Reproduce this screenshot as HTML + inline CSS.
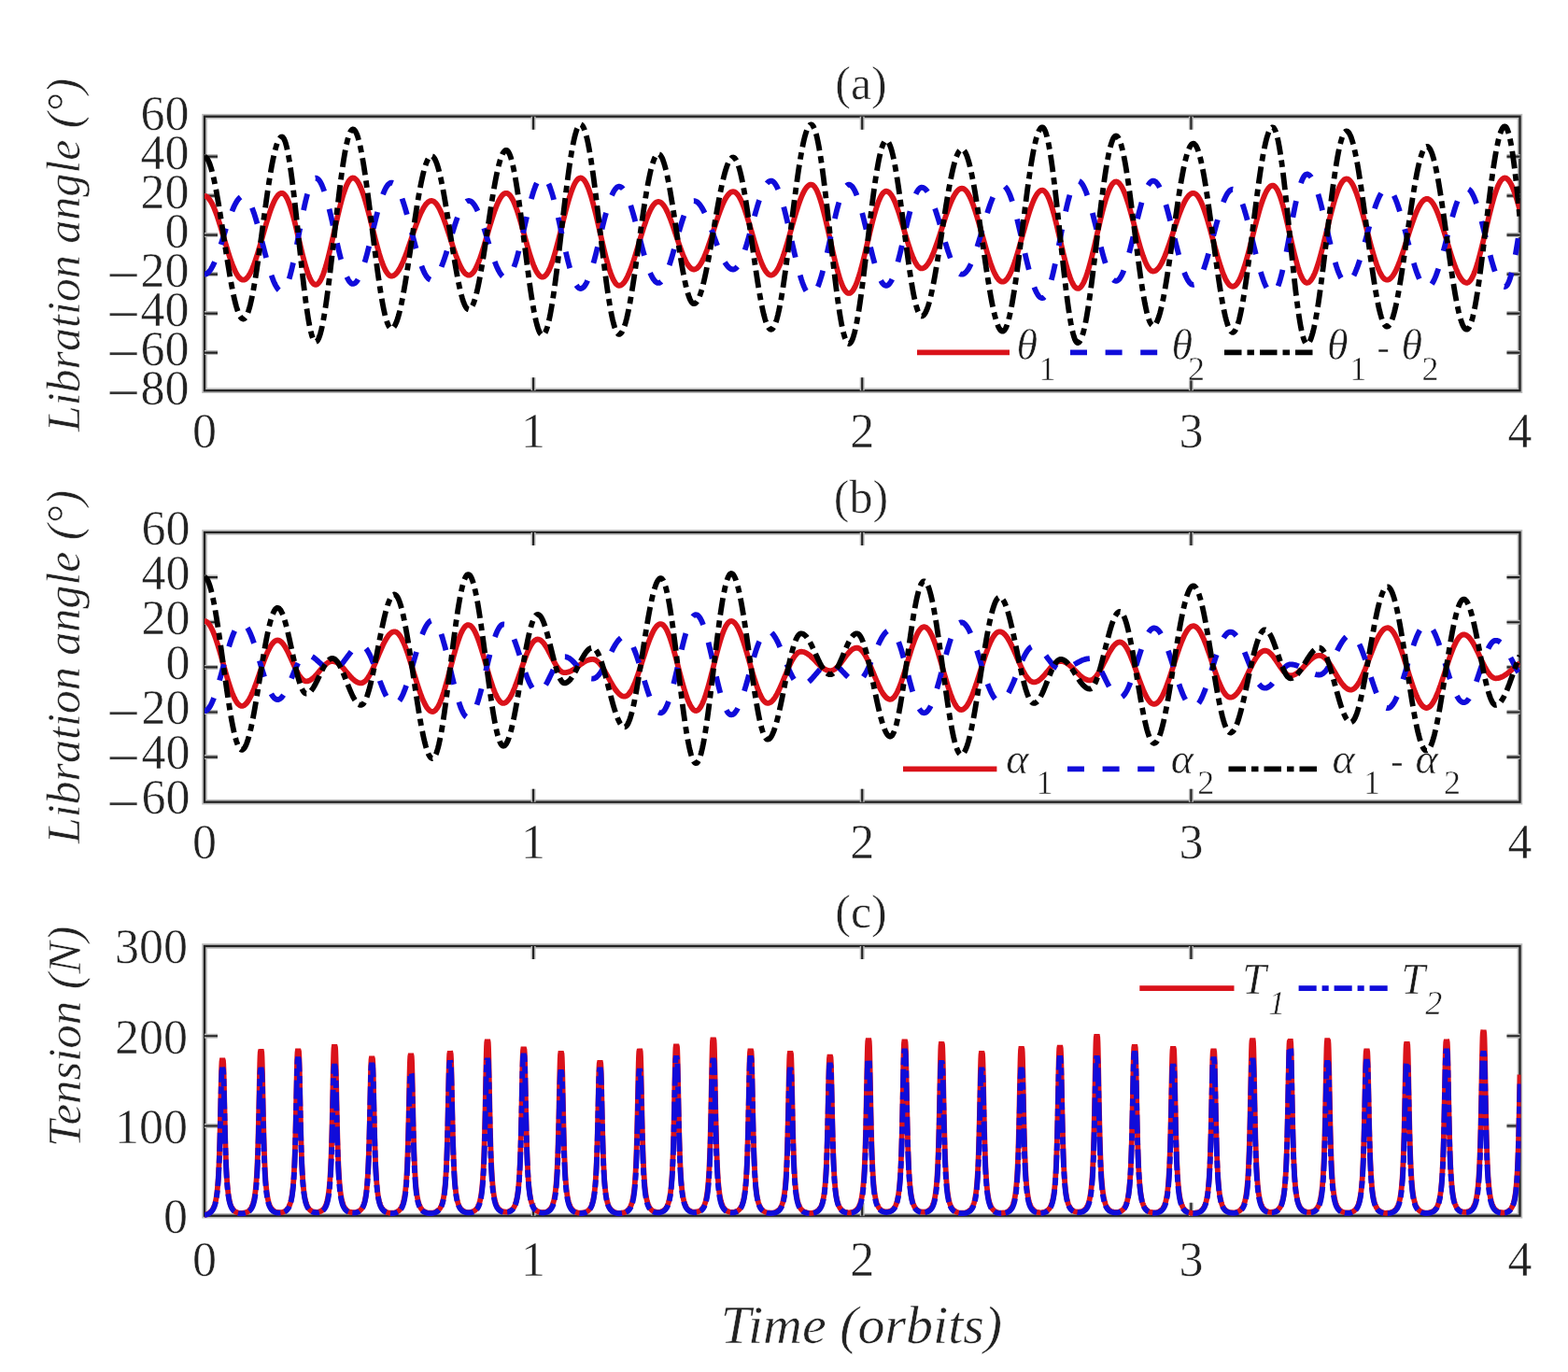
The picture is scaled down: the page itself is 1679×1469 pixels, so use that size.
<!DOCTYPE html>
<html><head><meta charset="utf-8"><title>Libration and tension</title>
<style>html,body{margin:0;padding:0;background:#fff;}svg{display:block;}</style>
</head><body>
<svg width="1679" height="1469" viewBox="0 0 1679 1469">
<rect width="1679" height="1469" fill="#fff"/>
<rect x="219.0" y="124.7" width="1408.5" height="293.5" fill="none" stroke="#bcbcbc" stroke-width="5.6"/>
<rect x="219.0" y="124.7" width="1408.5" height="293.5" fill="none" stroke="#222" stroke-width="2.3"/>
<path d="M571.1,124.7 v14.0 M571.1,418.2 v-14.0 M923.2,124.7 v14.0 M923.2,418.2 v-14.0 M1275.4,124.7 v14.0 M1275.4,418.2 v-14.0 M219.0,167.6 h14.0 M1627.5,167.6 h-14.0 M219.0,209.6 h14.0 M1627.5,209.6 h-14.0 M219.0,251.6 h14.0 M1627.5,251.6 h-14.0 M219.0,293.6 h14.0 M1627.5,293.6 h-14.0 M219.0,335.6 h14.0 M1627.5,335.6 h-14.0 M219.0,377.6 h14.0 M1627.5,377.6 h-14.0" stroke="#bcbcbc" stroke-width="5" fill="none"/>
<path d="M571.1,124.7 v14.0 M571.1,418.2 v-14.0 M923.2,124.7 v14.0 M923.2,418.2 v-14.0 M1275.4,124.7 v14.0 M1275.4,418.2 v-14.0 M219.0,167.6 h14.0 M1627.5,167.6 h-14.0 M219.0,209.6 h14.0 M1627.5,209.6 h-14.0 M219.0,251.6 h14.0 M1627.5,251.6 h-14.0 M219.0,293.6 h14.0 M1627.5,293.6 h-14.0 M219.0,335.6 h14.0 M1627.5,335.6 h-14.0 M219.0,377.6 h14.0 M1627.5,377.6 h-14.0" stroke="#222" stroke-width="2.1" fill="none"/>
<rect x="219.0" y="570.0" width="1408.5" height="288.7" fill="none" stroke="#bcbcbc" stroke-width="5.6"/>
<rect x="219.0" y="570.0" width="1408.5" height="288.7" fill="none" stroke="#222" stroke-width="2.3"/>
<path d="M571.1,570.0 v14.0 M571.1,858.7 v-14.0 M923.2,570.0 v14.0 M923.2,858.7 v-14.0 M1275.4,570.0 v14.0 M1275.4,858.7 v-14.0 M219.0,618.1 h14.0 M1627.5,618.1 h-14.0 M219.0,666.2 h14.0 M1627.5,666.2 h-14.0 M219.0,714.4 h14.0 M1627.5,714.4 h-14.0 M219.0,762.5 h14.0 M1627.5,762.5 h-14.0 M219.0,810.6 h14.0 M1627.5,810.6 h-14.0" stroke="#bcbcbc" stroke-width="5" fill="none"/>
<path d="M571.1,570.0 v14.0 M571.1,858.7 v-14.0 M923.2,570.0 v14.0 M923.2,858.7 v-14.0 M1275.4,570.0 v14.0 M1275.4,858.7 v-14.0 M219.0,618.1 h14.0 M1627.5,618.1 h-14.0 M219.0,666.2 h14.0 M1627.5,666.2 h-14.0 M219.0,714.4 h14.0 M1627.5,714.4 h-14.0 M219.0,762.5 h14.0 M1627.5,762.5 h-14.0 M219.0,810.6 h14.0 M1627.5,810.6 h-14.0" stroke="#222" stroke-width="2.1" fill="none"/>
<rect x="219.0" y="1013.0" width="1408.5" height="288.7" fill="none" stroke="#bcbcbc" stroke-width="5.6"/>
<rect x="219.0" y="1013.0" width="1408.5" height="288.7" fill="none" stroke="#222" stroke-width="2.3"/>
<path d="M571.1,1013.0 v14.0 M571.1,1301.7 v-14.0 M923.2,1013.0 v14.0 M923.2,1301.7 v-14.0 M1275.4,1013.0 v14.0 M1275.4,1301.7 v-14.0 M219.0,1109.2 h14.0 M1627.5,1109.2 h-14.0 M219.0,1205.5 h14.0 M1627.5,1205.5 h-14.0" stroke="#bcbcbc" stroke-width="5" fill="none"/>
<path d="M571.1,1013.0 v14.0 M571.1,1301.7 v-14.0 M923.2,1013.0 v14.0 M923.2,1301.7 v-14.0 M1275.4,1013.0 v14.0 M1275.4,1301.7 v-14.0 M219.0,1109.2 h14.0 M1627.5,1109.2 h-14.0 M219.0,1205.5 h14.0 M1627.5,1205.5 h-14.0" stroke="#222" stroke-width="2.1" fill="none"/>
<clipPath id="ca"><rect x="219.0" y="124.7" width="1408.5" height="293.5"/></clipPath>
<g clip-path="url(#ca)" fill="none" stroke-width="5.8" stroke-linejoin="round">
<path d="M219.0,209.9 L220.0,210.0 L221.0,210.4 L222.0,211.1 L223.0,211.9 L224.0,213.1 L225.0,214.5 L226.0,216.1 L227.0,217.9 L228.0,219.9 L229.0,222.2 L230.0,224.6 L231.0,227.2 L232.0,229.9 L233.0,232.8 L234.0,235.9 L235.0,239.0 L236.0,242.2 L237.0,245.5 L238.0,248.9 L239.0,252.3 L240.0,255.6 L241.0,259.0 L242.0,262.4 L243.0,265.7 L244.0,269.0 L245.0,272.2 L246.0,275.3 L247.0,278.2 L248.0,281.1 L249.0,283.7 L250.0,286.2 L251.0,288.6 L252.0,290.7 L253.0,292.7 L254.0,294.4 L255.0,295.9 L256.0,297.1 L257.0,298.1 L258.0,298.9 L259.0,299.4 L260.0,299.7 L261.0,299.7 L262.0,299.4 L263.0,298.9 L264.0,298.1 L265.0,297.0 L266.0,295.7 L267.0,294.1 L268.0,292.3 L269.0,290.3 L270.0,288.1 L271.0,285.7 L272.0,283.0 L273.0,280.2 L274.0,277.3 L275.0,274.2 L276.0,271.0 L277.0,267.7 L278.0,264.3 L279.0,260.8 L280.0,257.3 L281.0,253.8 L282.0,250.2 L283.0,246.7 L284.0,243.3 L285.0,239.8 L286.0,236.5 L287.0,233.3 L288.0,230.1 L289.0,227.1 L290.0,224.3 L291.0,221.6 L292.0,219.1 L293.0,216.8 L294.0,214.7 L295.0,212.9 L296.0,211.2 L297.0,209.9 L298.0,208.7 L299.0,207.8 L300.0,207.2 L301.0,206.9 L302.0,206.8 L303.0,207.1 L304.0,207.7 L305.0,208.7 L306.0,210.0 L307.0,211.7 L308.0,213.7 L309.0,216.1 L310.0,218.7 L311.0,221.6 L312.0,224.8 L313.0,228.2 L314.0,231.8 L315.0,235.6 L316.0,239.5 L317.0,243.6 L318.0,247.8 L319.0,252.0 L320.0,256.2 L321.0,260.5 L322.0,264.7 L323.0,268.8 L324.0,272.9 L325.0,276.8 L326.0,280.5 L327.0,284.1 L328.0,287.5 L329.0,290.6 L330.0,293.5 L331.0,296.0 L332.0,298.3 L333.0,300.3 L334.0,301.9 L335.0,303.1 L336.0,304.1 L337.0,304.6 L338.0,304.8 L339.0,304.6 L340.0,304.1 L341.0,303.2 L342.0,302.0 L343.0,300.4 L344.0,298.5 L345.0,296.3 L346.0,293.8 L347.0,291.0 L348.0,288.0 L349.0,284.7 L350.0,281.1 L351.0,277.4 L352.0,273.5 L353.0,269.4 L354.0,265.1 L355.0,260.8 L356.0,256.4 L357.0,251.9 L358.0,247.4 L359.0,242.9 L360.0,238.5 L361.0,234.1 L362.0,229.7 L363.0,225.5 L364.0,221.4 L365.0,217.5 L366.0,213.8 L367.0,210.3 L368.0,207.0 L369.0,204.0 L370.0,201.2 L371.0,198.7 L372.0,196.6 L373.0,194.7 L374.0,193.2 L375.0,192.0 L376.0,191.1 L377.0,190.6 L378.0,190.5 L379.0,190.7 L380.0,191.2 L381.0,192.0 L382.0,193.0 L383.0,194.4 L384.0,196.1 L385.0,198.0 L386.0,200.2 L387.0,202.6 L388.0,205.3 L389.0,208.1 L390.0,211.2 L391.0,214.5 L392.0,217.9 L393.0,221.5 L394.0,225.2 L395.0,229.0 L396.0,232.9 L397.0,236.9 L398.0,240.9 L399.0,244.8 L400.0,248.8 L401.0,252.8 L402.0,256.7 L403.0,260.5 L404.0,264.2 L405.0,267.8 L406.0,271.3 L407.0,274.5 L408.0,277.7 L409.0,280.6 L410.0,283.2 L411.0,285.7 L412.0,287.9 L413.0,289.9 L414.0,291.5 L415.0,292.9 L416.0,294.1 L417.0,294.9 L418.0,295.4 L419.0,295.6 L420.0,295.5 L421.0,295.2 L422.0,294.8 L423.0,294.0 L424.0,293.1 L425.0,292.0 L426.0,290.7 L427.0,289.2 L428.0,287.5 L429.0,285.6 L430.0,283.6 L431.0,281.4 L432.0,279.1 L433.0,276.6 L434.0,274.1 L435.0,271.4 L436.0,268.7 L437.0,265.8 L438.0,262.9 L439.0,260.0 L440.0,257.1 L441.0,254.1 L442.0,251.2 L443.0,248.2 L444.0,245.3 L445.0,242.5 L446.0,239.7 L447.0,237.1 L448.0,234.5 L449.0,232.0 L450.0,229.6 L451.0,227.4 L452.0,225.4 L453.0,223.5 L454.0,221.8 L455.0,220.2 L456.0,218.8 L457.0,217.7 L458.0,216.7 L459.0,216.0 L460.0,215.4 L461.0,215.1 L462.0,215.0 L463.0,215.1 L464.0,215.5 L465.0,216.1 L466.0,216.9 L467.0,218.0 L468.0,219.3 L469.0,220.9 L470.0,222.6 L471.0,224.5 L472.0,226.7 L473.0,229.0 L474.0,231.4 L475.0,234.0 L476.0,236.7 L477.0,239.6 L478.0,242.5 L479.0,245.5 L480.0,248.6 L481.0,251.7 L482.0,254.8 L483.0,257.9 L484.0,261.0 L485.0,264.1 L486.0,267.1 L487.0,270.0 L488.0,272.9 L489.0,275.6 L490.0,278.2 L491.0,280.6 L492.0,282.9 L493.0,285.1 L494.0,287.0 L495.0,288.7 L496.0,290.3 L497.0,291.6 L498.0,292.7 L499.0,293.5 L500.0,294.1 L501.0,294.5 L502.0,294.6 L503.0,294.5 L504.0,294.1 L505.0,293.4 L506.0,292.5 L507.0,291.3 L508.0,289.8 L509.0,288.1 L510.0,286.2 L511.0,284.1 L512.0,281.7 L513.0,279.2 L514.0,276.5 L515.0,273.6 L516.0,270.6 L517.0,267.5 L518.0,264.3 L519.0,260.9 L520.0,257.6 L521.0,254.1 L522.0,250.7 L523.0,247.3 L524.0,243.8 L525.0,240.5 L526.0,237.1 L527.0,233.9 L528.0,230.8 L529.0,227.8 L530.0,224.9 L531.0,222.2 L532.0,219.7 L533.0,217.3 L534.0,215.2 L535.0,213.3 L536.0,211.6 L537.0,210.1 L538.0,208.9 L539.0,208.0 L540.0,207.3 L541.0,206.9 L542.0,206.8 L543.0,206.9 L544.0,207.4 L545.0,208.1 L546.0,209.1 L547.0,210.4 L548.0,212.0 L549.0,213.8 L550.0,215.8 L551.0,218.1 L552.0,220.7 L553.0,223.4 L554.0,226.3 L555.0,229.4 L556.0,232.6 L557.0,235.9 L558.0,239.4 L559.0,242.9 L560.0,246.5 L561.0,250.1 L562.0,253.7 L563.0,257.3 L564.0,260.9 L565.0,264.4 L566.0,267.8 L567.0,271.2 L568.0,274.4 L569.0,277.4 L570.0,280.3 L571.0,283.0 L572.0,285.5 L573.0,287.8 L574.0,289.8 L575.0,291.6 L576.0,293.1 L577.0,294.4 L578.0,295.4 L579.0,296.1 L580.0,296.5 L581.0,296.6 L582.0,296.4 L583.0,295.9 L584.0,295.1 L585.0,294.0 L586.0,292.6 L587.0,290.9 L588.0,288.9 L589.0,286.6 L590.0,284.1 L591.0,281.3 L592.0,278.4 L593.0,275.2 L594.0,271.8 L595.0,268.3 L596.0,264.6 L597.0,260.8 L598.0,256.9 L599.0,252.9 L600.0,248.9 L601.0,244.8 L602.0,240.7 L603.0,236.6 L604.0,232.6 L605.0,228.6 L606.0,224.8 L607.0,221.0 L608.0,217.4 L609.0,213.9 L610.0,210.6 L611.0,207.5 L612.0,204.6 L613.0,202.0 L614.0,199.6 L615.0,197.4 L616.0,195.5 L617.0,193.9 L618.0,192.6 L619.0,191.6 L620.0,191.0 L621.0,190.6 L622.0,190.5 L623.0,190.8 L624.0,191.4 L625.0,192.3 L626.0,193.6 L627.0,195.1 L628.0,197.0 L629.0,199.2 L630.0,201.6 L631.0,204.3 L632.0,207.3 L633.0,210.5 L634.0,213.9 L635.0,217.6 L636.0,221.4 L637.0,225.3 L638.0,229.4 L639.0,233.6 L640.0,237.9 L641.0,242.2 L642.0,246.6 L643.0,251.0 L644.0,255.4 L645.0,259.7 L646.0,264.0 L647.0,268.1 L648.0,272.2 L649.0,276.1 L650.0,279.8 L651.0,283.4 L652.0,286.8 L653.0,289.9 L654.0,292.8 L655.0,295.5 L656.0,297.8 L657.0,299.9 L658.0,301.7 L659.0,303.2 L660.0,304.3 L661.0,305.1 L662.0,305.6 L663.0,305.8 L664.0,305.7 L665.0,305.3 L666.0,304.7 L667.0,303.8 L668.0,302.7 L669.0,301.4 L670.0,299.8 L671.0,298.0 L672.0,296.0 L673.0,293.8 L674.0,291.4 L675.0,288.9 L676.0,286.2 L677.0,283.4 L678.0,280.4 L679.0,277.3 L680.0,274.1 L681.0,270.9 L682.0,267.6 L683.0,264.3 L684.0,260.9 L685.0,257.5 L686.0,254.2 L687.0,250.9 L688.0,247.7 L689.0,244.5 L690.0,241.4 L691.0,238.5 L692.0,235.6 L693.0,232.9 L694.0,230.4 L695.0,228.0 L696.0,225.8 L697.0,223.8 L698.0,222.0 L699.0,220.4 L700.0,219.1 L701.0,218.0 L702.0,217.1 L703.0,216.5 L704.0,216.1 L705.0,216.0 L706.0,216.1 L707.0,216.5 L708.0,217.1 L709.0,218.0 L710.0,219.1 L711.0,220.4 L712.0,221.9 L713.0,223.6 L714.0,225.6 L715.0,227.7 L716.0,230.0 L717.0,232.4 L718.0,235.0 L719.0,237.7 L720.0,240.5 L721.0,243.4 L722.0,246.3 L723.0,249.3 L724.0,252.2 L725.0,255.2 L726.0,258.2 L727.0,261.1 L728.0,264.0 L729.0,266.8 L730.0,269.5 L731.0,272.1 L732.0,274.5 L733.0,276.8 L734.0,278.9 L735.0,280.9 L736.0,282.6 L737.0,284.1 L738.0,285.4 L739.0,286.5 L740.0,287.4 L741.0,288.0 L742.0,288.4 L743.0,288.5 L744.0,288.4 L745.0,288.0 L746.0,287.5 L747.0,286.6 L748.0,285.6 L749.0,284.4 L750.0,282.9 L751.0,281.3 L752.0,279.4 L753.0,277.4 L754.0,275.2 L755.0,272.8 L756.0,270.3 L757.0,267.7 L758.0,264.9 L759.0,262.1 L760.0,259.1 L761.0,256.1 L762.0,253.1 L763.0,250.0 L764.0,246.8 L765.0,243.7 L766.0,240.6 L767.0,237.6 L768.0,234.6 L769.0,231.6 L770.0,228.8 L771.0,226.0 L772.0,223.4 L773.0,220.9 L774.0,218.5 L775.0,216.3 L776.0,214.3 L777.0,212.4 L778.0,210.8 L779.0,209.3 L780.0,208.1 L781.0,207.1 L782.0,206.2 L783.0,205.7 L784.0,205.3 L785.0,205.2 L786.0,205.3 L787.0,205.7 L788.0,206.4 L789.0,207.3 L790.0,208.5 L791.0,209.9 L792.0,211.6 L793.0,213.5 L794.0,215.6 L795.0,217.9 L796.0,220.4 L797.0,223.1 L798.0,226.0 L799.0,229.0 L800.0,232.1 L801.0,235.3 L802.0,238.6 L803.0,242.0 L804.0,245.4 L805.0,248.9 L806.0,252.3 L807.0,255.8 L808.0,259.2 L809.0,262.5 L810.0,265.8 L811.0,269.0 L812.0,272.1 L813.0,275.0 L814.0,277.8 L815.0,280.4 L816.0,282.8 L817.0,285.1 L818.0,287.1 L819.0,288.9 L820.0,290.5 L821.0,291.8 L822.0,292.9 L823.0,293.7 L824.0,294.3 L825.0,294.6 L826.0,294.6 L827.0,294.3 L828.0,293.9 L829.0,293.1 L830.0,292.1 L831.0,290.9 L832.0,289.4 L833.0,287.7 L834.0,285.7 L835.0,283.6 L836.0,281.2 L837.0,278.7 L838.0,275.9 L839.0,273.1 L840.0,270.0 L841.0,266.9 L842.0,263.6 L843.0,260.3 L844.0,256.8 L845.0,253.4 L846.0,249.8 L847.0,246.3 L848.0,242.7 L849.0,239.2 L850.0,235.7 L851.0,232.3 L852.0,228.9 L853.0,225.6 L854.0,222.5 L855.0,219.4 L856.0,216.5 L857.0,213.8 L858.0,211.2 L859.0,208.9 L860.0,206.7 L861.0,204.7 L862.0,203.0 L863.0,201.5 L864.0,200.2 L865.0,199.2 L866.0,198.4 L867.0,197.9 L868.0,197.6 L869.0,197.6 L870.0,198.0 L871.0,198.7 L872.0,199.7 L873.0,201.1 L874.0,202.8 L875.0,204.8 L876.0,207.2 L877.0,209.8 L878.0,212.7 L879.0,215.9 L880.0,219.3 L881.0,222.9 L882.0,226.7 L883.0,230.7 L884.0,234.8 L885.0,239.1 L886.0,243.5 L887.0,247.9 L888.0,252.4 L889.0,256.9 L890.0,261.4 L891.0,265.9 L892.0,270.3 L893.0,274.6 L894.0,278.9 L895.0,282.9 L896.0,286.8 L897.0,290.6 L898.0,294.1 L899.0,297.4 L900.0,300.4 L901.0,303.1 L902.0,305.6 L903.0,307.8 L904.0,309.7 L905.0,311.2 L906.0,312.4 L907.0,313.3 L908.0,313.8 L909.0,314.0 L910.0,313.8 L911.0,313.3 L912.0,312.5 L913.0,311.3 L914.0,309.8 L915.0,308.0 L916.0,305.9 L917.0,303.6 L918.0,300.9 L919.0,298.0 L920.0,294.8 L921.0,291.5 L922.0,287.9 L923.0,284.2 L924.0,280.3 L925.0,276.2 L926.0,272.1 L927.0,267.9 L928.0,263.6 L929.0,259.4 L930.0,255.1 L931.0,250.8 L932.0,246.6 L933.0,242.5 L934.0,238.4 L935.0,234.5 L936.0,230.8 L937.0,227.2 L938.0,223.9 L939.0,220.7 L940.0,217.8 L941.0,215.1 L942.0,212.8 L943.0,210.7 L944.0,208.9 L945.0,207.4 L946.0,206.2 L947.0,205.4 L948.0,204.9 L949.0,204.7 L950.0,204.8 L951.0,205.3 L952.0,206.0 L953.0,206.9 L954.0,208.2 L955.0,209.7 L956.0,211.4 L957.0,213.4 L958.0,215.6 L959.0,218.0 L960.0,220.7 L961.0,223.4 L962.0,226.4 L963.0,229.4 L964.0,232.6 L965.0,235.9 L966.0,239.2 L967.0,242.6 L968.0,246.0 L969.0,249.5 L970.0,252.9 L971.0,256.2 L972.0,259.5 L973.0,262.7 L974.0,265.7 L975.0,268.7 L976.0,271.4 L977.0,274.1 L978.0,276.5 L979.0,278.7 L980.0,280.7 L981.0,282.4 L982.0,283.9 L983.0,285.2 L984.0,286.1 L985.0,286.8 L986.0,287.3 L987.0,287.4 L988.0,287.3 L989.0,286.9 L990.0,286.4 L991.0,285.6 L992.0,284.6 L993.0,283.3 L994.0,281.9 L995.0,280.3 L996.0,278.5 L997.0,276.5 L998.0,274.3 L999.0,272.0 L1000.0,269.5 L1001.0,266.9 L1002.0,264.1 L1003.0,261.3 L1004.0,258.4 L1005.0,255.4 L1006.0,252.3 L1007.0,249.2 L1008.0,246.1 L1009.0,243.0 L1010.0,239.9 L1011.0,236.8 L1012.0,233.7 L1013.0,230.7 L1014.0,227.8 L1015.0,225.0 L1016.0,222.2 L1017.0,219.6 L1018.0,217.1 L1019.0,214.8 L1020.0,212.6 L1021.0,210.6 L1022.0,208.8 L1023.0,207.2 L1024.0,205.8 L1025.0,204.5 L1026.0,203.5 L1027.0,202.7 L1028.0,202.2 L1029.0,201.8 L1030.0,201.7 L1031.0,201.8 L1032.0,202.2 L1033.0,202.9 L1034.0,203.8 L1035.0,204.9 L1036.0,206.3 L1037.0,208.0 L1038.0,209.8 L1039.0,211.9 L1040.0,214.2 L1041.0,216.7 L1042.0,219.3 L1043.0,222.2 L1044.0,225.2 L1045.0,228.3 L1046.0,231.5 L1047.0,234.9 L1048.0,238.3 L1049.0,241.8 L1050.0,245.4 L1051.0,249.0 L1052.0,252.6 L1053.0,256.2 L1054.0,259.8 L1055.0,263.3 L1056.0,266.8 L1057.0,270.2 L1058.0,273.5 L1059.0,276.7 L1060.0,279.8 L1061.0,282.7 L1062.0,285.4 L1063.0,288.0 L1064.0,290.4 L1065.0,292.6 L1066.0,294.5 L1067.0,296.3 L1068.0,297.8 L1069.0,299.1 L1070.0,300.1 L1071.0,300.9 L1072.0,301.4 L1073.0,301.7 L1074.0,301.7 L1075.0,301.4 L1076.0,300.9 L1077.0,300.1 L1078.0,299.0 L1079.0,297.7 L1080.0,296.2 L1081.0,294.4 L1082.0,292.3 L1083.0,290.1 L1084.0,287.7 L1085.0,285.0 L1086.0,282.2 L1087.0,279.3 L1088.0,276.1 L1089.0,272.9 L1090.0,269.6 L1091.0,266.1 L1092.0,262.6 L1093.0,259.0 L1094.0,255.4 L1095.0,251.8 L1096.0,248.2 L1097.0,244.6 L1098.0,241.0 L1099.0,237.6 L1100.0,234.2 L1101.0,230.9 L1102.0,227.7 L1103.0,224.6 L1104.0,221.7 L1105.0,219.0 L1106.0,216.5 L1107.0,214.1 L1108.0,212.0 L1109.0,210.1 L1110.0,208.4 L1111.0,207.0 L1112.0,205.8 L1113.0,204.9 L1114.0,204.2 L1115.0,203.8 L1116.0,203.7 L1117.0,203.9 L1118.0,204.4 L1119.0,205.3 L1120.0,206.5 L1121.0,208.1 L1122.0,210.0 L1123.0,212.2 L1124.0,214.7 L1125.0,217.5 L1126.0,220.6 L1127.0,223.9 L1128.0,227.4 L1129.0,231.1 L1130.0,235.0 L1131.0,239.1 L1132.0,243.2 L1133.0,247.5 L1134.0,251.8 L1135.0,256.1 L1136.0,260.4 L1137.0,264.7 L1138.0,269.0 L1139.0,273.1 L1140.0,277.2 L1141.0,281.1 L1142.0,284.8 L1143.0,288.4 L1144.0,291.7 L1145.0,294.8 L1146.0,297.6 L1147.0,300.1 L1148.0,302.4 L1149.0,304.3 L1150.0,305.9 L1151.0,307.2 L1152.0,308.1 L1153.0,308.7 L1154.0,308.9 L1155.0,308.8 L1156.0,308.3 L1157.0,307.5 L1158.0,306.4 L1159.0,304.9 L1160.0,303.1 L1161.0,301.1 L1162.0,298.7 L1163.0,296.0 L1164.0,293.1 L1165.0,290.0 L1166.0,286.6 L1167.0,283.0 L1168.0,279.3 L1169.0,275.4 L1170.0,271.3 L1171.0,267.1 L1172.0,262.8 L1173.0,258.5 L1174.0,254.1 L1175.0,249.7 L1176.0,245.3 L1177.0,241.0 L1178.0,236.7 L1179.0,232.5 L1180.0,228.4 L1181.0,224.5 L1182.0,220.7 L1183.0,217.1 L1184.0,213.7 L1185.0,210.6 L1186.0,207.6 L1187.0,205.0 L1188.0,202.6 L1189.0,200.5 L1190.0,198.7 L1191.0,197.2 L1192.0,196.0 L1193.0,195.2 L1194.0,194.7 L1195.0,194.5 L1196.0,194.6 L1197.0,195.1 L1198.0,195.8 L1199.0,196.9 L1200.0,198.2 L1201.0,199.8 L1202.0,201.6 L1203.0,203.8 L1204.0,206.1 L1205.0,208.7 L1206.0,211.5 L1207.0,214.5 L1208.0,217.6 L1209.0,220.9 L1210.0,224.4 L1211.0,228.0 L1212.0,231.6 L1213.0,235.3 L1214.0,239.1 L1215.0,242.9 L1216.0,246.7 L1217.0,250.4 L1218.0,254.1 L1219.0,257.8 L1220.0,261.3 L1221.0,264.7 L1222.0,268.0 L1223.0,271.1 L1224.0,274.1 L1225.0,276.8 L1226.0,279.4 L1227.0,281.7 L1228.0,283.7 L1229.0,285.6 L1230.0,287.1 L1231.0,288.4 L1232.0,289.3 L1233.0,290.0 L1234.0,290.4 L1235.0,290.5 L1236.0,290.3 L1237.0,290.0 L1238.0,289.4 L1239.0,288.5 L1240.0,287.5 L1241.0,286.3 L1242.0,284.8 L1243.0,283.2 L1244.0,281.4 L1245.0,279.4 L1246.0,277.2 L1247.0,274.9 L1248.0,272.4 L1249.0,269.8 L1250.0,267.1 L1251.0,264.3 L1252.0,261.5 L1253.0,258.5 L1254.0,255.5 L1255.0,252.5 L1256.0,249.4 L1257.0,246.4 L1258.0,243.3 L1259.0,240.3 L1260.0,237.3 L1261.0,234.4 L1262.0,231.5 L1263.0,228.8 L1264.0,226.2 L1265.0,223.6 L1266.0,221.2 L1267.0,219.0 L1268.0,216.9 L1269.0,215.0 L1270.0,213.3 L1271.0,211.7 L1272.0,210.4 L1273.0,209.3 L1274.0,208.3 L1275.0,207.6 L1276.0,207.1 L1277.0,206.9 L1278.0,206.8 L1279.0,207.0 L1280.0,207.5 L1281.0,208.3 L1282.0,209.3 L1283.0,210.6 L1284.0,212.2 L1285.0,214.0 L1286.0,216.0 L1287.0,218.3 L1288.0,220.7 L1289.0,223.4 L1290.0,226.3 L1291.0,229.3 L1292.0,232.4 L1293.0,235.8 L1294.0,239.2 L1295.0,242.7 L1296.0,246.3 L1297.0,250.0 L1298.0,253.6 L1299.0,257.4 L1300.0,261.1 L1301.0,264.8 L1302.0,268.4 L1303.0,272.0 L1304.0,275.5 L1305.0,278.9 L1306.0,282.1 L1307.0,285.3 L1308.0,288.2 L1309.0,291.0 L1310.0,293.6 L1311.0,296.0 L1312.0,298.2 L1313.0,300.2 L1314.0,301.9 L1315.0,303.4 L1316.0,304.6 L1317.0,305.6 L1318.0,306.2 L1319.0,306.7 L1320.0,306.8 L1321.0,306.7 L1322.0,306.2 L1323.0,305.5 L1324.0,304.5 L1325.0,303.2 L1326.0,301.6 L1327.0,299.8 L1328.0,297.7 L1329.0,295.4 L1330.0,292.8 L1331.0,290.0 L1332.0,287.0 L1333.0,283.9 L1334.0,280.6 L1335.0,277.1 L1336.0,273.4 L1337.0,269.7 L1338.0,265.9 L1339.0,262.0 L1340.0,258.1 L1341.0,254.1 L1342.0,250.1 L1343.0,246.1 L1344.0,242.2 L1345.0,238.3 L1346.0,234.6 L1347.0,230.9 L1348.0,227.3 L1349.0,223.8 L1350.0,220.5 L1351.0,217.4 L1352.0,214.5 L1353.0,211.8 L1354.0,209.3 L1355.0,207.1 L1356.0,205.0 L1357.0,203.3 L1358.0,201.8 L1359.0,200.6 L1360.0,199.7 L1361.0,199.0 L1362.0,198.7 L1363.0,198.6 L1364.0,198.9 L1365.0,199.6 L1366.0,200.7 L1367.0,202.1 L1368.0,203.8 L1369.0,206.0 L1370.0,208.4 L1371.0,211.1 L1372.0,214.2 L1373.0,217.5 L1374.0,221.0 L1375.0,224.8 L1376.0,228.7 L1377.0,232.8 L1378.0,237.1 L1379.0,241.4 L1380.0,245.8 L1381.0,250.3 L1382.0,254.7 L1383.0,259.1 L1384.0,263.5 L1385.0,267.7 L1386.0,271.9 L1387.0,275.8 L1388.0,279.6 L1389.0,283.2 L1390.0,286.6 L1391.0,289.7 L1392.0,292.5 L1393.0,295.0 L1394.0,297.2 L1395.0,299.0 L1396.0,300.5 L1397.0,301.6 L1398.0,302.4 L1399.0,302.8 L1400.0,302.8 L1401.0,302.5 L1402.0,301.8 L1403.0,300.9 L1404.0,299.7 L1405.0,298.2 L1406.0,296.4 L1407.0,294.4 L1408.0,292.1 L1409.0,289.5 L1410.0,286.7 L1411.0,283.7 L1412.0,280.5 L1413.0,277.1 L1414.0,273.5 L1415.0,269.8 L1416.0,266.0 L1417.0,262.1 L1418.0,258.0 L1419.0,254.0 L1420.0,249.8 L1421.0,245.7 L1422.0,241.6 L1423.0,237.5 L1424.0,233.4 L1425.0,229.5 L1426.0,225.6 L1427.0,221.9 L1428.0,218.3 L1429.0,214.8 L1430.0,211.5 L1431.0,208.5 L1432.0,205.6 L1433.0,203.0 L1434.0,200.6 L1435.0,198.4 L1436.0,196.6 L1437.0,195.0 L1438.0,193.7 L1439.0,192.7 L1440.0,192.0 L1441.0,191.6 L1442.0,191.5 L1443.0,191.7 L1444.0,192.2 L1445.0,192.9 L1446.0,194.0 L1447.0,195.3 L1448.0,196.9 L1449.0,198.7 L1450.0,200.8 L1451.0,203.1 L1452.0,205.6 L1453.0,208.3 L1454.0,211.3 L1455.0,214.4 L1456.0,217.7 L1457.0,221.1 L1458.0,224.6 L1459.0,228.3 L1460.0,232.0 L1461.0,235.9 L1462.0,239.7 L1463.0,243.6 L1464.0,247.6 L1465.0,251.5 L1466.0,255.3 L1467.0,259.2 L1468.0,262.9 L1469.0,266.6 L1470.0,270.1 L1471.0,273.5 L1472.0,276.8 L1473.0,279.9 L1474.0,282.9 L1475.0,285.6 L1476.0,288.1 L1477.0,290.4 L1478.0,292.5 L1479.0,294.3 L1480.0,295.9 L1481.0,297.2 L1482.0,298.3 L1483.0,299.0 L1484.0,299.5 L1485.0,299.7 L1486.0,299.6 L1487.0,299.3 L1488.0,298.8 L1489.0,298.0 L1490.0,297.0 L1491.0,295.8 L1492.0,294.4 L1493.0,292.8 L1494.0,291.0 L1495.0,288.9 L1496.0,286.8 L1497.0,284.4 L1498.0,281.9 L1499.0,279.3 L1500.0,276.5 L1501.0,273.6 L1502.0,270.7 L1503.0,267.6 L1504.0,264.5 L1505.0,261.4 L1506.0,258.2 L1507.0,255.0 L1508.0,251.8 L1509.0,248.7 L1510.0,245.6 L1511.0,242.5 L1512.0,239.5 L1513.0,236.7 L1514.0,233.9 L1515.0,231.2 L1516.0,228.7 L1517.0,226.3 L1518.0,224.1 L1519.0,222.0 L1520.0,220.2 L1521.0,218.5 L1522.0,217.0 L1523.0,215.8 L1524.0,214.8 L1525.0,213.9 L1526.0,213.4 L1527.0,213.0 L1528.0,212.9 L1529.0,213.0 L1530.0,213.4 L1531.0,214.0 L1532.0,214.9 L1533.0,215.9 L1534.0,217.2 L1535.0,218.8 L1536.0,220.5 L1537.0,222.5 L1538.0,224.6 L1539.0,227.0 L1540.0,229.5 L1541.0,232.1 L1542.0,234.9 L1543.0,237.8 L1544.0,240.8 L1545.0,244.0 L1546.0,247.2 L1547.0,250.4 L1548.0,253.7 L1549.0,257.0 L1550.0,260.3 L1551.0,263.6 L1552.0,266.9 L1553.0,270.2 L1554.0,273.3 L1555.0,276.4 L1556.0,279.4 L1557.0,282.2 L1558.0,284.9 L1559.0,287.5 L1560.0,289.9 L1561.0,292.2 L1562.0,294.2 L1563.0,296.1 L1564.0,297.7 L1565.0,299.1 L1566.0,300.3 L1567.0,301.3 L1568.0,302.0 L1569.0,302.5 L1570.0,302.8 L1571.0,302.8 L1572.0,302.4 L1573.0,301.8 L1574.0,300.8 L1575.0,299.5 L1576.0,297.8 L1577.0,295.9 L1578.0,293.7 L1579.0,291.2 L1580.0,288.4 L1581.0,285.4 L1582.0,282.2 L1583.0,278.7 L1584.0,275.1 L1585.0,271.3 L1586.0,267.3 L1587.0,263.3 L1588.0,259.1 L1589.0,254.8 L1590.0,250.5 L1591.0,246.2 L1592.0,241.9 L1593.0,237.6 L1594.0,233.4 L1595.0,229.2 L1596.0,225.2 L1597.0,221.2 L1598.0,217.5 L1599.0,213.9 L1600.0,210.4 L1601.0,207.3 L1602.0,204.3 L1603.0,201.6 L1604.0,199.1 L1605.0,197.0 L1606.0,195.1 L1607.0,193.5 L1608.0,192.3 L1609.0,191.4 L1610.0,190.8 L1611.0,190.5 L1612.0,190.6 L1613.0,190.9 L1614.0,191.6 L1615.0,192.6 L1616.0,193.8 L1617.0,195.3 L1618.0,197.1 L1619.0,199.2 L1620.0,201.5 L1621.0,204.1 L1622.0,206.8 L1623.0,209.8 L1624.0,213.0 L1625.0,216.3 L1626.0,219.8 L1627.0,223.4 L1627.5,225.3" stroke="rgb(218,18,26)"/>
<path d="M219.0,293.7 L220.0,293.6 L221.0,293.2 L222.0,292.6 L223.0,291.8 L224.0,290.7 L225.0,289.5 L226.0,288.0 L227.0,286.2 L228.0,284.3 L229.0,282.3 L230.0,280.0 L231.0,277.6 L232.0,275.0 L233.0,272.3 L234.0,269.5 L235.0,266.5 L236.0,263.5 L237.0,260.5 L238.0,257.3 L239.0,254.2 L240.0,251.0 L241.0,247.8 L242.0,244.7 L243.0,241.6 L244.0,238.6 L245.0,235.6 L246.0,232.7 L247.0,229.9 L248.0,227.3 L249.0,224.8 L250.0,222.5 L251.0,220.3 L252.0,218.3 L253.0,216.5 L254.0,214.9 L255.0,213.5 L256.0,212.3 L257.0,211.4 L258.0,210.6 L259.0,210.2 L260.0,209.9 L261.0,209.9 L262.0,210.2 L263.0,210.8 L264.0,211.7 L265.0,212.9 L266.0,214.3 L267.0,216.0 L268.0,218.0 L269.0,220.2 L270.0,222.7 L271.0,225.4 L272.0,228.2 L273.0,231.3 L274.0,234.6 L275.0,238.0 L276.0,241.5 L277.0,245.1 L278.0,248.9 L279.0,252.7 L280.0,256.5 L281.0,260.4 L282.0,264.3 L283.0,268.2 L284.0,272.0 L285.0,275.8 L286.0,279.4 L287.0,283.0 L288.0,286.4 L289.0,289.7 L290.0,292.9 L291.0,295.8 L292.0,298.5 L293.0,301.1 L294.0,303.4 L295.0,305.4 L296.0,307.2 L297.0,308.7 L298.0,310.0 L299.0,310.9 L300.0,311.6 L301.0,312.0 L302.0,312.1 L303.0,311.8 L304.0,311.0 L305.0,309.8 L306.0,308.1 L307.0,306.0 L308.0,303.5 L309.0,300.6 L310.0,297.4 L311.0,293.7 L312.0,289.8 L313.0,285.6 L314.0,281.1 L315.0,276.4 L316.0,271.5 L317.0,266.5 L318.0,261.3 L319.0,256.1 L320.0,250.8 L321.0,245.6 L322.0,240.3 L323.0,235.2 L324.0,230.2 L325.0,225.3 L326.0,220.7 L327.0,216.2 L328.0,212.1 L329.0,208.2 L330.0,204.7 L331.0,201.5 L332.0,198.7 L333.0,196.2 L334.0,194.2 L335.0,192.6 L336.0,191.5 L337.0,190.8 L338.0,190.6 L339.0,190.8 L340.0,191.3 L341.0,192.2 L342.0,193.4 L343.0,194.9 L344.0,196.8 L345.0,199.0 L346.0,201.5 L347.0,204.2 L348.0,207.3 L349.0,210.6 L350.0,214.1 L351.0,217.8 L352.0,221.7 L353.0,225.7 L354.0,229.9 L355.0,234.2 L356.0,238.6 L357.0,243.0 L358.0,247.5 L359.0,251.9 L360.0,256.4 L361.0,260.7 L362.0,265.0 L363.0,269.2 L364.0,273.2 L365.0,277.1 L366.0,280.8 L367.0,284.3 L368.0,287.5 L369.0,290.6 L370.0,293.3 L371.0,295.7 L372.0,297.9 L373.0,299.7 L374.0,301.3 L375.0,302.4 L376.0,303.3 L377.0,303.8 L378.0,303.9 L379.0,303.7 L380.0,303.2 L381.0,302.4 L382.0,301.3 L383.0,299.9 L384.0,298.2 L385.0,296.2 L386.0,293.9 L387.0,291.4 L388.0,288.7 L389.0,285.7 L390.0,282.5 L391.0,279.2 L392.0,275.6 L393.0,271.9 L394.0,268.1 L395.0,264.2 L396.0,260.2 L397.0,256.1 L398.0,252.0 L399.0,247.9 L400.0,243.8 L401.0,239.7 L402.0,235.7 L403.0,231.8 L404.0,227.9 L405.0,224.2 L406.0,220.7 L407.0,217.3 L408.0,214.1 L409.0,211.1 L410.0,208.3 L411.0,205.8 L412.0,203.5 L413.0,201.5 L414.0,199.8 L415.0,198.3 L416.0,197.2 L417.0,196.4 L418.0,195.8 L419.0,195.6 L420.0,195.7 L421.0,196.1 L422.0,196.7 L423.0,197.6 L424.0,198.8 L425.0,200.3 L426.0,202.0 L427.0,203.9 L428.0,206.1 L429.0,208.5 L430.0,211.1 L431.0,214.0 L432.0,217.0 L433.0,220.1 L434.0,223.4 L435.0,226.9 L436.0,230.4 L437.0,234.1 L438.0,237.8 L439.0,241.6 L440.0,245.4 L441.0,249.2 L442.0,253.0 L443.0,256.8 L444.0,260.6 L445.0,264.2 L446.0,267.8 L447.0,271.3 L448.0,274.6 L449.0,277.8 L450.0,280.9 L451.0,283.7 L452.0,286.4 L453.0,288.8 L454.0,291.1 L455.0,293.1 L456.0,294.8 L457.0,296.3 L458.0,297.6 L459.0,298.5 L460.0,299.2 L461.0,299.7 L462.0,299.8 L463.0,299.7 L464.0,299.3 L465.0,298.6 L466.0,297.7 L467.0,296.6 L468.0,295.2 L469.0,293.6 L470.0,291.7 L471.0,289.6 L472.0,287.4 L473.0,284.9 L474.0,282.3 L475.0,279.6 L476.0,276.6 L477.0,273.6 L478.0,270.5 L479.0,267.3 L480.0,264.0 L481.0,260.7 L482.0,257.4 L483.0,254.1 L484.0,250.8 L485.0,247.5 L486.0,244.3 L487.0,241.2 L488.0,238.2 L489.0,235.2 L490.0,232.5 L491.0,229.9 L492.0,227.4 L493.0,225.2 L494.0,223.1 L495.0,221.2 L496.0,219.6 L497.0,218.2 L498.0,217.1 L499.0,216.2 L500.0,215.5 L501.0,215.1 L502.0,215.0 L503.0,215.1 L504.0,215.5 L505.0,216.1 L506.0,217.0 L507.0,218.2 L508.0,219.5 L509.0,221.1 L510.0,222.9 L511.0,224.9 L512.0,227.1 L513.0,229.5 L514.0,232.1 L515.0,234.8 L516.0,237.6 L517.0,240.6 L518.0,243.6 L519.0,246.7 L520.0,249.9 L521.0,253.2 L522.0,256.4 L523.0,259.6 L524.0,262.9 L525.0,266.1 L526.0,269.2 L527.0,272.2 L528.0,275.2 L529.0,278.0 L530.0,280.7 L531.0,283.3 L532.0,285.7 L533.0,287.9 L534.0,289.9 L535.0,291.7 L536.0,293.3 L537.0,294.6 L538.0,295.8 L539.0,296.7 L540.0,297.3 L541.0,297.7 L542.0,297.8 L543.0,297.6 L544.0,297.1 L545.0,296.2 L546.0,295.0 L547.0,293.4 L548.0,291.6 L549.0,289.4 L550.0,286.9 L551.0,284.1 L552.0,281.1 L553.0,277.8 L554.0,274.3 L555.0,270.6 L556.0,266.7 L557.0,262.7 L558.0,258.5 L559.0,254.3 L560.0,250.0 L561.0,245.6 L562.0,241.2 L563.0,236.9 L564.0,232.6 L565.0,228.3 L566.0,224.2 L567.0,220.2 L568.0,216.3 L569.0,212.6 L570.0,209.2 L571.0,205.9 L572.0,202.9 L573.0,200.2 L574.0,197.7 L575.0,195.5 L576.0,193.7 L577.0,192.2 L578.0,191.0 L579.0,190.1 L580.0,189.6 L581.0,189.5 L582.0,189.7 L583.0,190.3 L584.0,191.2 L585.0,192.5 L586.0,194.0 L587.0,196.0 L588.0,198.2 L589.0,200.7 L590.0,203.6 L591.0,206.7 L592.0,210.0 L593.0,213.6 L594.0,217.4 L595.0,221.4 L596.0,225.5 L597.0,229.8 L598.0,234.2 L599.0,238.7 L600.0,243.3 L601.0,247.9 L602.0,252.5 L603.0,257.0 L604.0,261.6 L605.0,266.0 L606.0,270.4 L607.0,274.6 L608.0,278.7 L609.0,282.6 L610.0,286.3 L611.0,289.8 L612.0,293.1 L613.0,296.1 L614.0,298.8 L615.0,301.2 L616.0,303.3 L617.0,305.1 L618.0,306.6 L619.0,307.7 L620.0,308.5 L621.0,308.9 L622.0,309.0 L623.0,308.7 L624.0,308.2 L625.0,307.3 L626.0,306.1 L627.0,304.6 L628.0,302.8 L629.0,300.8 L630.0,298.5 L631.0,295.9 L632.0,293.1 L633.0,290.0 L634.0,286.8 L635.0,283.3 L636.0,279.7 L637.0,276.0 L638.0,272.1 L639.0,268.1 L640.0,264.1 L641.0,260.0 L642.0,255.8 L643.0,251.6 L644.0,247.5 L645.0,243.4 L646.0,239.4 L647.0,235.4 L648.0,231.6 L649.0,227.9 L650.0,224.3 L651.0,220.9 L652.0,217.7 L653.0,214.8 L654.0,212.0 L655.0,209.5 L656.0,207.3 L657.0,205.3 L658.0,203.6 L659.0,202.2 L660.0,201.1 L661.0,200.3 L662.0,199.9 L663.0,199.7 L664.0,199.8 L665.0,200.3 L666.0,201.0 L667.0,202.0 L668.0,203.3 L669.0,204.8 L670.0,206.6 L671.0,208.7 L672.0,211.0 L673.0,213.5 L674.0,216.2 L675.0,219.1 L676.0,222.2 L677.0,225.5 L678.0,228.9 L679.0,232.4 L680.0,236.1 L681.0,239.8 L682.0,243.6 L683.0,247.4 L684.0,251.3 L685.0,255.2 L686.0,259.0 L687.0,262.8 L688.0,266.5 L689.0,270.2 L690.0,273.7 L691.0,277.1 L692.0,280.4 L693.0,283.5 L694.0,286.4 L695.0,289.1 L696.0,291.6 L697.0,293.9 L698.0,296.0 L699.0,297.8 L700.0,299.3 L701.0,300.6 L702.0,301.6 L703.0,302.3 L704.0,302.8 L705.0,302.9 L706.0,302.8 L707.0,302.3 L708.0,301.6 L709.0,300.5 L710.0,299.2 L711.0,297.6 L712.0,295.8 L713.0,293.6 L714.0,291.3 L715.0,288.7 L716.0,286.0 L717.0,283.0 L718.0,279.9 L719.0,276.6 L720.0,273.3 L721.0,269.8 L722.0,266.2 L723.0,262.6 L724.0,259.0 L725.0,255.4 L726.0,251.8 L727.0,248.2 L728.0,244.7 L729.0,241.4 L730.0,238.1 L731.0,235.0 L732.0,232.0 L733.0,229.3 L734.0,226.7 L735.0,224.4 L736.0,222.2 L737.0,220.4 L738.0,218.8 L739.0,217.5 L740.0,216.4 L741.0,215.7 L742.0,215.2 L743.0,215.1 L744.0,215.2 L745.0,215.5 L746.0,216.0 L747.0,216.7 L748.0,217.6 L749.0,218.7 L750.0,220.0 L751.0,221.5 L752.0,223.1 L753.0,224.9 L754.0,226.8 L755.0,228.9 L756.0,231.1 L757.0,233.5 L758.0,235.9 L759.0,238.4 L760.0,241.0 L761.0,243.6 L762.0,246.3 L763.0,249.1 L764.0,251.8 L765.0,254.5 L766.0,257.3 L767.0,260.0 L768.0,262.6 L769.0,265.2 L770.0,267.7 L771.0,270.2 L772.0,272.5 L773.0,274.7 L774.0,276.8 L775.0,278.7 L776.0,280.5 L777.0,282.1 L778.0,283.6 L779.0,284.9 L780.0,286.0 L781.0,286.9 L782.0,287.6 L783.0,288.1 L784.0,288.4 L785.0,288.5 L786.0,288.4 L787.0,287.9 L788.0,287.2 L789.0,286.2 L790.0,285.0 L791.0,283.5 L792.0,281.7 L793.0,279.7 L794.0,277.5 L795.0,275.0 L796.0,272.3 L797.0,269.5 L798.0,266.5 L799.0,263.3 L800.0,260.0 L801.0,256.5 L802.0,253.0 L803.0,249.5 L804.0,245.8 L805.0,242.2 L806.0,238.5 L807.0,234.8 L808.0,231.2 L809.0,227.6 L810.0,224.2 L811.0,220.8 L812.0,217.5 L813.0,214.4 L814.0,211.5 L815.0,208.7 L816.0,206.1 L817.0,203.7 L818.0,201.6 L819.0,199.7 L820.0,198.0 L821.0,196.6 L822.0,195.4 L823.0,194.6 L824.0,194.0 L825.0,193.7 L826.0,193.6 L827.0,193.9 L828.0,194.5 L829.0,195.5 L830.0,196.8 L831.0,198.3 L832.0,200.2 L833.0,202.4 L834.0,204.8 L835.0,207.5 L836.0,210.5 L837.0,213.7 L838.0,217.2 L839.0,220.8 L840.0,224.6 L841.0,228.6 L842.0,232.7 L843.0,236.9 L844.0,241.3 L845.0,245.7 L846.0,250.1 L847.0,254.6 L848.0,259.1 L849.0,263.6 L850.0,268.0 L851.0,272.3 L852.0,276.6 L853.0,280.7 L854.0,284.7 L855.0,288.5 L856.0,292.2 L857.0,295.6 L858.0,298.9 L859.0,301.9 L860.0,304.6 L861.0,307.1 L862.0,309.3 L863.0,311.2 L864.0,312.8 L865.0,314.1 L866.0,315.1 L867.0,315.7 L868.0,316.1 L869.0,316.1 L870.0,315.7 L871.0,315.0 L872.0,313.9 L873.0,312.5 L874.0,310.8 L875.0,308.7 L876.0,306.4 L877.0,303.7 L878.0,300.7 L879.0,297.5 L880.0,294.1 L881.0,290.4 L882.0,286.5 L883.0,282.4 L884.0,278.2 L885.0,273.9 L886.0,269.4 L887.0,264.9 L888.0,260.3 L889.0,255.8 L890.0,251.2 L891.0,246.6 L892.0,242.1 L893.0,237.7 L894.0,233.5 L895.0,229.3 L896.0,225.3 L897.0,221.5 L898.0,218.0 L899.0,214.6 L900.0,211.6 L901.0,208.7 L902.0,206.2 L903.0,204.0 L904.0,202.1 L905.0,200.5 L906.0,199.3 L907.0,198.4 L908.0,197.9 L909.0,197.7 L910.0,197.9 L911.0,198.4 L912.0,199.2 L913.0,200.3 L914.0,201.8 L915.0,203.6 L916.0,205.7 L917.0,208.0 L918.0,210.7 L919.0,213.5 L920.0,216.7 L921.0,220.0 L922.0,223.5 L923.0,227.2 L924.0,231.1 L925.0,235.1 L926.0,239.2 L927.0,243.3 L928.0,247.6 L929.0,251.8 L930.0,256.0 L931.0,260.3 L932.0,264.4 L933.0,268.5 L934.0,272.5 L935.0,276.4 L936.0,280.1 L937.0,283.6 L938.0,286.9 L939.0,290.1 L940.0,292.9 L941.0,295.6 L942.0,297.9 L943.0,300.0 L944.0,301.8 L945.0,303.3 L946.0,304.4 L947.0,305.2 L948.0,305.7 L949.0,305.9 L950.0,305.7 L951.0,305.2 L952.0,304.3 L953.0,303.0 L954.0,301.5 L955.0,299.6 L956.0,297.3 L957.0,294.8 L958.0,292.0 L959.0,288.9 L960.0,285.6 L961.0,282.1 L962.0,278.3 L963.0,274.4 L964.0,270.4 L965.0,266.2 L966.0,262.0 L967.0,257.6 L968.0,253.3 L969.0,249.0 L970.0,244.6 L971.0,240.4 L972.0,236.2 L973.0,232.2 L974.0,228.3 L975.0,224.5 L976.0,221.0 L977.0,217.7 L978.0,214.6 L979.0,211.8 L980.0,209.3 L981.0,207.0 L982.0,205.1 L983.0,203.6 L984.0,202.3 L985.0,201.4 L986.0,200.9 L987.0,200.7 L988.0,200.8 L989.0,201.2 L990.0,201.8 L991.0,202.7 L992.0,203.8 L993.0,205.1 L994.0,206.6 L995.0,208.4 L996.0,210.4 L997.0,212.6 L998.0,214.9 L999.0,217.5 L1000.0,220.1 L1001.0,223.0 L1002.0,225.9 L1003.0,229.0 L1004.0,232.2 L1005.0,235.4 L1006.0,238.8 L1007.0,242.1 L1008.0,245.5 L1009.0,248.9 L1010.0,252.3 L1011.0,255.6 L1012.0,259.0 L1013.0,262.2 L1014.0,265.4 L1015.0,268.5 L1016.0,271.4 L1017.0,274.3 L1018.0,276.9 L1019.0,279.5 L1020.0,281.8 L1021.0,284.0 L1022.0,286.0 L1023.0,287.8 L1024.0,289.3 L1025.0,290.6 L1026.0,291.7 L1027.0,292.6 L1028.0,293.2 L1029.0,293.6 L1030.0,293.7 L1031.0,293.6 L1032.0,293.2 L1033.0,292.6 L1034.0,291.7 L1035.0,290.6 L1036.0,289.3 L1037.0,287.8 L1038.0,286.0 L1039.0,284.0 L1040.0,281.8 L1041.0,279.5 L1042.0,277.0 L1043.0,274.3 L1044.0,271.4 L1045.0,268.4 L1046.0,265.4 L1047.0,262.2 L1048.0,258.9 L1049.0,255.6 L1050.0,252.2 L1051.0,248.8 L1052.0,245.3 L1053.0,241.9 L1054.0,238.5 L1055.0,235.2 L1056.0,231.8 L1057.0,228.6 L1058.0,225.5 L1059.0,222.5 L1060.0,219.5 L1061.0,216.8 L1062.0,214.2 L1063.0,211.7 L1064.0,209.4 L1065.0,207.4 L1066.0,205.5 L1067.0,203.8 L1068.0,202.4 L1069.0,201.2 L1070.0,200.2 L1071.0,199.5 L1072.0,199.0 L1073.0,198.7 L1074.0,198.7 L1075.0,199.1 L1076.0,199.7 L1077.0,200.7 L1078.0,202.0 L1079.0,203.6 L1080.0,205.5 L1081.0,207.7 L1082.0,210.2 L1083.0,213.0 L1084.0,216.0 L1085.0,219.2 L1086.0,222.6 L1087.0,226.3 L1088.0,230.1 L1089.0,234.1 L1090.0,238.2 L1091.0,242.5 L1092.0,246.8 L1093.0,251.2 L1094.0,255.6 L1095.0,260.1 L1096.0,264.5 L1097.0,268.9 L1098.0,273.3 L1099.0,277.6 L1100.0,281.7 L1101.0,285.8 L1102.0,289.7 L1103.0,293.5 L1104.0,297.0 L1105.0,300.4 L1106.0,303.5 L1107.0,306.4 L1108.0,309.0 L1109.0,311.3 L1110.0,313.4 L1111.0,315.1 L1112.0,316.6 L1113.0,317.7 L1114.0,318.5 L1115.0,319.0 L1116.0,319.2 L1117.0,319.0 L1118.0,318.3 L1119.0,317.3 L1120.0,315.8 L1121.0,313.9 L1122.0,311.7 L1123.0,309.0 L1124.0,306.0 L1125.0,302.7 L1126.0,299.0 L1127.0,295.1 L1128.0,290.9 L1129.0,286.4 L1130.0,281.8 L1131.0,277.0 L1132.0,272.0 L1133.0,267.0 L1134.0,261.8 L1135.0,256.7 L1136.0,251.5 L1137.0,246.3 L1138.0,241.3 L1139.0,236.3 L1140.0,231.5 L1141.0,226.8 L1142.0,222.3 L1143.0,218.1 L1144.0,214.1 L1145.0,210.5 L1146.0,207.1 L1147.0,204.1 L1148.0,201.4 L1149.0,199.1 L1150.0,197.2 L1151.0,195.6 L1152.0,194.5 L1153.0,193.9 L1154.0,193.6 L1155.0,193.7 L1156.0,194.2 L1157.0,194.9 L1158.0,196.0 L1159.0,197.4 L1160.0,199.0 L1161.0,201.0 L1162.0,203.2 L1163.0,205.6 L1164.0,208.4 L1165.0,211.3 L1166.0,214.5 L1167.0,217.8 L1168.0,221.4 L1169.0,225.0 L1170.0,228.8 L1171.0,232.8 L1172.0,236.8 L1173.0,240.8 L1174.0,244.9 L1175.0,249.1 L1176.0,253.2 L1177.0,257.2 L1178.0,261.2 L1179.0,265.2 L1180.0,269.0 L1181.0,272.7 L1182.0,276.2 L1183.0,279.6 L1184.0,282.8 L1185.0,285.8 L1186.0,288.5 L1187.0,291.0 L1188.0,293.2 L1189.0,295.2 L1190.0,296.9 L1191.0,298.3 L1192.0,299.4 L1193.0,300.2 L1194.0,300.6 L1195.0,300.8 L1196.0,300.6 L1197.0,300.1 L1198.0,299.3 L1199.0,298.2 L1200.0,296.7 L1201.0,294.9 L1202.0,292.8 L1203.0,290.5 L1204.0,287.8 L1205.0,285.0 L1206.0,281.8 L1207.0,278.5 L1208.0,275.0 L1209.0,271.3 L1210.0,267.4 L1211.0,263.4 L1212.0,259.4 L1213.0,255.2 L1214.0,251.0 L1215.0,246.8 L1216.0,242.6 L1217.0,238.4 L1218.0,234.2 L1219.0,230.2 L1220.0,226.2 L1221.0,222.4 L1222.0,218.7 L1223.0,215.2 L1224.0,211.9 L1225.0,208.9 L1226.0,206.0 L1227.0,203.4 L1228.0,201.1 L1229.0,199.1 L1230.0,197.4 L1231.0,196.0 L1232.0,194.9 L1233.0,194.1 L1234.0,193.7 L1235.0,193.6 L1236.0,193.8 L1237.0,194.3 L1238.0,195.1 L1239.0,196.2 L1240.0,197.6 L1241.0,199.2 L1242.0,201.2 L1243.0,203.3 L1244.0,205.8 L1245.0,208.4 L1246.0,211.3 L1247.0,214.4 L1248.0,217.6 L1249.0,221.1 L1250.0,224.7 L1251.0,228.4 L1252.0,232.2 L1253.0,236.1 L1254.0,240.1 L1255.0,244.2 L1256.0,248.2 L1257.0,252.3 L1258.0,256.4 L1259.0,260.4 L1260.0,264.3 L1261.0,268.2 L1262.0,272.0 L1263.0,275.7 L1264.0,279.2 L1265.0,282.5 L1266.0,285.7 L1267.0,288.7 L1268.0,291.4 L1269.0,294.0 L1270.0,296.3 L1271.0,298.3 L1272.0,300.1 L1273.0,301.6 L1274.0,302.9 L1275.0,303.8 L1276.0,304.5 L1277.0,304.8 L1278.0,304.9 L1279.0,304.7 L1280.0,304.2 L1281.0,303.4 L1282.0,302.3 L1283.0,301.0 L1284.0,299.4 L1285.0,297.6 L1286.0,295.5 L1287.0,293.2 L1288.0,290.7 L1289.0,287.9 L1290.0,285.0 L1291.0,281.9 L1292.0,278.7 L1293.0,275.3 L1294.0,271.8 L1295.0,268.2 L1296.0,264.5 L1297.0,260.8 L1298.0,257.0 L1299.0,253.2 L1300.0,249.4 L1301.0,245.7 L1302.0,242.0 L1303.0,238.3 L1304.0,234.7 L1305.0,231.3 L1306.0,227.9 L1307.0,224.7 L1308.0,221.7 L1309.0,218.8 L1310.0,216.2 L1311.0,213.7 L1312.0,211.5 L1313.0,209.5 L1314.0,207.7 L1315.0,206.2 L1316.0,204.9 L1317.0,204.0 L1318.0,203.3 L1319.0,202.8 L1320.0,202.7 L1321.0,202.9 L1322.0,203.3 L1323.0,204.1 L1324.0,205.1 L1325.0,206.4 L1326.0,208.0 L1327.0,209.9 L1328.0,212.1 L1329.0,214.5 L1330.0,217.1 L1331.0,220.0 L1332.0,223.0 L1333.0,226.3 L1334.0,229.7 L1335.0,233.3 L1336.0,237.0 L1337.0,240.9 L1338.0,244.8 L1339.0,248.8 L1340.0,252.9 L1341.0,257.0 L1342.0,261.1 L1343.0,265.1 L1344.0,269.2 L1345.0,273.2 L1346.0,277.1 L1347.0,280.9 L1348.0,284.6 L1349.0,288.1 L1350.0,291.5 L1351.0,294.7 L1352.0,297.7 L1353.0,300.5 L1354.0,303.1 L1355.0,305.4 L1356.0,307.5 L1357.0,309.3 L1358.0,310.8 L1359.0,312.0 L1360.0,313.0 L1361.0,313.7 L1362.0,314.0 L1363.0,314.1 L1364.0,313.7 L1365.0,312.9 L1366.0,311.6 L1367.0,309.8 L1368.0,307.7 L1369.0,305.1 L1370.0,302.1 L1371.0,298.7 L1372.0,295.0 L1373.0,291.0 L1374.0,286.6 L1375.0,282.0 L1376.0,277.2 L1377.0,272.2 L1378.0,267.0 L1379.0,261.7 L1380.0,256.3 L1381.0,250.8 L1382.0,245.4 L1383.0,240.0 L1384.0,234.7 L1385.0,229.4 L1386.0,224.4 L1387.0,219.5 L1388.0,214.9 L1389.0,210.5 L1390.0,206.4 L1391.0,202.6 L1392.0,199.1 L1393.0,196.1 L1394.0,193.4 L1395.0,191.2 L1396.0,189.3 L1397.0,187.9 L1398.0,187.0 L1399.0,186.6 L1400.0,186.5 L1401.0,186.9 L1402.0,187.5 L1403.0,188.5 L1404.0,189.7 L1405.0,191.3 L1406.0,193.2 L1407.0,195.3 L1408.0,197.7 L1409.0,200.4 L1410.0,203.3 L1411.0,206.5 L1412.0,209.8 L1413.0,213.4 L1414.0,217.1 L1415.0,221.0 L1416.0,225.0 L1417.0,229.1 L1418.0,233.3 L1419.0,237.6 L1420.0,241.9 L1421.0,246.2 L1422.0,250.5 L1423.0,254.8 L1424.0,259.0 L1425.0,263.2 L1426.0,267.2 L1427.0,271.1 L1428.0,274.9 L1429.0,278.5 L1430.0,281.9 L1431.0,285.2 L1432.0,288.2 L1433.0,290.9 L1434.0,293.4 L1435.0,295.6 L1436.0,297.6 L1437.0,299.2 L1438.0,300.6 L1439.0,301.6 L1440.0,302.4 L1441.0,302.8 L1442.0,302.9 L1443.0,302.7 L1444.0,302.3 L1445.0,301.5 L1446.0,300.6 L1447.0,299.4 L1448.0,297.9 L1449.0,296.2 L1450.0,294.3 L1451.0,292.1 L1452.0,289.7 L1453.0,287.2 L1454.0,284.4 L1455.0,281.5 L1456.0,278.5 L1457.0,275.3 L1458.0,271.9 L1459.0,268.5 L1460.0,265.0 L1461.0,261.4 L1462.0,257.8 L1463.0,254.2 L1464.0,250.5 L1465.0,246.9 L1466.0,243.3 L1467.0,239.7 L1468.0,236.2 L1469.0,232.8 L1470.0,229.4 L1471.0,226.2 L1472.0,223.2 L1473.0,220.3 L1474.0,217.5 L1475.0,215.0 L1476.0,212.6 L1477.0,210.4 L1478.0,208.5 L1479.0,206.8 L1480.0,205.3 L1481.0,204.1 L1482.0,203.2 L1483.0,202.4 L1484.0,202.0 L1485.0,201.8 L1486.0,201.9 L1487.0,202.3 L1488.0,202.9 L1489.0,203.9 L1490.0,205.1 L1491.0,206.5 L1492.0,208.3 L1493.0,210.3 L1494.0,212.5 L1495.0,214.9 L1496.0,217.6 L1497.0,220.5 L1498.0,223.5 L1499.0,226.8 L1500.0,230.1 L1501.0,233.7 L1502.0,237.3 L1503.0,241.0 L1504.0,244.8 L1505.0,248.6 L1506.0,252.5 L1507.0,256.4 L1508.0,260.3 L1509.0,264.1 L1510.0,268.0 L1511.0,271.7 L1512.0,275.3 L1513.0,278.9 L1514.0,282.3 L1515.0,285.5 L1516.0,288.6 L1517.0,291.5 L1518.0,294.2 L1519.0,296.7 L1520.0,299.0 L1521.0,301.1 L1522.0,302.8 L1523.0,304.4 L1524.0,305.6 L1525.0,306.6 L1526.0,307.3 L1527.0,307.8 L1528.0,307.9 L1529.0,307.8 L1530.0,307.3 L1531.0,306.6 L1532.0,305.6 L1533.0,304.3 L1534.0,302.8 L1535.0,301.0 L1536.0,298.9 L1537.0,296.6 L1538.0,294.1 L1539.0,291.3 L1540.0,288.4 L1541.0,285.2 L1542.0,281.9 L1543.0,278.5 L1544.0,274.9 L1545.0,271.2 L1546.0,267.5 L1547.0,263.6 L1548.0,259.7 L1549.0,255.8 L1550.0,251.9 L1551.0,248.0 L1552.0,244.1 L1553.0,240.3 L1554.0,236.6 L1555.0,233.0 L1556.0,229.5 L1557.0,226.1 L1558.0,222.9 L1559.0,219.8 L1560.0,217.0 L1561.0,214.4 L1562.0,211.9 L1563.0,209.7 L1564.0,207.8 L1565.0,206.1 L1566.0,204.7 L1567.0,203.6 L1568.0,202.7 L1569.0,202.1 L1570.0,201.8 L1571.0,201.8 L1572.0,202.2 L1573.0,202.8 L1574.0,203.7 L1575.0,204.9 L1576.0,206.4 L1577.0,208.3 L1578.0,210.3 L1579.0,212.7 L1580.0,215.3 L1581.0,218.1 L1582.0,221.1 L1583.0,224.3 L1584.0,227.8 L1585.0,231.3 L1586.0,235.0 L1587.0,238.8 L1588.0,242.8 L1589.0,246.7 L1590.0,250.8 L1591.0,254.8 L1592.0,258.8 L1593.0,262.9 L1594.0,266.8 L1595.0,270.7 L1596.0,274.5 L1597.0,278.2 L1598.0,281.7 L1599.0,285.1 L1600.0,288.3 L1601.0,291.3 L1602.0,294.1 L1603.0,296.6 L1604.0,298.9 L1605.0,300.9 L1606.0,302.7 L1607.0,304.1 L1608.0,305.3 L1609.0,306.2 L1610.0,306.7 L1611.0,307.0 L1612.0,306.9 L1613.0,306.2 L1614.0,305.0 L1615.0,303.2 L1616.0,300.9 L1617.0,298.0 L1618.0,294.7 L1619.0,290.9 L1620.0,286.6 L1621.0,281.8 L1622.0,276.7 L1623.0,271.2 L1624.0,265.3 L1625.0,259.1 L1626.0,252.7 L1627.0,246.0 L1627.5,242.5" stroke="rgb(16,12,218)" stroke-dasharray="18 19.6"/>
<path d="M219.0,168.0 L220.0,168.2 L221.0,169.0 L222.0,170.2 L223.0,171.9 L224.0,174.1 L225.0,176.8 L226.0,179.9 L227.0,183.4 L228.0,187.4 L229.0,191.7 L230.0,196.4 L231.0,201.4 L232.0,206.7 L233.0,212.4 L234.0,218.2 L235.0,224.3 L236.0,230.5 L237.0,236.9 L238.0,243.3 L239.0,249.9 L240.0,256.4 L241.0,263.0 L242.0,269.5 L243.0,275.9 L244.0,282.2 L245.0,288.4 L246.0,294.4 L247.0,300.1 L248.0,305.6 L249.0,310.7 L250.0,315.6 L251.0,320.1 L252.0,324.2 L253.0,328.0 L254.0,331.3 L255.0,334.2 L256.0,336.6 L257.0,338.6 L258.0,340.1 L259.0,341.0 L260.0,341.5 L261.0,341.5 L262.0,341.0 L263.0,339.8 L264.0,338.2 L265.0,335.9 L266.0,333.2 L267.0,329.9 L268.0,326.2 L269.0,321.9 L270.0,317.2 L271.0,312.1 L272.0,306.6 L273.0,300.7 L274.0,294.5 L275.0,288.0 L276.0,281.3 L277.0,274.3 L278.0,267.2 L279.0,259.9 L280.0,252.6 L281.0,245.2 L282.0,237.7 L283.0,230.4 L284.0,223.1 L285.0,215.9 L286.0,208.9 L287.0,202.1 L288.0,195.5 L289.0,189.2 L290.0,183.2 L291.0,177.6 L292.0,172.4 L293.0,167.6 L294.0,163.2 L295.0,159.3 L296.0,155.8 L297.0,152.9 L298.0,150.5 L299.0,148.7 L300.0,147.4 L301.0,146.7 L302.0,146.5 L303.0,147.1 L304.0,148.5 L305.0,150.7 L306.0,153.7 L307.0,157.5 L308.0,162.0 L309.0,167.2 L310.0,173.1 L311.0,179.7 L312.0,186.8 L313.0,194.4 L314.0,202.5 L315.0,211.0 L316.0,219.8 L317.0,228.9 L318.0,238.2 L319.0,247.7 L320.0,257.2 L321.0,266.7 L322.0,276.1 L323.0,285.4 L324.0,294.5 L325.0,303.3 L326.0,311.7 L327.0,319.7 L328.0,327.2 L329.0,334.2 L330.0,340.6 L331.0,346.4 L332.0,351.5 L333.0,355.8 L334.0,359.5 L335.0,362.3 L336.0,364.4 L337.0,365.6 L338.0,366.0 L339.0,365.6 L340.0,364.6 L341.0,362.8 L342.0,360.4 L343.0,357.3 L344.0,353.5 L345.0,349.1 L346.0,344.2 L347.0,338.6 L348.0,332.5 L349.0,325.9 L350.0,318.9 L351.0,311.4 L352.0,303.6 L353.0,295.4 L354.0,287.0 L355.0,278.4 L356.0,269.6 L357.0,260.7 L358.0,251.8 L359.0,242.8 L360.0,233.9 L361.0,225.1 L362.0,216.5 L363.0,208.1 L364.0,200.0 L365.0,192.2 L366.0,184.8 L367.0,177.8 L368.0,171.3 L369.0,165.2 L370.0,159.7 L371.0,154.8 L372.0,150.5 L373.0,146.8 L374.0,143.7 L375.0,141.4 L376.0,139.7 L377.0,138.7 L378.0,138.4 L379.0,138.8 L380.0,139.8 L381.0,141.4 L382.0,143.5 L383.0,146.3 L384.0,149.7 L385.0,153.6 L386.0,158.0 L387.0,163.0 L388.0,168.4 L389.0,174.2 L390.0,180.5 L391.0,187.1 L392.0,194.1 L393.0,201.4 L394.0,208.9 L395.0,216.6 L396.0,224.5 L397.0,232.5 L398.0,240.6 L399.0,248.8 L400.0,256.8 L401.0,264.9 L402.0,272.8 L403.0,280.5 L404.0,288.1 L405.0,295.4 L406.0,302.4 L407.0,309.1 L408.0,315.4 L409.0,321.3 L410.0,326.7 L411.0,331.7 L412.0,336.2 L413.0,340.2 L414.0,343.6 L415.0,346.4 L416.0,348.7 L417.0,350.3 L418.0,351.4 L419.0,351.8 L420.0,351.6 L421.0,351.0 L422.0,349.9 L423.0,348.2 L424.0,346.1 L425.0,343.6 L426.0,340.5 L427.0,337.1 L428.0,333.2 L429.0,328.9 L430.0,324.3 L431.0,319.3 L432.0,313.9 L433.0,308.3 L434.0,302.4 L435.0,296.3 L436.0,290.0 L437.0,283.5 L438.0,276.9 L439.0,270.2 L440.0,263.5 L441.0,256.7 L442.0,249.9 L443.0,243.2 L444.0,236.6 L445.0,230.1 L446.0,223.7 L447.0,217.6 L448.0,211.6 L449.0,206.0 L450.0,200.6 L451.0,195.5 L452.0,190.8 L453.0,186.4 L454.0,182.5 L455.0,178.9 L456.0,175.8 L457.0,173.2 L458.0,171.0 L459.0,169.2 L460.0,168.0 L461.0,167.2 L462.0,167.0 L463.0,167.3 L464.0,168.0 L465.0,169.3 L466.0,171.0 L467.0,173.3 L468.0,176.0 L469.0,179.1 L470.0,182.7 L471.0,186.7 L472.0,191.1 L473.0,195.8 L474.0,200.9 L475.0,206.3 L476.0,211.9 L477.0,217.7 L478.0,223.8 L479.0,230.0 L480.0,236.3 L481.0,242.8 L482.0,249.2 L483.0,255.6 L484.0,262.1 L485.0,268.4 L486.0,274.6 L487.0,280.7 L488.0,286.5 L489.0,292.1 L490.0,297.5 L491.0,302.6 L492.0,307.3 L493.0,311.7 L494.0,315.7 L495.0,319.3 L496.0,322.4 L497.0,325.1 L498.0,327.4 L499.0,329.1 L500.0,330.4 L501.0,331.1 L502.0,331.4 L503.0,331.1 L504.0,330.3 L505.0,329.0 L506.0,327.2 L507.0,324.9 L508.0,322.1 L509.0,318.8 L510.0,315.1 L511.0,311.0 L512.0,306.4 L513.0,301.5 L514.0,296.2 L515.0,290.7 L516.0,284.8 L517.0,278.7 L518.0,272.5 L519.0,266.0 L520.0,259.4 L521.0,252.8 L522.0,246.1 L523.0,239.4 L524.0,232.8 L525.0,226.2 L526.0,219.7 L527.0,213.5 L528.0,207.4 L529.0,201.5 L530.0,196.0 L531.0,190.7 L532.0,185.8 L533.0,181.2 L534.0,177.1 L535.0,173.4 L536.0,170.1 L537.0,167.3 L538.0,165.0 L539.0,163.2 L540.0,161.9 L541.0,161.1 L542.0,160.8 L543.0,161.1 L544.0,162.1 L545.0,163.7 L546.0,165.9 L547.0,168.8 L548.0,172.2 L549.0,176.2 L550.0,180.8 L551.0,185.8 L552.0,191.4 L553.0,197.4 L554.0,203.8 L555.0,210.6 L556.0,217.6 L557.0,225.0 L558.0,232.6 L559.0,240.4 L560.0,248.3 L561.0,256.3 L562.0,264.2 L563.0,272.2 L564.0,280.1 L565.0,287.9 L566.0,295.4 L567.0,302.8 L568.0,309.8 L569.0,316.6 L570.0,322.9 L571.0,328.9 L572.0,334.4 L573.0,339.4 L574.0,343.9 L575.0,347.9 L576.0,351.2 L577.0,354.0 L578.0,356.2 L579.0,357.7 L580.0,358.6 L581.0,358.9 L582.0,358.5 L583.0,357.4 L584.0,355.7 L585.0,353.3 L586.0,350.3 L587.0,346.7 L588.0,342.5 L589.0,337.7 L590.0,332.3 L591.0,326.5 L592.0,320.1 L593.0,313.4 L594.0,306.2 L595.0,298.7 L596.0,290.9 L597.0,282.8 L598.0,274.5 L599.0,266.0 L600.0,257.4 L601.0,248.7 L602.0,240.0 L603.0,231.4 L604.0,222.8 L605.0,214.4 L606.0,206.2 L607.0,198.2 L608.0,190.5 L609.0,183.1 L610.0,176.1 L611.0,169.5 L612.0,163.3 L613.0,157.7 L614.0,152.6 L615.0,148.0 L616.0,144.0 L617.0,140.6 L618.0,137.8 L619.0,135.7 L620.0,134.3 L621.0,133.5 L622.0,133.3 L623.0,133.8 L624.0,135.0 L625.0,136.8 L626.0,139.3 L627.0,142.3 L628.0,146.0 L629.0,150.2 L630.0,154.9 L631.0,160.2 L632.0,166.0 L633.0,172.3 L634.0,179.0 L635.0,186.0 L636.0,193.4 L637.0,201.1 L638.0,209.1 L639.0,217.3 L640.0,225.6 L641.0,234.1 L642.0,242.6 L643.0,251.2 L644.0,259.7 L645.0,268.1 L646.0,276.4 L647.0,284.5 L648.0,292.4 L649.0,300.0 L650.0,307.3 L651.0,314.3 L652.0,320.8 L653.0,326.9 L654.0,332.6 L655.0,337.7 L656.0,342.4 L657.0,346.4 L658.0,349.9 L659.0,352.7 L660.0,355.0 L661.0,356.6 L662.0,357.6 L663.0,357.9 L664.0,357.6 L665.0,356.8 L666.0,355.5 L667.0,353.6 L668.0,351.2 L669.0,348.3 L670.0,345.0 L671.0,341.1 L672.0,336.8 L673.0,332.1 L674.0,327.0 L675.0,321.6 L676.0,315.8 L677.0,309.6 L678.0,303.3 L679.0,296.7 L680.0,289.8 L681.0,282.9 L682.0,275.8 L683.0,268.6 L684.0,261.4 L685.0,254.2 L686.0,247.0 L687.0,239.9 L688.0,233.0 L689.0,226.1 L690.0,219.5 L691.0,213.2 L692.0,207.0 L693.0,201.2 L694.0,195.8 L695.0,190.7 L696.0,186.0 L697.0,181.7 L698.0,177.8 L699.0,174.5 L700.0,171.6 L701.0,169.2 L702.0,167.3 L703.0,166.0 L704.0,165.2 L705.0,164.9 L706.0,165.2 L707.0,166.0 L708.0,167.4 L709.0,169.2 L710.0,171.7 L711.0,174.6 L712.0,178.0 L713.0,181.8 L714.0,186.1 L715.0,190.8 L716.0,195.8 L717.0,201.2 L718.0,206.9 L719.0,212.9 L720.0,219.0 L721.0,225.4 L722.0,231.9 L723.0,238.4 L724.0,245.0 L725.0,251.7 L726.0,258.2 L727.0,264.7 L728.0,271.1 L729.0,277.2 L730.0,283.2 L731.0,288.9 L732.0,294.3 L733.0,299.3 L734.0,304.0 L735.0,308.3 L736.0,312.1 L737.0,315.5 L738.0,318.4 L739.0,320.9 L740.0,322.7 L741.0,324.1 L742.0,324.9 L743.0,325.2 L744.0,325.0 L745.0,324.3 L746.0,323.2 L747.0,321.7 L748.0,319.8 L749.0,317.4 L750.0,314.7 L751.0,311.6 L752.0,308.1 L753.0,304.3 L754.0,300.1 L755.0,295.7 L756.0,291.0 L757.0,286.0 L758.0,280.8 L759.0,275.5 L760.0,269.9 L761.0,264.3 L762.0,258.5 L763.0,252.7 L764.0,246.9 L765.0,241.0 L766.0,235.2 L767.0,229.4 L768.0,223.8 L769.0,218.2 L770.0,212.9 L771.0,207.7 L772.0,202.7 L773.0,198.0 L774.0,193.6 L775.0,189.4 L776.0,185.6 L777.0,182.1 L778.0,179.0 L779.0,176.3 L780.0,173.9 L781.0,172.0 L782.0,170.5 L783.0,169.4 L784.0,168.7 L785.0,168.5 L786.0,168.8 L787.0,169.6 L788.0,171.0 L789.0,172.9 L790.0,175.3 L791.0,178.3 L792.0,181.7 L793.0,185.6 L794.0,190.0 L795.0,194.7 L796.0,199.9 L797.0,205.5 L798.0,211.3 L799.0,217.5 L800.0,223.9 L801.0,230.6 L802.0,237.4 L803.0,244.3 L804.0,251.4 L805.0,258.5 L806.0,265.6 L807.0,272.7 L808.0,279.8 L809.0,286.7 L810.0,293.4 L811.0,300.0 L812.0,306.3 L813.0,312.4 L814.0,318.1 L815.0,323.5 L816.0,328.5 L817.0,333.1 L818.0,337.3 L819.0,341.0 L820.0,344.3 L821.0,347.0 L822.0,349.2 L823.0,350.9 L824.0,352.1 L825.0,352.7 L826.0,352.8 L827.0,352.2 L828.0,351.1 L829.0,349.4 L830.0,347.2 L831.0,344.3 L832.0,341.0 L833.0,337.1 L834.0,332.7 L835.0,327.8 L836.0,322.5 L837.0,316.7 L838.0,310.6 L839.0,304.1 L840.0,297.2 L841.0,290.1 L842.0,282.7 L843.0,275.1 L844.0,267.4 L845.0,259.5 L846.0,251.5 L847.0,243.5 L848.0,235.4 L849.0,227.4 L850.0,219.5 L851.0,211.7 L852.0,204.1 L853.0,196.7 L854.0,189.6 L855.0,182.7 L856.0,176.2 L857.0,170.0 L858.0,164.2 L859.0,158.8 L860.0,153.9 L861.0,149.4 L862.0,145.5 L863.0,142.1 L864.0,139.2 L865.0,136.9 L866.0,135.1 L867.0,134.0 L868.0,133.4 L869.0,133.4 L870.0,134.1 L871.0,135.5 L872.0,137.6 L873.0,140.4 L874.0,143.8 L875.0,147.9 L876.0,152.6 L877.0,157.9 L878.0,163.8 L879.0,170.1 L880.0,177.0 L881.0,184.3 L882.0,192.0 L883.0,200.1 L884.0,208.4 L885.0,217.0 L886.0,225.8 L887.0,234.8 L888.0,243.9 L889.0,253.0 L890.0,262.1 L891.0,271.1 L892.0,280.0 L893.0,288.7 L894.0,297.2 L895.0,305.4 L896.0,313.3 L897.0,320.8 L898.0,327.9 L899.0,334.5 L900.0,340.6 L901.0,346.2 L902.0,351.2 L903.0,355.6 L904.0,359.4 L905.0,362.5 L906.0,364.9 L907.0,366.7 L908.0,367.7 L909.0,368.1 L910.0,367.8 L911.0,366.8 L912.0,365.1 L913.0,362.8 L914.0,359.8 L915.0,356.2 L916.0,352.1 L917.0,347.3 L918.0,342.0 L919.0,336.2 L920.0,330.0 L921.0,323.3 L922.0,316.2 L923.0,308.7 L924.0,301.0 L925.0,293.0 L926.0,284.7 L927.0,276.4 L928.0,267.9 L929.0,259.4 L930.0,250.8 L931.0,242.3 L932.0,234.0 L933.0,225.7 L934.0,217.7 L935.0,210.0 L936.0,202.5 L937.0,195.4 L938.0,188.7 L939.0,182.5 L940.0,176.7 L941.0,171.4 L942.0,166.6 L943.0,162.5 L944.0,158.9 L945.0,155.9 L946.0,153.6 L947.0,151.9 L948.0,150.9 L949.0,150.6 L950.0,150.9 L951.0,151.9 L952.0,153.5 L953.0,155.7 L954.0,158.5 L955.0,161.9 L956.0,165.9 L957.0,170.4 L958.0,175.4 L959.0,180.9 L960.0,186.8 L961.0,193.2 L962.0,199.8 L963.0,206.8 L964.0,214.0 L965.0,221.5 L966.0,229.1 L967.0,236.8 L968.0,244.5 L969.0,252.3 L970.0,260.0 L971.0,267.6 L972.0,275.1 L973.0,282.3 L974.0,289.3 L975.0,295.9 L976.0,302.3 L977.0,308.2 L978.0,313.7 L979.0,318.7 L980.0,323.2 L981.0,327.2 L982.0,330.6 L983.0,333.4 L984.0,335.6 L985.0,337.2 L986.0,338.2 L987.0,338.5 L988.0,338.3 L989.0,337.5 L990.0,336.4 L991.0,334.7 L992.0,332.6 L993.0,330.1 L994.0,327.1 L995.0,323.7 L996.0,319.9 L997.0,315.7 L998.0,311.2 L999.0,306.3 L1000.0,301.1 L1001.0,295.7 L1002.0,290.0 L1003.0,284.1 L1004.0,278.0 L1005.0,271.7 L1006.0,265.4 L1007.0,258.9 L1008.0,252.4 L1009.0,245.9 L1010.0,239.4 L1011.0,232.9 L1012.0,226.6 L1013.0,220.3 L1014.0,214.2 L1015.0,208.3 L1016.0,202.6 L1017.0,197.2 L1018.0,192.0 L1019.0,187.1 L1020.0,182.6 L1021.0,178.4 L1022.0,174.6 L1023.0,171.2 L1024.0,168.2 L1025.0,165.7 L1026.0,163.6 L1027.0,161.9 L1028.0,160.8 L1029.0,160.0 L1030.0,159.8 L1031.0,160.1 L1032.0,160.8 L1033.0,162.1 L1034.0,163.8 L1035.0,166.1 L1036.0,168.8 L1037.0,172.0 L1038.0,175.6 L1039.0,179.7 L1040.0,184.1 L1041.0,189.0 L1042.0,194.2 L1043.0,199.7 L1044.0,205.5 L1045.0,211.6 L1046.0,218.0 L1047.0,224.5 L1048.0,231.2 L1049.0,238.1 L1050.0,245.0 L1051.0,252.0 L1052.0,259.1 L1053.0,266.1 L1054.0,273.1 L1055.0,280.0 L1056.0,286.8 L1057.0,293.4 L1058.0,299.8 L1059.0,306.0 L1060.0,312.0 L1061.0,317.7 L1062.0,323.1 L1063.0,328.1 L1064.0,332.7 L1065.0,337.0 L1066.0,340.8 L1067.0,344.3 L1068.0,347.2 L1069.0,349.7 L1070.0,351.7 L1071.0,353.2 L1072.0,354.2 L1073.0,354.7 L1074.0,354.7 L1075.0,354.1 L1076.0,352.9 L1077.0,351.2 L1078.0,348.8 L1079.0,345.9 L1080.0,342.4 L1081.0,338.4 L1082.0,333.9 L1083.0,329.0 L1084.0,323.5 L1085.0,317.6 L1086.0,311.4 L1087.0,304.8 L1088.0,297.8 L1089.0,290.6 L1090.0,283.1 L1091.0,275.4 L1092.0,267.6 L1093.0,259.6 L1094.0,251.6 L1095.0,243.5 L1096.0,235.5 L1097.0,227.5 L1098.0,219.6 L1099.0,211.8 L1100.0,204.2 L1101.0,196.9 L1102.0,189.8 L1103.0,183.0 L1104.0,176.5 L1105.0,170.5 L1106.0,164.8 L1107.0,159.6 L1108.0,154.9 L1109.0,150.6 L1110.0,146.9 L1111.0,143.7 L1112.0,141.0 L1113.0,139.0 L1114.0,137.5 L1115.0,136.6 L1116.0,136.3 L1117.0,136.7 L1118.0,137.9 L1119.0,139.8 L1120.0,142.5 L1121.0,146.0 L1122.0,150.1 L1123.0,155.0 L1124.0,160.5 L1125.0,166.6 L1126.0,173.4 L1127.0,180.6 L1128.0,188.3 L1129.0,196.5 L1130.0,205.0 L1131.0,213.9 L1132.0,223.0 L1133.0,232.3 L1134.0,241.7 L1135.0,251.2 L1136.0,260.7 L1137.0,270.2 L1138.0,279.5 L1139.0,288.6 L1140.0,297.5 L1141.0,306.1 L1142.0,314.3 L1143.0,322.0 L1144.0,329.3 L1145.0,336.1 L1146.0,342.3 L1147.0,347.9 L1148.0,352.8 L1149.0,357.0 L1150.0,360.6 L1151.0,363.4 L1152.0,365.4 L1153.0,366.6 L1154.0,367.1 L1155.0,366.8 L1156.0,365.9 L1157.0,364.4 L1158.0,362.2 L1159.0,359.3 L1160.0,355.9 L1161.0,351.9 L1162.0,347.3 L1163.0,342.2 L1164.0,336.6 L1165.0,330.5 L1166.0,323.9 L1167.0,317.0 L1168.0,309.7 L1169.0,302.1 L1170.0,294.2 L1171.0,286.1 L1172.0,277.9 L1173.0,269.5 L1174.0,261.0 L1175.0,252.5 L1176.0,244.0 L1177.0,235.6 L1178.0,227.3 L1179.0,219.2 L1180.0,211.3 L1181.0,203.6 L1182.0,196.3 L1183.0,189.3 L1184.0,182.8 L1185.0,176.6 L1186.0,170.9 L1187.0,165.8 L1188.0,161.1 L1189.0,157.1 L1190.0,153.6 L1191.0,150.7 L1192.0,148.4 L1193.0,146.8 L1194.0,145.8 L1195.0,145.5 L1196.0,145.8 L1197.0,146.8 L1198.0,148.3 L1199.0,150.5 L1200.0,153.3 L1201.0,156.7 L1202.0,160.6 L1203.0,165.1 L1204.0,170.1 L1205.0,175.5 L1206.0,181.5 L1207.0,187.8 L1208.0,194.5 L1209.0,201.5 L1210.0,208.8 L1211.0,216.3 L1212.0,224.0 L1213.0,231.9 L1214.0,239.9 L1215.0,247.9 L1216.0,255.9 L1217.0,263.9 L1218.0,271.7 L1219.0,279.4 L1220.0,286.9 L1221.0,294.2 L1222.0,301.1 L1223.0,307.7 L1224.0,314.0 L1225.0,319.8 L1226.0,325.2 L1227.0,330.0 L1228.0,334.4 L1229.0,338.2 L1230.0,341.5 L1231.0,344.2 L1232.0,346.2 L1233.0,347.7 L1234.0,348.5 L1235.0,348.7 L1236.0,348.3 L1237.0,347.4 L1238.0,346.0 L1239.0,344.1 L1240.0,341.7 L1241.0,338.8 L1242.0,335.5 L1243.0,331.6 L1244.0,327.4 L1245.0,322.7 L1246.0,317.7 L1247.0,312.3 L1248.0,306.6 L1249.0,300.6 L1250.0,294.3 L1251.0,287.8 L1252.0,281.1 L1253.0,274.2 L1254.0,267.2 L1255.0,260.1 L1256.0,253.0 L1257.0,245.8 L1258.0,238.7 L1259.0,231.7 L1260.0,224.8 L1261.0,218.0 L1262.0,211.3 L1263.0,204.9 L1264.0,198.8 L1265.0,192.9 L1266.0,187.4 L1267.0,182.1 L1268.0,177.3 L1269.0,172.8 L1270.0,168.8 L1271.0,165.2 L1272.0,162.1 L1273.0,159.4 L1274.0,157.3 L1275.0,155.6 L1276.0,154.5 L1277.0,153.8 L1278.0,153.7 L1279.0,154.2 L1280.0,155.2 L1281.0,156.7 L1282.0,158.8 L1283.0,161.4 L1284.0,164.6 L1285.0,168.2 L1286.0,172.3 L1287.0,176.9 L1288.0,181.9 L1289.0,187.3 L1290.0,193.0 L1291.0,199.1 L1292.0,205.6 L1293.0,212.2 L1294.0,219.2 L1295.0,226.3 L1296.0,233.6 L1297.0,241.0 L1298.0,248.4 L1299.0,255.9 L1300.0,263.4 L1301.0,270.9 L1302.0,278.2 L1303.0,285.5 L1304.0,292.5 L1305.0,299.4 L1306.0,306.0 L1307.0,312.3 L1308.0,318.3 L1309.0,324.0 L1310.0,329.3 L1311.0,334.1 L1312.0,338.6 L1313.0,342.5 L1314.0,346.0 L1315.0,349.0 L1316.0,351.5 L1317.0,353.4 L1318.0,354.8 L1319.0,355.6 L1320.0,355.9 L1321.0,355.6 L1322.0,354.7 L1323.0,353.2 L1324.0,351.2 L1325.0,348.6 L1326.0,345.4 L1327.0,341.7 L1328.0,337.4 L1329.0,332.7 L1330.0,327.5 L1331.0,321.9 L1332.0,315.8 L1333.0,309.4 L1334.0,302.6 L1335.0,295.6 L1336.0,288.2 L1337.0,280.6 L1338.0,272.9 L1339.0,265.0 L1340.0,257.0 L1341.0,248.9 L1342.0,240.9 L1343.0,232.8 L1344.0,224.8 L1345.0,217.0 L1346.0,209.3 L1347.0,201.8 L1348.0,194.5 L1349.0,187.5 L1350.0,180.8 L1351.0,174.5 L1352.0,168.6 L1353.0,163.1 L1354.0,158.0 L1355.0,153.5 L1356.0,149.4 L1357.0,145.8 L1358.0,142.8 L1359.0,140.3 L1360.0,138.5 L1361.0,137.2 L1362.0,136.4 L1363.0,136.3 L1364.0,137.0 L1365.0,138.5 L1366.0,140.9 L1367.0,144.0 L1368.0,148.0 L1369.0,152.7 L1370.0,158.1 L1371.0,164.2 L1372.0,170.9 L1373.0,178.3 L1374.0,186.2 L1375.0,194.5 L1376.0,203.3 L1377.0,212.5 L1378.0,221.9 L1379.0,231.5 L1380.0,241.3 L1381.0,251.2 L1382.0,261.1 L1383.0,270.9 L1384.0,280.6 L1385.0,290.1 L1386.0,299.3 L1387.0,308.1 L1388.0,316.6 L1389.0,324.6 L1390.0,332.0 L1391.0,338.9 L1392.0,345.1 L1393.0,350.7 L1394.0,355.6 L1395.0,359.7 L1396.0,363.0 L1397.0,365.5 L1398.0,367.2 L1399.0,368.0 L1400.0,368.0 L1401.0,367.4 L1402.0,366.1 L1403.0,364.3 L1404.0,361.8 L1405.0,358.7 L1406.0,355.1 L1407.0,350.9 L1408.0,346.2 L1409.0,340.9 L1410.0,335.2 L1411.0,329.0 L1412.0,322.5 L1413.0,315.5 L1414.0,308.2 L1415.0,300.6 L1416.0,292.8 L1417.0,284.7 L1418.0,276.5 L1419.0,268.2 L1420.0,259.7 L1421.0,251.3 L1422.0,242.9 L1423.0,234.5 L1424.0,226.2 L1425.0,218.1 L1426.0,210.2 L1427.0,202.5 L1428.0,195.1 L1429.0,188.1 L1430.0,181.4 L1431.0,175.1 L1432.0,169.2 L1433.0,163.9 L1434.0,159.0 L1435.0,154.6 L1436.0,150.8 L1437.0,147.6 L1438.0,144.9 L1439.0,142.9 L1440.0,141.4 L1441.0,140.6 L1442.0,140.4 L1443.0,140.8 L1444.0,141.7 L1445.0,143.2 L1446.0,145.2 L1447.0,147.7 L1448.0,150.8 L1449.0,154.3 L1450.0,158.3 L1451.0,162.8 L1452.0,167.7 L1453.0,172.9 L1454.0,178.6 L1455.0,184.6 L1456.0,191.0 L1457.0,197.6 L1458.0,204.5 L1459.0,211.6 L1460.0,218.8 L1461.0,226.2 L1462.0,233.7 L1463.0,241.3 L1464.0,248.8 L1465.0,256.4 L1466.0,263.9 L1467.0,271.3 L1468.0,278.5 L1469.0,285.6 L1470.0,292.5 L1471.0,299.1 L1472.0,305.5 L1473.0,311.5 L1474.0,317.2 L1475.0,322.4 L1476.0,327.3 L1477.0,331.8 L1478.0,335.8 L1479.0,339.3 L1480.0,342.4 L1481.0,344.9 L1482.0,346.9 L1483.0,348.4 L1484.0,349.3 L1485.0,349.7 L1486.0,349.5 L1487.0,348.9 L1488.0,347.7 L1489.0,346.0 L1490.0,343.8 L1491.0,341.1 L1492.0,337.9 L1493.0,334.3 L1494.0,330.3 L1495.0,325.8 L1496.0,320.9 L1497.0,315.7 L1498.0,310.2 L1499.0,304.3 L1500.0,298.2 L1501.0,291.8 L1502.0,285.2 L1503.0,278.4 L1504.0,271.5 L1505.0,264.6 L1506.0,257.5 L1507.0,250.4 L1508.0,243.4 L1509.0,236.3 L1510.0,229.4 L1511.0,222.6 L1512.0,216.0 L1513.0,209.6 L1514.0,203.4 L1515.0,197.5 L1516.0,191.9 L1517.0,186.6 L1518.0,181.6 L1519.0,177.1 L1520.0,173.0 L1521.0,169.3 L1522.0,166.0 L1523.0,163.2 L1524.0,160.9 L1525.0,159.1 L1526.0,157.8 L1527.0,157.1 L1528.0,156.8 L1529.0,157.1 L1530.0,157.9 L1531.0,159.2 L1532.0,161.1 L1533.0,163.4 L1534.0,166.3 L1535.0,169.6 L1536.0,173.4 L1537.0,177.7 L1538.0,182.4 L1539.0,187.5 L1540.0,192.9 L1541.0,198.7 L1542.0,204.8 L1543.0,211.1 L1544.0,217.7 L1545.0,224.5 L1546.0,231.5 L1547.0,238.6 L1548.0,245.8 L1549.0,253.0 L1550.0,260.2 L1551.0,267.4 L1552.0,274.6 L1553.0,281.6 L1554.0,288.5 L1555.0,295.2 L1556.0,301.7 L1557.0,307.9 L1558.0,313.9 L1559.0,319.5 L1560.0,324.7 L1561.0,329.6 L1562.0,334.1 L1563.0,338.1 L1564.0,341.7 L1565.0,344.8 L1566.0,347.4 L1567.0,349.5 L1568.0,351.1 L1569.0,352.2 L1570.0,352.7 L1571.0,352.7 L1572.0,352.1 L1573.0,350.8 L1574.0,348.9 L1575.0,346.3 L1576.0,343.2 L1577.0,339.5 L1578.0,335.2 L1579.0,330.3 L1580.0,325.0 L1581.0,319.2 L1582.0,312.9 L1583.0,306.2 L1584.0,299.1 L1585.0,291.8 L1586.0,284.1 L1587.0,276.2 L1588.0,268.1 L1589.0,259.9 L1590.0,251.6 L1591.0,243.2 L1592.0,234.8 L1593.0,226.5 L1594.0,218.3 L1595.0,210.3 L1596.0,202.4 L1597.0,194.8 L1598.0,187.5 L1599.0,180.5 L1600.0,173.9 L1601.0,167.7 L1602.0,162.0 L1603.0,156.8 L1604.0,152.0 L1605.0,147.8 L1606.0,144.2 L1607.0,141.2 L1608.0,138.8 L1609.0,137.0 L1610.0,135.8 L1611.0,135.3 L1612.0,135.5 L1613.0,136.5 L1614.0,138.4 L1615.0,141.2 L1616.0,144.7 L1617.0,149.1 L1618.0,154.2 L1619.0,160.1 L1620.0,166.8 L1621.0,174.0 L1622.0,182.0 L1623.0,190.5 L1624.0,199.5 L1625.0,209.0 L1626.0,219.0 L1627.0,229.3 L1627.5,234.5" stroke="#000" stroke-dasharray="18.5 6 7.5 6"/>
</g>
<clipPath id="cb"><rect x="219.0" y="570.0" width="1408.5" height="288.7"/></clipPath>
<g clip-path="url(#cb)" fill="none" stroke-width="5.8" stroke-linejoin="round">
<path d="M219.0,665.0 L220.0,665.1 L221.0,665.6 L222.0,666.3 L223.0,667.2 L224.0,668.5 L225.0,670.0 L226.0,671.7 L227.0,673.7 L228.0,675.9 L229.0,678.4 L230.0,681.0 L231.0,683.8 L232.0,686.8 L233.0,689.9 L234.0,693.2 L235.0,696.5 L236.0,700.0 L237.0,703.5 L238.0,707.1 L239.0,710.6 L240.0,714.2 L241.0,717.8 L242.0,721.3 L243.0,724.7 L244.0,728.0 L245.0,731.3 L246.0,734.4 L247.0,737.4 L248.0,740.2 L249.0,742.8 L250.0,745.2 L251.0,747.4 L252.0,749.4 L253.0,751.1 L254.0,752.6 L255.0,753.8 L256.0,754.7 L257.0,755.4 L258.0,755.8 L259.0,755.9 L260.0,755.8 L261.0,755.4 L262.0,754.8 L263.0,753.9 L264.0,752.9 L265.0,751.6 L266.0,750.1 L267.0,748.4 L268.0,746.5 L269.0,744.5 L270.0,742.3 L271.0,739.9 L272.0,737.5 L273.0,734.9 L274.0,732.2 L275.0,729.4 L276.0,726.6 L277.0,723.7 L278.0,720.8 L279.0,718.0 L280.0,715.1 L281.0,712.3 L282.0,709.5 L283.0,706.8 L284.0,704.2 L285.0,701.7 L286.0,699.3 L287.0,697.1 L288.0,695.1 L289.0,693.2 L290.0,691.5 L291.0,690.0 L292.0,688.7 L293.0,687.6 L294.0,686.7 L295.0,686.1 L296.0,685.7 L297.0,685.5 L298.0,685.6 L299.0,685.9 L300.0,686.4 L301.0,687.1 L302.0,688.1 L303.0,689.2 L304.0,690.6 L305.0,692.1 L306.0,693.8 L307.0,695.6 L308.0,697.5 L309.0,699.6 L310.0,701.7 L311.0,703.9 L312.0,706.1 L313.0,708.3 L314.0,710.6 L315.0,712.8 L316.0,714.9 L317.0,717.0 L318.0,718.9 L319.0,720.8 L320.0,722.5 L321.0,724.0 L322.0,725.4 L323.0,726.6 L324.0,727.6 L325.0,728.4 L326.0,728.9 L327.0,729.3 L328.0,729.4 L329.0,729.3 L330.0,729.1 L331.0,728.8 L332.0,728.3 L333.0,727.7 L334.0,727.0 L335.0,726.2 L336.0,725.3 L337.0,724.4 L338.0,723.3 L339.0,722.2 L340.0,721.0 L341.0,719.8 L342.0,718.6 L343.0,717.4 L344.0,716.3 L345.0,715.1 L346.0,714.0 L347.0,712.9 L348.0,712.0 L349.0,711.1 L350.0,710.3 L351.0,709.6 L352.0,709.0 L353.0,708.6 L354.0,708.2 L355.0,708.1 L356.0,708.0 L357.0,708.1 L358.0,708.3 L359.0,708.6 L360.0,709.0 L361.0,709.6 L362.0,710.2 L363.0,711.0 L364.0,711.8 L365.0,712.7 L366.0,713.7 L367.0,714.8 L368.0,715.9 L369.0,717.1 L370.0,718.3 L371.0,719.5 L372.0,720.7 L373.0,721.8 L374.0,723.0 L375.0,724.1 L376.0,725.2 L377.0,726.3 L378.0,727.2 L379.0,728.1 L380.0,728.9 L381.0,729.6 L382.0,730.2 L383.0,730.7 L384.0,731.0 L385.0,731.3 L386.0,731.4 L387.0,731.4 L388.0,731.2 L389.0,730.7 L390.0,730.1 L391.0,729.3 L392.0,728.3 L393.0,727.0 L394.0,725.6 L395.0,724.1 L396.0,722.4 L397.0,720.5 L398.0,718.5 L399.0,716.4 L400.0,714.2 L401.0,711.9 L402.0,709.6 L403.0,707.2 L404.0,704.8 L405.0,702.4 L406.0,700.0 L407.0,697.6 L408.0,695.3 L409.0,693.0 L410.0,690.8 L411.0,688.8 L412.0,686.8 L413.0,685.0 L414.0,683.3 L415.0,681.8 L416.0,680.4 L417.0,679.2 L418.0,678.2 L419.0,677.4 L420.0,676.9 L421.0,676.5 L422.0,676.3 L423.0,676.4 L424.0,676.7 L425.0,677.2 L426.0,678.0 L427.0,679.1 L428.0,680.4 L429.0,681.9 L430.0,683.6 L431.0,685.6 L432.0,687.7 L433.0,690.0 L434.0,692.5 L435.0,695.2 L436.0,698.0 L437.0,700.9 L438.0,704.0 L439.0,707.1 L440.0,710.3 L441.0,713.6 L442.0,716.8 L443.0,720.1 L444.0,723.4 L445.0,726.7 L446.0,729.9 L447.0,733.1 L448.0,736.2 L449.0,739.1 L450.0,742.0 L451.0,744.7 L452.0,747.3 L453.0,749.7 L454.0,751.9 L455.0,753.9 L456.0,755.8 L457.0,757.4 L458.0,758.7 L459.0,759.9 L460.0,760.8 L461.0,761.4 L462.0,761.8 L463.0,762.0 L464.0,761.9 L465.0,761.4 L466.0,760.7 L467.0,759.6 L468.0,758.3 L469.0,756.7 L470.0,754.8 L471.0,752.6 L472.0,750.2 L473.0,747.5 L474.0,744.6 L475.0,741.6 L476.0,738.3 L477.0,734.9 L478.0,731.4 L479.0,727.8 L480.0,724.1 L481.0,720.3 L482.0,716.5 L483.0,712.7 L484.0,708.9 L485.0,705.2 L486.0,701.5 L487.0,697.9 L488.0,694.4 L489.0,691.1 L490.0,688.0 L491.0,685.0 L492.0,682.2 L493.0,679.7 L494.0,677.4 L495.0,675.4 L496.0,673.6 L497.0,672.1 L498.0,670.9 L499.0,670.0 L500.0,669.4 L501.0,669.1 L502.0,669.2 L503.0,669.5 L504.0,670.1 L505.0,671.0 L506.0,672.2 L507.0,673.6 L508.0,675.3 L509.0,677.3 L510.0,679.5 L511.0,681.9 L512.0,684.5 L513.0,687.3 L514.0,690.3 L515.0,693.4 L516.0,696.6 L517.0,699.9 L518.0,703.3 L519.0,706.8 L520.0,710.3 L521.0,713.8 L522.0,717.3 L523.0,720.7 L524.0,724.1 L525.0,727.4 L526.0,730.5 L527.0,733.5 L528.0,736.4 L529.0,739.1 L530.0,741.6 L531.0,743.9 L532.0,745.9 L533.0,747.7 L534.0,749.3 L535.0,750.6 L536.0,751.6 L537.0,752.3 L538.0,752.8 L539.0,752.9 L540.0,752.8 L541.0,752.4 L542.0,751.8 L543.0,750.9 L544.0,749.8 L545.0,748.5 L546.0,747.0 L547.0,745.2 L548.0,743.3 L549.0,741.2 L550.0,738.9 L551.0,736.5 L552.0,733.9 L553.0,731.2 L554.0,728.5 L555.0,725.7 L556.0,722.8 L557.0,719.9 L558.0,716.9 L559.0,714.0 L560.0,711.2 L561.0,708.4 L562.0,705.6 L563.0,703.0 L564.0,700.4 L565.0,698.0 L566.0,695.8 L567.0,693.7 L568.0,691.8 L569.0,690.1 L570.0,688.6 L571.0,687.3 L572.0,686.3 L573.0,685.5 L574.0,684.9 L575.0,684.6 L576.0,684.5 L577.0,684.7 L578.0,685.0 L579.0,685.6 L580.0,686.4 L581.0,687.3 L582.0,688.5 L583.0,689.8 L584.0,691.3 L585.0,692.9 L586.0,694.6 L587.0,696.4 L588.0,698.3 L589.0,700.2 L590.0,702.2 L591.0,704.1 L592.0,706.0 L593.0,707.9 L594.0,709.8 L595.0,711.5 L596.0,713.1 L597.0,714.6 L598.0,716.0 L599.0,717.2 L600.0,718.2 L601.0,719.0 L602.0,719.6 L603.0,720.0 L604.0,720.2 L605.0,720.2 L606.0,720.1 L607.0,719.9 L608.0,719.7 L609.0,719.4 L610.0,719.0 L611.0,718.6 L612.0,718.1 L613.0,717.5 L614.0,716.9 L615.0,716.3 L616.0,715.6 L617.0,714.9 L618.0,714.1 L619.0,713.4 L620.0,712.6 L621.0,711.9 L622.0,711.2 L623.0,710.5 L624.0,709.8 L625.0,709.1 L626.0,708.5 L627.0,708.0 L628.0,707.5 L629.0,707.0 L630.0,706.7 L631.0,706.4 L632.0,706.1 L633.0,706.0 L634.0,705.9 L635.0,705.9 L636.0,706.1 L637.0,706.4 L638.0,706.9 L639.0,707.6 L640.0,708.4 L641.0,709.3 L642.0,710.4 L643.0,711.7 L644.0,713.0 L645.0,714.5 L646.0,716.0 L647.0,717.6 L648.0,719.3 L649.0,721.1 L650.0,722.9 L651.0,724.7 L652.0,726.5 L653.0,728.4 L654.0,730.2 L655.0,731.9 L656.0,733.6 L657.0,735.3 L658.0,736.8 L659.0,738.3 L660.0,739.7 L661.0,740.9 L662.0,742.0 L663.0,743.0 L664.0,743.9 L665.0,744.6 L666.0,745.1 L667.0,745.5 L668.0,745.7 L669.0,745.7 L670.0,745.5 L671.0,745.0 L672.0,744.3 L673.0,743.4 L674.0,742.2 L675.0,740.8 L676.0,739.1 L677.0,737.3 L678.0,735.2 L679.0,733.0 L680.0,730.6 L681.0,728.0 L682.0,725.3 L683.0,722.5 L684.0,719.5 L685.0,716.5 L686.0,713.5 L687.0,710.4 L688.0,707.2 L689.0,704.1 L690.0,701.0 L691.0,697.9 L692.0,694.9 L693.0,691.9 L694.0,689.1 L695.0,686.3 L696.0,683.7 L697.0,681.3 L698.0,679.0 L699.0,676.9 L700.0,675.0 L701.0,673.4 L702.0,671.9 L703.0,670.6 L704.0,669.6 L705.0,668.9 L706.0,668.4 L707.0,668.1 L708.0,668.1 L709.0,668.5 L710.0,669.1 L711.0,670.1 L712.0,671.3 L713.0,672.9 L714.0,674.7 L715.0,676.9 L716.0,679.3 L717.0,681.9 L718.0,684.8 L719.0,687.8 L720.0,691.1 L721.0,694.5 L722.0,698.1 L723.0,701.8 L724.0,705.5 L725.0,709.3 L726.0,713.2 L727.0,717.1 L728.0,720.9 L729.0,724.7 L730.0,728.5 L731.0,732.1 L732.0,735.6 L733.0,739.0 L734.0,742.2 L735.0,745.2 L736.0,748.0 L737.0,750.6 L738.0,752.9 L739.0,754.9 L740.0,756.7 L741.0,758.2 L742.0,759.4 L743.0,760.2 L744.0,760.8 L745.0,761.0 L746.0,760.9 L747.0,760.5 L748.0,759.7 L749.0,758.6 L750.0,757.2 L751.0,755.5 L752.0,753.5 L753.0,751.3 L754.0,748.7 L755.0,745.9 L756.0,742.9 L757.0,739.7 L758.0,736.3 L759.0,732.7 L760.0,729.0 L761.0,725.2 L762.0,721.3 L763.0,717.4 L764.0,713.4 L765.0,709.4 L766.0,705.5 L767.0,701.5 L768.0,697.7 L769.0,694.0 L770.0,690.4 L771.0,687.0 L772.0,683.7 L773.0,680.6 L774.0,677.8 L775.0,675.2 L776.0,672.9 L777.0,670.8 L778.0,669.1 L779.0,667.6 L780.0,666.5 L781.0,665.7 L782.0,665.2 L783.0,665.0 L784.0,665.1 L785.0,665.6 L786.0,666.3 L787.0,667.3 L788.0,668.5 L789.0,670.0 L790.0,671.8 L791.0,673.8 L792.0,676.0 L793.0,678.4 L794.0,681.1 L795.0,683.9 L796.0,686.9 L797.0,690.0 L798.0,693.2 L799.0,696.6 L800.0,700.0 L801.0,703.5 L802.0,707.0 L803.0,710.5 L804.0,714.1 L805.0,717.5 L806.0,721.0 L807.0,724.3 L808.0,727.6 L809.0,730.7 L810.0,733.7 L811.0,736.5 L812.0,739.2 L813.0,741.7 L814.0,743.9 L815.0,745.9 L816.0,747.7 L817.0,749.3 L818.0,750.5 L819.0,751.5 L820.0,752.3 L821.0,752.7 L822.0,752.9 L823.0,752.8 L824.0,752.5 L825.0,752.0 L826.0,751.3 L827.0,750.4 L828.0,749.3 L829.0,748.0 L830.0,746.5 L831.0,744.9 L832.0,743.1 L833.0,741.1 L834.0,739.1 L835.0,736.9 L836.0,734.7 L837.0,732.4 L838.0,730.0 L839.0,727.6 L840.0,725.2 L841.0,722.8 L842.0,720.3 L843.0,718.0 L844.0,715.7 L845.0,713.4 L846.0,711.3 L847.0,709.3 L848.0,707.3 L849.0,705.6 L850.0,704.0 L851.0,702.5 L852.0,701.2 L853.0,700.1 L854.0,699.2 L855.0,698.5 L856.0,698.0 L857.0,697.8 L858.0,697.7 L859.0,697.8 L860.0,698.0 L861.0,698.2 L862.0,698.6 L863.0,699.1 L864.0,699.6 L865.0,700.3 L866.0,701.0 L867.0,701.8 L868.0,702.6 L869.0,703.6 L870.0,704.5 L871.0,705.5 L872.0,706.5 L873.0,707.5 L874.0,708.6 L875.0,709.6 L876.0,710.6 L877.0,711.6 L878.0,712.5 L879.0,713.4 L880.0,714.3 L881.0,715.1 L882.0,715.8 L883.0,716.4 L884.0,716.9 L885.0,717.4 L886.0,717.7 L887.0,718.0 L888.0,718.1 L889.0,718.2 L890.0,718.1 L891.0,717.9 L892.0,717.5 L893.0,717.0 L894.0,716.4 L895.0,715.6 L896.0,714.7 L897.0,713.7 L898.0,712.6 L899.0,711.5 L900.0,710.2 L901.0,708.9 L902.0,707.6 L903.0,706.2 L904.0,704.9 L905.0,703.5 L906.0,702.2 L907.0,701.0 L908.0,699.8 L909.0,698.6 L910.0,697.6 L911.0,696.6 L912.0,695.8 L913.0,695.1 L914.0,694.5 L915.0,694.1 L916.0,693.8 L917.0,693.6 L918.0,693.6 L919.0,693.8 L920.0,694.3 L921.0,694.9 L922.0,695.7 L923.0,696.8 L924.0,698.0 L925.0,699.4 L926.0,700.9 L927.0,702.6 L928.0,704.5 L929.0,706.5 L930.0,708.6 L931.0,710.8 L932.0,713.1 L933.0,715.4 L934.0,717.8 L935.0,720.2 L936.0,722.7 L937.0,725.1 L938.0,727.4 L939.0,729.8 L940.0,732.0 L941.0,734.2 L942.0,736.3 L943.0,738.3 L944.0,740.1 L945.0,741.8 L946.0,743.3 L947.0,744.7 L948.0,745.9 L949.0,746.9 L950.0,747.7 L951.0,748.2 L952.0,748.6 L953.0,748.8 L954.0,748.7 L955.0,748.4 L956.0,747.7 L957.0,746.8 L958.0,745.6 L959.0,744.1 L960.0,742.4 L961.0,740.5 L962.0,738.3 L963.0,735.8 L964.0,733.2 L965.0,730.5 L966.0,727.5 L967.0,724.5 L968.0,721.3 L969.0,718.0 L970.0,714.7 L971.0,711.3 L972.0,708.0 L973.0,704.6 L974.0,701.3 L975.0,698.1 L976.0,694.9 L977.0,691.9 L978.0,689.0 L979.0,686.2 L980.0,683.7 L981.0,681.3 L982.0,679.1 L983.0,677.2 L984.0,675.5 L985.0,674.1 L986.0,673.0 L987.0,672.1 L988.0,671.5 L989.0,671.2 L990.0,671.2 L991.0,671.5 L992.0,672.1 L993.0,672.9 L994.0,674.0 L995.0,675.3 L996.0,676.9 L997.0,678.8 L998.0,680.8 L999.0,683.1 L1000.0,685.6 L1001.0,688.3 L1002.0,691.1 L1003.0,694.1 L1004.0,697.2 L1005.0,700.5 L1006.0,703.8 L1007.0,707.2 L1008.0,710.7 L1009.0,714.2 L1010.0,717.7 L1011.0,721.2 L1012.0,724.6 L1013.0,728.0 L1014.0,731.4 L1015.0,734.6 L1016.0,737.7 L1017.0,740.7 L1018.0,743.5 L1019.0,746.1 L1020.0,748.6 L1021.0,750.8 L1022.0,752.8 L1023.0,754.6 L1024.0,756.2 L1025.0,757.5 L1026.0,758.5 L1027.0,759.3 L1028.0,759.8 L1029.0,760.0 L1030.0,759.9 L1031.0,759.6 L1032.0,759.1 L1033.0,758.3 L1034.0,757.3 L1035.0,756.1 L1036.0,754.6 L1037.0,753.0 L1038.0,751.1 L1039.0,749.0 L1040.0,746.8 L1041.0,744.4 L1042.0,741.8 L1043.0,739.1 L1044.0,736.2 L1045.0,733.3 L1046.0,730.3 L1047.0,727.2 L1048.0,724.0 L1049.0,720.9 L1050.0,717.7 L1051.0,714.5 L1052.0,711.3 L1053.0,708.2 L1054.0,705.1 L1055.0,702.1 L1056.0,699.2 L1057.0,696.4 L1058.0,693.7 L1059.0,691.2 L1060.0,688.8 L1061.0,686.6 L1062.0,684.6 L1063.0,682.8 L1064.0,681.2 L1065.0,679.8 L1066.0,678.6 L1067.0,677.7 L1068.0,677.0 L1069.0,676.5 L1070.0,676.3 L1071.0,676.3 L1072.0,676.6 L1073.0,677.0 L1074.0,677.6 L1075.0,678.4 L1076.0,679.4 L1077.0,680.5 L1078.0,681.9 L1079.0,683.3 L1080.0,685.0 L1081.0,686.7 L1082.0,688.6 L1083.0,690.6 L1084.0,692.7 L1085.0,694.9 L1086.0,697.1 L1087.0,699.4 L1088.0,701.7 L1089.0,704.0 L1090.0,706.4 L1091.0,708.7 L1092.0,710.9 L1093.0,713.1 L1094.0,715.2 L1095.0,717.3 L1096.0,719.2 L1097.0,721.0 L1098.0,722.7 L1099.0,724.3 L1100.0,725.7 L1101.0,726.9 L1102.0,727.9 L1103.0,728.8 L1104.0,729.5 L1105.0,730.0 L1106.0,730.3 L1107.0,730.4 L1108.0,730.3 L1109.0,730.1 L1110.0,729.8 L1111.0,729.4 L1112.0,728.8 L1113.0,728.1 L1114.0,727.3 L1115.0,726.4 L1116.0,725.4 L1117.0,724.4 L1118.0,723.3 L1119.0,722.1 L1120.0,720.9 L1121.0,719.7 L1122.0,718.5 L1123.0,717.3 L1124.0,716.1 L1125.0,714.9 L1126.0,713.8 L1127.0,712.8 L1128.0,711.8 L1129.0,710.9 L1130.0,710.2 L1131.0,709.5 L1132.0,708.9 L1133.0,708.5 L1134.0,708.2 L1135.0,708.0 L1136.0,708.0 L1137.0,708.1 L1138.0,708.2 L1139.0,708.5 L1140.0,708.9 L1141.0,709.4 L1142.0,709.9 L1143.0,710.6 L1144.0,711.3 L1145.0,712.1 L1146.0,712.9 L1147.0,713.8 L1148.0,714.8 L1149.0,715.8 L1150.0,716.8 L1151.0,717.8 L1152.0,718.8 L1153.0,719.8 L1154.0,720.8 L1155.0,721.8 L1156.0,722.8 L1157.0,723.7 L1158.0,724.5 L1159.0,725.3 L1160.0,726.0 L1161.0,726.6 L1162.0,727.1 L1163.0,727.6 L1164.0,727.9 L1165.0,728.2 L1166.0,728.3 L1167.0,728.4 L1168.0,728.3 L1169.0,728.0 L1170.0,727.5 L1171.0,726.9 L1172.0,726.0 L1173.0,725.0 L1174.0,723.8 L1175.0,722.4 L1176.0,721.0 L1177.0,719.4 L1178.0,717.7 L1179.0,715.8 L1180.0,714.0 L1181.0,712.0 L1182.0,710.0 L1183.0,708.1 L1184.0,706.1 L1185.0,704.1 L1186.0,702.1 L1187.0,700.2 L1188.0,698.4 L1189.0,696.7 L1190.0,695.1 L1191.0,693.6 L1192.0,692.2 L1193.0,691.0 L1194.0,690.0 L1195.0,689.1 L1196.0,688.4 L1197.0,687.9 L1198.0,687.6 L1199.0,687.5 L1200.0,687.6 L1201.0,687.9 L1202.0,688.5 L1203.0,689.3 L1204.0,690.4 L1205.0,691.6 L1206.0,693.1 L1207.0,694.8 L1208.0,696.7 L1209.0,698.7 L1210.0,700.9 L1211.0,703.3 L1212.0,705.8 L1213.0,708.4 L1214.0,711.0 L1215.0,713.8 L1216.0,716.6 L1217.0,719.4 L1218.0,722.3 L1219.0,725.1 L1220.0,727.9 L1221.0,730.6 L1222.0,733.3 L1223.0,735.9 L1224.0,738.4 L1225.0,740.7 L1226.0,742.9 L1227.0,744.9 L1228.0,746.8 L1229.0,748.4 L1230.0,749.9 L1231.0,751.1 L1232.0,752.2 L1233.0,753.0 L1234.0,753.5 L1235.0,753.8 L1236.0,753.9 L1237.0,753.7 L1238.0,753.3 L1239.0,752.7 L1240.0,751.8 L1241.0,750.8 L1242.0,749.5 L1243.0,747.9 L1244.0,746.2 L1245.0,744.3 L1246.0,742.2 L1247.0,740.0 L1248.0,737.6 L1249.0,735.0 L1250.0,732.3 L1251.0,729.5 L1252.0,726.6 L1253.0,723.7 L1254.0,720.6 L1255.0,717.5 L1256.0,714.4 L1257.0,711.3 L1258.0,708.1 L1259.0,705.0 L1260.0,702.0 L1261.0,698.9 L1262.0,696.0 L1263.0,693.1 L1264.0,690.4 L1265.0,687.8 L1266.0,685.3 L1267.0,683.0 L1268.0,680.8 L1269.0,678.8 L1270.0,677.0 L1271.0,675.4 L1272.0,674.0 L1273.0,672.8 L1274.0,671.8 L1275.0,671.1 L1276.0,670.5 L1277.0,670.3 L1278.0,670.2 L1279.0,670.4 L1280.0,670.8 L1281.0,671.5 L1282.0,672.4 L1283.0,673.5 L1284.0,674.8 L1285.0,676.4 L1286.0,678.1 L1287.0,680.1 L1288.0,682.2 L1289.0,684.4 L1290.0,686.9 L1291.0,689.4 L1292.0,692.1 L1293.0,694.9 L1294.0,697.7 L1295.0,700.7 L1296.0,703.6 L1297.0,706.6 L1298.0,709.7 L1299.0,712.7 L1300.0,715.7 L1301.0,718.6 L1302.0,721.5 L1303.0,724.3 L1304.0,727.0 L1305.0,729.5 L1306.0,732.0 L1307.0,734.3 L1308.0,736.4 L1309.0,738.4 L1310.0,740.2 L1311.0,741.8 L1312.0,743.2 L1313.0,744.3 L1314.0,745.2 L1315.0,746.0 L1316.0,746.4 L1317.0,746.7 L1318.0,746.7 L1319.0,746.5 L1320.0,746.1 L1321.0,745.6 L1322.0,744.9 L1323.0,744.0 L1324.0,743.0 L1325.0,741.8 L1326.0,740.5 L1327.0,739.0 L1328.0,737.4 L1329.0,735.7 L1330.0,733.9 L1331.0,732.0 L1332.0,730.0 L1333.0,728.0 L1334.0,725.9 L1335.0,723.8 L1336.0,721.7 L1337.0,719.6 L1338.0,717.5 L1339.0,715.4 L1340.0,713.4 L1341.0,711.4 L1342.0,709.5 L1343.0,707.7 L1344.0,706.0 L1345.0,704.4 L1346.0,702.9 L1347.0,701.6 L1348.0,700.4 L1349.0,699.4 L1350.0,698.5 L1351.0,697.8 L1352.0,697.3 L1353.0,696.9 L1354.0,696.7 L1355.0,696.7 L1356.0,696.9 L1357.0,697.2 L1358.0,697.7 L1359.0,698.4 L1360.0,699.2 L1361.0,700.2 L1362.0,701.3 L1363.0,702.5 L1364.0,703.8 L1365.0,705.2 L1366.0,706.6 L1367.0,708.1 L1368.0,709.6 L1369.0,711.1 L1370.0,712.6 L1371.0,714.1 L1372.0,715.5 L1373.0,716.9 L1374.0,718.1 L1375.0,719.3 L1376.0,720.3 L1377.0,721.2 L1378.0,721.9 L1379.0,722.5 L1380.0,723.0 L1381.0,723.2 L1382.0,723.3 L1383.0,723.2 L1384.0,723.1 L1385.0,722.8 L1386.0,722.4 L1387.0,721.9 L1388.0,721.3 L1389.0,720.7 L1390.0,719.9 L1391.0,719.1 L1392.0,718.1 L1393.0,717.2 L1394.0,716.2 L1395.0,715.1 L1396.0,714.0 L1397.0,712.9 L1398.0,711.8 L1399.0,710.7 L1400.0,709.7 L1401.0,708.6 L1402.0,707.6 L1403.0,706.7 L1404.0,705.8 L1405.0,705.0 L1406.0,704.2 L1407.0,703.6 L1408.0,703.0 L1409.0,702.6 L1410.0,702.2 L1411.0,702.0 L1412.0,701.8 L1413.0,701.8 L1414.0,701.9 L1415.0,702.2 L1416.0,702.7 L1417.0,703.3 L1418.0,704.0 L1419.0,704.9 L1420.0,705.9 L1421.0,707.0 L1422.0,708.3 L1423.0,709.7 L1424.0,711.1 L1425.0,712.6 L1426.0,714.2 L1427.0,715.9 L1428.0,717.6 L1429.0,719.3 L1430.0,721.0 L1431.0,722.7 L1432.0,724.4 L1433.0,726.0 L1434.0,727.6 L1435.0,729.2 L1436.0,730.6 L1437.0,732.0 L1438.0,733.2 L1439.0,734.4 L1440.0,735.4 L1441.0,736.3 L1442.0,737.1 L1443.0,737.7 L1444.0,738.1 L1445.0,738.4 L1446.0,738.6 L1447.0,738.6 L1448.0,738.3 L1449.0,737.9 L1450.0,737.2 L1451.0,736.4 L1452.0,735.3 L1453.0,734.1 L1454.0,732.7 L1455.0,731.1 L1456.0,729.3 L1457.0,727.4 L1458.0,725.3 L1459.0,723.1 L1460.0,720.8 L1461.0,718.4 L1462.0,716.0 L1463.0,713.4 L1464.0,710.8 L1465.0,708.2 L1466.0,705.5 L1467.0,702.9 L1468.0,700.2 L1469.0,697.6 L1470.0,695.1 L1471.0,692.6 L1472.0,690.2 L1473.0,687.9 L1474.0,685.7 L1475.0,683.6 L1476.0,681.7 L1477.0,679.9 L1478.0,678.3 L1479.0,676.8 L1480.0,675.6 L1481.0,674.5 L1482.0,673.6 L1483.0,673.0 L1484.0,672.5 L1485.0,672.3 L1486.0,672.2 L1487.0,672.4 L1488.0,672.8 L1489.0,673.5 L1490.0,674.4 L1491.0,675.6 L1492.0,676.9 L1493.0,678.5 L1494.0,680.3 L1495.0,682.3 L1496.0,684.4 L1497.0,686.8 L1498.0,689.3 L1499.0,691.9 L1500.0,694.7 L1501.0,697.6 L1502.0,700.6 L1503.0,703.6 L1504.0,706.8 L1505.0,710.0 L1506.0,713.2 L1507.0,716.4 L1508.0,719.6 L1509.0,722.8 L1510.0,725.9 L1511.0,729.0 L1512.0,732.0 L1513.0,734.9 L1514.0,737.7 L1515.0,740.4 L1516.0,742.9 L1517.0,745.3 L1518.0,747.5 L1519.0,749.5 L1520.0,751.4 L1521.0,753.0 L1522.0,754.4 L1523.0,755.6 L1524.0,756.5 L1525.0,757.2 L1526.0,757.7 L1527.0,758.0 L1528.0,758.0 L1529.0,757.7 L1530.0,757.2 L1531.0,756.5 L1532.0,755.6 L1533.0,754.4 L1534.0,753.0 L1535.0,751.3 L1536.0,749.5 L1537.0,747.5 L1538.0,745.3 L1539.0,743.0 L1540.0,740.5 L1541.0,737.8 L1542.0,735.1 L1543.0,732.2 L1544.0,729.2 L1545.0,726.2 L1546.0,723.2 L1547.0,720.1 L1548.0,717.0 L1549.0,713.9 L1550.0,710.9 L1551.0,707.9 L1552.0,704.9 L1553.0,702.1 L1554.0,699.3 L1555.0,696.7 L1556.0,694.2 L1557.0,691.9 L1558.0,689.7 L1559.0,687.7 L1560.0,685.9 L1561.0,684.3 L1562.0,682.9 L1563.0,681.7 L1564.0,680.8 L1565.0,680.1 L1566.0,679.6 L1567.0,679.4 L1568.0,679.4 L1569.0,679.7 L1570.0,680.1 L1571.0,680.7 L1572.0,681.5 L1573.0,682.4 L1574.0,683.6 L1575.0,684.9 L1576.0,686.3 L1577.0,687.9 L1578.0,689.7 L1579.0,691.5 L1580.0,693.4 L1581.0,695.4 L1582.0,697.5 L1583.0,699.6 L1584.0,701.8 L1585.0,703.9 L1586.0,706.1 L1587.0,708.2 L1588.0,710.3 L1589.0,712.3 L1590.0,714.2 L1591.0,716.0 L1592.0,717.8 L1593.0,719.4 L1594.0,720.8 L1595.0,722.1 L1596.0,723.3 L1597.0,724.2 L1598.0,725.0 L1599.0,725.6 L1600.0,726.0 L1601.0,726.3 L1602.0,726.3 L1603.0,726.2 L1604.0,726.1 L1605.0,725.9 L1606.0,725.6 L1607.0,725.2 L1608.0,724.8 L1609.0,724.3 L1610.0,723.8 L1611.0,723.2 L1612.0,722.5 L1613.0,721.8 L1614.0,721.1 L1615.0,720.3 L1616.0,719.5 L1617.0,718.7 L1618.0,717.8 L1619.0,716.9 L1620.0,716.1 L1621.0,715.2 L1622.0,714.4 L1623.0,713.5 L1624.0,712.7 L1625.0,711.9 L1626.0,711.1 L1627.0,710.4 L1627.5,710.1" stroke="rgb(218,18,26)"/>
<path d="M219.0,761.2 L220.0,761.1 L221.0,760.7 L222.0,759.9 L223.0,758.9 L224.0,757.7 L225.0,756.1 L226.0,754.3 L227.0,752.2 L228.0,749.9 L229.0,747.4 L230.0,744.7 L231.0,741.8 L232.0,738.7 L233.0,735.5 L234.0,732.1 L235.0,728.7 L236.0,725.1 L237.0,721.5 L238.0,717.8 L239.0,714.1 L240.0,710.4 L241.0,706.8 L242.0,703.1 L243.0,699.6 L244.0,696.1 L245.0,692.8 L246.0,689.6 L247.0,686.5 L248.0,683.6 L249.0,680.9 L250.0,678.4 L251.0,676.1 L252.0,674.1 L253.0,672.3 L254.0,670.8 L255.0,669.5 L256.0,668.6 L257.0,667.9 L258.0,667.5 L259.0,667.4 L260.0,667.5 L261.0,668.0 L262.0,668.7 L263.0,669.6 L264.0,670.9 L265.0,672.4 L266.0,674.1 L267.0,676.0 L268.0,678.2 L269.0,680.6 L270.0,683.1 L271.0,685.9 L272.0,688.7 L273.0,691.8 L274.0,694.9 L275.0,698.1 L276.0,701.4 L277.0,704.7 L278.0,708.0 L279.0,711.4 L280.0,714.7 L281.0,718.0 L282.0,721.2 L283.0,724.3 L284.0,727.4 L285.0,730.2 L286.0,733.0 L287.0,735.6 L288.0,738.0 L289.0,740.2 L290.0,742.1 L291.0,743.9 L292.0,745.4 L293.0,746.6 L294.0,747.7 L295.0,748.4 L296.0,748.9 L297.0,749.0 L298.0,749.0 L299.0,748.6 L300.0,748.1 L301.0,747.3 L302.0,746.2 L303.0,745.0 L304.0,743.5 L305.0,741.8 L306.0,740.0 L307.0,738.0 L308.0,735.9 L309.0,733.7 L310.0,731.3 L311.0,728.9 L312.0,726.5 L313.0,724.1 L314.0,721.6 L315.0,719.2 L316.0,716.9 L317.0,714.6 L318.0,712.5 L319.0,710.5 L320.0,708.6 L321.0,706.9 L322.0,705.4 L323.0,704.1 L324.0,703.0 L325.0,702.2 L326.0,701.5 L327.0,701.2 L328.0,701.0 L329.0,701.1 L330.0,701.3 L331.0,701.5 L332.0,701.9 L333.0,702.3 L334.0,702.9 L335.0,703.5 L336.0,704.2 L337.0,704.9 L338.0,705.7 L339.0,706.6 L340.0,707.5 L341.0,708.4 L342.0,709.3 L343.0,710.2 L344.0,711.1 L345.0,712.0 L346.0,712.9 L347.0,713.7 L348.0,714.4 L349.0,715.1 L350.0,715.7 L351.0,716.2 L352.0,716.7 L353.0,717.0 L354.0,717.3 L355.0,717.4 L356.0,717.4 L357.0,717.4 L358.0,717.1 L359.0,716.8 L360.0,716.3 L361.0,715.7 L362.0,714.9 L363.0,714.1 L364.0,713.1 L365.0,712.1 L366.0,710.9 L367.0,709.7 L368.0,708.4 L369.0,707.1 L370.0,705.8 L371.0,704.4 L372.0,703.1 L373.0,701.7 L374.0,700.4 L375.0,699.1 L376.0,697.9 L377.0,696.7 L378.0,695.6 L379.0,694.6 L380.0,693.7 L381.0,692.9 L382.0,692.2 L383.0,691.7 L384.0,691.3 L385.0,691.0 L386.0,690.9 L387.0,690.9 L388.0,691.1 L389.0,691.6 L390.0,692.3 L391.0,693.3 L392.0,694.5 L393.0,695.9 L394.0,697.5 L395.0,699.3 L396.0,701.2 L397.0,703.4 L398.0,705.6 L399.0,708.1 L400.0,710.6 L401.0,713.2 L402.0,715.9 L403.0,718.6 L404.0,721.4 L405.0,724.2 L406.0,726.9 L407.0,729.7 L408.0,732.3 L409.0,734.9 L410.0,737.4 L411.0,739.8 L412.0,742.1 L413.0,744.2 L414.0,746.1 L415.0,747.9 L416.0,749.4 L417.0,750.8 L418.0,751.9 L419.0,752.8 L420.0,753.5 L421.0,753.9 L422.0,754.1 L423.0,754.1 L424.0,753.8 L425.0,753.2 L426.0,752.3 L427.0,751.2 L428.0,749.9 L429.0,748.3 L430.0,746.5 L431.0,744.4 L432.0,742.2 L433.0,739.7 L434.0,737.1 L435.0,734.3 L436.0,731.4 L437.0,728.3 L438.0,725.1 L439.0,721.8 L440.0,718.5 L441.0,715.1 L442.0,711.6 L443.0,708.2 L444.0,704.7 L445.0,701.3 L446.0,697.9 L447.0,694.6 L448.0,691.4 L449.0,688.2 L450.0,685.2 L451.0,682.4 L452.0,679.7 L453.0,677.2 L454.0,674.8 L455.0,672.7 L456.0,670.8 L457.0,669.1 L458.0,667.7 L459.0,666.5 L460.0,665.5 L461.0,664.8 L462.0,664.4 L463.0,664.3 L464.0,664.4 L465.0,664.9 L466.0,665.7 L467.0,666.9 L468.0,668.4 L469.0,670.2 L470.0,672.4 L471.0,674.8 L472.0,677.5 L473.0,680.5 L474.0,683.7 L475.0,687.2 L476.0,690.8 L477.0,694.6 L478.0,698.6 L479.0,702.6 L480.0,706.8 L481.0,711.0 L482.0,715.3 L483.0,719.6 L484.0,723.8 L485.0,728.0 L486.0,732.1 L487.0,736.1 L488.0,740.0 L489.0,743.7 L490.0,747.3 L491.0,750.6 L492.0,753.7 L493.0,756.6 L494.0,759.1 L495.0,761.4 L496.0,763.4 L497.0,765.1 L498.0,766.4 L499.0,767.4 L500.0,768.1 L501.0,768.4 L502.0,768.4 L503.0,768.0 L504.0,767.3 L505.0,766.2 L506.0,764.8 L507.0,763.1 L508.0,761.0 L509.0,758.7 L510.0,756.1 L511.0,753.2 L512.0,750.1 L513.0,746.7 L514.0,743.2 L515.0,739.5 L516.0,735.6 L517.0,731.7 L518.0,727.6 L519.0,723.5 L520.0,719.3 L521.0,715.1 L522.0,711.0 L523.0,706.9 L524.0,702.8 L525.0,698.9 L526.0,695.2 L527.0,691.5 L528.0,688.1 L529.0,684.9 L530.0,681.9 L531.0,679.2 L532.0,676.8 L533.0,674.6 L534.0,672.8 L535.0,671.2 L536.0,670.0 L537.0,669.1 L538.0,668.6 L539.0,668.5 L540.0,668.6 L541.0,669.0 L542.0,669.6 L543.0,670.5 L544.0,671.7 L545.0,673.1 L546.0,674.7 L547.0,676.6 L548.0,678.6 L549.0,680.9 L550.0,683.3 L551.0,685.9 L552.0,688.6 L553.0,691.4 L554.0,694.3 L555.0,697.3 L556.0,700.4 L557.0,703.5 L558.0,706.6 L559.0,709.6 L560.0,712.7 L561.0,715.7 L562.0,718.6 L563.0,721.4 L564.0,724.1 L565.0,726.6 L566.0,729.0 L567.0,731.2 L568.0,733.2 L569.0,735.0 L570.0,736.6 L571.0,737.9 L572.0,739.1 L573.0,739.9 L574.0,740.5 L575.0,740.9 L576.0,740.9 L577.0,740.8 L578.0,740.4 L579.0,739.8 L580.0,739.0 L581.0,737.9 L582.0,736.7 L583.0,735.3 L584.0,733.8 L585.0,732.1 L586.0,730.3 L587.0,728.4 L588.0,726.4 L589.0,724.3 L590.0,722.3 L591.0,720.2 L592.0,718.1 L593.0,716.1 L594.0,714.2 L595.0,712.4 L596.0,710.6 L597.0,709.1 L598.0,707.6 L599.0,706.4 L600.0,705.3 L601.0,704.5 L602.0,703.8 L603.0,703.4 L604.0,703.2 L605.0,703.2 L606.0,703.3 L607.0,703.6 L608.0,704.0 L609.0,704.5 L610.0,705.1 L611.0,705.8 L612.0,706.7 L613.0,707.6 L614.0,708.6 L615.0,709.6 L616.0,710.8 L617.0,711.9 L618.0,713.1 L619.0,714.3 L620.0,715.6 L621.0,716.8 L622.0,718.0 L623.0,719.2 L624.0,720.3 L625.0,721.3 L626.0,722.3 L627.0,723.2 L628.0,724.0 L629.0,724.8 L630.0,725.4 L631.0,725.9 L632.0,726.3 L633.0,726.5 L634.0,726.6 L635.0,726.6 L636.0,726.4 L637.0,726.1 L638.0,725.5 L639.0,724.8 L640.0,723.8 L641.0,722.8 L642.0,721.5 L643.0,720.1 L644.0,718.6 L645.0,717.0 L646.0,715.2 L647.0,713.4 L648.0,711.5 L649.0,709.5 L650.0,707.4 L651.0,705.4 L652.0,703.3 L653.0,701.3 L654.0,699.2 L655.0,697.2 L656.0,695.3 L657.0,693.4 L658.0,691.7 L659.0,690.0 L660.0,688.5 L661.0,687.0 L662.0,685.8 L663.0,684.7 L664.0,683.7 L665.0,682.9 L666.0,682.3 L667.0,681.9 L668.0,681.7 L669.0,681.7 L670.0,681.9 L671.0,682.4 L672.0,683.1 L673.0,684.1 L674.0,685.4 L675.0,686.9 L676.0,688.6 L677.0,690.5 L678.0,692.7 L679.0,695.1 L680.0,697.6 L681.0,700.3 L682.0,703.1 L683.0,706.1 L684.0,709.2 L685.0,712.4 L686.0,715.6 L687.0,718.9 L688.0,722.2 L689.0,725.5 L690.0,728.8 L691.0,732.0 L692.0,735.2 L693.0,738.3 L694.0,741.3 L695.0,744.2 L696.0,746.9 L697.0,749.5 L698.0,751.8 L699.0,754.1 L700.0,756.0 L701.0,757.8 L702.0,759.4 L703.0,760.7 L704.0,761.7 L705.0,762.5 L706.0,763.0 L707.0,763.3 L708.0,763.3 L709.0,762.9 L710.0,762.2 L711.0,761.1 L712.0,759.7 L713.0,757.9 L714.0,755.8 L715.0,753.4 L716.0,750.7 L717.0,747.7 L718.0,744.5 L719.0,741.0 L720.0,737.3 L721.0,733.4 L722.0,729.4 L723.0,725.2 L724.0,721.0 L725.0,716.7 L726.0,712.3 L727.0,707.9 L728.0,703.5 L729.0,699.2 L730.0,695.0 L731.0,690.9 L732.0,686.9 L733.0,683.1 L734.0,679.4 L735.0,676.0 L736.0,672.9 L737.0,670.0 L738.0,667.3 L739.0,665.0 L740.0,663.0 L741.0,661.3 L742.0,660.0 L743.0,659.0 L744.0,658.4 L745.0,658.2 L746.0,658.3 L747.0,658.7 L748.0,659.6 L749.0,660.8 L750.0,662.4 L751.0,664.3 L752.0,666.5 L753.0,669.0 L754.0,671.9 L755.0,675.0 L756.0,678.3 L757.0,681.9 L758.0,685.7 L759.0,689.7 L760.0,693.8 L761.0,698.1 L762.0,702.4 L763.0,706.9 L764.0,711.3 L765.0,715.8 L766.0,720.2 L767.0,724.5 L768.0,728.8 L769.0,733.0 L770.0,737.0 L771.0,740.8 L772.0,744.5 L773.0,747.9 L774.0,751.0 L775.0,753.9 L776.0,756.5 L777.0,758.8 L778.0,760.8 L779.0,762.4 L780.0,763.7 L781.0,764.6 L782.0,765.2 L783.0,765.3 L784.0,765.2 L785.0,764.8 L786.0,764.1 L787.0,763.1 L788.0,761.8 L789.0,760.2 L790.0,758.4 L791.0,756.4 L792.0,754.1 L793.0,751.6 L794.0,748.9 L795.0,746.0 L796.0,743.0 L797.0,739.8 L798.0,736.5 L799.0,733.1 L800.0,729.6 L801.0,726.0 L802.0,722.4 L803.0,718.8 L804.0,715.2 L805.0,711.7 L806.0,708.2 L807.0,704.7 L808.0,701.4 L809.0,698.2 L810.0,695.1 L811.0,692.3 L812.0,689.5 L813.0,687.0 L814.0,684.7 L815.0,682.7 L816.0,680.8 L817.0,679.3 L818.0,678.0 L819.0,676.9 L820.0,676.2 L821.0,675.7 L822.0,675.6 L823.0,675.6 L824.0,676.0 L825.0,676.5 L826.0,677.2 L827.0,678.2 L828.0,679.4 L829.0,680.8 L830.0,682.3 L831.0,684.0 L832.0,685.9 L833.0,687.9 L834.0,690.1 L835.0,692.4 L836.0,694.7 L837.0,697.2 L838.0,699.7 L839.0,702.2 L840.0,704.8 L841.0,707.3 L842.0,709.9 L843.0,712.4 L844.0,714.8 L845.0,717.2 L846.0,719.4 L847.0,721.6 L848.0,723.6 L849.0,725.5 L850.0,727.2 L851.0,728.7 L852.0,730.0 L853.0,731.2 L854.0,732.1 L855.0,732.9 L856.0,733.4 L857.0,733.7 L858.0,733.7 L859.0,733.7 L860.0,733.5 L861.0,733.1 L862.0,732.7 L863.0,732.2 L864.0,731.5 L865.0,730.8 L866.0,730.0 L867.0,729.1 L868.0,728.1 L869.0,727.1 L870.0,726.0 L871.0,724.8 L872.0,723.7 L873.0,722.5 L874.0,721.3 L875.0,720.2 L876.0,719.0 L877.0,717.9 L878.0,716.8 L879.0,715.8 L880.0,714.8 L881.0,713.9 L882.0,713.1 L883.0,712.4 L884.0,711.8 L885.0,711.3 L886.0,710.9 L887.0,710.6 L888.0,710.4 L889.0,710.4 L890.0,710.4 L891.0,710.6 L892.0,710.9 L893.0,711.3 L894.0,711.8 L895.0,712.4 L896.0,713.1 L897.0,713.9 L898.0,714.7 L899.0,715.6 L900.0,716.6 L901.0,717.6 L902.0,718.7 L903.0,719.7 L904.0,720.8 L905.0,721.9 L906.0,722.9 L907.0,723.9 L908.0,724.8 L909.0,725.7 L910.0,726.5 L911.0,727.3 L912.0,727.9 L913.0,728.5 L914.0,728.9 L915.0,729.3 L916.0,729.5 L917.0,729.6 L918.0,729.6 L919.0,729.4 L920.0,729.0 L921.0,728.4 L922.0,727.5 L923.0,726.5 L924.0,725.3 L925.0,723.9 L926.0,722.3 L927.0,720.6 L928.0,718.8 L929.0,716.8 L930.0,714.7 L931.0,712.5 L932.0,710.2 L933.0,707.9 L934.0,705.5 L935.0,703.1 L936.0,700.7 L937.0,698.2 L938.0,695.9 L939.0,693.5 L940.0,691.3 L941.0,689.1 L942.0,687.0 L943.0,685.1 L944.0,683.2 L945.0,681.5 L946.0,680.0 L947.0,678.7 L948.0,677.5 L949.0,676.5 L950.0,675.7 L951.0,675.1 L952.0,674.7 L953.0,674.6 L954.0,674.6 L955.0,675.0 L956.0,675.8 L957.0,676.8 L958.0,678.2 L959.0,679.9 L960.0,681.8 L961.0,684.1 L962.0,686.6 L963.0,689.4 L964.0,692.4 L965.0,695.5 L966.0,698.9 L967.0,702.4 L968.0,706.0 L969.0,709.8 L970.0,713.6 L971.0,717.4 L972.0,721.3 L973.0,725.1 L974.0,728.9 L975.0,732.6 L976.0,736.2 L977.0,739.7 L978.0,743.0 L979.0,746.2 L980.0,749.1 L981.0,751.8 L982.0,754.3 L983.0,756.5 L984.0,758.4 L985.0,760.0 L986.0,761.3 L987.0,762.3 L988.0,763.0 L989.0,763.3 L990.0,763.3 L991.0,763.0 L992.0,762.4 L993.0,761.5 L994.0,760.3 L995.0,758.9 L996.0,757.1 L997.0,755.1 L998.0,752.8 L999.0,750.3 L1000.0,747.6 L1001.0,744.7 L1002.0,741.6 L1003.0,738.3 L1004.0,734.9 L1005.0,731.4 L1006.0,727.7 L1007.0,724.0 L1008.0,720.2 L1009.0,716.4 L1010.0,712.6 L1011.0,708.7 L1012.0,705.0 L1013.0,701.3 L1014.0,697.6 L1015.0,694.1 L1016.0,690.7 L1017.0,687.5 L1018.0,684.4 L1019.0,681.5 L1020.0,678.8 L1021.0,676.4 L1022.0,674.2 L1023.0,672.2 L1024.0,670.5 L1025.0,669.1 L1026.0,668.0 L1027.0,667.1 L1028.0,666.6 L1029.0,666.4 L1030.0,666.4 L1031.0,666.7 L1032.0,667.2 L1033.0,668.0 L1034.0,669.1 L1035.0,670.3 L1036.0,671.8 L1037.0,673.5 L1038.0,675.4 L1039.0,677.5 L1040.0,679.8 L1041.0,682.2 L1042.0,684.8 L1043.0,687.6 L1044.0,690.4 L1045.0,693.4 L1046.0,696.5 L1047.0,699.6 L1048.0,702.8 L1049.0,706.0 L1050.0,709.2 L1051.0,712.5 L1052.0,715.7 L1053.0,718.9 L1054.0,722.0 L1055.0,725.0 L1056.0,728.0 L1057.0,730.8 L1058.0,733.5 L1059.0,736.0 L1060.0,738.4 L1061.0,740.7 L1062.0,742.7 L1063.0,744.5 L1064.0,746.2 L1065.0,747.6 L1066.0,748.8 L1067.0,749.7 L1068.0,750.4 L1069.0,750.9 L1070.0,751.1 L1071.0,751.1 L1072.0,750.9 L1073.0,750.4 L1074.0,749.7 L1075.0,748.9 L1076.0,747.8 L1077.0,746.5 L1078.0,745.1 L1079.0,743.4 L1080.0,741.6 L1081.0,739.7 L1082.0,737.6 L1083.0,735.4 L1084.0,733.1 L1085.0,730.8 L1086.0,728.3 L1087.0,725.8 L1088.0,723.3 L1089.0,720.7 L1090.0,718.2 L1091.0,715.7 L1092.0,713.2 L1093.0,710.8 L1094.0,708.5 L1095.0,706.2 L1096.0,704.1 L1097.0,702.1 L1098.0,700.3 L1099.0,698.6 L1100.0,697.0 L1101.0,695.7 L1102.0,694.5 L1103.0,693.6 L1104.0,692.8 L1105.0,692.3 L1106.0,692.0 L1107.0,691.9 L1108.0,691.9 L1109.0,692.1 L1110.0,692.5 L1111.0,693.0 L1112.0,693.6 L1113.0,694.4 L1114.0,695.3 L1115.0,696.2 L1116.0,697.3 L1117.0,698.5 L1118.0,699.7 L1119.0,701.0 L1120.0,702.3 L1121.0,703.6 L1122.0,705.0 L1123.0,706.3 L1124.0,707.6 L1125.0,708.9 L1126.0,710.1 L1127.0,711.2 L1128.0,712.3 L1129.0,713.2 L1130.0,714.1 L1131.0,714.8 L1132.0,715.4 L1133.0,715.9 L1134.0,716.2 L1135.0,716.4 L1136.0,716.4 L1137.0,716.4 L1138.0,716.3 L1139.0,716.2 L1140.0,716.0 L1141.0,715.7 L1142.0,715.4 L1143.0,715.0 L1144.0,714.6 L1145.0,714.2 L1146.0,713.7 L1147.0,713.2 L1148.0,712.7 L1149.0,712.2 L1150.0,711.6 L1151.0,711.0 L1152.0,710.5 L1153.0,709.9 L1154.0,709.3 L1155.0,708.8 L1156.0,708.3 L1157.0,707.8 L1158.0,707.3 L1159.0,706.9 L1160.0,706.5 L1161.0,706.2 L1162.0,705.9 L1163.0,705.6 L1164.0,705.4 L1165.0,705.3 L1166.0,705.2 L1167.0,705.1 L1168.0,705.3 L1169.0,705.5 L1170.0,706.0 L1171.0,706.7 L1172.0,707.6 L1173.0,708.7 L1174.0,709.9 L1175.0,711.2 L1176.0,712.7 L1177.0,714.4 L1178.0,716.1 L1179.0,718.0 L1180.0,719.9 L1181.0,721.9 L1182.0,723.9 L1183.0,725.9 L1184.0,728.0 L1185.0,730.0 L1186.0,732.0 L1187.0,733.9 L1188.0,735.8 L1189.0,737.5 L1190.0,739.2 L1191.0,740.7 L1192.0,742.1 L1193.0,743.3 L1194.0,744.4 L1195.0,745.3 L1196.0,746.0 L1197.0,746.5 L1198.0,746.8 L1199.0,746.9 L1200.0,746.8 L1201.0,746.5 L1202.0,745.8 L1203.0,744.9 L1204.0,743.7 L1205.0,742.3 L1206.0,740.6 L1207.0,738.8 L1208.0,736.7 L1209.0,734.4 L1210.0,731.9 L1211.0,729.2 L1212.0,726.5 L1213.0,723.5 L1214.0,720.5 L1215.0,717.5 L1216.0,714.3 L1217.0,711.1 L1218.0,707.9 L1219.0,704.8 L1220.0,701.6 L1221.0,698.6 L1222.0,695.6 L1223.0,692.7 L1224.0,689.9 L1225.0,687.3 L1226.0,684.8 L1227.0,682.5 L1228.0,680.4 L1229.0,678.6 L1230.0,676.9 L1231.0,675.6 L1232.0,674.4 L1233.0,673.5 L1234.0,672.9 L1235.0,672.5 L1236.0,672.5 L1237.0,672.6 L1238.0,673.0 L1239.0,673.7 L1240.0,674.5 L1241.0,675.6 L1242.0,676.9 L1243.0,678.5 L1244.0,680.2 L1245.0,682.1 L1246.0,684.3 L1247.0,686.5 L1248.0,689.0 L1249.0,691.6 L1250.0,694.3 L1251.0,697.1 L1252.0,700.1 L1253.0,703.1 L1254.0,706.2 L1255.0,709.3 L1256.0,712.5 L1257.0,715.6 L1258.0,718.8 L1259.0,722.0 L1260.0,725.1 L1261.0,728.1 L1262.0,731.1 L1263.0,734.0 L1264.0,736.8 L1265.0,739.4 L1266.0,742.0 L1267.0,744.3 L1268.0,746.5 L1269.0,748.5 L1270.0,750.4 L1271.0,752.0 L1272.0,753.4 L1273.0,754.6 L1274.0,755.6 L1275.0,756.4 L1276.0,756.9 L1277.0,757.2 L1278.0,757.2 L1279.0,757.0 L1280.0,756.6 L1281.0,755.9 L1282.0,754.9 L1283.0,753.8 L1284.0,752.4 L1285.0,750.7 L1286.0,748.9 L1287.0,746.9 L1288.0,744.6 L1289.0,742.2 L1290.0,739.7 L1291.0,737.0 L1292.0,734.2 L1293.0,731.2 L1294.0,728.2 L1295.0,725.1 L1296.0,722.0 L1297.0,718.8 L1298.0,715.6 L1299.0,712.5 L1300.0,709.3 L1301.0,706.2 L1302.0,703.2 L1303.0,700.2 L1304.0,697.4 L1305.0,694.6 L1306.0,692.1 L1307.0,689.6 L1308.0,687.4 L1309.0,685.3 L1310.0,683.4 L1311.0,681.7 L1312.0,680.3 L1313.0,679.1 L1314.0,678.1 L1315.0,677.3 L1316.0,676.8 L1317.0,676.6 L1318.0,676.6 L1319.0,676.8 L1320.0,677.2 L1321.0,677.9 L1322.0,678.7 L1323.0,679.8 L1324.0,681.0 L1325.0,682.4 L1326.0,684.1 L1327.0,685.8 L1328.0,687.7 L1329.0,689.8 L1330.0,692.0 L1331.0,694.3 L1332.0,696.6 L1333.0,699.1 L1334.0,701.6 L1335.0,704.1 L1336.0,706.7 L1337.0,709.2 L1338.0,711.7 L1339.0,714.2 L1340.0,716.7 L1341.0,719.0 L1342.0,721.3 L1343.0,723.5 L1344.0,725.6 L1345.0,727.5 L1346.0,729.2 L1347.0,730.9 L1348.0,732.3 L1349.0,733.5 L1350.0,734.6 L1351.0,735.4 L1352.0,736.1 L1353.0,736.5 L1354.0,736.7 L1355.0,736.7 L1356.0,736.6 L1357.0,736.2 L1358.0,735.7 L1359.0,735.1 L1360.0,734.3 L1361.0,733.4 L1362.0,732.4 L1363.0,731.2 L1364.0,730.0 L1365.0,728.7 L1366.0,727.3 L1367.0,725.9 L1368.0,724.4 L1369.0,723.0 L1370.0,721.5 L1371.0,720.1 L1372.0,718.8 L1373.0,717.5 L1374.0,716.3 L1375.0,715.2 L1376.0,714.2 L1377.0,713.4 L1378.0,712.7 L1379.0,712.1 L1380.0,711.7 L1381.0,711.4 L1382.0,711.4 L1383.0,711.4 L1384.0,711.5 L1385.0,711.6 L1386.0,711.8 L1387.0,712.1 L1388.0,712.4 L1389.0,712.7 L1390.0,713.1 L1391.0,713.6 L1392.0,714.0 L1393.0,714.5 L1394.0,715.1 L1395.0,715.6 L1396.0,716.2 L1397.0,716.7 L1398.0,717.3 L1399.0,717.9 L1400.0,718.5 L1401.0,719.0 L1402.0,719.5 L1403.0,720.0 L1404.0,720.5 L1405.0,720.9 L1406.0,721.3 L1407.0,721.6 L1408.0,721.9 L1409.0,722.2 L1410.0,722.3 L1411.0,722.5 L1412.0,722.5 L1413.0,722.5 L1414.0,722.4 L1415.0,722.1 L1416.0,721.5 L1417.0,720.8 L1418.0,720.0 L1419.0,719.0 L1420.0,717.8 L1421.0,716.4 L1422.0,715.0 L1423.0,713.4 L1424.0,711.7 L1425.0,709.9 L1426.0,708.1 L1427.0,706.2 L1428.0,704.2 L1429.0,702.2 L1430.0,700.2 L1431.0,698.2 L1432.0,696.2 L1433.0,694.3 L1434.0,692.5 L1435.0,690.7 L1436.0,689.0 L1437.0,687.4 L1438.0,685.9 L1439.0,684.6 L1440.0,683.4 L1441.0,682.3 L1442.0,681.4 L1443.0,680.7 L1444.0,680.2 L1445.0,679.8 L1446.0,679.7 L1447.0,679.7 L1448.0,680.0 L1449.0,680.5 L1450.0,681.3 L1451.0,682.3 L1452.0,683.5 L1453.0,685.0 L1454.0,686.7 L1455.0,688.6 L1456.0,690.7 L1457.0,692.9 L1458.0,695.4 L1459.0,698.0 L1460.0,700.7 L1461.0,703.5 L1462.0,706.4 L1463.0,709.5 L1464.0,712.5 L1465.0,715.7 L1466.0,718.8 L1467.0,721.9 L1468.0,725.1 L1469.0,728.1 L1470.0,731.2 L1471.0,734.1 L1472.0,736.9 L1473.0,739.7 L1474.0,742.3 L1475.0,744.7 L1476.0,747.0 L1477.0,749.1 L1478.0,751.0 L1479.0,752.7 L1480.0,754.2 L1481.0,755.5 L1482.0,756.5 L1483.0,757.3 L1484.0,757.9 L1485.0,758.2 L1486.0,758.2 L1487.0,758.0 L1488.0,757.6 L1489.0,756.9 L1490.0,755.9 L1491.0,754.7 L1492.0,753.3 L1493.0,751.7 L1494.0,749.8 L1495.0,747.7 L1496.0,745.5 L1497.0,743.0 L1498.0,740.4 L1499.0,737.6 L1500.0,734.7 L1501.0,731.7 L1502.0,728.6 L1503.0,725.4 L1504.0,722.1 L1505.0,718.7 L1506.0,715.4 L1507.0,712.0 L1508.0,708.6 L1509.0,705.3 L1510.0,702.0 L1511.0,698.8 L1512.0,695.6 L1513.0,692.6 L1514.0,689.6 L1515.0,686.8 L1516.0,684.2 L1517.0,681.7 L1518.0,679.4 L1519.0,677.3 L1520.0,675.4 L1521.0,673.7 L1522.0,672.2 L1523.0,671.0 L1524.0,670.0 L1525.0,669.2 L1526.0,668.7 L1527.0,668.5 L1528.0,668.5 L1529.0,668.7 L1530.0,669.3 L1531.0,670.0 L1532.0,671.0 L1533.0,672.3 L1534.0,673.8 L1535.0,675.5 L1536.0,677.5 L1537.0,679.6 L1538.0,682.0 L1539.0,684.5 L1540.0,687.1 L1541.0,689.9 L1542.0,692.9 L1543.0,695.9 L1544.0,699.1 L1545.0,702.3 L1546.0,705.5 L1547.0,708.8 L1548.0,712.1 L1549.0,715.4 L1550.0,718.6 L1551.0,721.8 L1552.0,725.0 L1553.0,728.0 L1554.0,730.9 L1555.0,733.7 L1556.0,736.4 L1557.0,738.9 L1558.0,741.2 L1559.0,743.3 L1560.0,745.2 L1561.0,746.9 L1562.0,748.4 L1563.0,749.7 L1564.0,750.7 L1565.0,751.4 L1566.0,751.9 L1567.0,752.1 L1568.0,752.1 L1569.0,751.8 L1570.0,751.2 L1571.0,750.4 L1572.0,749.2 L1573.0,747.9 L1574.0,746.2 L1575.0,744.4 L1576.0,742.3 L1577.0,740.1 L1578.0,737.6 L1579.0,735.0 L1580.0,732.3 L1581.0,729.4 L1582.0,726.5 L1583.0,723.5 L1584.0,720.5 L1585.0,717.4 L1586.0,714.4 L1587.0,711.4 L1588.0,708.5 L1589.0,705.6 L1590.0,702.9 L1591.0,700.3 L1592.0,697.8 L1593.0,695.6 L1594.0,693.5 L1595.0,691.7 L1596.0,690.0 L1597.0,688.7 L1598.0,687.5 L1599.0,686.7 L1600.0,686.1 L1601.0,685.8 L1602.0,685.8 L1603.0,685.9 L1604.0,686.2 L1605.0,686.7 L1606.0,687.4 L1607.0,688.2 L1608.0,689.1 L1609.0,690.2 L1610.0,691.5 L1611.0,692.8 L1612.0,694.3 L1613.0,695.9 L1614.0,697.6 L1615.0,699.3 L1616.0,701.2 L1617.0,703.1 L1618.0,705.0 L1619.0,706.9 L1620.0,708.9 L1621.0,710.9 L1622.0,712.8 L1623.0,714.7 L1624.0,716.6 L1625.0,718.4 L1626.0,720.1 L1627.0,721.7 L1627.5,722.5" stroke="rgb(16,12,218)" stroke-dasharray="18 19.6"/>
<path d="M219.0,618.1 L220.0,618.4 L221.0,619.2 L222.0,620.7 L223.0,622.6 L224.0,625.2 L225.0,628.2 L226.0,631.8 L227.0,635.8 L228.0,640.3 L229.0,645.3 L230.0,650.6 L231.0,656.4 L232.0,662.4 L233.0,668.8 L234.0,675.4 L235.0,682.2 L236.0,689.2 L237.0,696.4 L238.0,703.6 L239.0,710.9 L240.0,718.1 L241.0,725.3 L242.0,732.5 L243.0,739.5 L244.0,746.3 L245.0,752.9 L246.0,759.2 L247.0,765.2 L248.0,770.9 L249.0,776.2 L250.0,781.1 L251.0,785.6 L252.0,789.6 L253.0,793.1 L254.0,796.1 L255.0,798.6 L256.0,800.5 L257.0,801.9 L258.0,802.7 L259.0,802.9 L260.0,802.6 L261.0,801.8 L262.0,800.5 L263.0,798.6 L264.0,796.3 L265.0,793.6 L266.0,790.4 L267.0,786.7 L268.0,782.7 L269.0,778.3 L270.0,773.5 L271.0,768.4 L272.0,763.1 L273.0,757.5 L274.0,751.7 L275.0,745.7 L276.0,739.6 L277.0,733.4 L278.0,727.2 L279.0,720.9 L280.0,714.7 L281.0,708.6 L282.0,702.6 L283.0,696.8 L284.0,691.2 L285.0,685.8 L286.0,680.7 L287.0,675.9 L288.0,671.4 L289.0,667.4 L290.0,663.7 L291.0,660.4 L292.0,657.6 L293.0,655.3 L294.0,653.4 L295.0,652.0 L296.0,651.2 L297.0,650.8 L298.0,651.0 L299.0,651.6 L300.0,652.7 L301.0,654.2 L302.0,656.2 L303.0,658.6 L304.0,661.4 L305.0,664.6 L306.0,668.1 L307.0,671.9 L308.0,676.0 L309.0,680.3 L310.0,684.7 L311.0,689.3 L312.0,693.9 L313.0,698.6 L314.0,703.3 L315.0,707.9 L316.0,712.4 L317.0,716.7 L318.0,720.8 L319.0,724.7 L320.0,728.2 L321.0,731.5 L322.0,734.4 L323.0,736.9 L324.0,738.9 L325.0,740.6 L326.0,741.7 L327.0,742.5 L328.0,742.7 L329.0,742.6 L330.0,742.2 L331.0,741.6 L332.0,740.8 L333.0,739.8 L334.0,738.5 L335.0,737.1 L336.0,735.5 L337.0,733.8 L338.0,731.9 L339.0,730.0 L340.0,727.9 L341.0,725.8 L342.0,723.7 L343.0,721.6 L344.0,719.5 L345.0,717.4 L346.0,715.5 L347.0,713.6 L348.0,711.9 L349.0,710.3 L350.0,708.9 L351.0,707.7 L352.0,706.7 L353.0,705.9 L354.0,705.3 L355.0,705.0 L356.0,704.9 L357.0,705.1 L358.0,705.5 L359.0,706.2 L360.0,707.1 L361.0,708.2 L362.0,709.6 L363.0,711.3 L364.0,713.1 L365.0,715.0 L366.0,717.2 L367.0,719.5 L368.0,721.8 L369.0,724.3 L370.0,726.8 L371.0,729.4 L372.0,732.0 L373.0,734.5 L374.0,737.0 L375.0,739.4 L376.0,741.7 L377.0,743.9 L378.0,746.0 L379.0,747.8 L380.0,749.5 L381.0,751.0 L382.0,752.3 L383.0,753.3 L384.0,754.1 L385.0,754.6 L386.0,754.9 L387.0,754.8 L388.0,754.4 L389.0,753.5 L390.0,752.1 L391.0,750.3 L392.0,748.1 L393.0,745.5 L394.0,742.5 L395.0,739.2 L396.0,735.5 L397.0,731.5 L398.0,727.2 L399.0,722.7 L400.0,718.0 L401.0,713.1 L402.0,708.1 L403.0,703.0 L404.0,697.8 L405.0,692.6 L406.0,687.4 L407.0,682.3 L408.0,677.3 L409.0,672.4 L410.0,667.8 L411.0,663.3 L412.0,659.1 L413.0,655.1 L414.0,651.5 L415.0,648.2 L416.0,645.3 L417.0,642.8 L418.0,640.7 L419.0,639.0 L420.0,637.7 L421.0,636.9 L422.0,636.5 L423.0,636.6 L424.0,637.3 L425.0,638.4 L426.0,640.0 L427.0,642.2 L428.0,644.8 L429.0,647.9 L430.0,651.5 L431.0,655.5 L432.0,659.9 L433.0,664.7 L434.0,669.8 L435.0,675.2 L436.0,681.0 L437.0,687.0 L438.0,693.2 L439.0,699.6 L440.0,706.2 L441.0,712.8 L442.0,719.6 L443.0,726.3 L444.0,733.1 L445.0,739.8 L446.0,746.4 L447.0,752.8 L448.0,759.1 L449.0,765.2 L450.0,771.1 L451.0,776.7 L452.0,781.9 L453.0,786.9 L454.0,791.4 L455.0,795.6 L456.0,799.3 L457.0,802.6 L458.0,805.4 L459.0,807.8 L460.0,809.6 L461.0,811.0 L462.0,811.8 L463.0,812.1 L464.0,811.8 L465.0,810.9 L466.0,809.3 L467.0,807.1 L468.0,804.2 L469.0,800.8 L470.0,796.7 L471.0,792.1 L472.0,787.0 L473.0,781.4 L474.0,775.3 L475.0,768.8 L476.0,761.9 L477.0,754.7 L478.0,747.2 L479.0,739.5 L480.0,731.6 L481.0,723.6 L482.0,715.6 L483.0,707.5 L484.0,699.5 L485.0,691.5 L486.0,683.7 L487.0,676.1 L488.0,668.8 L489.0,661.7 L490.0,655.0 L491.0,648.7 L492.0,642.9 L493.0,637.5 L494.0,632.6 L495.0,628.3 L496.0,624.5 L497.0,621.3 L498.0,618.8 L499.0,616.9 L500.0,615.6 L501.0,615.1 L502.0,615.1 L503.0,615.8 L504.0,617.2 L505.0,619.1 L506.0,621.7 L507.0,624.9 L508.0,628.6 L509.0,632.9 L510.0,637.7 L511.0,643.0 L512.0,648.7 L513.0,654.9 L514.0,661.4 L515.0,668.2 L516.0,675.3 L517.0,682.6 L518.0,690.1 L519.0,697.7 L520.0,705.4 L521.0,713.0 L522.0,720.7 L523.0,728.2 L524.0,735.6 L525.0,742.8 L526.0,749.7 L527.0,756.3 L528.0,762.6 L529.0,768.5 L530.0,774.0 L531.0,779.0 L532.0,783.5 L533.0,787.5 L534.0,790.9 L535.0,793.7 L536.0,795.9 L537.0,797.5 L538.0,798.5 L539.0,798.8 L540.0,798.5 L541.0,797.8 L542.0,796.5 L543.0,794.7 L544.0,792.5 L545.0,789.8 L546.0,786.6 L547.0,783.0 L548.0,779.0 L549.0,774.6 L550.0,770.0 L551.0,765.0 L552.0,759.7 L553.0,754.2 L554.0,748.5 L555.0,742.7 L556.0,736.7 L557.0,730.8 L558.0,724.7 L559.0,718.8 L560.0,712.8 L561.0,707.0 L562.0,701.4 L563.0,695.9 L564.0,690.7 L565.0,685.8 L566.0,681.2 L567.0,676.9 L568.0,673.0 L569.0,669.4 L570.0,666.4 L571.0,663.7 L572.0,661.6 L573.0,659.9 L574.0,658.7 L575.0,658.1 L576.0,657.9 L577.0,658.2 L578.0,659.0 L579.0,660.1 L580.0,661.7 L581.0,663.7 L582.0,666.1 L583.0,668.8 L584.0,671.8 L585.0,675.1 L586.0,678.7 L587.0,682.4 L588.0,686.2 L589.0,690.2 L590.0,694.2 L591.0,698.3 L592.0,702.3 L593.0,706.2 L594.0,709.9 L595.0,713.5 L596.0,716.8 L597.0,719.9 L598.0,722.7 L599.0,725.1 L600.0,727.2 L601.0,728.9 L602.0,730.1 L603.0,731.0 L604.0,731.4 L605.0,731.4 L606.0,731.1 L607.0,730.7 L608.0,730.1 L609.0,729.3 L610.0,728.3 L611.0,727.1 L612.0,725.8 L613.0,724.3 L614.0,722.7 L615.0,721.0 L616.0,719.2 L617.0,717.3 L618.0,715.3 L619.0,713.4 L620.0,711.4 L621.0,709.5 L622.0,707.5 L623.0,705.7 L624.0,703.9 L625.0,702.2 L626.0,700.6 L627.0,699.1 L628.0,697.8 L629.0,696.6 L630.0,695.6 L631.0,694.8 L632.0,694.2 L633.0,693.8 L634.0,693.6 L635.0,693.6 L636.0,694.0 L637.0,694.7 L638.0,695.8 L639.0,697.2 L640.0,698.9 L641.0,700.9 L642.0,703.3 L643.0,705.9 L644.0,708.7 L645.0,711.8 L646.0,715.1 L647.0,718.6 L648.0,722.2 L649.0,726.0 L650.0,729.8 L651.0,733.7 L652.0,737.6 L653.0,741.4 L654.0,745.3 L655.0,749.0 L656.0,752.7 L657.0,756.2 L658.0,759.5 L659.0,762.7 L660.0,765.6 L661.0,768.2 L662.0,770.6 L663.0,772.7 L664.0,774.5 L665.0,776.0 L666.0,777.1 L667.0,777.9 L668.0,778.3 L669.0,778.4 L670.0,778.0 L671.0,777.0 L672.0,775.6 L673.0,773.6 L674.0,771.2 L675.0,768.3 L676.0,764.9 L677.0,761.1 L678.0,756.9 L679.0,752.3 L680.0,747.3 L681.0,742.1 L682.0,736.5 L683.0,730.7 L684.0,724.7 L685.0,718.5 L686.0,712.2 L687.0,705.8 L688.0,699.4 L689.0,693.0 L690.0,686.5 L691.0,680.2 L692.0,674.0 L693.0,668.0 L694.0,662.1 L695.0,656.5 L696.0,651.2 L697.0,646.2 L698.0,641.5 L699.0,637.2 L700.0,633.3 L701.0,629.9 L702.0,626.9 L703.0,624.3 L704.0,622.3 L705.0,620.7 L706.0,619.7 L707.0,619.2 L708.0,619.2 L709.0,619.9 L710.0,621.2 L711.0,623.3 L712.0,626.0 L713.0,629.3 L714.0,633.3 L715.0,637.8 L716.0,642.9 L717.0,648.6 L718.0,654.7 L719.0,661.2 L720.0,668.1 L721.0,675.4 L722.0,683.0 L723.0,690.9 L724.0,698.9 L725.0,707.0 L726.0,715.3 L727.0,723.5 L728.0,731.7 L729.0,739.8 L730.0,747.8 L731.0,755.6 L732.0,763.1 L733.0,770.3 L734.0,777.1 L735.0,783.5 L736.0,789.5 L737.0,795.0 L738.0,799.9 L739.0,804.3 L740.0,808.0 L741.0,811.2 L742.0,813.7 L743.0,815.5 L744.0,816.7 L745.0,817.2 L746.0,817.0 L747.0,816.1 L748.0,814.5 L749.0,812.2 L750.0,809.2 L751.0,805.6 L752.0,801.4 L753.0,796.6 L754.0,791.2 L755.0,785.3 L756.0,778.9 L757.0,772.1 L758.0,764.9 L759.0,757.4 L760.0,749.6 L761.0,741.5 L762.0,733.2 L763.0,724.9 L764.0,716.4 L765.0,708.0 L766.0,699.6 L767.0,691.3 L768.0,683.2 L769.0,675.4 L770.0,667.8 L771.0,660.5 L772.0,653.6 L773.0,647.1 L774.0,641.1 L775.0,635.6 L776.0,630.7 L777.0,626.4 L778.0,622.6 L779.0,619.6 L780.0,617.1 L781.0,615.4 L782.0,614.4 L783.0,614.0 L784.0,614.3 L785.0,615.1 L786.0,616.6 L787.0,618.5 L788.0,621.1 L789.0,624.1 L790.0,627.7 L791.0,631.7 L792.0,636.2 L793.0,641.2 L794.0,646.5 L795.0,652.2 L796.0,658.2 L797.0,664.5 L798.0,671.1 L799.0,677.8 L800.0,684.8 L801.0,691.8 L802.0,698.9 L803.0,706.1 L804.0,713.2 L805.0,720.2 L806.0,727.2 L807.0,733.9 L808.0,740.5 L809.0,746.9 L810.0,752.9 L811.0,758.6 L812.0,764.0 L813.0,769.0 L814.0,773.5 L815.0,777.6 L816.0,781.2 L817.0,784.3 L818.0,786.9 L819.0,789.0 L820.0,790.4 L821.0,791.4 L822.0,791.7 L823.0,791.5 L824.0,790.9 L825.0,789.9 L826.0,788.4 L827.0,786.5 L828.0,784.2 L829.0,781.6 L830.0,778.5 L831.0,775.2 L832.0,771.5 L833.0,767.6 L834.0,763.4 L835.0,758.9 L836.0,754.3 L837.0,749.6 L838.0,744.7 L839.0,739.7 L840.0,734.8 L841.0,729.8 L842.0,724.8 L843.0,720.0 L844.0,715.2 L845.0,710.6 L846.0,706.2 L847.0,702.0 L848.0,698.1 L849.0,694.5 L850.0,691.1 L851.0,688.2 L852.0,685.5 L853.0,683.3 L854.0,681.4 L855.0,680.0 L856.0,679.0 L857.0,678.4 L858.0,678.3 L859.0,678.5 L860.0,678.8 L861.0,679.4 L862.0,680.2 L863.0,681.2 L864.0,682.4 L865.0,683.8 L866.0,685.4 L867.0,687.1 L868.0,688.9 L869.0,690.8 L870.0,692.9 L871.0,695.0 L872.0,697.2 L873.0,699.4 L874.0,701.6 L875.0,703.8 L876.0,705.9 L877.0,708.0 L878.0,710.1 L879.0,712.0 L880.0,713.8 L881.0,715.5 L882.0,717.0 L883.0,718.3 L884.0,719.5 L885.0,720.4 L886.0,721.2 L887.0,721.8 L888.0,722.1 L889.0,722.2 L890.0,722.1 L891.0,721.7 L892.0,721.0 L893.0,720.1 L894.0,718.9 L895.0,717.6 L896.0,716.0 L897.0,714.2 L898.0,712.3 L899.0,710.2 L900.0,707.9 L901.0,705.6 L902.0,703.3 L903.0,700.9 L904.0,698.4 L905.0,696.0 L906.0,693.7 L907.0,691.4 L908.0,689.3 L909.0,687.3 L910.0,685.4 L911.0,683.7 L912.0,682.2 L913.0,680.9 L914.0,679.9 L915.0,679.1 L916.0,678.6 L917.0,678.3 L918.0,678.4 L919.0,678.8 L920.0,679.6 L921.0,680.9 L922.0,682.5 L923.0,684.6 L924.0,687.0 L925.0,689.8 L926.0,692.9 L927.0,696.4 L928.0,700.1 L929.0,704.1 L930.0,708.3 L931.0,712.7 L932.0,717.2 L933.0,721.9 L934.0,726.7 L935.0,731.5 L936.0,736.4 L937.0,741.2 L938.0,745.9 L939.0,750.6 L940.0,755.1 L941.0,759.5 L942.0,763.6 L943.0,767.6 L944.0,771.2 L945.0,774.6 L946.0,777.7 L947.0,780.4 L948.0,782.7 L949.0,784.7 L950.0,786.3 L951.0,787.5 L952.0,788.2 L953.0,788.6 L954.0,788.4 L955.0,787.7 L956.0,786.3 L957.0,784.3 L958.0,781.8 L959.0,778.6 L960.0,774.9 L961.0,770.7 L962.0,766.0 L963.0,760.8 L964.0,755.2 L965.0,749.3 L966.0,743.0 L967.0,736.4 L968.0,729.6 L969.0,722.6 L970.0,715.5 L971.0,708.3 L972.0,701.1 L973.0,693.9 L974.0,686.8 L975.0,679.8 L976.0,673.1 L977.0,666.5 L978.0,660.3 L979.0,654.4 L980.0,648.9 L981.0,643.8 L982.0,639.2 L983.0,635.1 L984.0,631.5 L985.0,628.5 L986.0,626.0 L987.0,624.2 L988.0,622.9 L989.0,622.3 L990.0,622.3 L991.0,622.9 L992.0,624.0 L993.0,625.7 L994.0,628.0 L995.0,630.8 L996.0,634.2 L997.0,638.0 L998.0,642.3 L999.0,647.1 L1000.0,652.3 L1001.0,657.9 L1002.0,663.9 L1003.0,670.1 L1004.0,676.7 L1005.0,683.5 L1006.0,690.5 L1007.0,697.6 L1008.0,704.9 L1009.0,712.2 L1010.0,719.5 L1011.0,726.8 L1012.0,734.0 L1013.0,741.1 L1014.0,748.1 L1015.0,754.8 L1016.0,761.3 L1017.0,767.5 L1018.0,773.4 L1019.0,779.0 L1020.0,784.1 L1021.0,788.8 L1022.0,793.0 L1023.0,796.7 L1024.0,800.0 L1025.0,802.7 L1026.0,804.9 L1027.0,806.5 L1028.0,807.5 L1029.0,808.0 L1030.0,807.9 L1031.0,807.3 L1032.0,806.2 L1033.0,804.7 L1034.0,802.6 L1035.0,800.1 L1036.0,797.2 L1037.0,793.8 L1038.0,790.0 L1039.0,785.9 L1040.0,781.4 L1041.0,776.5 L1042.0,771.3 L1043.0,765.9 L1044.0,760.2 L1045.0,754.3 L1046.0,748.2 L1047.0,742.0 L1048.0,735.6 L1049.0,729.2 L1050.0,722.8 L1051.0,716.4 L1052.0,710.0 L1053.0,703.7 L1054.0,697.5 L1055.0,691.4 L1056.0,685.6 L1057.0,680.0 L1058.0,674.6 L1059.0,669.5 L1060.0,664.7 L1061.0,660.3 L1062.0,656.3 L1063.0,652.6 L1064.0,649.4 L1065.0,646.6 L1066.0,644.2 L1067.0,642.3 L1068.0,640.9 L1069.0,640.0 L1070.0,639.5 L1071.0,639.6 L1072.0,640.0 L1073.0,640.9 L1074.0,642.2 L1075.0,643.9 L1076.0,645.9 L1077.0,648.4 L1078.0,651.1 L1079.0,654.3 L1080.0,657.7 L1081.0,661.4 L1082.0,665.4 L1083.0,669.6 L1084.0,673.9 L1085.0,678.5 L1086.0,683.2 L1087.0,688.0 L1088.0,692.8 L1089.0,697.7 L1090.0,702.5 L1091.0,707.3 L1092.0,712.0 L1093.0,716.7 L1094.0,721.1 L1095.0,725.4 L1096.0,729.4 L1097.0,733.3 L1098.0,736.8 L1099.0,740.0 L1100.0,743.0 L1101.0,745.5 L1102.0,747.8 L1103.0,749.6 L1104.0,751.0 L1105.0,752.1 L1106.0,752.7 L1107.0,752.9 L1108.0,752.8 L1109.0,752.3 L1110.0,751.7 L1111.0,750.7 L1112.0,749.5 L1113.0,748.0 L1114.0,746.4 L1115.0,744.5 L1116.0,742.5 L1117.0,740.3 L1118.0,737.9 L1119.0,735.5 L1120.0,733.0 L1121.0,730.4 L1122.0,727.9 L1123.0,725.3 L1124.0,722.8 L1125.0,720.4 L1126.0,718.1 L1127.0,715.9 L1128.0,713.9 L1129.0,712.1 L1130.0,710.4 L1131.0,709.0 L1132.0,707.9 L1133.0,707.0 L1134.0,706.4 L1135.0,706.0 L1136.0,705.9 L1137.0,706.0 L1138.0,706.3 L1139.0,706.7 L1140.0,707.3 L1141.0,708.0 L1142.0,708.9 L1143.0,709.9 L1144.0,711.0 L1145.0,712.2 L1146.0,713.6 L1147.0,715.0 L1148.0,716.4 L1149.0,718.0 L1150.0,719.5 L1151.0,721.1 L1152.0,722.7 L1153.0,724.3 L1154.0,725.9 L1155.0,727.4 L1156.0,728.8 L1157.0,730.2 L1158.0,731.5 L1159.0,732.7 L1160.0,733.8 L1161.0,734.8 L1162.0,735.6 L1163.0,736.3 L1164.0,736.9 L1165.0,737.3 L1166.0,737.5 L1167.0,737.6 L1168.0,737.4 L1169.0,736.8 L1170.0,735.8 L1171.0,734.5 L1172.0,732.7 L1173.0,730.7 L1174.0,728.3 L1175.0,725.6 L1176.0,722.6 L1177.0,719.3 L1178.0,715.9 L1179.0,712.2 L1180.0,708.4 L1181.0,704.5 L1182.0,700.5 L1183.0,696.5 L1184.0,692.4 L1185.0,688.4 L1186.0,684.5 L1187.0,680.7 L1188.0,677.0 L1189.0,673.5 L1190.0,670.2 L1191.0,667.2 L1192.0,664.5 L1193.0,662.1 L1194.0,659.9 L1195.0,658.2 L1196.0,656.8 L1197.0,655.8 L1198.0,655.1 L1199.0,654.9 L1200.0,655.1 L1201.0,655.8 L1202.0,657.1 L1203.0,658.8 L1204.0,661.0 L1205.0,663.7 L1206.0,666.8 L1207.0,670.4 L1208.0,674.4 L1209.0,678.7 L1210.0,683.4 L1211.0,688.4 L1212.0,693.7 L1213.0,699.2 L1214.0,704.8 L1215.0,710.7 L1216.0,716.6 L1217.0,722.6 L1218.0,728.7 L1219.0,734.7 L1220.0,740.6 L1221.0,746.4 L1222.0,752.1 L1223.0,757.6 L1224.0,762.8 L1225.0,767.8 L1226.0,772.4 L1227.0,776.7 L1228.0,780.7 L1229.0,784.2 L1230.0,787.3 L1231.0,789.9 L1232.0,792.1 L1233.0,793.8 L1234.0,795.0 L1235.0,795.6 L1236.0,795.8 L1237.0,795.5 L1238.0,794.7 L1239.0,793.4 L1240.0,791.7 L1241.0,789.5 L1242.0,786.9 L1243.0,783.8 L1244.0,780.4 L1245.0,776.5 L1246.0,772.3 L1247.0,767.8 L1248.0,762.9 L1249.0,757.8 L1250.0,752.4 L1251.0,746.8 L1252.0,740.9 L1253.0,734.9 L1254.0,728.8 L1255.0,722.6 L1256.0,716.3 L1257.0,710.0 L1258.0,703.7 L1259.0,697.4 L1260.0,691.2 L1261.0,685.2 L1262.0,679.2 L1263.0,673.5 L1264.0,668.0 L1265.0,662.7 L1266.0,657.7 L1267.0,653.0 L1268.0,648.6 L1269.0,644.6 L1270.0,641.0 L1271.0,637.7 L1272.0,634.9 L1273.0,632.5 L1274.0,630.5 L1275.0,629.0 L1276.0,628.0 L1277.0,627.4 L1278.0,627.3 L1279.0,627.7 L1280.0,628.6 L1281.0,630.0 L1282.0,631.8 L1283.0,634.1 L1284.0,636.8 L1285.0,640.0 L1286.0,643.6 L1287.0,647.5 L1288.0,651.9 L1289.0,656.5 L1290.0,661.5 L1291.0,666.8 L1292.0,672.3 L1293.0,678.0 L1294.0,683.9 L1295.0,689.9 L1296.0,696.0 L1297.0,702.2 L1298.0,708.4 L1299.0,714.6 L1300.0,720.7 L1301.0,726.7 L1302.0,732.7 L1303.0,738.4 L1304.0,743.9 L1305.0,749.2 L1306.0,754.3 L1307.0,759.0 L1308.0,763.4 L1309.0,767.5 L1310.0,771.1 L1311.0,774.4 L1312.0,777.2 L1313.0,779.6 L1314.0,781.5 L1315.0,783.0 L1316.0,783.9 L1317.0,784.4 L1318.0,784.5 L1319.0,784.1 L1320.0,783.3 L1321.0,782.1 L1322.0,780.5 L1323.0,778.6 L1324.0,776.3 L1325.0,773.7 L1326.0,770.8 L1327.0,767.5 L1328.0,764.0 L1329.0,760.3 L1330.0,756.3 L1331.0,752.1 L1332.0,747.8 L1333.0,743.3 L1334.0,738.7 L1335.0,734.1 L1336.0,729.4 L1337.0,724.7 L1338.0,720.1 L1339.0,715.5 L1340.0,711.0 L1341.0,706.7 L1342.0,702.5 L1343.0,698.5 L1344.0,694.8 L1345.0,691.3 L1346.0,688.0 L1347.0,685.1 L1348.0,682.5 L1349.0,680.2 L1350.0,678.3 L1351.0,676.7 L1352.0,675.5 L1353.0,674.7 L1354.0,674.3 L1355.0,674.3 L1356.0,674.7 L1357.0,675.4 L1358.0,676.4 L1359.0,677.7 L1360.0,679.3 L1361.0,681.1 L1362.0,683.3 L1363.0,685.6 L1364.0,688.2 L1365.0,690.9 L1366.0,693.7 L1367.0,696.6 L1368.0,699.6 L1369.0,702.5 L1370.0,705.5 L1371.0,708.3 L1372.0,711.1 L1373.0,713.7 L1374.0,716.2 L1375.0,718.4 L1376.0,720.4 L1377.0,722.2 L1378.0,723.6 L1379.0,724.8 L1380.0,725.6 L1381.0,726.1 L1382.0,726.3 L1383.0,726.2 L1384.0,726.0 L1385.0,725.5 L1386.0,724.9 L1387.0,724.2 L1388.0,723.3 L1389.0,722.3 L1390.0,721.1 L1391.0,719.8 L1392.0,718.5 L1393.0,717.0 L1394.0,715.4 L1395.0,713.8 L1396.0,712.2 L1397.0,710.5 L1398.0,708.9 L1399.0,707.2 L1400.0,705.6 L1401.0,704.0 L1402.0,702.5 L1403.0,701.0 L1404.0,699.7 L1405.0,698.4 L1406.0,697.3 L1407.0,696.3 L1408.0,695.5 L1409.0,694.8 L1410.0,694.2 L1411.0,693.8 L1412.0,693.6 L1413.0,693.6 L1414.0,693.9 L1415.0,694.5 L1416.0,695.5 L1417.0,696.8 L1418.0,698.4 L1419.0,700.3 L1420.0,702.5 L1421.0,704.9 L1422.0,707.7 L1423.0,710.6 L1424.0,713.7 L1425.0,717.0 L1426.0,720.5 L1427.0,724.1 L1428.0,727.7 L1429.0,731.4 L1430.0,735.1 L1431.0,738.8 L1432.0,742.5 L1433.0,746.0 L1434.0,749.5 L1435.0,752.8 L1436.0,756.0 L1437.0,759.0 L1438.0,761.7 L1439.0,764.2 L1440.0,766.4 L1441.0,768.4 L1442.0,770.0 L1443.0,771.3 L1444.0,772.3 L1445.0,773.0 L1446.0,773.3 L1447.0,773.2 L1448.0,772.7 L1449.0,771.7 L1450.0,770.3 L1451.0,768.5 L1452.0,766.2 L1453.0,763.4 L1454.0,760.3 L1455.0,756.8 L1456.0,753.0 L1457.0,748.8 L1458.0,744.3 L1459.0,739.5 L1460.0,734.5 L1461.0,729.3 L1462.0,723.9 L1463.0,718.3 L1464.0,712.6 L1465.0,706.9 L1466.0,701.1 L1467.0,695.3 L1468.0,689.5 L1469.0,683.9 L1470.0,678.3 L1471.0,672.9 L1472.0,667.6 L1473.0,662.6 L1474.0,657.8 L1475.0,653.2 L1476.0,649.0 L1477.0,645.1 L1478.0,641.6 L1479.0,638.5 L1480.0,635.7 L1481.0,633.4 L1482.0,631.4 L1483.0,630.0 L1484.0,629.0 L1485.0,628.4 L1486.0,628.3 L1487.0,628.7 L1488.0,629.6 L1489.0,631.0 L1490.0,632.8 L1491.0,635.2 L1492.0,638.0 L1493.0,641.2 L1494.0,644.8 L1495.0,648.9 L1496.0,653.3 L1497.0,658.1 L1498.0,663.2 L1499.0,668.6 L1500.0,674.3 L1501.0,680.2 L1502.0,686.3 L1503.0,692.6 L1504.0,699.1 L1505.0,705.6 L1506.0,712.1 L1507.0,718.7 L1508.0,725.3 L1509.0,731.9 L1510.0,738.3 L1511.0,744.6 L1512.0,750.8 L1513.0,756.7 L1514.0,762.5 L1515.0,767.9 L1516.0,773.1 L1517.0,778.0 L1518.0,782.5 L1519.0,786.6 L1520.0,790.3 L1521.0,793.6 L1522.0,796.5 L1523.0,798.9 L1524.0,800.9 L1525.0,802.4 L1526.0,803.3 L1527.0,803.8 L1528.0,803.8 L1529.0,803.3 L1530.0,802.3 L1531.0,800.8 L1532.0,798.9 L1533.0,796.4 L1534.0,793.5 L1535.0,790.2 L1536.0,786.4 L1537.0,782.2 L1538.0,777.7 L1539.0,772.8 L1540.0,767.7 L1541.0,762.2 L1542.0,756.5 L1543.0,750.6 L1544.0,744.5 L1545.0,738.3 L1546.0,732.0 L1547.0,725.6 L1548.0,719.2 L1549.0,712.9 L1550.0,706.6 L1551.0,700.4 L1552.0,694.3 L1553.0,688.4 L1554.0,682.7 L1555.0,677.3 L1556.0,672.2 L1557.0,667.3 L1558.0,662.8 L1559.0,658.7 L1560.0,655.0 L1561.0,651.7 L1562.0,648.8 L1563.0,646.4 L1564.0,644.5 L1565.0,643.0 L1566.0,642.1 L1567.0,641.6 L1568.0,641.7 L1569.0,642.2 L1570.0,643.2 L1571.0,644.7 L1572.0,646.6 L1573.0,648.9 L1574.0,651.7 L1575.0,654.9 L1576.0,658.4 L1577.0,662.2 L1578.0,666.4 L1579.0,670.8 L1580.0,675.5 L1581.0,680.3 L1582.0,685.4 L1583.0,690.5 L1584.0,695.6 L1585.0,700.9 L1586.0,706.0 L1587.0,711.1 L1588.0,716.2 L1589.0,721.0 L1590.0,725.7 L1591.0,730.1 L1592.0,734.3 L1593.0,738.1 L1594.0,741.6 L1595.0,744.8 L1596.0,747.6 L1597.0,749.9 L1598.0,751.8 L1599.0,753.3 L1600.0,754.3 L1601.0,754.8 L1602.0,754.9 L1603.0,754.7 L1604.0,754.2 L1605.0,753.5 L1606.0,752.6 L1607.0,751.4 L1608.0,750.0 L1609.0,748.4 L1610.0,746.7 L1611.0,744.7 L1612.0,742.6 L1613.0,740.3 L1614.0,737.8 L1615.0,735.3 L1616.0,732.7 L1617.0,729.9 L1618.0,727.2 L1619.0,724.4 L1620.0,721.5 L1621.0,718.7 L1622.0,715.9 L1623.0,713.2 L1624.0,710.5 L1625.0,707.9 L1626.0,705.4 L1627.0,703.0 L1627.5,701.9" stroke="#000" stroke-dasharray="18.5 6 7.5 6"/>
</g>
<clipPath id="cc"><rect x="219.0" y="1008.0" width="1409.5" height="298.7"/></clipPath>
<g clip-path="url(#cc)" fill="none" stroke-width="5.8" stroke-linejoin="miter" stroke-miterlimit="3">
<path d="M219.00,1300.80 L220.50,1300.51 L221.25,1300.23 L222.00,1299.91 L222.75,1299.54 L223.25,1299.27 L223.75,1298.97 L224.25,1298.63 L224.75,1298.26 L225.25,1297.85 L225.75,1297.38 L226.00,1297.13 L226.25,1296.86 L226.50,1296.58 L226.75,1296.27 L227.00,1295.95 L227.25,1295.60 L227.50,1295.23 L227.75,1294.83 L228.00,1294.41 L228.25,1293.95 L228.50,1293.46 L228.75,1292.93 L229.00,1292.36 L229.25,1291.74 L229.50,1291.08 L229.75,1290.35 L230.00,1289.56 L230.25,1288.70 L230.50,1287.76 L230.75,1286.73 L231.00,1285.60 L231.25,1284.35 L231.50,1282.98 L231.75,1281.46 L232.00,1279.77 L232.25,1277.90 L232.50,1275.80 L232.75,1273.46 L233.00,1270.83 L233.25,1267.87 L233.50,1264.53 L233.75,1260.75 L234.00,1256.47 L234.25,1251.60 L234.50,1246.07 L234.75,1239.79 L235.00,1232.67 L235.25,1224.62 L235.50,1215.60 L235.75,1205.60 L236.00,1194.71 L236.25,1183.15 L236.50,1171.33 L236.75,1159.89 L237.00,1149.66 L237.25,1141.62 L237.50,1136.68 L237.70,1135.42 L237.75,1135.42 L238.00,1135.41 L238.25,1135.40 L238.30,1135.40 L238.50,1135.39 L238.75,1135.38 L238.90,1135.38 L239.00,1135.69 L239.25,1139.16 L239.50,1146.04 L239.75,1155.50 L240.00,1166.55 L240.25,1178.30 L240.50,1190.00 L240.75,1201.18 L241.00,1211.53 L241.25,1220.93 L241.50,1229.35 L241.75,1236.81 L242.00,1243.41 L242.25,1249.21 L242.50,1254.31 L242.75,1258.80 L243.00,1262.75 L243.25,1266.24 L243.50,1269.33 L243.75,1272.07 L244.00,1274.50 L244.25,1276.67 L244.50,1278.61 L244.75,1280.35 L245.00,1281.92 L245.25,1283.33 L245.50,1284.60 L245.75,1285.76 L246.00,1286.81 L246.25,1287.76 L246.50,1288.63 L246.75,1289.43 L247.00,1290.16 L247.25,1290.83 L247.50,1291.45 L247.75,1292.01 L248.00,1292.53 L248.25,1293.02 L248.50,1293.46 L248.75,1293.88 L249.00,1294.26 L249.25,1294.62 L249.50,1294.95 L249.75,1295.26 L250.00,1295.55 L250.25,1295.81 L250.75,1296.29 L251.25,1296.71 L251.75,1297.08 L252.25,1297.40 L252.75,1297.68 L253.50,1298.03 L254.25,1298.31 L255.25,1298.60 L256.75,1298.87 L259.00,1298.97 L261.25,1298.73 L262.50,1298.44 L263.50,1298.10 L264.25,1297.78 L264.75,1297.52 L265.25,1297.24 L265.75,1296.91 L266.25,1296.53 L266.75,1296.11 L267.25,1295.62 L267.50,1295.35 L267.75,1295.07 L268.00,1294.76 L268.25,1294.43 L268.50,1294.08 L268.75,1293.70 L269.00,1293.29 L269.25,1292.86 L269.50,1292.38 L269.75,1291.87 L270.00,1291.32 L270.25,1290.73 L270.50,1290.08 L270.75,1289.38 L271.00,1288.61 L271.25,1287.78 L271.50,1286.87 L271.75,1285.87 L272.00,1284.78 L272.25,1283.58 L272.50,1282.25 L272.75,1280.79 L273.00,1279.17 L273.25,1277.36 L273.50,1275.36 L273.75,1273.11 L274.00,1270.60 L274.25,1267.77 L274.50,1264.59 L274.75,1260.99 L275.00,1256.92 L275.25,1252.30 L275.50,1247.06 L275.75,1241.09 L276.00,1234.31 L276.25,1226.63 L276.50,1217.96 L276.75,1208.26 L277.00,1197.54 L277.25,1185.91 L277.50,1173.65 L277.75,1161.23 L278.00,1149.36 L278.25,1138.97 L278.50,1131.09 L278.75,1126.65 L278.90,1125.91 L279.00,1125.90 L279.25,1125.90 L279.50,1125.90 L279.75,1125.90 L280.00,1125.89 L280.10,1125.89 L280.25,1126.64 L280.50,1131.07 L280.75,1138.94 L281.00,1149.33 L281.25,1161.19 L281.50,1173.61 L281.75,1185.87 L282.00,1197.49 L282.25,1208.20 L282.50,1217.90 L282.75,1226.56 L283.00,1234.24 L283.25,1241.01 L283.50,1246.97 L283.75,1252.21 L284.00,1256.83 L284.25,1260.89 L284.50,1264.48 L284.75,1267.66 L285.00,1270.48 L285.25,1272.98 L285.50,1275.22 L285.75,1277.23 L286.00,1279.02 L286.25,1280.64 L286.50,1282.10 L286.75,1283.42 L287.00,1284.61 L287.25,1285.70 L287.50,1286.69 L287.75,1287.59 L288.00,1288.42 L288.25,1289.18 L288.50,1289.87 L288.75,1290.51 L289.00,1291.10 L289.25,1291.65 L289.50,1292.15 L289.75,1292.61 L290.00,1293.04 L290.25,1293.44 L290.50,1293.81 L290.75,1294.16 L291.00,1294.48 L291.25,1294.78 L291.50,1295.06 L291.75,1295.32 L292.25,1295.79 L292.75,1296.19 L293.25,1296.55 L293.75,1296.86 L294.25,1297.13 L295.00,1297.46 L295.75,1297.73 L296.75,1297.99 L298.75,1298.25 L301.00,1298.15 L302.50,1297.85 L303.50,1297.53 L304.25,1297.22 L304.75,1296.97 L305.25,1296.67 L305.75,1296.34 L306.25,1295.96 L306.75,1295.52 L307.25,1295.02 L307.50,1294.74 L307.75,1294.45 L308.00,1294.13 L308.25,1293.78 L308.50,1293.41 L308.75,1293.02 L309.00,1292.59 L309.25,1292.13 L309.50,1291.63 L309.75,1291.09 L310.00,1290.51 L310.25,1289.87 L310.50,1289.18 L310.75,1288.44 L311.00,1287.62 L311.25,1286.73 L311.50,1285.75 L311.75,1284.68 L312.00,1283.50 L312.25,1282.20 L312.50,1280.77 L312.75,1279.18 L313.00,1277.42 L313.25,1275.45 L313.50,1273.26 L313.75,1270.80 L314.00,1268.04 L314.25,1264.93 L314.50,1261.42 L314.75,1257.44 L315.00,1252.94 L315.25,1247.82 L315.50,1241.99 L315.75,1235.38 L316.00,1227.87 L316.25,1219.40 L316.50,1209.89 L316.75,1199.36 L317.00,1187.88 L317.25,1175.70 L317.50,1163.24 L317.75,1151.18 L318.00,1140.40 L318.25,1131.92 L318.50,1126.73 L318.70,1125.40 L318.75,1125.40 L319.00,1125.40 L319.25,1125.40 L319.30,1125.40 L319.50,1125.40 L319.75,1125.40 L319.90,1125.40 L320.00,1125.73 L320.25,1129.40 L320.50,1136.66 L320.75,1146.64 L321.00,1158.31 L321.25,1170.70 L321.50,1183.05 L321.75,1194.84 L322.00,1205.77 L322.25,1215.69 L322.50,1224.57 L322.75,1232.45 L323.00,1239.41 L323.25,1245.53 L323.50,1250.92 L323.75,1255.66 L324.00,1259.84 L324.25,1263.52 L324.50,1266.78 L324.75,1269.67 L325.00,1272.24 L325.25,1274.54 L325.50,1276.59 L325.75,1278.43 L326.00,1280.08 L326.25,1281.57 L326.50,1282.92 L326.75,1284.14 L327.00,1285.25 L327.25,1286.26 L327.50,1287.18 L327.75,1288.02 L328.00,1288.79 L328.25,1289.50 L328.50,1290.15 L328.75,1290.75 L329.00,1291.30 L329.25,1291.81 L329.50,1292.29 L329.75,1292.72 L330.00,1293.13 L330.25,1293.50 L330.50,1293.85 L330.75,1294.18 L331.00,1294.48 L331.25,1294.76 L331.50,1295.02 L332.00,1295.50 L332.50,1295.91 L333.00,1296.26 L333.50,1296.57 L334.00,1296.84 L334.75,1297.17 L335.50,1297.43 L336.75,1297.73 L339.00,1297.89 L341.25,1297.61 L342.25,1297.33 L343.00,1297.04 L343.75,1296.68 L344.25,1296.38 L344.75,1296.05 L345.25,1295.67 L345.75,1295.22 L346.25,1294.71 L346.50,1294.43 L346.75,1294.13 L347.00,1293.80 L347.25,1293.45 L347.50,1293.08 L347.75,1292.67 L348.00,1292.24 L348.25,1291.77 L348.50,1291.26 L348.75,1290.71 L349.00,1290.11 L349.25,1289.46 L349.50,1288.76 L349.75,1288.00 L350.00,1287.16 L350.25,1286.25 L350.50,1285.25 L350.75,1284.15 L351.00,1282.95 L351.25,1281.62 L351.50,1280.15 L351.75,1278.52 L352.00,1276.72 L352.25,1274.70 L352.50,1272.46 L352.75,1269.94 L353.00,1267.11 L353.25,1263.92 L353.50,1260.32 L353.75,1256.25 L354.00,1251.63 L354.25,1246.38 L354.50,1240.42 L354.75,1233.64 L355.00,1225.94 L355.25,1217.25 L355.50,1207.51 L355.75,1196.71 L356.00,1184.94 L356.25,1172.46 L356.50,1159.69 L356.75,1147.32 L357.00,1136.26 L357.25,1127.58 L357.50,1122.26 L357.70,1120.90 L357.75,1120.90 L358.00,1120.90 L358.25,1120.90 L358.30,1120.90 L358.50,1120.90 L358.75,1120.90 L358.90,1120.90 L359.00,1121.24 L359.25,1125.00 L359.50,1132.45 L359.75,1142.69 L360.00,1154.65 L360.25,1167.36 L360.50,1180.03 L360.75,1192.13 L361.00,1203.33 L361.25,1213.50 L361.50,1222.61 L361.75,1230.70 L362.00,1237.83 L362.25,1244.11 L362.50,1249.64 L362.75,1254.50 L363.00,1258.79 L363.25,1262.57 L363.50,1265.92 L363.75,1268.88 L364.00,1271.52 L364.25,1273.88 L364.50,1275.98 L364.75,1277.87 L365.00,1279.57 L365.25,1281.10 L365.50,1282.48 L365.75,1283.74 L366.00,1284.88 L366.25,1285.92 L366.50,1286.87 L366.75,1287.73 L367.00,1288.53 L367.25,1289.26 L367.50,1289.93 L367.75,1290.55 L368.00,1291.12 L368.25,1291.65 L368.50,1292.14 L368.75,1292.59 L369.00,1293.01 L369.25,1293.40 L369.50,1293.76 L369.75,1294.10 L370.00,1294.42 L370.25,1294.71 L370.50,1294.99 L370.75,1295.24 L371.25,1295.70 L371.75,1296.11 L372.25,1296.46 L372.75,1296.77 L373.25,1297.04 L374.00,1297.38 L374.75,1297.65 L375.75,1297.93 L377.50,1298.19 L379.75,1298.17 L381.50,1297.88 L382.50,1297.59 L383.25,1297.30 L384.00,1296.93 L384.50,1296.64 L385.00,1296.31 L385.50,1295.92 L386.00,1295.48 L386.50,1294.97 L386.75,1294.69 L387.00,1294.39 L387.25,1294.06 L387.50,1293.71 L387.75,1293.33 L388.00,1292.93 L388.25,1292.49 L388.50,1292.02 L388.75,1291.50 L389.00,1290.95 L389.25,1290.35 L389.50,1289.69 L389.75,1288.98 L390.00,1288.20 L390.25,1287.35 L390.50,1286.42 L390.75,1285.40 L391.00,1284.28 L391.25,1283.04 L391.50,1281.68 L391.75,1280.16 L392.00,1278.48 L392.25,1276.61 L392.50,1274.51 L392.75,1272.17 L393.00,1269.53 L393.25,1266.57 L393.50,1263.22 L393.75,1259.43 L394.00,1255.12 L394.25,1250.24 L394.50,1244.68 L394.75,1238.37 L395.00,1231.21 L395.25,1223.12 L395.50,1214.04 L395.75,1203.99 L396.00,1193.03 L396.25,1181.40 L396.50,1169.51 L396.75,1158.00 L397.00,1147.70 L397.25,1139.62 L397.50,1134.66 L397.70,1133.40 L397.75,1133.40 L398.00,1133.40 L398.25,1133.40 L398.30,1133.40 L398.50,1133.40 L398.75,1133.40 L398.90,1133.40 L399.00,1133.72 L399.25,1137.22 L399.50,1144.16 L399.75,1153.69 L400.00,1164.83 L400.25,1176.67 L400.50,1188.47 L400.75,1199.73 L401.00,1210.16 L401.25,1219.64 L401.50,1228.12 L401.75,1235.65 L402.00,1242.29 L402.25,1248.14 L402.50,1253.29 L402.75,1257.82 L403.00,1261.81 L403.25,1265.33 L403.50,1268.45 L403.75,1271.21 L404.00,1273.67 L404.25,1275.86 L404.50,1277.82 L404.75,1279.58 L405.00,1281.17 L405.25,1282.59 L405.50,1283.88 L405.75,1285.05 L406.00,1286.12 L406.25,1287.08 L406.50,1287.97 L406.75,1288.78 L407.00,1289.52 L407.25,1290.20 L407.50,1290.83 L407.75,1291.40 L408.00,1291.94 L408.25,1292.43 L408.50,1292.89 L408.75,1293.31 L409.00,1293.70 L409.25,1294.07 L409.50,1294.41 L409.75,1294.72 L410.00,1295.02 L410.25,1295.29 L410.50,1295.55 L411.00,1296.02 L411.50,1296.42 L412.00,1296.78 L412.50,1297.09 L413.00,1297.37 L413.75,1297.72 L414.50,1298.00 L415.50,1298.30 L416.75,1298.55 L419.00,1298.72 L421.25,1298.58 L422.75,1298.29 L423.75,1297.99 L424.50,1297.70 L425.25,1297.35 L425.75,1297.07 L426.25,1296.76 L426.75,1296.40 L427.25,1295.99 L427.75,1295.52 L428.00,1295.26 L428.25,1294.98 L428.50,1294.69 L428.75,1294.37 L429.00,1294.03 L429.25,1293.66 L429.50,1293.27 L429.75,1292.84 L430.00,1292.38 L430.25,1291.89 L430.50,1291.36 L430.75,1290.78 L431.00,1290.15 L431.25,1289.47 L431.50,1288.73 L431.75,1287.92 L432.00,1287.03 L432.25,1286.07 L432.50,1285.00 L432.75,1283.84 L433.00,1282.55 L433.25,1281.13 L433.50,1279.55 L433.75,1277.79 L434.00,1275.84 L434.25,1273.66 L434.50,1271.21 L434.75,1268.47 L435.00,1265.37 L435.25,1261.87 L435.50,1257.91 L435.75,1253.42 L436.00,1248.31 L436.25,1242.50 L436.50,1235.91 L436.75,1228.43 L437.00,1220.00 L437.25,1210.55 L437.50,1200.12 L437.75,1188.80 L438.00,1176.87 L438.25,1164.78 L438.50,1153.22 L438.75,1143.11 L439.00,1135.45 L439.25,1131.13 L439.40,1130.40 L439.50,1130.40 L439.75,1130.40 L440.00,1130.40 L440.25,1130.40 L440.50,1130.40 L440.60,1130.40 L440.75,1131.13 L441.00,1135.44 L441.25,1143.11 L441.50,1153.22 L441.75,1164.77 L442.00,1176.87 L442.25,1188.80 L442.50,1200.12 L442.75,1210.55 L443.00,1219.99 L443.25,1228.43 L443.50,1235.90 L443.75,1242.50 L444.00,1248.30 L444.25,1253.41 L444.50,1257.90 L444.75,1261.86 L445.00,1265.36 L445.25,1268.46 L445.50,1271.21 L445.75,1273.65 L446.00,1275.83 L446.25,1277.79 L446.50,1279.54 L446.75,1281.11 L447.00,1282.54 L447.25,1283.83 L447.50,1284.99 L447.75,1286.05 L448.00,1287.02 L448.25,1287.91 L448.50,1288.71 L448.75,1289.46 L449.00,1290.14 L449.25,1290.76 L449.50,1291.34 L449.75,1291.88 L450.00,1292.37 L450.25,1292.83 L450.50,1293.25 L450.75,1293.64 L451.00,1294.01 L451.25,1294.35 L451.50,1294.67 L451.75,1294.97 L452.00,1295.24 L452.25,1295.50 L452.75,1295.97 L453.25,1296.38 L453.75,1296.74 L454.25,1297.05 L454.75,1297.33 L455.50,1297.68 L456.25,1297.97 L457.25,1298.26 L458.50,1298.52 L460.75,1298.70 L463.00,1298.57 L464.50,1298.29 L465.50,1298.00 L466.25,1297.72 L467.00,1297.39 L467.50,1297.12 L468.00,1296.82 L468.50,1296.47 L469.00,1296.08 L469.50,1295.63 L470.00,1295.12 L470.25,1294.84 L470.50,1294.54 L470.75,1294.22 L471.00,1293.87 L471.25,1293.50 L471.50,1293.10 L471.75,1292.66 L472.00,1292.20 L472.25,1291.70 L472.50,1291.15 L472.75,1290.57 L473.00,1289.93 L473.25,1289.24 L473.50,1288.48 L473.75,1287.66 L474.00,1286.76 L474.25,1285.78 L474.50,1284.70 L474.75,1283.52 L475.00,1282.21 L475.25,1280.77 L475.50,1279.17 L475.75,1277.39 L476.00,1275.41 L476.25,1273.19 L476.50,1270.71 L476.75,1267.92 L477.00,1264.78 L477.25,1261.23 L477.50,1257.22 L477.75,1252.66 L478.00,1247.48 L478.25,1241.59 L478.50,1234.90 L478.75,1227.32 L479.00,1218.76 L479.25,1209.19 L479.50,1198.61 L479.75,1187.13 L480.00,1175.03 L480.25,1162.77 L480.50,1151.05 L480.75,1140.80 L481.00,1133.02 L481.25,1128.64 L481.40,1127.90 L481.50,1127.90 L481.75,1127.90 L482.00,1127.90 L482.25,1127.90 L482.50,1127.90 L482.60,1127.89 L482.75,1128.63 L483.00,1133.01 L483.25,1140.78 L483.50,1151.03 L483.75,1162.74 L484.00,1175.00 L484.25,1187.10 L484.50,1198.57 L484.75,1209.15 L485.00,1218.72 L485.25,1227.27 L485.50,1234.85 L485.75,1241.53 L486.00,1247.41 L486.25,1252.59 L486.50,1257.14 L486.75,1261.16 L487.00,1264.70 L487.25,1267.84 L487.50,1270.62 L487.75,1273.10 L488.00,1275.31 L488.25,1277.28 L488.50,1279.06 L488.75,1280.65 L489.00,1282.09 L489.25,1283.39 L489.50,1284.58 L489.75,1285.65 L490.00,1286.63 L490.25,1287.52 L490.50,1288.33 L490.75,1289.08 L491.00,1289.77 L491.25,1290.40 L491.50,1290.98 L491.75,1291.52 L492.00,1292.01 L492.25,1292.47 L492.50,1292.90 L492.75,1293.29 L493.00,1293.66 L493.25,1294.00 L493.50,1294.32 L493.75,1294.61 L494.00,1294.89 L494.25,1295.14 L494.75,1295.60 L495.25,1296.01 L495.75,1296.36 L496.25,1296.66 L496.75,1296.93 L497.50,1297.26 L498.25,1297.52 L499.25,1297.77 L501.50,1298.02 L503.75,1297.86 L505.00,1297.59 L506.00,1297.27 L506.75,1296.94 L507.25,1296.69 L507.75,1296.39 L508.25,1296.06 L508.75,1295.67 L509.25,1295.23 L509.75,1294.73 L510.00,1294.45 L510.25,1294.15 L510.50,1293.83 L510.75,1293.49 L511.00,1293.12 L511.25,1292.72 L511.50,1292.29 L511.75,1291.84 L512.00,1291.34 L512.25,1290.80 L512.50,1290.22 L512.75,1289.60 L513.00,1288.92 L513.25,1288.18 L513.50,1287.37 L513.75,1286.50 L514.00,1285.54 L514.25,1284.49 L514.50,1283.33 L514.75,1282.07 L515.00,1280.67 L515.25,1279.12 L515.50,1277.41 L515.75,1275.50 L516.00,1273.38 L516.25,1271.01 L516.50,1268.36 L516.75,1265.37 L517.00,1262.01 L517.25,1258.21 L517.50,1253.91 L517.75,1249.03 L518.00,1243.48 L518.25,1237.17 L518.50,1230.01 L518.75,1221.89 L519.00,1212.72 L519.25,1202.47 L519.50,1191.13 L519.75,1178.84 L520.00,1165.88 L520.25,1152.74 L520.50,1140.20 L520.75,1129.21 L521.00,1120.88 L521.25,1116.19 L521.40,1115.40 L521.50,1115.40 L521.75,1115.40 L522.00,1115.40 L522.25,1115.40 L522.50,1115.40 L522.60,1115.40 L522.75,1116.19 L523.00,1120.87 L523.25,1129.20 L523.50,1140.18 L523.75,1152.73 L524.00,1165.86 L524.25,1178.82 L524.50,1191.11 L524.75,1202.44 L525.00,1212.70 L525.25,1221.86 L525.50,1229.98 L525.75,1237.14 L526.00,1243.44 L526.25,1248.99 L526.50,1253.87 L526.75,1258.17 L527.00,1261.96 L527.25,1265.32 L527.50,1268.30 L527.75,1270.96 L528.00,1273.33 L528.25,1275.44 L528.50,1277.35 L528.75,1279.06 L529.00,1280.60 L529.25,1281.99 L529.50,1283.26 L529.75,1284.41 L530.00,1285.46 L530.25,1286.41 L530.50,1287.29 L530.75,1288.09 L531.00,1288.82 L531.25,1289.50 L531.50,1290.12 L531.75,1290.70 L532.00,1291.23 L532.25,1291.72 L532.50,1292.18 L532.75,1292.60 L533.00,1292.99 L533.25,1293.36 L533.50,1293.70 L533.75,1294.01 L534.00,1294.31 L534.25,1294.58 L534.50,1294.84 L535.00,1295.30 L535.50,1295.70 L536.00,1296.05 L536.50,1296.35 L537.00,1296.61 L537.75,1296.94 L538.50,1297.19 L539.75,1297.48 L542.00,1297.61 L544.00,1297.34 L545.00,1297.05 L545.75,1296.76 L546.50,1296.38 L547.00,1296.08 L547.50,1295.73 L548.00,1295.33 L548.50,1294.87 L548.75,1294.61 L549.00,1294.34 L549.25,1294.04 L549.50,1293.72 L549.75,1293.38 L550.00,1293.01 L550.25,1292.62 L550.50,1292.19 L550.75,1291.73 L551.00,1291.23 L551.25,1290.69 L551.50,1290.10 L551.75,1289.46 L552.00,1288.77 L552.25,1288.02 L552.50,1287.20 L552.75,1286.30 L553.00,1285.32 L553.25,1284.24 L553.50,1283.06 L553.75,1281.75 L554.00,1280.30 L554.25,1278.70 L554.50,1276.92 L554.75,1274.94 L555.00,1272.72 L555.25,1270.24 L555.50,1267.46 L555.75,1264.32 L556.00,1260.77 L556.25,1256.76 L556.50,1252.21 L556.75,1247.04 L557.00,1241.16 L557.25,1234.48 L557.50,1226.90 L557.75,1218.34 L558.00,1208.74 L558.25,1198.10 L558.50,1186.50 L558.75,1174.20 L559.00,1161.61 L559.25,1149.43 L559.50,1138.54 L559.75,1129.98 L560.00,1124.73 L560.20,1123.40 L560.25,1123.40 L560.50,1123.40 L560.75,1123.40 L560.80,1123.40 L561.00,1123.40 L561.25,1123.40 L561.40,1123.40 L561.50,1123.74 L561.75,1127.45 L562.00,1134.79 L562.25,1144.88 L562.50,1156.67 L562.75,1169.19 L563.00,1181.67 L563.25,1193.59 L563.50,1204.64 L563.75,1214.66 L564.00,1223.64 L564.25,1231.60 L564.50,1238.63 L564.75,1244.82 L565.00,1250.27 L565.25,1255.06 L565.50,1259.28 L565.75,1263.01 L566.00,1266.31 L566.25,1269.23 L566.50,1271.83 L566.75,1274.15 L567.00,1276.23 L567.25,1278.09 L567.50,1279.76 L567.75,1281.27 L568.00,1282.64 L568.25,1283.87 L568.50,1285.00 L568.75,1286.02 L569.00,1286.96 L569.25,1287.81 L569.50,1288.59 L569.75,1289.31 L570.00,1289.97 L570.25,1290.58 L570.50,1291.15 L570.75,1291.67 L571.00,1292.15 L571.25,1292.59 L571.50,1293.01 L571.75,1293.39 L572.00,1293.75 L572.25,1294.08 L572.50,1294.39 L572.75,1294.68 L573.00,1294.95 L573.25,1295.20 L573.75,1295.66 L574.25,1296.06 L574.75,1296.40 L575.25,1296.71 L575.75,1296.97 L576.50,1297.30 L577.25,1297.57 L578.25,1297.83 L580.25,1298.09 L582.50,1298.01 L584.00,1297.73 L585.00,1297.42 L585.75,1297.11 L586.50,1296.73 L587.00,1296.43 L587.50,1296.08 L588.00,1295.68 L588.50,1295.23 L588.75,1294.97 L589.00,1294.70 L589.25,1294.41 L589.50,1294.10 L589.75,1293.76 L590.00,1293.40 L590.25,1293.01 L590.50,1292.59 L590.75,1292.13 L591.00,1291.65 L591.25,1291.12 L591.50,1290.54 L591.75,1289.92 L592.00,1289.24 L592.25,1288.51 L592.50,1287.71 L592.75,1286.83 L593.00,1285.87 L593.25,1284.82 L593.50,1283.66 L593.75,1282.38 L594.00,1280.97 L594.25,1279.40 L594.50,1277.67 L594.75,1275.73 L595.00,1273.57 L595.25,1271.15 L595.50,1268.43 L595.75,1265.37 L596.00,1261.91 L596.25,1258.00 L596.50,1253.56 L596.75,1248.51 L597.00,1242.78 L597.25,1236.26 L597.50,1228.87 L597.75,1220.51 L598.00,1211.15 L598.25,1200.77 L598.50,1189.46 L598.75,1177.45 L599.00,1165.18 L599.25,1153.29 L599.50,1142.66 L599.75,1134.32 L600.00,1129.20 L600.20,1127.90 L600.25,1127.90 L600.50,1127.90 L600.75,1127.90 L600.80,1127.90 L601.00,1127.90 L601.25,1127.90 L601.40,1127.90 L601.50,1128.23 L601.75,1131.85 L602.00,1139.01 L602.25,1148.85 L602.50,1160.35 L602.75,1172.57 L603.00,1184.75 L603.25,1196.38 L603.50,1207.15 L603.75,1216.93 L604.00,1225.69 L604.25,1233.46 L604.50,1240.32 L604.75,1246.36 L605.00,1251.67 L605.25,1256.35 L605.50,1260.47 L605.75,1264.11 L606.00,1267.32 L606.25,1270.18 L606.50,1272.72 L606.75,1274.98 L607.00,1277.01 L607.25,1278.82 L607.50,1280.46 L607.75,1281.93 L608.00,1283.27 L608.25,1284.47 L608.50,1285.57 L608.75,1286.57 L609.00,1287.49 L609.25,1288.32 L609.50,1289.09 L609.75,1289.79 L610.00,1290.44 L610.25,1291.04 L610.50,1291.59 L610.75,1292.10 L611.00,1292.57 L611.25,1293.01 L611.50,1293.42 L611.75,1293.79 L612.00,1294.15 L612.25,1294.47 L612.50,1294.78 L612.75,1295.07 L613.00,1295.33 L613.50,1295.82 L614.00,1296.24 L614.50,1296.61 L615.00,1296.94 L615.50,1297.23 L616.00,1297.48 L616.75,1297.80 L617.50,1298.06 L618.50,1298.33 L620.00,1298.59 L622.25,1298.69 L624.50,1298.48 L625.75,1298.20 L626.75,1297.88 L627.50,1297.57 L628.25,1297.19 L628.75,1296.89 L629.25,1296.55 L629.75,1296.16 L630.25,1295.72 L630.75,1295.21 L631.00,1294.93 L631.25,1294.62 L631.50,1294.30 L631.75,1293.95 L632.00,1293.57 L632.25,1293.17 L632.50,1292.73 L632.75,1292.26 L633.00,1291.75 L633.25,1291.20 L633.50,1290.60 L633.75,1289.95 L634.00,1289.24 L634.25,1288.47 L634.50,1287.63 L634.75,1286.70 L635.00,1285.69 L635.25,1284.57 L635.50,1283.34 L635.75,1281.98 L636.00,1280.47 L636.25,1278.80 L636.50,1276.93 L636.75,1274.85 L637.00,1272.51 L637.25,1269.88 L637.50,1266.92 L637.75,1263.58 L638.00,1259.79 L638.25,1255.50 L638.50,1250.62 L638.75,1245.07 L639.00,1238.76 L639.25,1231.61 L639.50,1223.55 L639.75,1214.52 L640.00,1204.55 L640.25,1193.73 L640.50,1182.32 L640.75,1170.76 L641.00,1159.72 L641.25,1150.05 L641.50,1142.72 L641.75,1138.59 L641.90,1137.90 L642.00,1137.90 L642.25,1137.90 L642.50,1137.90 L642.75,1137.90 L643.00,1137.90 L643.10,1137.90 L643.25,1138.60 L643.50,1142.72 L643.75,1150.05 L644.00,1159.72 L644.25,1170.77 L644.50,1182.33 L644.75,1193.74 L645.00,1204.55 L645.25,1214.53 L645.50,1223.56 L645.75,1231.62 L646.00,1238.77 L646.25,1245.08 L646.50,1250.63 L646.75,1255.51 L647.00,1259.80 L647.25,1263.59 L647.50,1266.93 L647.75,1269.89 L648.00,1272.52 L648.25,1274.86 L648.50,1276.95 L648.75,1278.81 L649.00,1280.49 L649.25,1282.00 L649.50,1283.36 L649.75,1284.59 L650.00,1285.70 L650.25,1286.72 L650.50,1287.65 L650.75,1288.49 L651.00,1289.26 L651.25,1289.97 L651.50,1290.62 L651.75,1291.22 L652.00,1291.78 L652.25,1292.29 L652.50,1292.76 L652.75,1293.20 L653.00,1293.60 L653.25,1293.98 L653.50,1294.33 L653.75,1294.65 L654.00,1294.96 L654.25,1295.24 L654.50,1295.51 L655.00,1295.98 L655.50,1296.40 L656.00,1296.77 L656.50,1297.09 L657.00,1297.37 L657.75,1297.73 L658.50,1298.03 L659.50,1298.33 L660.75,1298.60 L663.00,1298.82 L665.25,1298.73 L667.00,1298.45 L668.00,1298.18 L668.75,1297.93 L669.50,1297.62 L670.25,1297.25 L670.75,1296.95 L671.25,1296.62 L671.75,1296.24 L672.25,1295.82 L672.75,1295.33 L673.00,1295.06 L673.25,1294.77 L673.50,1294.46 L673.75,1294.13 L674.00,1293.78 L674.25,1293.40 L674.50,1292.99 L674.75,1292.55 L675.00,1292.08 L675.25,1291.57 L675.50,1291.02 L675.75,1290.42 L676.00,1289.77 L676.25,1289.07 L676.50,1288.30 L676.75,1287.47 L677.00,1286.56 L677.25,1285.56 L677.50,1284.46 L677.75,1283.26 L678.00,1281.93 L678.25,1280.47 L678.50,1278.84 L678.75,1277.04 L679.00,1275.03 L679.25,1272.78 L679.50,1270.26 L679.75,1267.43 L680.00,1264.25 L680.25,1260.65 L680.50,1256.57 L680.75,1251.95 L681.00,1246.70 L681.25,1240.72 L681.50,1233.94 L681.75,1226.24 L682.00,1217.57 L682.25,1207.86 L682.50,1197.12 L682.75,1185.48 L683.00,1173.21 L683.25,1160.77 L683.50,1148.89 L683.75,1138.49 L684.00,1130.60 L684.25,1126.16 L684.40,1125.41 L684.50,1125.40 L684.75,1125.40 L685.00,1125.40 L685.25,1125.40 L685.50,1125.39 L685.60,1125.39 L685.75,1126.14 L686.00,1130.58 L686.25,1138.46 L686.50,1148.85 L686.75,1160.73 L687.00,1173.16 L687.25,1185.43 L687.50,1197.07 L687.75,1207.80 L688.00,1217.50 L688.25,1226.17 L688.50,1233.86 L688.75,1240.64 L689.00,1246.61 L689.25,1251.86 L689.50,1256.47 L689.75,1260.54 L690.00,1264.14 L690.25,1267.32 L690.50,1270.14 L690.75,1272.65 L691.00,1274.89 L691.25,1276.90 L691.50,1278.69 L691.75,1280.31 L692.00,1281.77 L692.25,1283.09 L692.50,1284.29 L692.75,1285.38 L693.00,1286.37 L693.25,1287.27 L693.50,1288.10 L693.75,1288.86 L694.00,1289.55 L694.25,1290.19 L694.50,1290.78 L694.75,1291.32 L695.00,1291.83 L695.25,1292.29 L695.50,1292.72 L695.75,1293.12 L696.00,1293.49 L696.25,1293.84 L696.50,1294.16 L696.75,1294.45 L697.00,1294.73 L697.25,1294.99 L697.75,1295.46 L698.25,1295.86 L698.75,1296.21 L699.25,1296.52 L699.75,1296.78 L700.50,1297.11 L701.25,1297.37 L702.50,1297.67 L704.75,1297.84 L707.00,1297.58 L708.00,1297.32 L708.75,1297.04 L709.50,1296.70 L710.00,1296.43 L710.50,1296.11 L711.00,1295.75 L711.50,1295.33 L712.00,1294.85 L712.25,1294.59 L712.50,1294.30 L712.75,1294.00 L713.00,1293.67 L713.25,1293.32 L713.50,1292.94 L713.75,1292.53 L714.00,1292.10 L714.25,1291.62 L714.50,1291.11 L714.75,1290.56 L715.00,1289.96 L715.25,1289.31 L715.50,1288.61 L715.75,1287.84 L716.00,1287.00 L716.25,1286.09 L716.50,1285.08 L716.75,1283.98 L717.00,1282.78 L717.25,1281.44 L717.50,1279.97 L717.75,1278.34 L718.00,1276.53 L718.25,1274.51 L718.50,1272.26 L718.75,1269.73 L719.00,1266.90 L719.25,1263.70 L719.50,1260.10 L719.75,1256.02 L720.00,1251.39 L720.25,1246.13 L720.50,1240.15 L720.75,1233.36 L721.00,1225.65 L721.25,1216.94 L721.50,1207.18 L721.75,1196.36 L722.00,1184.57 L722.25,1172.06 L722.50,1159.26 L722.75,1146.87 L723.00,1135.80 L723.25,1127.10 L723.50,1121.76 L723.70,1120.40 L723.75,1120.40 L724.00,1120.40 L724.25,1120.40 L724.30,1120.40 L724.50,1120.40 L724.75,1120.40 L724.90,1120.40 L725.00,1120.74 L725.25,1124.51 L725.50,1131.97 L725.75,1142.22 L726.00,1154.21 L726.25,1166.93 L726.50,1179.62 L726.75,1191.74 L727.00,1202.96 L727.25,1213.15 L727.50,1222.28 L727.75,1230.37 L728.00,1237.52 L728.25,1243.81 L728.50,1249.35 L728.75,1254.22 L729.00,1258.51 L729.25,1262.29 L729.50,1265.64 L729.75,1268.61 L730.00,1271.25 L730.25,1273.61 L730.50,1275.72 L730.75,1277.61 L731.00,1279.31 L731.25,1280.84 L731.50,1282.22 L731.75,1283.48 L732.00,1284.62 L732.25,1285.66 L732.50,1286.60 L732.75,1287.47 L733.00,1288.26 L733.25,1288.99 L733.50,1289.66 L733.75,1290.28 L734.00,1290.85 L734.25,1291.37 L734.50,1291.86 L734.75,1292.31 L735.00,1292.73 L735.25,1293.12 L735.50,1293.48 L735.75,1293.81 L736.00,1294.12 L736.25,1294.41 L736.50,1294.68 L736.75,1294.94 L737.25,1295.39 L737.75,1295.79 L738.25,1296.13 L738.75,1296.43 L739.25,1296.69 L740.00,1297.01 L740.75,1297.27 L742.00,1297.55 L744.25,1297.71 L746.50,1297.43 L747.50,1297.15 L748.25,1296.86 L749.00,1296.50 L749.50,1296.22 L750.00,1295.89 L750.50,1295.51 L751.00,1295.08 L751.50,1294.58 L751.75,1294.31 L752.00,1294.01 L752.25,1293.70 L752.50,1293.36 L752.75,1292.99 L753.00,1292.60 L753.25,1292.18 L753.50,1291.72 L753.75,1291.23 L754.00,1290.70 L754.25,1290.12 L754.50,1289.50 L754.75,1288.83 L755.00,1288.10 L755.25,1287.30 L755.50,1286.43 L755.75,1285.48 L756.00,1284.44 L756.25,1283.30 L756.50,1282.04 L756.75,1280.66 L757.00,1279.13 L757.25,1277.44 L757.50,1275.56 L757.75,1273.46 L758.00,1271.12 L758.25,1268.50 L758.50,1265.55 L758.75,1262.24 L759.00,1258.49 L759.25,1254.26 L759.50,1249.45 L759.75,1243.99 L760.00,1237.78 L760.25,1230.72 L760.50,1222.71 L760.75,1213.67 L761.00,1203.53 L761.25,1192.29 L761.50,1180.05 L761.75,1167.05 L762.00,1153.76 L762.25,1140.89 L762.50,1129.39 L762.75,1120.35 L763.00,1114.81 L763.20,1113.40 L763.25,1113.40 L763.50,1113.40 L763.75,1113.40 L763.80,1113.40 L764.00,1113.40 L764.25,1113.40 L764.40,1113.40 L764.50,1113.76 L764.75,1117.67 L765.00,1125.42 L765.25,1136.07 L765.50,1148.52 L765.75,1161.75 L766.00,1174.93 L766.25,1187.52 L766.50,1199.18 L766.75,1209.76 L767.00,1219.24 L767.25,1227.65 L767.50,1235.08 L767.75,1241.62 L768.00,1247.37 L768.25,1252.43 L768.50,1256.89 L768.75,1260.82 L769.00,1264.30 L769.25,1267.39 L769.50,1270.14 L769.75,1272.59 L770.00,1274.78 L770.25,1276.74 L770.50,1278.51 L770.75,1280.11 L771.00,1281.55 L771.25,1282.85 L771.50,1284.04 L771.75,1285.12 L772.00,1286.11 L772.25,1287.01 L772.50,1287.84 L772.75,1288.60 L773.00,1289.30 L773.25,1289.94 L773.50,1290.53 L773.75,1291.08 L774.00,1291.59 L774.25,1292.06 L774.50,1292.50 L774.75,1292.91 L775.00,1293.28 L775.25,1293.64 L775.50,1293.96 L775.75,1294.27 L776.00,1294.56 L776.25,1294.82 L776.75,1295.30 L777.25,1295.72 L777.75,1296.09 L778.25,1296.41 L778.75,1296.70 L779.50,1297.05 L780.25,1297.33 L781.25,1297.62 L782.75,1297.87 L785.00,1297.89 L786.75,1297.63 L787.75,1297.35 L788.50,1297.07 L789.25,1296.71 L789.75,1296.43 L790.25,1296.10 L790.75,1295.72 L791.25,1295.29 L791.75,1294.80 L792.00,1294.52 L792.25,1294.23 L792.50,1293.91 L792.75,1293.57 L793.00,1293.20 L793.25,1292.81 L793.50,1292.39 L793.75,1291.93 L794.00,1291.43 L794.25,1290.90 L794.50,1290.32 L794.75,1289.68 L795.00,1289.00 L795.25,1288.25 L795.50,1287.44 L795.75,1286.55 L796.00,1285.58 L796.25,1284.51 L796.50,1283.34 L796.75,1282.04 L797.00,1280.61 L797.25,1279.03 L797.50,1277.27 L797.75,1275.30 L798.00,1273.11 L798.25,1270.66 L798.50,1267.90 L798.75,1264.80 L799.00,1261.29 L799.25,1257.32 L799.50,1252.82 L799.75,1247.70 L800.00,1241.89 L800.25,1235.28 L800.50,1227.78 L800.75,1219.31 L801.00,1209.82 L801.25,1199.29 L801.50,1187.82 L801.75,1175.65 L802.00,1163.20 L802.25,1151.14 L802.50,1140.37 L802.75,1131.91 L803.00,1126.72 L803.20,1125.39 L803.25,1125.39 L803.50,1125.40 L803.75,1125.40 L803.80,1125.40 L804.00,1125.40 L804.25,1125.40 L804.40,1125.40 L804.50,1125.74 L804.75,1129.41 L805.00,1136.67 L805.25,1146.65 L805.50,1158.31 L805.75,1170.70 L806.00,1183.05 L806.25,1194.85 L806.50,1205.77 L806.75,1215.69 L807.00,1224.57 L807.25,1232.45 L807.50,1239.41 L807.75,1245.54 L808.00,1250.93 L808.25,1255.67 L808.50,1259.85 L808.75,1263.53 L809.00,1266.80 L809.25,1269.69 L809.50,1272.27 L809.75,1274.56 L810.00,1276.62 L810.25,1278.46 L810.50,1280.12 L810.75,1281.62 L811.00,1282.97 L811.25,1284.19 L811.50,1285.31 L811.75,1286.32 L812.00,1287.25 L812.25,1288.10 L812.50,1288.88 L812.75,1289.59 L813.00,1290.25 L813.25,1290.86 L813.50,1291.41 L813.75,1291.93 L814.00,1292.41 L814.25,1292.86 L814.50,1293.27 L814.75,1293.66 L815.00,1294.01 L815.25,1294.35 L815.50,1294.66 L815.75,1294.95 L816.00,1295.22 L816.25,1295.47 L816.75,1295.94 L817.25,1296.34 L817.75,1296.70 L818.25,1297.01 L818.75,1297.28 L819.50,1297.64 L820.25,1297.93 L821.25,1298.23 L822.50,1298.49 L824.75,1298.70 L827.00,1298.60 L828.75,1298.29 L829.75,1298.01 L830.50,1297.74 L831.25,1297.40 L831.75,1297.14 L832.25,1296.84 L832.75,1296.50 L833.25,1296.12 L833.75,1295.68 L834.25,1295.18 L834.50,1294.90 L834.75,1294.60 L835.00,1294.28 L835.25,1293.94 L835.50,1293.57 L835.75,1293.18 L836.00,1292.75 L836.25,1292.30 L836.50,1291.80 L836.75,1291.27 L837.00,1290.69 L837.25,1290.07 L837.50,1289.39 L837.75,1288.65 L838.00,1287.84 L838.25,1286.96 L838.50,1286.00 L838.75,1284.94 L839.00,1283.78 L839.25,1282.50 L839.50,1281.08 L839.75,1279.51 L840.00,1277.77 L840.25,1275.83 L840.50,1273.67 L840.75,1271.25 L841.00,1268.52 L841.25,1265.46 L841.50,1262.00 L841.75,1258.08 L842.00,1253.63 L842.25,1248.58 L842.50,1242.85 L842.75,1236.32 L843.00,1228.92 L843.25,1220.57 L843.50,1211.20 L843.75,1200.81 L844.00,1189.49 L844.25,1177.48 L844.50,1165.20 L844.75,1153.31 L845.00,1142.68 L845.25,1134.33 L845.50,1129.21 L845.70,1127.90 L845.75,1127.90 L846.00,1127.90 L846.25,1127.90 L846.30,1127.90 L846.50,1127.90 L846.75,1127.90 L846.90,1127.90 L847.00,1128.23 L847.25,1131.85 L847.50,1139.01 L847.75,1148.85 L848.00,1160.36 L848.25,1172.58 L848.50,1184.76 L848.75,1196.39 L849.00,1207.17 L849.25,1216.95 L849.50,1225.71 L849.75,1233.48 L850.00,1240.34 L850.25,1246.39 L850.50,1251.70 L850.75,1256.38 L851.00,1260.50 L851.25,1264.13 L851.50,1267.35 L851.75,1270.21 L852.00,1272.75 L852.25,1275.01 L852.50,1277.04 L852.75,1278.85 L853.00,1280.49 L853.25,1281.96 L853.50,1283.29 L853.75,1284.50 L854.00,1285.60 L854.25,1286.60 L854.50,1287.52 L854.75,1288.35 L855.00,1289.12 L855.25,1289.82 L855.50,1290.47 L855.75,1291.07 L856.00,1291.62 L856.25,1292.13 L856.50,1292.60 L856.75,1293.04 L857.00,1293.44 L857.25,1293.82 L857.50,1294.17 L857.75,1294.50 L858.00,1294.81 L858.25,1295.10 L858.50,1295.36 L859.00,1295.85 L859.50,1296.27 L860.00,1296.64 L860.50,1296.97 L861.00,1297.26 L861.50,1297.51 L862.25,1297.84 L863.00,1298.10 L864.00,1298.38 L865.50,1298.64 L867.75,1298.78 L870.00,1298.60 L871.50,1298.31 L872.50,1298.01 L873.25,1297.72 L874.00,1297.37 L874.50,1297.10 L875.00,1296.78 L875.50,1296.43 L876.00,1296.02 L876.50,1295.56 L876.75,1295.31 L877.00,1295.04 L877.25,1294.75 L877.50,1294.43 L877.75,1294.10 L878.00,1293.74 L878.25,1293.35 L878.50,1292.94 L878.75,1292.49 L879.00,1292.00 L879.25,1291.48 L879.50,1290.92 L879.75,1290.30 L880.00,1289.64 L880.25,1288.91 L880.50,1288.12 L880.75,1287.26 L881.00,1286.32 L881.25,1285.28 L881.50,1284.15 L881.75,1282.89 L882.00,1281.51 L882.25,1279.98 L882.50,1278.27 L882.75,1276.38 L883.00,1274.26 L883.25,1271.89 L883.50,1269.22 L883.75,1266.23 L884.00,1262.84 L884.25,1259.01 L884.50,1254.66 L884.75,1249.72 L885.00,1244.11 L885.25,1237.73 L885.50,1230.50 L885.75,1222.32 L886.00,1213.16 L886.25,1203.00 L886.50,1191.94 L886.75,1180.19 L887.00,1168.18 L887.25,1156.55 L887.50,1146.16 L887.75,1137.99 L888.00,1132.98 L888.20,1131.70 L888.25,1131.70 L888.50,1131.70 L888.75,1131.70 L888.80,1131.70 L889.00,1131.70 L889.25,1131.70 L889.40,1131.70 L889.50,1132.02 L889.75,1135.55 L890.00,1142.55 L890.25,1152.18 L890.50,1163.42 L890.75,1175.37 L891.00,1187.28 L891.25,1198.65 L891.50,1209.18 L891.75,1218.75 L892.00,1227.31 L892.25,1234.91 L892.50,1241.61 L892.75,1247.52 L893.00,1252.71 L893.25,1257.28 L893.50,1261.31 L893.75,1264.86 L894.00,1268.01 L894.25,1270.80 L894.50,1273.28 L894.75,1275.49 L895.00,1277.47 L895.25,1279.24 L895.50,1280.84 L895.75,1282.27 L896.00,1283.57 L896.25,1284.75 L896.50,1285.82 L896.75,1286.80 L897.00,1287.69 L897.25,1288.50 L897.50,1289.25 L897.75,1289.93 L898.00,1290.56 L898.25,1291.14 L898.50,1291.68 L898.75,1292.17 L899.00,1292.63 L899.25,1293.05 L899.50,1293.45 L899.75,1293.81 L900.00,1294.15 L900.25,1294.47 L900.50,1294.76 L900.75,1295.04 L901.00,1295.29 L901.50,1295.76 L902.00,1296.16 L902.50,1296.51 L903.00,1296.82 L903.50,1297.09 L904.25,1297.43 L905.00,1297.70 L906.00,1297.98 L907.50,1298.23 L909.75,1298.29 L912.00,1298.00 L913.00,1297.74 L913.75,1297.48 L914.50,1297.16 L915.00,1296.91 L915.50,1296.63 L916.00,1296.30 L916.50,1295.93 L917.00,1295.51 L917.50,1295.02 L917.75,1294.76 L918.00,1294.47 L918.25,1294.17 L918.50,1293.85 L918.75,1293.50 L919.00,1293.12 L919.25,1292.72 L919.50,1292.29 L919.75,1291.82 L920.00,1291.32 L920.25,1290.78 L920.50,1290.19 L920.75,1289.56 L921.00,1288.87 L921.25,1288.13 L921.50,1287.31 L921.75,1286.43 L922.00,1285.46 L922.25,1284.40 L922.50,1283.24 L922.75,1281.96 L923.00,1280.55 L923.25,1279.00 L923.50,1277.27 L923.75,1275.35 L924.00,1273.22 L924.25,1270.83 L924.50,1268.15 L924.75,1265.15 L925.00,1261.76 L925.25,1257.94 L925.50,1253.61 L925.75,1248.69 L926.00,1243.11 L926.25,1236.76 L926.50,1229.55 L926.75,1221.38 L927.00,1212.15 L927.25,1201.83 L927.50,1190.43 L927.75,1178.05 L928.00,1165.01 L928.25,1151.79 L928.50,1139.16 L928.75,1128.11 L929.00,1119.72 L929.25,1115.00 L929.40,1114.20 L929.50,1114.20 L929.75,1114.20 L930.00,1114.20 L930.25,1114.20 L930.50,1114.19 L930.60,1114.19 L930.75,1114.99 L931.00,1119.70 L931.25,1128.08 L931.50,1139.13 L931.75,1151.76 L932.00,1164.97 L932.25,1178.01 L932.50,1190.38 L932.75,1201.78 L933.00,1212.10 L933.25,1221.31 L933.50,1229.48 L933.75,1236.69 L934.00,1243.03 L934.25,1248.61 L934.50,1253.52 L934.75,1257.84 L935.00,1261.66 L935.25,1265.04 L935.50,1268.04 L935.75,1270.71 L936.00,1273.10 L936.25,1275.23 L936.50,1277.14 L936.75,1278.86 L937.00,1280.41 L937.25,1281.81 L937.50,1283.08 L937.75,1284.24 L938.00,1285.29 L938.25,1286.25 L938.50,1287.13 L938.75,1287.94 L939.00,1288.68 L939.25,1289.36 L939.50,1289.98 L939.75,1290.56 L940.00,1291.10 L940.25,1291.59 L940.50,1292.05 L940.75,1292.47 L941.00,1292.86 L941.25,1293.23 L941.50,1293.57 L941.75,1293.89 L942.00,1294.18 L942.25,1294.46 L942.50,1294.71 L943.00,1295.17 L943.50,1295.57 L944.00,1295.92 L944.50,1296.22 L945.00,1296.48 L945.75,1296.80 L946.75,1297.12 L948.25,1297.39 L950.50,1297.40 L952.00,1297.14 L953.00,1296.83 L953.75,1296.51 L954.25,1296.26 L954.75,1295.96 L955.25,1295.62 L955.75,1295.23 L956.25,1294.77 L956.50,1294.52 L956.75,1294.25 L957.00,1293.96 L957.25,1293.65 L957.50,1293.32 L957.75,1292.96 L958.00,1292.58 L958.25,1292.16 L958.50,1291.71 L958.75,1291.23 L959.00,1290.71 L959.25,1290.14 L959.50,1289.53 L959.75,1288.86 L960.00,1288.14 L960.25,1287.35 L960.50,1286.50 L960.75,1285.56 L961.00,1284.53 L961.25,1283.40 L961.50,1282.16 L961.75,1280.80 L962.00,1279.28 L962.25,1277.61 L962.50,1275.75 L962.75,1273.68 L963.00,1271.37 L963.25,1268.78 L963.50,1265.86 L963.75,1262.59 L964.00,1258.88 L964.25,1254.69 L964.50,1249.94 L964.75,1244.54 L965.00,1238.40 L965.25,1231.42 L965.50,1223.50 L965.75,1214.56 L966.00,1204.53 L966.25,1193.42 L966.50,1181.31 L966.75,1168.46 L967.00,1155.32 L967.25,1142.59 L967.50,1131.21 L967.75,1122.27 L968.00,1116.80 L968.20,1115.40 L968.25,1115.40 L968.50,1115.40 L968.75,1115.40 L968.80,1115.40 L969.00,1115.40 L969.25,1115.40 L969.40,1115.40 L969.50,1115.75 L969.75,1119.62 L970.00,1127.29 L970.25,1137.82 L970.50,1150.14 L970.75,1163.21 L971.00,1176.25 L971.25,1188.70 L971.50,1200.23 L971.75,1210.70 L972.00,1220.07 L972.25,1228.39 L972.50,1235.73 L972.75,1242.20 L973.00,1247.89 L973.25,1252.89 L973.50,1257.30 L973.75,1261.19 L974.00,1264.63 L974.25,1267.68 L974.50,1270.40 L974.75,1272.82 L975.00,1274.99 L975.25,1276.93 L975.50,1278.68 L975.75,1280.25 L976.00,1281.68 L976.25,1282.97 L976.50,1284.14 L976.75,1285.21 L977.00,1286.18 L977.25,1287.07 L977.50,1287.89 L977.75,1288.64 L978.00,1289.33 L978.25,1289.96 L978.50,1290.55 L978.75,1291.09 L979.00,1291.59 L979.25,1292.06 L979.50,1292.49 L979.75,1292.89 L980.00,1293.26 L980.25,1293.61 L980.50,1293.93 L980.75,1294.23 L981.00,1294.51 L981.25,1294.77 L981.75,1295.24 L982.25,1295.65 L982.75,1296.01 L983.25,1296.32 L983.75,1296.59 L984.50,1296.93 L985.25,1297.20 L986.25,1297.46 L988.50,1297.70 L990.75,1297.51 L992.00,1297.20 L992.75,1296.93 L993.50,1296.58 L994.00,1296.31 L994.50,1295.99 L995.00,1295.63 L995.50,1295.21 L996.00,1294.73 L996.25,1294.46 L996.50,1294.18 L996.75,1293.87 L997.00,1293.54 L997.25,1293.18 L997.50,1292.80 L997.75,1292.39 L998.00,1291.95 L998.25,1291.47 L998.50,1290.96 L998.75,1290.40 L999.00,1289.79 L999.25,1289.14 L999.50,1288.42 L999.75,1287.65 L1000.00,1286.80 L1000.25,1285.87 L1000.50,1284.86 L1000.75,1283.75 L1001.00,1282.52 L1001.25,1281.17 L1001.50,1279.68 L1001.75,1278.03 L1002.00,1276.19 L1002.25,1274.15 L1002.50,1271.87 L1002.75,1269.31 L1003.00,1266.43 L1003.25,1263.20 L1003.50,1259.54 L1003.75,1255.41 L1004.00,1250.71 L1004.25,1245.38 L1004.50,1239.32 L1004.75,1232.43 L1005.00,1224.62 L1005.25,1215.79 L1005.50,1205.89 L1005.75,1194.92 L1006.00,1182.96 L1006.25,1170.27 L1006.50,1157.30 L1006.75,1144.73 L1007.00,1133.50 L1007.25,1124.68 L1007.50,1119.27 L1007.70,1117.89 L1007.75,1117.89 L1008.00,1117.90 L1008.25,1117.90 L1008.30,1117.90 L1008.50,1117.90 L1008.75,1117.90 L1008.90,1117.91 L1009.00,1118.25 L1009.25,1122.08 L1009.50,1129.65 L1009.75,1140.05 L1010.00,1152.21 L1010.25,1165.13 L1010.50,1178.00 L1010.75,1190.29 L1011.00,1201.68 L1011.25,1212.02 L1011.50,1221.28 L1011.75,1229.50 L1012.00,1236.75 L1012.25,1243.14 L1012.50,1248.75 L1012.75,1253.70 L1013.00,1258.05 L1013.25,1261.90 L1013.50,1265.30 L1013.75,1268.32 L1014.00,1271.00 L1014.25,1273.40 L1014.50,1275.54 L1014.75,1277.46 L1015.00,1279.19 L1015.25,1280.75 L1015.50,1282.16 L1015.75,1283.44 L1016.00,1284.61 L1016.25,1285.66 L1016.50,1286.63 L1016.75,1287.52 L1017.00,1288.33 L1017.25,1289.07 L1017.50,1289.76 L1017.75,1290.39 L1018.00,1290.98 L1018.25,1291.52 L1018.50,1292.02 L1018.75,1292.49 L1019.00,1292.92 L1019.25,1293.32 L1019.50,1293.69 L1019.75,1294.04 L1020.00,1294.37 L1020.25,1294.67 L1020.50,1294.96 L1020.75,1295.23 L1021.25,1295.71 L1021.75,1296.13 L1022.25,1296.51 L1022.75,1296.84 L1023.25,1297.13 L1023.75,1297.39 L1024.50,1297.72 L1025.25,1297.99 L1026.25,1298.27 L1027.75,1298.55 L1030.00,1298.71 L1032.25,1298.56 L1033.75,1298.28 L1034.75,1297.99 L1035.50,1297.72 L1036.25,1297.39 L1036.75,1297.12 L1037.25,1296.82 L1037.75,1296.49 L1038.25,1296.10 L1038.75,1295.66 L1039.25,1295.16 L1039.50,1294.88 L1039.75,1294.58 L1040.00,1294.26 L1040.25,1293.92 L1040.50,1293.55 L1040.75,1293.16 L1041.00,1292.73 L1041.25,1292.28 L1041.50,1291.78 L1041.75,1291.25 L1042.00,1290.67 L1042.25,1290.05 L1042.50,1289.37 L1042.75,1288.63 L1043.00,1287.82 L1043.25,1286.94 L1043.50,1285.97 L1043.75,1284.92 L1044.00,1283.75 L1044.25,1282.47 L1044.50,1281.06 L1044.75,1279.49 L1045.00,1277.75 L1045.25,1275.81 L1045.50,1273.65 L1045.75,1271.23 L1046.00,1268.50 L1046.25,1265.44 L1046.50,1261.98 L1046.75,1258.06 L1047.00,1253.62 L1047.25,1248.57 L1047.50,1242.83 L1047.75,1236.31 L1048.00,1228.91 L1048.25,1220.55 L1048.50,1211.18 L1048.75,1200.80 L1049.00,1189.49 L1049.25,1177.48 L1049.50,1165.20 L1049.75,1153.30 L1050.00,1142.68 L1050.25,1134.33 L1050.50,1129.21 L1050.70,1127.90 L1050.75,1127.90 L1051.00,1127.90 L1051.25,1127.90 L1051.30,1127.90 L1051.50,1127.90 L1051.75,1127.90 L1051.90,1127.90 L1052.00,1128.23 L1052.25,1131.84 L1052.50,1139.01 L1052.75,1148.85 L1053.00,1160.35 L1053.25,1172.57 L1053.50,1184.75 L1053.75,1196.38 L1054.00,1207.15 L1054.25,1216.93 L1054.50,1225.69 L1054.75,1233.46 L1055.00,1240.32 L1055.25,1246.36 L1055.50,1251.67 L1055.75,1256.35 L1056.00,1260.47 L1056.25,1264.10 L1056.50,1267.32 L1056.75,1270.18 L1057.00,1272.71 L1057.25,1274.98 L1057.50,1277.00 L1057.75,1278.82 L1058.00,1280.45 L1058.25,1281.93 L1058.50,1283.26 L1058.75,1284.47 L1059.00,1285.56 L1059.25,1286.56 L1059.50,1287.48 L1059.75,1288.31 L1060.00,1289.08 L1060.25,1289.78 L1060.50,1290.43 L1060.75,1291.02 L1061.00,1291.57 L1061.25,1292.08 L1061.50,1292.56 L1061.75,1292.99 L1062.00,1293.40 L1062.25,1293.78 L1062.50,1294.13 L1062.75,1294.46 L1063.00,1294.76 L1063.25,1295.05 L1063.50,1295.31 L1064.00,1295.79 L1064.50,1296.22 L1065.00,1296.59 L1065.50,1296.91 L1066.00,1297.20 L1066.50,1297.45 L1067.25,1297.77 L1068.00,1298.03 L1069.00,1298.30 L1070.50,1298.56 L1072.75,1298.67 L1075.00,1298.47 L1076.25,1298.22 L1077.25,1297.92 L1078.00,1297.63 L1078.75,1297.29 L1079.25,1297.01 L1079.75,1296.70 L1080.25,1296.35 L1080.75,1295.95 L1081.25,1295.50 L1081.50,1295.25 L1081.75,1294.98 L1082.00,1294.69 L1082.25,1294.39 L1082.50,1294.06 L1082.75,1293.70 L1083.00,1293.33 L1083.25,1292.92 L1083.50,1292.48 L1083.75,1292.01 L1084.00,1291.50 L1084.25,1290.95 L1084.50,1290.35 L1084.75,1289.71 L1085.00,1289.01 L1085.25,1288.25 L1085.50,1287.42 L1085.75,1286.51 L1086.00,1285.52 L1086.25,1284.43 L1086.50,1283.23 L1086.75,1281.91 L1087.00,1280.46 L1087.25,1278.84 L1087.50,1277.05 L1087.75,1275.06 L1088.00,1272.83 L1088.25,1270.34 L1088.50,1267.54 L1088.75,1264.38 L1089.00,1260.82 L1089.25,1256.79 L1089.50,1252.22 L1089.75,1247.03 L1090.00,1241.12 L1090.25,1234.42 L1090.50,1226.81 L1090.75,1218.21 L1091.00,1208.57 L1091.25,1197.89 L1091.50,1186.25 L1091.75,1173.90 L1092.00,1161.27 L1092.25,1149.04 L1092.50,1138.10 L1092.75,1129.51 L1093.00,1124.25 L1093.20,1122.90 L1093.25,1122.90 L1093.50,1122.90 L1093.75,1122.90 L1093.80,1122.90 L1094.00,1122.90 L1094.25,1122.90 L1094.40,1122.90 L1094.50,1123.23 L1094.75,1126.95 L1095.00,1134.32 L1095.25,1144.44 L1095.50,1156.27 L1095.75,1168.83 L1096.00,1181.36 L1096.25,1193.32 L1096.50,1204.40 L1096.75,1214.46 L1097.00,1223.46 L1097.25,1231.46 L1097.50,1238.51 L1097.75,1244.72 L1098.00,1250.19 L1098.25,1254.99 L1098.50,1259.23 L1098.75,1262.97 L1099.00,1266.28 L1099.25,1269.21 L1099.50,1271.82 L1099.75,1274.15 L1100.00,1276.23 L1100.25,1278.09 L1100.50,1279.77 L1100.75,1281.29 L1101.00,1282.65 L1101.25,1283.90 L1101.50,1285.02 L1101.75,1286.05 L1102.00,1286.99 L1102.25,1287.84 L1102.50,1288.63 L1102.75,1289.35 L1103.00,1290.01 L1103.25,1290.63 L1103.50,1291.19 L1103.75,1291.71 L1104.00,1292.19 L1104.25,1292.64 L1104.50,1293.06 L1104.75,1293.44 L1105.00,1293.80 L1105.25,1294.14 L1105.50,1294.45 L1105.75,1294.74 L1106.00,1295.01 L1106.25,1295.27 L1106.75,1295.72 L1107.25,1296.13 L1107.75,1296.48 L1108.25,1296.78 L1108.75,1297.05 L1109.50,1297.39 L1110.25,1297.67 L1111.25,1297.95 L1112.75,1298.20 L1115.00,1298.28 L1117.25,1297.99 L1118.25,1297.73 L1119.00,1297.47 L1119.75,1297.16 L1120.25,1296.90 L1120.75,1296.61 L1121.25,1296.28 L1121.75,1295.91 L1122.25,1295.48 L1122.75,1294.99 L1123.00,1294.72 L1123.25,1294.43 L1123.50,1294.12 L1123.75,1293.78 L1124.00,1293.43 L1124.25,1293.04 L1124.50,1292.63 L1124.75,1292.18 L1125.00,1291.70 L1125.25,1291.19 L1125.50,1290.62 L1125.75,1290.02 L1126.00,1289.36 L1126.25,1288.64 L1126.50,1287.87 L1126.75,1287.02 L1127.00,1286.09 L1127.25,1285.07 L1127.50,1283.96 L1127.75,1282.73 L1128.00,1281.38 L1128.25,1279.89 L1128.50,1278.23 L1128.75,1276.39 L1129.00,1274.34 L1129.25,1272.05 L1129.50,1269.48 L1129.75,1266.60 L1130.00,1263.35 L1130.25,1259.68 L1130.50,1255.52 L1130.75,1250.80 L1131.00,1245.45 L1131.25,1239.35 L1131.50,1232.43 L1131.75,1224.58 L1132.00,1215.73 L1132.25,1205.82 L1132.50,1194.87 L1132.75,1183.00 L1133.00,1170.47 L1133.25,1157.78 L1133.50,1145.66 L1133.75,1135.05 L1134.00,1127.00 L1134.25,1122.47 L1134.40,1121.70 L1134.50,1121.70 L1134.75,1121.70 L1135.00,1121.70 L1135.25,1121.70 L1135.50,1121.70 L1135.60,1121.70 L1135.75,1122.46 L1136.00,1126.99 L1136.25,1135.03 L1136.50,1145.64 L1136.75,1157.76 L1137.00,1170.44 L1137.25,1182.97 L1137.50,1194.84 L1137.75,1205.78 L1138.00,1215.69 L1138.25,1224.54 L1138.50,1232.38 L1138.75,1239.30 L1139.00,1245.39 L1139.25,1250.75 L1139.50,1255.46 L1139.75,1259.61 L1140.00,1263.28 L1140.25,1266.52 L1140.50,1269.40 L1140.75,1271.97 L1141.00,1274.25 L1141.25,1276.30 L1141.50,1278.14 L1141.75,1279.79 L1142.00,1281.28 L1142.25,1282.62 L1142.50,1283.85 L1142.75,1284.96 L1143.00,1285.97 L1143.25,1286.89 L1143.50,1287.73 L1143.75,1288.51 L1144.00,1289.22 L1144.25,1289.87 L1144.50,1290.47 L1144.75,1291.03 L1145.00,1291.54 L1145.25,1292.02 L1145.50,1292.46 L1145.75,1292.86 L1146.00,1293.24 L1146.25,1293.59 L1146.50,1293.92 L1146.75,1294.23 L1147.00,1294.51 L1147.25,1294.77 L1147.75,1295.25 L1148.25,1295.66 L1148.75,1296.02 L1149.25,1296.33 L1149.75,1296.61 L1150.50,1296.94 L1151.25,1297.21 L1152.25,1297.46 L1154.50,1297.69 L1156.75,1297.48 L1158.00,1297.16 L1158.75,1296.88 L1159.50,1296.54 L1160.00,1296.26 L1160.50,1295.94 L1161.00,1295.57 L1161.50,1295.16 L1162.00,1294.68 L1162.25,1294.41 L1162.50,1294.12 L1162.75,1293.82 L1163.00,1293.49 L1163.25,1293.14 L1163.50,1292.76 L1163.75,1292.36 L1164.00,1291.92 L1164.25,1291.45 L1164.50,1290.94 L1164.75,1290.39 L1165.00,1289.79 L1165.25,1289.15 L1165.50,1288.45 L1165.75,1287.69 L1166.00,1286.87 L1166.25,1285.96 L1166.50,1284.98 L1166.75,1283.90 L1167.00,1282.71 L1167.25,1281.41 L1167.50,1279.97 L1167.75,1278.38 L1168.00,1276.62 L1168.25,1274.66 L1168.50,1272.48 L1168.75,1270.04 L1169.00,1267.31 L1169.25,1264.24 L1169.50,1260.78 L1169.75,1256.87 L1170.00,1252.44 L1170.25,1247.42 L1170.50,1241.71 L1170.75,1235.22 L1171.00,1227.85 L1171.25,1219.49 L1171.50,1210.06 L1171.75,1199.51 L1172.00,1187.84 L1172.25,1175.19 L1172.50,1161.85 L1172.75,1148.33 L1173.00,1135.41 L1173.25,1124.11 L1173.50,1115.54 L1173.75,1110.71 L1173.90,1109.90 L1174.00,1109.90 L1174.25,1109.90 L1174.50,1109.90 L1174.75,1109.90 L1175.00,1109.90 L1175.10,1109.90 L1175.25,1110.71 L1175.50,1115.54 L1175.75,1124.11 L1176.00,1135.42 L1176.25,1148.34 L1176.50,1161.86 L1176.75,1175.20 L1177.00,1187.85 L1177.25,1199.52 L1177.50,1210.08 L1177.75,1219.51 L1178.00,1227.87 L1178.25,1235.24 L1178.50,1241.73 L1178.75,1247.44 L1179.00,1252.47 L1179.25,1256.90 L1179.50,1260.81 L1179.75,1264.27 L1180.00,1267.34 L1180.25,1270.07 L1180.50,1272.51 L1180.75,1274.70 L1181.00,1276.66 L1181.25,1278.42 L1181.50,1280.01 L1181.75,1281.45 L1182.00,1282.76 L1182.25,1283.94 L1182.50,1285.02 L1182.75,1286.01 L1183.00,1286.92 L1183.25,1287.74 L1183.50,1288.50 L1183.75,1289.21 L1184.00,1289.85 L1184.25,1290.45 L1184.50,1291.00 L1184.75,1291.51 L1185.00,1291.98 L1185.25,1292.42 L1185.50,1292.83 L1185.75,1293.21 L1186.00,1293.57 L1186.25,1293.90 L1186.50,1294.20 L1186.75,1294.49 L1187.00,1294.76 L1187.25,1295.01 L1187.75,1295.47 L1188.25,1295.86 L1188.75,1296.21 L1189.25,1296.52 L1189.75,1296.78 L1190.50,1297.12 L1191.25,1297.39 L1192.25,1297.66 L1194.00,1297.91 L1196.25,1297.88 L1198.00,1297.57 L1199.00,1297.27 L1199.75,1296.97 L1200.50,1296.59 L1201.00,1296.29 L1201.50,1295.94 L1202.00,1295.55 L1202.50,1295.10 L1202.75,1294.85 L1203.00,1294.58 L1203.25,1294.29 L1203.50,1293.98 L1203.75,1293.65 L1204.00,1293.30 L1204.25,1292.91 L1204.50,1292.50 L1204.75,1292.06 L1205.00,1291.58 L1205.25,1291.06 L1205.50,1290.50 L1205.75,1289.90 L1206.00,1289.24 L1206.25,1288.52 L1206.50,1287.74 L1206.75,1286.89 L1207.00,1285.97 L1207.25,1284.95 L1207.50,1283.83 L1207.75,1282.60 L1208.00,1281.25 L1208.25,1279.75 L1208.50,1278.09 L1208.75,1276.24 L1209.00,1274.19 L1209.25,1271.89 L1209.50,1269.31 L1209.75,1266.42 L1210.00,1263.16 L1210.25,1259.47 L1210.50,1255.30 L1210.75,1250.56 L1211.00,1245.18 L1211.25,1239.06 L1211.50,1232.11 L1211.75,1224.23 L1212.00,1215.34 L1212.25,1205.38 L1212.50,1194.39 L1212.75,1182.46 L1213.00,1169.88 L1213.25,1157.13 L1213.50,1144.95 L1213.75,1134.29 L1214.00,1126.21 L1214.25,1121.66 L1214.40,1120.90 L1214.50,1120.90 L1214.75,1120.90 L1215.00,1120.90 L1215.25,1120.90 L1215.50,1120.90 L1215.60,1120.90 L1215.75,1121.67 L1216.00,1126.22 L1216.25,1134.31 L1216.50,1144.97 L1216.75,1157.15 L1217.00,1169.90 L1217.25,1182.48 L1217.50,1194.41 L1217.75,1205.41 L1218.00,1215.36 L1218.25,1224.26 L1218.50,1232.14 L1218.75,1239.10 L1219.00,1245.22 L1219.25,1250.60 L1219.50,1255.34 L1219.75,1259.52 L1220.00,1263.20 L1220.25,1266.47 L1220.50,1269.37 L1220.75,1271.94 L1221.00,1274.25 L1221.25,1276.30 L1221.50,1278.15 L1221.75,1279.82 L1222.00,1281.32 L1222.25,1282.68 L1222.50,1283.91 L1222.75,1285.03 L1223.00,1286.05 L1223.25,1286.98 L1223.50,1287.83 L1223.75,1288.61 L1224.00,1289.33 L1224.25,1289.99 L1224.50,1290.60 L1224.75,1291.17 L1225.00,1291.69 L1225.25,1292.17 L1225.50,1292.62 L1225.75,1293.03 L1226.00,1293.42 L1226.25,1293.78 L1226.50,1294.11 L1226.75,1294.43 L1227.00,1294.72 L1227.25,1294.99 L1227.50,1295.24 L1228.00,1295.70 L1228.50,1296.11 L1229.00,1296.46 L1229.50,1296.77 L1230.00,1297.05 L1230.75,1297.39 L1231.50,1297.67 L1232.50,1297.95 L1234.00,1298.22 L1236.25,1298.31 L1238.50,1298.05 L1239.75,1297.72 L1240.50,1297.46 L1241.25,1297.13 L1241.75,1296.86 L1242.25,1296.56 L1242.75,1296.22 L1243.25,1295.83 L1243.75,1295.38 L1244.25,1294.87 L1244.50,1294.59 L1244.75,1294.29 L1245.00,1293.96 L1245.25,1293.61 L1245.50,1293.24 L1245.75,1292.83 L1246.00,1292.40 L1246.25,1291.93 L1246.50,1291.42 L1246.75,1290.88 L1247.00,1290.28 L1247.25,1289.64 L1247.50,1288.94 L1247.75,1288.19 L1248.00,1287.36 L1248.25,1286.45 L1248.50,1285.46 L1248.75,1284.38 L1249.00,1283.18 L1249.25,1281.87 L1249.50,1280.41 L1249.75,1278.80 L1250.00,1277.02 L1250.25,1275.02 L1250.50,1272.80 L1250.75,1270.31 L1251.00,1267.51 L1251.25,1264.36 L1251.50,1260.80 L1251.75,1256.77 L1252.00,1252.20 L1252.25,1247.01 L1252.50,1241.11 L1252.75,1234.40 L1253.00,1226.79 L1253.25,1218.20 L1253.50,1208.56 L1253.75,1197.88 L1254.00,1186.24 L1254.25,1173.89 L1254.50,1161.26 L1254.75,1149.03 L1255.00,1138.09 L1255.25,1129.50 L1255.50,1124.24 L1255.70,1122.90 L1255.75,1122.90 L1256.00,1122.90 L1256.25,1122.90 L1256.30,1122.90 L1256.50,1122.90 L1256.75,1122.90 L1256.90,1122.90 L1257.00,1123.24 L1257.25,1126.96 L1257.50,1134.33 L1257.75,1144.45 L1258.00,1156.29 L1258.25,1168.86 L1258.50,1181.39 L1258.75,1193.35 L1259.00,1204.44 L1259.25,1214.50 L1259.50,1223.51 L1259.75,1231.50 L1260.00,1238.56 L1260.25,1244.78 L1260.50,1250.24 L1260.75,1255.05 L1261.00,1259.29 L1261.25,1263.03 L1261.50,1266.35 L1261.75,1269.28 L1262.00,1271.89 L1262.25,1274.22 L1262.50,1276.31 L1262.75,1278.18 L1263.00,1279.86 L1263.25,1281.38 L1263.50,1282.75 L1263.75,1283.99 L1264.00,1285.12 L1264.25,1286.15 L1264.50,1287.09 L1264.75,1287.96 L1265.00,1288.74 L1265.25,1289.47 L1265.50,1290.14 L1265.75,1290.75 L1266.00,1291.32 L1266.25,1291.85 L1266.50,1292.33 L1266.75,1292.78 L1267.00,1293.20 L1267.25,1293.59 L1267.50,1293.96 L1267.75,1294.30 L1268.00,1294.61 L1268.25,1294.91 L1268.50,1295.19 L1268.75,1295.44 L1269.25,1295.91 L1269.75,1296.33 L1270.25,1296.69 L1270.75,1297.01 L1271.25,1297.29 L1272.00,1297.65 L1272.75,1297.95 L1273.75,1298.26 L1275.00,1298.54 L1277.25,1298.78 L1279.50,1298.73 L1281.25,1298.47 L1282.50,1298.16 L1283.25,1297.91 L1284.00,1297.60 L1284.75,1297.23 L1285.25,1296.94 L1285.75,1296.61 L1286.25,1296.23 L1286.75,1295.81 L1287.25,1295.32 L1287.50,1295.05 L1287.75,1294.76 L1288.00,1294.46 L1288.25,1294.13 L1288.50,1293.77 L1288.75,1293.40 L1289.00,1292.99 L1289.25,1292.55 L1289.50,1292.08 L1289.75,1291.57 L1290.00,1291.02 L1290.25,1290.42 L1290.50,1289.77 L1290.75,1289.07 L1291.00,1288.30 L1291.25,1287.47 L1291.50,1286.56 L1291.75,1285.56 L1292.00,1284.47 L1292.25,1283.27 L1292.50,1281.94 L1292.75,1280.47 L1293.00,1278.85 L1293.25,1277.05 L1293.50,1275.04 L1293.75,1272.79 L1294.00,1270.27 L1294.25,1267.45 L1294.50,1264.26 L1294.75,1260.66 L1295.00,1256.58 L1295.25,1251.96 L1295.50,1246.71 L1295.75,1240.73 L1296.00,1233.95 L1296.25,1226.25 L1296.50,1217.58 L1296.75,1207.86 L1297.00,1197.13 L1297.25,1185.49 L1297.50,1173.21 L1297.75,1160.77 L1298.00,1148.88 L1298.25,1138.48 L1298.50,1130.59 L1298.75,1126.15 L1298.90,1125.40 L1299.00,1125.40 L1299.25,1125.40 L1299.50,1125.40 L1299.75,1125.40 L1300.00,1125.40 L1300.10,1125.40 L1300.25,1126.14 L1300.50,1130.59 L1300.75,1138.47 L1301.00,1148.87 L1301.25,1160.75 L1301.50,1173.19 L1301.75,1185.47 L1302.00,1197.11 L1302.25,1207.84 L1302.50,1217.55 L1302.75,1226.22 L1303.00,1233.91 L1303.25,1240.70 L1303.50,1246.67 L1303.75,1251.92 L1304.00,1256.54 L1304.25,1260.62 L1304.50,1264.21 L1304.75,1267.40 L1305.00,1270.22 L1305.25,1272.74 L1305.50,1274.98 L1305.75,1276.99 L1306.00,1278.79 L1306.25,1280.41 L1306.50,1281.87 L1306.75,1283.20 L1307.00,1284.40 L1307.25,1285.49 L1307.50,1286.48 L1307.75,1287.39 L1308.00,1288.22 L1308.25,1288.98 L1308.50,1289.68 L1308.75,1290.33 L1309.00,1290.92 L1309.25,1291.47 L1309.50,1291.97 L1309.75,1292.44 L1310.00,1292.88 L1310.25,1293.28 L1310.50,1293.66 L1310.75,1294.01 L1311.00,1294.33 L1311.25,1294.63 L1311.50,1294.92 L1311.75,1295.18 L1312.25,1295.66 L1312.75,1296.08 L1313.25,1296.44 L1313.75,1296.76 L1314.25,1297.04 L1315.00,1297.40 L1315.75,1297.69 L1316.75,1297.98 L1318.25,1298.26 L1320.50,1298.37 L1322.75,1298.14 L1324.00,1297.85 L1325.00,1297.51 L1325.75,1297.19 L1326.25,1296.93 L1326.75,1296.64 L1327.25,1296.31 L1327.75,1295.93 L1328.25,1295.51 L1328.75,1295.02 L1329.00,1294.75 L1329.25,1294.46 L1329.50,1294.15 L1329.75,1293.82 L1330.00,1293.47 L1330.25,1293.09 L1330.50,1292.68 L1330.75,1292.24 L1331.00,1291.77 L1331.25,1291.26 L1331.50,1290.71 L1331.75,1290.12 L1332.00,1289.47 L1332.25,1288.77 L1332.50,1288.02 L1332.75,1287.19 L1333.00,1286.29 L1333.25,1285.30 L1333.50,1284.22 L1333.75,1283.04 L1334.00,1281.74 L1334.25,1280.30 L1334.50,1278.71 L1334.75,1276.95 L1335.00,1274.99 L1335.25,1272.80 L1335.50,1270.36 L1335.75,1267.62 L1336.00,1264.55 L1336.25,1261.08 L1336.50,1257.16 L1336.75,1252.71 L1337.00,1247.67 L1337.25,1241.94 L1337.50,1235.43 L1337.75,1228.03 L1338.00,1219.65 L1338.25,1210.21 L1338.50,1199.66 L1338.75,1188.04 L1339.00,1175.50 L1339.25,1162.37 L1339.50,1149.20 L1339.75,1136.79 L1340.00,1126.18 L1340.25,1118.46 L1340.50,1114.56 L1340.60,1114.20 L1340.75,1114.20 L1341.00,1114.20 L1341.20,1114.20 L1341.25,1114.20 L1341.50,1114.20 L1341.75,1114.20 L1341.80,1114.20 L1342.00,1115.60 L1342.25,1121.12 L1342.50,1130.12 L1342.75,1141.58 L1343.00,1154.40 L1343.25,1167.64 L1343.50,1180.59 L1343.75,1192.78 L1344.00,1203.98 L1344.25,1214.08 L1344.50,1223.09 L1344.75,1231.06 L1345.00,1238.09 L1345.25,1244.28 L1345.50,1249.72 L1345.75,1254.51 L1346.00,1258.73 L1346.25,1262.46 L1346.50,1265.76 L1346.75,1268.69 L1347.00,1271.30 L1347.25,1273.64 L1347.50,1275.72 L1347.75,1277.60 L1348.00,1279.28 L1348.25,1280.81 L1348.50,1282.19 L1348.75,1283.44 L1349.00,1284.57 L1349.25,1285.61 L1349.50,1286.56 L1349.75,1287.42 L1350.00,1288.22 L1350.25,1288.95 L1350.50,1289.62 L1350.75,1290.24 L1351.00,1290.81 L1351.25,1291.34 L1351.50,1291.83 L1351.75,1292.28 L1352.00,1292.70 L1352.25,1293.09 L1352.50,1293.46 L1352.75,1293.80 L1353.00,1294.11 L1353.25,1294.41 L1353.50,1294.68 L1353.75,1294.94 L1354.25,1295.40 L1354.75,1295.81 L1355.25,1296.16 L1355.75,1296.47 L1356.25,1296.74 L1357.00,1297.07 L1357.75,1297.34 L1358.75,1297.60 L1360.75,1297.86 L1363.00,1297.75 L1364.50,1297.45 L1365.50,1297.11 L1366.25,1296.79 L1366.75,1296.53 L1367.25,1296.23 L1367.75,1295.89 L1368.25,1295.49 L1368.75,1295.04 L1369.25,1294.53 L1369.50,1294.24 L1369.75,1293.93 L1370.00,1293.61 L1370.25,1293.25 L1370.50,1292.87 L1370.75,1292.46 L1371.00,1292.03 L1371.25,1291.55 L1371.50,1291.04 L1371.75,1290.49 L1372.00,1289.89 L1372.25,1289.24 L1372.50,1288.54 L1372.75,1287.77 L1373.00,1286.94 L1373.25,1286.03 L1373.50,1285.03 L1373.75,1283.94 L1374.00,1282.74 L1374.25,1281.42 L1374.50,1279.96 L1374.75,1278.35 L1375.00,1276.56 L1375.25,1274.57 L1375.50,1272.35 L1375.75,1269.86 L1376.00,1267.08 L1376.25,1263.94 L1376.50,1260.40 L1376.75,1256.40 L1377.00,1251.87 L1377.25,1246.72 L1377.50,1240.86 L1377.75,1234.21 L1378.00,1226.65 L1378.25,1218.10 L1378.50,1208.48 L1378.75,1197.76 L1379.00,1185.99 L1379.25,1173.36 L1379.50,1160.22 L1379.75,1147.18 L1380.00,1135.10 L1380.25,1125.02 L1380.50,1118.03 L1380.75,1114.99 L1380.80,1114.90 L1381.00,1114.90 L1381.25,1114.90 L1381.40,1114.90 L1381.50,1114.90 L1381.75,1114.90 L1382.00,1114.90 L1382.25,1117.08 L1382.50,1123.35 L1382.75,1132.89 L1383.00,1144.66 L1383.25,1157.58 L1383.50,1170.76 L1383.75,1183.53 L1384.00,1195.49 L1384.25,1206.43 L1384.50,1216.27 L1384.75,1225.03 L1385.00,1232.78 L1385.25,1239.60 L1385.50,1245.61 L1385.75,1250.89 L1386.00,1255.54 L1386.25,1259.64 L1386.50,1263.27 L1386.75,1266.48 L1387.00,1269.34 L1387.25,1271.88 L1387.50,1274.15 L1387.75,1276.18 L1388.00,1278.01 L1388.25,1279.66 L1388.50,1281.15 L1388.75,1282.49 L1389.00,1283.72 L1389.25,1284.83 L1389.50,1285.84 L1389.75,1286.77 L1390.00,1287.62 L1390.25,1288.40 L1390.50,1289.11 L1390.75,1289.77 L1391.00,1290.38 L1391.25,1290.94 L1391.50,1291.46 L1391.75,1291.94 L1392.00,1292.39 L1392.25,1292.80 L1392.50,1293.18 L1392.75,1293.54 L1393.00,1293.88 L1393.25,1294.19 L1393.50,1294.48 L1393.75,1294.75 L1394.00,1295.00 L1394.50,1295.46 L1395.00,1295.86 L1395.50,1296.20 L1396.00,1296.51 L1396.50,1296.77 L1397.25,1297.10 L1398.00,1297.37 L1399.00,1297.63 L1401.25,1297.88 L1403.50,1297.72 L1404.75,1297.44 L1405.75,1297.11 L1406.50,1296.78 L1407.00,1296.51 L1407.50,1296.21 L1408.00,1295.86 L1408.50,1295.46 L1409.00,1295.00 L1409.25,1294.75 L1409.50,1294.48 L1409.75,1294.19 L1410.00,1293.88 L1410.25,1293.54 L1410.50,1293.19 L1410.75,1292.80 L1411.00,1292.38 L1411.25,1291.94 L1411.50,1291.46 L1411.75,1290.94 L1412.00,1290.37 L1412.25,1289.76 L1412.50,1289.10 L1412.75,1288.38 L1413.00,1287.60 L1413.25,1286.75 L1413.50,1285.82 L1413.75,1284.81 L1414.00,1283.69 L1414.25,1282.46 L1414.50,1281.11 L1414.75,1279.62 L1415.00,1277.97 L1415.25,1276.13 L1415.50,1274.09 L1415.75,1271.81 L1416.00,1269.26 L1416.25,1266.39 L1416.50,1263.17 L1416.75,1259.53 L1417.00,1255.41 L1417.25,1250.74 L1417.50,1245.44 L1417.75,1239.41 L1418.00,1232.55 L1418.25,1224.77 L1418.50,1215.98 L1418.75,1206.10 L1419.00,1195.12 L1419.25,1183.10 L1419.50,1170.28 L1419.75,1157.05 L1420.00,1144.07 L1420.25,1132.26 L1420.50,1122.67 L1420.75,1116.39 L1421.00,1114.20 L1421.25,1114.20 L1421.50,1114.20 L1421.60,1114.20 L1421.75,1114.20 L1422.00,1114.20 L1422.20,1114.20 L1422.25,1114.29 L1422.50,1117.35 L1422.75,1124.37 L1423.00,1134.49 L1423.25,1146.63 L1423.50,1159.72 L1423.75,1172.92 L1424.00,1185.61 L1424.25,1197.43 L1424.50,1208.20 L1424.75,1217.86 L1425.00,1226.45 L1425.25,1234.04 L1425.50,1240.73 L1425.75,1246.61 L1426.00,1251.78 L1426.25,1256.34 L1426.50,1260.36 L1426.75,1263.91 L1427.00,1267.06 L1427.25,1269.87 L1427.50,1272.37 L1427.75,1274.60 L1428.00,1276.60 L1428.25,1278.40 L1428.50,1280.02 L1428.75,1281.49 L1429.00,1282.82 L1429.25,1284.03 L1429.50,1285.13 L1429.75,1286.13 L1430.00,1287.05 L1430.25,1287.89 L1430.50,1288.66 L1430.75,1289.37 L1431.00,1290.03 L1431.25,1290.63 L1431.50,1291.19 L1431.75,1291.71 L1432.00,1292.19 L1432.25,1292.63 L1432.50,1293.05 L1432.75,1293.43 L1433.00,1293.79 L1433.25,1294.13 L1433.50,1294.44 L1433.75,1294.73 L1434.00,1295.01 L1434.25,1295.26 L1434.75,1295.73 L1435.25,1296.14 L1435.75,1296.49 L1436.25,1296.81 L1436.75,1297.09 L1437.50,1297.44 L1438.25,1297.73 L1439.25,1298.03 L1440.50,1298.28 L1442.75,1298.46 L1445.00,1298.29 L1446.25,1298.04 L1447.25,1297.74 L1448.00,1297.45 L1448.75,1297.10 L1449.25,1296.81 L1449.75,1296.49 L1450.25,1296.13 L1450.75,1295.71 L1451.25,1295.23 L1451.50,1294.97 L1451.75,1294.68 L1452.00,1294.38 L1452.25,1294.05 L1452.50,1293.70 L1452.75,1293.33 L1453.00,1292.92 L1453.25,1292.49 L1453.50,1292.02 L1453.75,1291.51 L1454.00,1290.96 L1454.25,1290.37 L1454.50,1289.73 L1454.75,1289.03 L1455.00,1288.26 L1455.25,1287.43 L1455.50,1286.52 L1455.75,1285.53 L1456.00,1284.44 L1456.25,1283.24 L1456.50,1281.91 L1456.75,1280.45 L1457.00,1278.83 L1457.25,1277.03 L1457.50,1275.02 L1457.75,1272.77 L1458.00,1270.26 L1458.25,1267.43 L1458.50,1264.25 L1458.75,1260.65 L1459.00,1256.58 L1459.25,1251.95 L1459.50,1246.70 L1459.75,1240.73 L1460.00,1233.94 L1460.25,1226.25 L1460.50,1217.57 L1460.75,1207.86 L1461.00,1197.12 L1461.25,1185.48 L1461.50,1173.20 L1461.75,1160.76 L1462.00,1148.88 L1462.25,1138.47 L1462.50,1130.59 L1462.75,1126.15 L1462.90,1125.40 L1463.00,1125.40 L1463.25,1125.40 L1463.50,1125.40 L1463.75,1125.40 L1464.00,1125.40 L1464.10,1125.40 L1464.25,1126.15 L1464.50,1130.59 L1464.75,1138.48 L1465.00,1148.89 L1465.25,1160.78 L1465.50,1173.22 L1465.75,1185.50 L1466.00,1197.14 L1466.25,1207.88 L1466.50,1217.59 L1466.75,1226.27 L1467.00,1233.97 L1467.25,1240.76 L1467.50,1246.73 L1467.75,1251.99 L1468.00,1256.61 L1468.25,1260.69 L1468.50,1264.29 L1468.75,1267.47 L1469.00,1270.30 L1469.25,1272.82 L1469.50,1275.06 L1469.75,1277.08 L1470.00,1278.88 L1470.25,1280.50 L1470.50,1281.97 L1470.75,1283.30 L1471.00,1284.50 L1471.25,1285.59 L1471.50,1286.59 L1471.75,1287.50 L1472.00,1288.33 L1472.25,1289.10 L1472.50,1289.80 L1472.75,1290.45 L1473.00,1291.04 L1473.25,1291.59 L1473.50,1292.10 L1473.75,1292.58 L1474.00,1293.01 L1474.25,1293.42 L1474.50,1293.80 L1474.75,1294.15 L1475.00,1294.48 L1475.25,1294.79 L1475.50,1295.07 L1475.75,1295.34 L1476.00,1295.59 L1476.50,1296.05 L1477.00,1296.45 L1477.50,1296.80 L1478.00,1297.10 L1478.50,1297.38 L1479.25,1297.72 L1480.00,1298.01 L1481.00,1298.31 L1482.25,1298.56 L1484.50,1298.77 L1486.75,1298.67 L1488.50,1298.37 L1489.50,1298.09 L1490.25,1297.83 L1491.00,1297.51 L1491.50,1297.25 L1492.00,1296.97 L1492.50,1296.64 L1493.00,1296.28 L1493.50,1295.86 L1494.00,1295.38 L1494.25,1295.12 L1494.50,1294.84 L1494.75,1294.54 L1495.00,1294.22 L1495.25,1293.88 L1495.50,1293.51 L1495.75,1293.11 L1496.00,1292.69 L1496.25,1292.23 L1496.50,1291.74 L1496.75,1291.21 L1497.00,1290.63 L1497.25,1290.01 L1497.50,1289.33 L1497.75,1288.60 L1498.00,1287.80 L1498.25,1286.93 L1498.50,1285.98 L1498.75,1284.94 L1499.00,1283.80 L1499.25,1282.55 L1499.50,1281.17 L1499.75,1279.64 L1500.00,1277.94 L1500.25,1276.06 L1500.50,1273.97 L1500.75,1271.62 L1501.00,1269.00 L1501.25,1266.05 L1501.50,1262.73 L1501.75,1258.97 L1502.00,1254.72 L1502.25,1249.90 L1502.50,1244.42 L1502.75,1238.19 L1503.00,1231.11 L1503.25,1223.09 L1503.50,1214.04 L1503.75,1203.90 L1504.00,1192.71 L1504.25,1180.57 L1504.50,1167.76 L1504.75,1154.79 L1505.00,1142.39 L1505.25,1131.54 L1505.50,1123.31 L1505.75,1118.68 L1505.90,1117.90 L1506.00,1117.90 L1506.25,1117.90 L1506.50,1117.90 L1506.75,1117.90 L1507.00,1117.90 L1507.10,1117.90 L1507.25,1118.68 L1507.50,1123.31 L1507.75,1131.54 L1508.00,1142.39 L1508.25,1154.78 L1508.50,1167.75 L1508.75,1180.56 L1509.00,1192.70 L1509.25,1203.89 L1509.50,1214.02 L1509.75,1223.08 L1510.00,1231.10 L1510.25,1238.17 L1510.50,1244.40 L1510.75,1249.88 L1511.00,1254.70 L1511.25,1258.95 L1511.50,1262.71 L1511.75,1266.03 L1512.00,1268.98 L1512.25,1271.60 L1512.50,1273.94 L1512.75,1276.04 L1513.00,1277.92 L1513.25,1279.61 L1513.50,1281.14 L1513.75,1282.52 L1514.00,1283.77 L1514.25,1284.91 L1514.50,1285.95 L1514.75,1286.90 L1515.00,1287.77 L1515.25,1288.56 L1515.50,1289.29 L1515.75,1289.97 L1516.00,1290.59 L1516.25,1291.16 L1516.50,1291.69 L1516.75,1292.18 L1517.00,1292.64 L1517.25,1293.06 L1517.50,1293.46 L1517.75,1293.82 L1518.00,1294.17 L1518.25,1294.48 L1518.50,1294.78 L1518.75,1295.06 L1519.00,1295.32 L1519.50,1295.79 L1520.00,1296.21 L1520.50,1296.57 L1521.00,1296.89 L1521.50,1297.17 L1522.25,1297.53 L1523.00,1297.82 L1524.00,1298.12 L1525.25,1298.38 L1527.50,1298.58 L1529.75,1298.44 L1531.25,1298.16 L1532.25,1297.87 L1533.00,1297.59 L1533.75,1297.24 L1534.25,1296.97 L1534.75,1296.67 L1535.25,1296.32 L1535.75,1295.92 L1536.25,1295.48 L1536.75,1294.96 L1537.00,1294.68 L1537.25,1294.38 L1537.50,1294.05 L1537.75,1293.70 L1538.00,1293.33 L1538.25,1292.93 L1538.50,1292.50 L1538.75,1292.04 L1539.00,1291.54 L1539.25,1291.00 L1539.50,1290.42 L1539.75,1289.79 L1540.00,1289.10 L1540.25,1288.36 L1540.50,1287.55 L1540.75,1286.67 L1541.00,1285.71 L1541.25,1284.66 L1541.50,1283.50 L1541.75,1282.23 L1542.00,1280.83 L1542.25,1279.28 L1542.50,1277.56 L1542.75,1275.66 L1543.00,1273.53 L1543.25,1271.16 L1543.50,1268.50 L1543.75,1265.51 L1544.00,1262.14 L1544.25,1258.34 L1544.50,1254.03 L1544.75,1249.15 L1545.00,1243.59 L1545.25,1237.28 L1545.50,1230.11 L1545.75,1221.98 L1546.00,1212.81 L1546.25,1202.55 L1546.50,1191.20 L1546.75,1178.90 L1547.00,1165.92 L1547.25,1152.78 L1547.50,1140.22 L1547.75,1129.23 L1548.00,1120.89 L1548.25,1116.20 L1548.40,1115.40 L1548.50,1115.40 L1548.75,1115.40 L1549.00,1115.40 L1549.25,1115.40 L1549.50,1115.40 L1549.60,1115.39 L1549.75,1116.18 L1550.00,1120.88 L1550.25,1129.21 L1550.50,1140.20 L1550.75,1152.75 L1551.00,1165.89 L1551.25,1178.87 L1551.50,1191.16 L1551.75,1202.50 L1552.00,1212.76 L1552.25,1221.93 L1552.50,1230.06 L1552.75,1237.22 L1553.00,1243.53 L1553.25,1249.08 L1553.50,1253.96 L1553.75,1258.26 L1554.00,1262.06 L1554.25,1265.43 L1554.50,1268.41 L1554.75,1271.07 L1555.00,1273.43 L1555.25,1275.55 L1555.50,1277.46 L1555.75,1279.17 L1556.00,1280.71 L1556.25,1282.11 L1556.50,1283.37 L1556.75,1284.52 L1557.00,1285.57 L1557.25,1286.53 L1557.50,1287.40 L1557.75,1288.21 L1558.00,1288.94 L1558.25,1289.62 L1558.50,1290.24 L1558.75,1290.82 L1559.00,1291.35 L1559.25,1291.84 L1559.50,1292.30 L1559.75,1292.72 L1560.00,1293.11 L1560.25,1293.48 L1560.50,1293.82 L1560.75,1294.13 L1561.00,1294.43 L1561.25,1294.70 L1561.50,1294.96 L1562.00,1295.42 L1562.50,1295.82 L1563.00,1296.17 L1563.50,1296.47 L1564.00,1296.74 L1564.75,1297.06 L1565.50,1297.32 L1566.75,1297.60 L1569.00,1297.75 L1571.25,1297.44 L1572.25,1297.14 L1573.00,1296.84 L1573.75,1296.46 L1574.25,1296.16 L1574.75,1295.81 L1575.25,1295.41 L1575.75,1294.96 L1576.00,1294.70 L1576.25,1294.43 L1576.50,1294.14 L1576.75,1293.83 L1577.00,1293.49 L1577.25,1293.13 L1577.50,1292.75 L1577.75,1292.33 L1578.00,1291.89 L1578.25,1291.40 L1578.50,1290.88 L1578.75,1290.32 L1579.00,1289.71 L1579.25,1289.06 L1579.50,1288.34 L1579.75,1287.56 L1580.00,1286.72 L1580.25,1285.80 L1580.50,1284.79 L1580.75,1283.68 L1581.00,1282.47 L1581.25,1281.13 L1581.50,1279.66 L1581.75,1278.03 L1582.00,1276.23 L1582.25,1274.22 L1582.50,1271.99 L1582.75,1269.49 L1583.00,1266.69 L1583.25,1263.55 L1583.50,1260.00 L1583.75,1256.00 L1584.00,1251.46 L1584.25,1246.31 L1584.50,1240.47 L1584.75,1233.82 L1585.00,1226.26 L1585.25,1217.70 L1585.50,1208.03 L1585.75,1197.22 L1586.00,1185.26 L1586.25,1172.30 L1586.50,1158.63 L1586.75,1144.77 L1587.00,1131.54 L1587.25,1119.95 L1587.50,1111.17 L1587.75,1106.23 L1587.90,1105.39 L1588.00,1105.40 L1588.25,1105.40 L1588.50,1105.40 L1588.75,1105.40 L1589.00,1105.40 L1589.10,1105.40 L1589.25,1106.24 L1589.50,1111.19 L1589.75,1119.98 L1590.00,1131.56 L1590.25,1144.80 L1590.50,1158.66 L1590.75,1172.34 L1591.00,1185.31 L1591.25,1197.26 L1591.50,1208.08 L1591.75,1217.75 L1592.00,1226.32 L1592.25,1233.88 L1592.50,1240.53 L1592.75,1246.39 L1593.00,1251.54 L1593.25,1256.08 L1593.50,1260.09 L1593.75,1263.64 L1594.00,1266.79 L1594.25,1269.59 L1594.50,1272.09 L1594.75,1274.33 L1595.00,1276.34 L1595.25,1278.15 L1595.50,1279.79 L1595.75,1281.26 L1596.00,1282.60 L1596.25,1283.82 L1596.50,1284.93 L1596.75,1285.95 L1597.00,1286.87 L1597.25,1287.72 L1597.50,1288.51 L1597.75,1289.23 L1598.00,1289.89 L1598.25,1290.50 L1598.50,1291.07 L1598.75,1291.60 L1599.00,1292.08 L1599.25,1292.54 L1599.50,1292.96 L1599.75,1293.35 L1600.00,1293.72 L1600.25,1294.06 L1600.50,1294.37 L1600.75,1294.67 L1601.00,1294.95 L1601.25,1295.21 L1601.75,1295.68 L1602.25,1296.09 L1602.75,1296.46 L1603.25,1296.78 L1603.75,1297.05 L1604.50,1297.41 L1605.25,1297.69 L1606.25,1297.98 L1607.75,1298.24 L1610.00,1298.29 L1612.00,1298.00 L1613.00,1297.72 L1613.75,1297.43 L1614.50,1297.07 L1615.00,1296.78 L1615.50,1296.45 L1616.00,1296.07 L1616.50,1295.64 L1617.00,1295.14 L1617.25,1294.86 L1617.50,1294.56 L1617.75,1294.24 L1618.00,1293.90 L1618.25,1293.53 L1618.50,1293.13 L1618.75,1292.71 L1619.00,1292.25 L1619.25,1291.75 L1619.50,1291.21 L1619.75,1290.63 L1620.00,1290.00 L1620.25,1289.31 L1620.50,1288.56 L1620.75,1287.75 L1621.00,1286.86 L1621.25,1285.89 L1621.50,1284.83 L1621.75,1283.66 L1622.00,1282.37 L1622.25,1280.95 L1622.50,1279.37 L1622.75,1277.63 L1623.00,1275.69 L1623.25,1273.52 L1623.50,1271.10 L1623.75,1268.38 L1624.00,1265.33 L1624.25,1261.89 L1624.50,1257.99 L1624.75,1253.58 L1625.00,1248.57 L1625.25,1242.88 L1625.50,1236.40 L1625.75,1229.05 L1626.00,1220.72 L1626.25,1211.33 L1626.50,1200.84 L1626.75,1189.29 L1627.00,1176.82 L1627.25,1163.76 L1627.50,1150.66" stroke="rgb(218,18,26)"/>
<path d="M219.00,1300.80 L221.25,1300.47 L222.00,1300.17 L222.75,1299.83 L223.25,1299.57 L223.75,1299.28 L224.25,1298.97 L224.75,1298.62 L225.25,1298.23 L225.75,1297.80 L226.25,1297.31 L226.50,1297.04 L226.75,1296.75 L227.00,1296.44 L227.25,1296.12 L227.50,1295.77 L227.75,1295.40 L228.00,1295.00 L228.25,1294.57 L228.50,1294.11 L228.75,1293.61 L229.00,1293.07 L229.25,1292.49 L229.50,1291.86 L229.75,1291.18 L230.00,1290.44 L230.25,1289.63 L230.50,1288.74 L230.75,1287.77 L231.00,1286.71 L231.25,1285.54 L231.50,1284.25 L231.75,1282.82 L232.00,1281.23 L232.25,1279.47 L232.50,1277.50 L232.75,1275.29 L233.00,1272.82 L233.25,1270.04 L233.50,1266.89 L233.75,1263.34 L234.00,1259.31 L234.25,1254.73 L234.50,1249.53 L234.75,1243.62 L235.00,1236.91 L235.25,1229.34 L235.50,1220.86 L235.75,1211.45 L236.00,1201.20 L236.25,1190.33 L236.50,1179.21 L236.75,1168.44 L237.00,1158.81 L237.25,1151.25 L237.50,1146.61 L237.70,1145.42 L237.75,1145.42 L238.00,1145.41 L238.25,1145.40 L238.30,1145.40 L238.50,1145.39 L238.75,1145.39 L238.90,1145.38 L239.00,1145.68 L239.25,1148.94 L239.50,1155.41 L239.75,1164.31 L240.00,1174.71 L240.25,1185.76 L240.50,1196.78 L240.75,1207.29 L241.00,1217.04 L241.25,1225.88 L241.50,1233.80 L241.75,1240.82 L242.00,1247.03 L242.25,1252.49 L242.50,1257.29 L242.75,1261.51 L243.00,1265.23 L243.25,1268.52 L243.50,1271.42 L243.75,1274.00 L244.00,1276.29 L244.25,1278.33 L244.50,1280.16 L244.75,1281.80 L245.00,1283.27 L245.25,1284.60 L245.50,1285.80 L245.75,1286.88 L246.00,1287.87 L246.25,1288.77 L246.50,1289.59 L246.75,1290.34 L247.00,1291.03 L247.25,1291.66 L247.50,1292.24 L247.75,1292.77 L248.00,1293.27 L248.25,1293.72 L248.50,1294.14 L248.75,1294.53 L249.00,1294.90 L249.25,1295.23 L249.50,1295.54 L249.75,1295.84 L250.00,1296.11 L250.25,1296.36 L250.75,1296.81 L251.25,1297.21 L251.75,1297.56 L252.25,1297.86 L252.75,1298.13 L253.50,1298.46 L254.25,1298.73 L255.25,1299.01 L256.75,1299.27 L259.00,1299.39 L261.25,1299.20 L262.50,1298.94 L263.50,1298.65 L264.25,1298.37 L265.00,1298.02 L265.50,1297.75 L266.00,1297.44 L266.50,1297.08 L267.00,1296.68 L267.50,1296.22 L267.75,1295.97 L268.00,1295.70 L268.25,1295.40 L268.50,1295.09 L268.75,1294.75 L269.00,1294.39 L269.25,1294.00 L269.50,1293.58 L269.75,1293.13 L270.00,1292.64 L270.25,1292.11 L270.50,1291.53 L270.75,1290.91 L271.00,1290.23 L271.25,1289.49 L271.50,1288.68 L271.75,1287.79 L272.00,1286.82 L272.25,1285.75 L272.50,1284.57 L272.75,1283.27 L273.00,1281.82 L273.25,1280.22 L273.50,1278.43 L273.75,1276.43 L274.00,1274.20 L274.25,1271.68 L274.50,1268.85 L274.75,1265.65 L275.00,1262.03 L275.25,1257.91 L275.50,1253.24 L275.75,1247.93 L276.00,1241.90 L276.25,1235.06 L276.50,1227.35 L276.75,1218.71 L277.00,1209.17 L277.25,1198.82 L277.50,1187.91 L277.75,1176.85 L278.00,1166.28 L278.25,1157.03 L278.50,1150.02 L278.75,1146.07 L278.90,1145.41 L279.00,1145.40 L279.25,1145.40 L279.50,1145.40 L279.75,1145.40 L280.00,1145.39 L280.10,1145.39 L280.25,1146.06 L280.50,1150.00 L280.75,1157.01 L281.00,1166.25 L281.25,1176.81 L281.50,1187.86 L281.75,1198.77 L282.00,1209.12 L282.25,1218.66 L282.50,1227.28 L282.75,1234.99 L283.00,1241.83 L283.25,1247.86 L283.50,1253.16 L283.75,1257.83 L284.00,1261.93 L284.25,1265.55 L284.50,1268.75 L284.75,1271.57 L285.00,1274.08 L285.25,1276.31 L285.50,1278.31 L285.75,1280.09 L286.00,1281.69 L286.25,1283.12 L286.50,1284.42 L286.75,1285.60 L287.00,1286.66 L287.25,1287.63 L287.50,1288.51 L287.75,1289.31 L288.00,1290.04 L288.25,1290.72 L288.50,1291.34 L288.75,1291.90 L289.00,1292.43 L289.25,1292.91 L289.50,1293.36 L289.75,1293.77 L290.00,1294.15 L290.25,1294.51 L290.50,1294.84 L290.75,1295.14 L291.00,1295.43 L291.25,1295.69 L291.75,1296.17 L292.25,1296.58 L292.75,1296.94 L293.25,1297.26 L293.75,1297.53 L294.50,1297.87 L295.25,1298.14 L296.25,1298.41 L298.00,1298.68 L300.25,1298.68 L302.00,1298.42 L303.00,1298.15 L303.75,1297.89 L304.50,1297.56 L305.00,1297.30 L305.50,1297.00 L306.00,1296.66 L306.50,1296.26 L307.00,1295.82 L307.50,1295.30 L307.75,1295.02 L308.00,1294.71 L308.25,1294.39 L308.50,1294.03 L308.75,1293.66 L309.00,1293.25 L309.25,1292.81 L309.50,1292.33 L309.75,1291.82 L310.00,1291.26 L310.25,1290.66 L310.50,1290.00 L310.75,1289.29 L311.00,1288.52 L311.25,1287.67 L311.50,1286.74 L311.75,1285.72 L312.00,1284.60 L312.25,1283.36 L312.50,1282.00 L312.75,1280.48 L313.00,1278.81 L313.25,1276.94 L313.50,1274.85 L313.75,1272.51 L314.00,1269.88 L314.25,1266.92 L314.50,1263.58 L314.75,1259.80 L315.00,1255.52 L315.25,1250.65 L315.50,1245.11 L315.75,1238.81 L316.00,1231.68 L316.25,1223.61 L316.50,1214.57 L316.75,1204.55 L317.00,1193.63 L317.25,1182.05 L317.50,1170.20 L317.75,1158.72 L318.00,1148.46 L318.25,1140.40 L318.50,1135.46 L318.70,1134.20 L318.75,1134.20 L319.00,1134.20 L319.25,1134.20 L319.30,1134.20 L319.50,1134.20 L319.75,1134.20 L319.90,1134.20 L320.00,1134.51 L320.25,1138.00 L320.50,1144.91 L320.75,1154.40 L321.00,1165.50 L321.25,1177.29 L321.50,1189.04 L321.75,1200.26 L322.00,1210.65 L322.25,1220.09 L322.50,1228.54 L322.75,1236.03 L323.00,1242.65 L323.25,1248.48 L323.50,1253.60 L323.75,1258.11 L324.00,1262.08 L324.25,1265.59 L324.50,1268.69 L324.75,1271.44 L325.00,1273.89 L325.25,1276.07 L325.50,1278.02 L325.75,1279.77 L326.00,1281.34 L326.25,1282.76 L326.50,1284.05 L326.75,1285.21 L327.00,1286.26 L327.25,1287.22 L327.50,1288.10 L327.75,1288.90 L328.00,1289.64 L328.25,1290.31 L328.50,1290.93 L328.75,1291.50 L329.00,1292.03 L329.25,1292.52 L329.50,1292.97 L329.75,1293.38 L330.00,1293.77 L330.25,1294.13 L330.50,1294.46 L330.75,1294.77 L331.00,1295.06 L331.25,1295.33 L331.50,1295.58 L332.00,1296.04 L332.50,1296.43 L333.00,1296.77 L333.50,1297.07 L334.00,1297.33 L334.75,1297.65 L335.50,1297.91 L336.75,1298.20 L339.00,1298.39 L341.25,1298.17 L342.50,1297.86 L343.25,1297.59 L344.00,1297.25 L344.50,1296.97 L345.00,1296.66 L345.50,1296.30 L346.00,1295.88 L346.50,1295.40 L346.75,1295.13 L347.00,1294.85 L347.25,1294.54 L347.50,1294.21 L347.75,1293.85 L348.00,1293.46 L348.25,1293.05 L348.50,1292.60 L348.75,1292.11 L349.00,1291.58 L349.25,1291.01 L349.50,1290.39 L349.75,1289.71 L350.00,1288.97 L350.25,1288.17 L350.50,1287.28 L350.75,1286.31 L351.00,1285.25 L351.25,1284.07 L351.50,1282.77 L351.75,1281.33 L352.00,1279.73 L352.25,1277.94 L352.50,1275.95 L352.75,1273.72 L353.00,1271.22 L353.25,1268.40 L353.50,1265.21 L353.75,1261.60 L354.00,1257.51 L354.25,1252.86 L354.50,1247.57 L354.75,1241.57 L355.00,1234.75 L355.25,1227.06 L355.50,1218.42 L355.75,1208.86 L356.00,1198.43 L356.25,1187.37 L356.50,1176.06 L356.75,1165.10 L357.00,1155.31 L357.25,1147.62 L357.50,1142.90 L357.70,1141.70 L357.75,1141.70 L358.00,1141.70 L358.25,1141.70 L358.30,1141.70 L358.50,1141.70 L358.75,1141.70 L358.90,1141.70 L359.00,1142.00 L359.25,1145.34 L359.50,1151.94 L359.75,1161.00 L360.00,1171.60 L360.25,1182.86 L360.50,1194.08 L360.75,1204.80 L361.00,1214.72 L361.25,1223.73 L361.50,1231.80 L361.75,1238.96 L362.00,1245.28 L362.25,1250.85 L362.50,1255.75 L362.75,1260.05 L363.00,1263.85 L363.25,1267.20 L363.50,1270.16 L363.75,1272.79 L364.00,1275.13 L364.25,1277.21 L364.50,1279.08 L364.75,1280.75 L365.00,1282.25 L365.25,1283.61 L365.50,1284.83 L365.75,1285.95 L366.00,1286.96 L366.25,1287.88 L366.50,1288.71 L366.75,1289.48 L367.00,1290.19 L367.25,1290.83 L367.50,1291.42 L367.75,1291.97 L368.00,1292.48 L368.25,1292.94 L368.50,1293.37 L368.75,1293.78 L369.00,1294.15 L369.25,1294.49 L369.50,1294.81 L369.75,1295.11 L370.00,1295.39 L370.25,1295.65 L370.75,1296.11 L371.25,1296.52 L371.75,1296.88 L372.25,1297.19 L372.75,1297.46 L373.50,1297.80 L374.25,1298.07 L375.25,1298.35 L376.75,1298.60 L379.00,1298.66 L381.25,1298.36 L382.25,1298.10 L383.00,1297.83 L383.75,1297.50 L384.25,1297.23 L384.75,1296.93 L385.25,1296.58 L385.75,1296.18 L386.25,1295.72 L386.50,1295.47 L386.75,1295.20 L387.00,1294.90 L387.25,1294.59 L387.50,1294.25 L387.75,1293.89 L388.00,1293.50 L388.25,1293.08 L388.50,1292.62 L388.75,1292.13 L389.00,1291.60 L389.25,1291.02 L389.50,1290.39 L389.75,1289.70 L390.00,1288.96 L390.25,1288.14 L390.50,1287.25 L390.75,1286.27 L391.00,1285.19 L391.25,1284.00 L391.50,1282.69 L391.75,1281.24 L392.00,1279.62 L392.25,1277.82 L392.50,1275.81 L392.75,1273.56 L393.00,1271.03 L393.25,1268.19 L393.50,1264.97 L393.75,1261.33 L394.00,1257.21 L394.25,1252.52 L394.50,1247.19 L394.75,1241.13 L395.00,1234.25 L395.25,1226.49 L395.50,1217.78 L395.75,1208.13 L396.00,1197.62 L396.25,1186.46 L396.50,1175.05 L396.75,1164.00 L397.00,1154.13 L397.25,1146.37 L397.50,1141.61 L397.70,1140.40 L397.75,1140.40 L398.00,1140.40 L398.25,1140.40 L398.30,1140.40 L398.50,1140.40 L398.75,1140.40 L398.90,1140.40 L399.00,1140.71 L399.25,1144.07 L399.50,1150.73 L399.75,1159.87 L400.00,1170.56 L400.25,1181.92 L400.50,1193.24 L400.75,1204.05 L401.00,1214.06 L401.25,1223.15 L401.50,1231.29 L401.75,1238.51 L402.00,1244.89 L402.25,1250.50 L402.50,1255.44 L402.75,1259.79 L403.00,1263.62 L403.25,1267.00 L403.50,1269.99 L403.75,1272.64 L404.00,1275.00 L404.25,1277.10 L404.50,1278.98 L404.75,1280.67 L405.00,1282.19 L405.25,1283.56 L405.50,1284.80 L405.75,1285.92 L406.00,1286.94 L406.25,1287.87 L406.50,1288.72 L406.75,1289.50 L407.00,1290.21 L407.25,1290.87 L407.50,1291.47 L407.75,1292.02 L408.00,1292.53 L408.25,1293.01 L408.50,1293.45 L408.75,1293.85 L409.00,1294.23 L409.25,1294.58 L409.50,1294.91 L409.75,1295.21 L410.00,1295.50 L410.25,1295.76 L410.75,1296.24 L411.25,1296.66 L411.75,1297.03 L412.25,1297.36 L412.75,1297.64 L413.50,1298.00 L414.25,1298.30 L415.25,1298.61 L416.50,1298.89 L418.75,1299.12 L421.00,1299.05 L422.75,1298.77 L423.75,1298.52 L424.50,1298.27 L425.25,1297.96 L426.00,1297.58 L426.50,1297.28 L427.00,1296.94 L427.50,1296.55 L428.00,1296.11 L428.50,1295.60 L428.75,1295.32 L429.00,1295.02 L429.25,1294.69 L429.50,1294.34 L429.75,1293.96 L430.00,1293.55 L430.25,1293.11 L430.50,1292.64 L430.75,1292.12 L431.00,1291.57 L431.25,1290.96 L431.50,1290.30 L431.75,1289.58 L432.00,1288.79 L432.25,1287.93 L432.50,1286.98 L432.75,1285.94 L433.00,1284.80 L433.25,1283.53 L433.50,1282.12 L433.75,1280.56 L434.00,1278.82 L434.25,1276.88 L434.50,1274.70 L434.75,1272.25 L435.00,1269.49 L435.25,1266.37 L435.50,1262.84 L435.75,1258.84 L436.00,1254.29 L436.25,1249.11 L436.50,1243.23 L436.75,1236.57 L437.00,1229.05 L437.25,1220.64 L437.50,1211.34 L437.75,1201.25 L438.00,1190.61 L438.25,1179.84 L438.50,1169.54 L438.75,1160.53 L439.00,1153.70 L439.25,1149.85 L439.40,1149.20 L439.50,1149.20 L439.75,1149.20 L440.00,1149.20 L440.25,1149.20 L440.50,1149.20 L440.60,1149.20 L440.75,1149.85 L441.00,1153.70 L441.25,1160.53 L441.50,1169.54 L441.75,1179.84 L442.00,1190.61 L442.25,1201.25 L442.50,1211.34 L442.75,1220.63 L443.00,1229.05 L443.25,1236.57 L443.50,1243.23 L443.75,1249.11 L444.00,1254.28 L444.25,1258.83 L444.50,1262.84 L444.75,1266.37 L445.00,1269.49 L445.25,1272.25 L445.50,1274.69 L445.75,1276.87 L446.00,1278.82 L446.25,1280.56 L446.50,1282.12 L446.75,1283.52 L447.00,1284.79 L447.25,1285.94 L447.50,1286.98 L447.75,1287.93 L448.00,1288.79 L448.25,1289.57 L448.50,1290.29 L448.75,1290.95 L449.00,1291.56 L449.25,1292.12 L449.50,1292.63 L449.75,1293.11 L450.00,1293.55 L450.25,1293.96 L450.50,1294.33 L450.75,1294.68 L451.00,1295.01 L451.25,1295.31 L451.50,1295.60 L451.75,1295.86 L452.25,1296.33 L452.75,1296.75 L453.25,1297.11 L453.75,1297.43 L454.25,1297.71 L455.00,1298.06 L455.75,1298.35 L456.75,1298.65 L458.00,1298.92 L460.25,1299.13 L462.50,1299.05 L464.25,1298.77 L465.25,1298.51 L466.25,1298.17 L467.00,1297.85 L467.50,1297.60 L468.00,1297.31 L468.50,1296.98 L469.00,1296.61 L469.50,1296.19 L470.00,1295.71 L470.25,1295.44 L470.50,1295.15 L470.75,1294.85 L471.00,1294.52 L471.25,1294.17 L471.50,1293.79 L471.75,1293.38 L472.00,1292.94 L472.25,1292.47 L472.50,1291.95 L472.75,1291.40 L473.00,1290.80 L473.25,1290.14 L473.50,1289.43 L473.75,1288.66 L474.00,1287.81 L474.25,1286.88 L474.50,1285.86 L474.75,1284.74 L475.00,1283.51 L475.25,1282.15 L475.50,1280.64 L475.75,1278.96 L476.00,1277.09 L476.25,1275.00 L476.50,1272.66 L476.75,1270.03 L477.00,1267.06 L477.25,1263.71 L477.50,1259.92 L477.75,1255.62 L478.00,1250.73 L478.25,1245.18 L478.50,1238.87 L478.75,1231.71 L479.00,1223.64 L479.25,1214.60 L479.50,1204.62 L479.75,1193.79 L480.00,1182.37 L480.25,1170.80 L480.50,1159.75 L480.75,1150.07 L481.00,1142.73 L481.25,1138.60 L481.40,1137.90 L481.50,1137.90 L481.75,1137.90 L482.00,1137.90 L482.25,1137.90 L482.50,1137.90 L482.60,1137.89 L482.75,1138.59 L483.00,1142.72 L483.25,1150.05 L483.50,1159.72 L483.75,1170.78 L484.00,1182.34 L484.25,1193.76 L484.50,1204.58 L484.75,1214.56 L485.00,1223.59 L485.25,1231.66 L485.50,1238.81 L485.75,1245.12 L486.00,1250.68 L486.25,1255.56 L486.50,1259.86 L486.75,1263.64 L487.00,1266.99 L487.25,1269.95 L487.50,1272.57 L487.75,1274.91 L488.00,1277.00 L488.25,1278.86 L488.50,1280.54 L488.75,1282.04 L489.00,1283.40 L489.25,1284.63 L489.50,1285.75 L489.75,1286.76 L490.00,1287.68 L490.25,1288.52 L490.50,1289.29 L490.75,1290.00 L491.00,1290.65 L491.25,1291.25 L491.50,1291.80 L491.75,1292.30 L492.00,1292.77 L492.25,1293.21 L492.50,1293.61 L492.75,1293.98 L493.00,1294.33 L493.25,1294.65 L493.50,1294.95 L493.75,1295.23 L494.00,1295.49 L494.50,1295.96 L495.00,1296.37 L495.50,1296.72 L496.00,1297.03 L496.50,1297.30 L497.25,1297.65 L498.00,1297.92 L499.00,1298.19 L500.75,1298.46 L503.00,1298.47 L504.75,1298.21 L505.75,1297.95 L506.50,1297.69 L507.25,1297.36 L507.75,1297.10 L508.25,1296.80 L508.75,1296.46 L509.25,1296.07 L509.75,1295.62 L510.25,1295.10 L510.50,1294.82 L510.75,1294.51 L511.00,1294.18 L511.25,1293.83 L511.50,1293.45 L511.75,1293.04 L512.00,1292.60 L512.25,1292.12 L512.50,1291.60 L512.75,1291.04 L513.00,1290.43 L513.25,1289.77 L513.50,1289.06 L513.75,1288.27 L514.00,1287.42 L514.25,1286.48 L514.50,1285.45 L514.75,1284.32 L515.00,1283.07 L515.25,1281.69 L515.50,1280.16 L515.75,1278.45 L516.00,1276.56 L516.25,1274.44 L516.50,1272.07 L516.75,1269.40 L517.00,1266.40 L517.25,1263.00 L517.50,1259.16 L517.75,1254.80 L518.00,1249.84 L518.25,1244.21 L518.50,1237.80 L518.75,1230.55 L519.00,1222.36 L519.25,1213.20 L519.50,1203.07 L519.75,1192.09 L520.00,1180.50 L520.25,1168.77 L520.50,1157.56 L520.75,1147.74 L521.00,1140.30 L521.25,1136.11 L521.40,1135.40 L521.50,1135.40 L521.75,1135.40 L522.00,1135.40 L522.25,1135.40 L522.50,1135.40 L522.60,1135.40 L522.75,1136.10 L523.00,1140.29 L523.25,1147.73 L523.50,1157.54 L523.75,1168.75 L524.00,1180.49 L524.25,1192.07 L524.50,1203.05 L524.75,1213.17 L525.00,1222.33 L525.25,1230.52 L525.50,1237.77 L525.75,1244.17 L526.00,1249.80 L526.25,1254.76 L526.50,1259.11 L526.75,1262.96 L527.00,1266.35 L527.25,1269.35 L527.50,1272.01 L527.75,1274.38 L528.00,1276.50 L528.25,1278.39 L528.50,1280.09 L528.75,1281.62 L529.00,1282.99 L529.25,1284.24 L529.50,1285.37 L529.75,1286.40 L530.00,1287.33 L530.25,1288.18 L530.50,1288.96 L530.75,1289.68 L531.00,1290.34 L531.25,1290.94 L531.50,1291.50 L531.75,1292.01 L532.00,1292.48 L532.25,1292.92 L532.50,1293.33 L532.75,1293.70 L533.00,1294.05 L533.25,1294.38 L533.50,1294.68 L533.75,1294.96 L534.00,1295.22 L534.50,1295.69 L535.00,1296.10 L535.50,1296.45 L536.00,1296.76 L536.50,1297.03 L537.25,1297.36 L538.00,1297.62 L539.00,1297.87 L541.25,1298.10 L543.50,1297.89 L544.75,1297.58 L545.50,1297.31 L546.25,1296.97 L546.75,1296.69 L547.25,1296.38 L547.75,1296.02 L548.25,1295.60 L548.75,1295.12 L549.00,1294.85 L549.25,1294.57 L549.50,1294.26 L549.75,1293.93 L550.00,1293.57 L550.25,1293.19 L550.50,1292.78 L550.75,1292.33 L551.00,1291.85 L551.25,1291.33 L551.50,1290.76 L551.75,1290.15 L552.00,1289.48 L552.25,1288.76 L552.50,1287.97 L552.75,1287.11 L553.00,1286.16 L553.25,1285.12 L553.50,1283.98 L553.75,1282.72 L554.00,1281.33 L554.25,1279.79 L554.50,1278.07 L554.75,1276.17 L555.00,1274.04 L555.25,1271.65 L555.50,1268.97 L555.75,1265.95 L556.00,1262.54 L556.25,1258.68 L556.50,1254.30 L556.75,1249.33 L557.00,1243.67 L557.25,1237.25 L557.50,1229.96 L557.75,1221.72 L558.00,1212.49 L558.25,1202.25 L558.50,1191.10 L558.75,1179.26 L559.00,1167.16 L559.25,1155.44 L559.50,1144.96 L559.75,1136.73 L560.00,1131.68 L560.20,1130.40 L560.25,1130.40 L560.50,1130.40 L560.75,1130.40 L560.80,1130.40 L561.00,1130.40 L561.25,1130.40 L561.40,1130.40 L561.50,1130.73 L561.75,1134.29 L562.00,1141.35 L562.25,1151.06 L562.50,1162.40 L562.75,1174.44 L563.00,1186.45 L563.25,1197.92 L563.50,1208.54 L563.75,1218.18 L564.00,1226.81 L564.25,1234.48 L564.50,1241.24 L564.75,1247.20 L565.00,1252.44 L565.25,1257.05 L565.50,1261.11 L565.75,1264.69 L566.00,1267.86 L566.25,1270.68 L566.50,1273.18 L566.75,1275.41 L567.00,1277.41 L567.25,1279.20 L567.50,1280.81 L567.75,1282.26 L568.00,1283.57 L568.25,1284.76 L568.50,1285.85 L568.75,1286.83 L569.00,1287.73 L569.25,1288.55 L569.50,1289.31 L569.75,1290.00 L570.00,1290.64 L570.25,1291.22 L570.50,1291.77 L570.75,1292.27 L571.00,1292.73 L571.25,1293.16 L571.50,1293.56 L571.75,1293.93 L572.00,1294.28 L572.25,1294.60 L572.50,1294.90 L572.75,1295.18 L573.00,1295.44 L573.50,1295.91 L574.00,1296.32 L574.50,1296.68 L575.00,1297.00 L575.50,1297.28 L576.25,1297.63 L577.00,1297.91 L578.00,1298.20 L579.50,1298.46 L581.75,1298.55 L584.00,1298.27 L585.00,1298.01 L585.75,1297.74 L586.50,1297.41 L587.00,1297.15 L587.50,1296.84 L588.00,1296.49 L588.50,1296.09 L589.00,1295.63 L589.25,1295.37 L589.50,1295.10 L589.75,1294.80 L590.00,1294.48 L590.25,1294.14 L590.50,1293.77 L590.75,1293.37 L591.00,1292.94 L591.25,1292.47 L591.50,1291.96 L591.75,1291.41 L592.00,1290.81 L592.25,1290.16 L592.50,1289.45 L592.75,1288.68 L593.00,1287.83 L593.25,1286.89 L593.50,1285.87 L593.75,1284.74 L594.00,1283.49 L594.25,1282.10 L594.50,1280.57 L594.75,1278.85 L595.00,1276.94 L595.25,1274.80 L595.50,1272.39 L595.75,1269.68 L596.00,1266.61 L596.25,1263.14 L596.50,1259.21 L596.75,1254.74 L597.00,1249.66 L597.25,1243.89 L597.50,1237.34 L597.75,1229.94 L598.00,1221.64 L598.25,1212.45 L598.50,1202.43 L598.75,1191.80 L599.00,1180.92 L599.25,1170.39 L599.50,1160.98 L599.75,1153.58 L600.00,1149.05 L600.20,1147.90 L600.25,1147.90 L600.50,1147.90 L600.75,1147.90 L600.80,1147.90 L601.00,1147.90 L601.25,1147.90 L601.40,1147.90 L601.50,1148.19 L601.75,1151.40 L602.00,1157.74 L602.25,1166.46 L602.50,1176.65 L602.75,1187.47 L603.00,1198.26 L603.25,1208.56 L603.50,1218.11 L603.75,1226.77 L604.00,1234.53 L604.25,1241.41 L604.50,1247.49 L604.75,1252.84 L605.00,1257.55 L605.25,1261.69 L605.50,1265.34 L605.75,1268.56 L606.00,1271.41 L606.25,1273.94 L606.50,1276.19 L606.75,1278.20 L607.00,1279.99 L607.25,1281.60 L607.50,1283.05 L607.75,1284.35 L608.00,1285.53 L608.25,1286.60 L608.50,1287.58 L608.75,1288.46 L609.00,1289.27 L609.25,1290.01 L609.50,1290.69 L609.75,1291.31 L610.00,1291.88 L610.25,1292.41 L610.50,1292.90 L610.75,1293.35 L611.00,1293.77 L611.25,1294.16 L611.50,1294.52 L611.75,1294.85 L612.00,1295.16 L612.25,1295.45 L612.50,1295.72 L612.75,1295.97 L613.25,1296.43 L613.75,1296.83 L614.25,1297.18 L614.75,1297.49 L615.25,1297.75 L616.00,1298.10 L616.75,1298.38 L617.75,1298.67 L619.00,1298.92 L621.25,1299.12 L623.50,1299.02 L625.25,1298.73 L626.25,1298.46 L627.00,1298.19 L627.75,1297.87 L628.25,1297.62 L628.75,1297.33 L629.25,1297.01 L629.75,1296.63 L630.25,1296.20 L630.75,1295.72 L631.00,1295.45 L631.25,1295.16 L631.50,1294.84 L631.75,1294.51 L632.00,1294.15 L632.25,1293.76 L632.50,1293.34 L632.75,1292.89 L633.00,1292.41 L633.25,1291.88 L633.50,1291.31 L633.75,1290.68 L634.00,1290.01 L634.25,1289.27 L634.50,1288.46 L634.75,1287.58 L635.00,1286.61 L635.25,1285.54 L635.50,1284.37 L635.75,1283.07 L636.00,1281.62 L636.25,1280.02 L636.50,1278.24 L636.75,1276.25 L637.00,1274.01 L637.25,1271.50 L637.50,1268.68 L637.75,1265.48 L638.00,1261.86 L638.25,1257.76 L638.50,1253.09 L638.75,1247.79 L639.00,1241.77 L639.25,1234.94 L639.50,1227.23 L639.75,1218.61 L640.00,1209.08 L640.25,1198.74 L640.50,1187.84 L640.75,1176.80 L641.00,1166.25 L641.25,1157.01 L641.50,1150.01 L641.75,1146.06 L641.90,1145.40 L642.00,1145.40 L642.25,1145.40 L642.50,1145.40 L642.75,1145.40 L643.00,1145.40 L643.10,1145.40 L643.25,1146.06 L643.50,1150.01 L643.75,1157.01 L644.00,1166.25 L644.25,1176.80 L644.50,1187.85 L644.75,1198.75 L645.00,1209.08 L645.25,1218.62 L645.50,1227.24 L645.75,1234.95 L646.00,1241.78 L646.25,1247.80 L646.50,1253.10 L646.75,1257.77 L647.00,1261.87 L647.25,1265.49 L647.50,1268.69 L647.75,1271.52 L648.00,1274.03 L648.25,1276.26 L648.50,1278.25 L648.75,1280.04 L649.00,1281.64 L649.25,1283.08 L649.50,1284.38 L649.75,1285.56 L650.00,1286.63 L650.25,1287.60 L650.50,1288.48 L650.75,1289.29 L651.00,1290.03 L651.25,1290.71 L651.50,1291.33 L651.75,1291.90 L652.00,1292.43 L652.25,1292.92 L652.50,1293.37 L652.75,1293.79 L653.00,1294.18 L653.25,1294.54 L653.50,1294.88 L653.75,1295.19 L654.00,1295.48 L654.25,1295.75 L654.50,1296.01 L655.00,1296.46 L655.50,1296.87 L656.00,1297.22 L656.50,1297.53 L657.00,1297.80 L657.75,1298.15 L658.50,1298.44 L659.50,1298.74 L660.75,1299.01 L663.00,1299.24 L665.25,1299.19 L667.25,1298.91 L668.50,1298.60 L669.50,1298.25 L670.25,1297.93 L670.75,1297.67 L671.25,1297.38 L671.75,1297.06 L672.25,1296.68 L672.75,1296.25 L673.25,1295.77 L673.50,1295.49 L673.75,1295.21 L674.00,1294.89 L674.25,1294.56 L674.50,1294.20 L674.75,1293.82 L675.00,1293.40 L675.25,1292.95 L675.50,1292.47 L675.75,1291.94 L676.00,1291.37 L676.25,1290.75 L676.50,1290.08 L676.75,1289.35 L677.00,1288.55 L677.25,1287.67 L677.50,1286.71 L677.75,1285.65 L678.00,1284.48 L678.25,1283.19 L678.50,1281.76 L678.75,1280.17 L679.00,1278.40 L679.25,1276.42 L679.50,1274.21 L679.75,1271.72 L680.00,1268.92 L680.25,1265.75 L680.50,1262.16 L680.75,1258.09 L681.00,1253.47 L681.25,1248.21 L681.50,1242.24 L681.75,1235.47 L682.00,1227.83 L682.25,1219.28 L682.50,1209.83 L682.75,1199.59 L683.00,1188.78 L683.25,1177.83 L683.50,1167.37 L683.75,1158.22 L684.00,1151.28 L684.25,1147.36 L684.40,1146.70 L684.50,1146.70 L684.75,1146.70 L685.00,1146.70 L685.25,1146.70 L685.50,1146.69 L685.60,1146.69 L685.75,1147.35 L686.00,1151.26 L686.25,1158.19 L686.50,1167.35 L686.75,1177.80 L687.00,1188.74 L687.25,1199.54 L687.50,1209.78 L687.75,1219.23 L688.00,1227.77 L688.25,1235.40 L688.50,1242.17 L688.75,1248.14 L689.00,1253.39 L689.25,1258.01 L689.50,1262.07 L689.75,1265.65 L690.00,1268.82 L690.25,1271.62 L690.50,1274.10 L690.75,1276.31 L691.00,1278.28 L691.25,1280.05 L691.50,1281.63 L691.75,1283.05 L692.00,1284.34 L692.25,1285.50 L692.50,1286.55 L692.75,1287.51 L693.00,1288.38 L693.25,1289.17 L693.50,1289.90 L693.75,1290.57 L694.00,1291.18 L694.25,1291.74 L694.50,1292.26 L694.75,1292.74 L695.00,1293.18 L695.25,1293.59 L695.50,1293.97 L695.75,1294.32 L696.00,1294.64 L696.25,1294.94 L696.50,1295.22 L696.75,1295.49 L697.25,1295.95 L697.75,1296.36 L698.25,1296.72 L698.75,1297.02 L699.25,1297.29 L700.00,1297.62 L700.75,1297.89 L701.75,1298.14 L703.75,1298.39 L706.00,1298.30 L707.50,1298.02 L708.50,1297.71 L709.25,1297.41 L710.00,1297.04 L710.50,1296.74 L711.00,1296.40 L711.50,1296.01 L712.00,1295.56 L712.50,1295.04 L712.75,1294.76 L713.00,1294.45 L713.25,1294.12 L713.50,1293.77 L713.75,1293.39 L714.00,1292.98 L714.25,1292.54 L714.50,1292.06 L714.75,1291.55 L715.00,1290.99 L715.25,1290.38 L715.50,1289.72 L715.75,1289.01 L716.00,1288.23 L716.25,1287.37 L716.50,1286.44 L716.75,1285.41 L717.00,1284.28 L717.25,1283.04 L717.50,1281.67 L717.75,1280.15 L718.00,1278.46 L718.25,1276.58 L718.50,1274.48 L718.75,1272.12 L719.00,1269.48 L719.25,1266.50 L719.50,1263.14 L719.75,1259.33 L720.00,1255.02 L720.25,1250.12 L720.50,1244.54 L720.75,1238.21 L721.00,1231.02 L721.25,1222.91 L721.50,1213.80 L721.75,1203.72 L722.00,1192.73 L722.25,1181.06 L722.50,1169.13 L722.75,1157.58 L723.00,1147.26 L723.25,1139.14 L723.50,1134.17 L723.70,1132.90 L723.75,1132.90 L724.00,1132.90 L724.25,1132.90 L724.30,1132.90 L724.50,1132.90 L724.75,1132.90 L724.90,1132.90 L725.00,1133.22 L725.25,1136.73 L725.50,1143.68 L725.75,1153.24 L726.00,1164.42 L726.25,1176.28 L726.50,1188.11 L726.75,1199.41 L727.00,1209.87 L727.25,1219.37 L727.50,1227.88 L727.75,1235.42 L728.00,1242.09 L728.25,1247.95 L728.50,1253.11 L728.75,1257.65 L729.00,1261.65 L729.25,1265.18 L729.50,1268.31 L729.75,1271.08 L730.00,1273.54 L730.25,1275.74 L730.50,1277.70 L730.75,1279.46 L731.00,1281.05 L731.25,1282.48 L731.50,1283.77 L731.75,1284.94 L732.00,1286.00 L732.25,1286.97 L732.50,1287.86 L732.75,1288.66 L733.00,1289.40 L733.25,1290.08 L733.50,1290.71 L733.75,1291.28 L734.00,1291.82 L734.25,1292.31 L734.50,1292.76 L734.75,1293.18 L735.00,1293.57 L735.25,1293.93 L735.50,1294.27 L735.75,1294.58 L736.00,1294.88 L736.25,1295.15 L736.50,1295.40 L737.00,1295.86 L737.50,1296.26 L738.00,1296.60 L738.50,1296.90 L739.00,1297.17 L739.75,1297.50 L740.50,1297.76 L741.50,1298.02 L743.50,1298.27 L745.75,1298.17 L747.25,1297.88 L748.25,1297.57 L749.00,1297.25 L749.50,1297.00 L750.00,1296.71 L750.50,1296.38 L751.00,1296.00 L751.50,1295.57 L752.00,1295.06 L752.25,1294.78 L752.50,1294.48 L752.75,1294.16 L753.00,1293.82 L753.25,1293.44 L753.50,1293.04 L753.75,1292.61 L754.00,1292.14 L754.25,1291.63 L754.50,1291.09 L754.75,1290.49 L755.00,1289.84 L755.25,1289.14 L755.50,1288.37 L755.75,1287.53 L756.00,1286.61 L756.25,1285.60 L756.50,1284.49 L756.75,1283.27 L757.00,1281.92 L757.25,1280.42 L757.50,1278.76 L757.75,1276.91 L758.00,1274.84 L758.25,1272.52 L758.50,1269.92 L758.75,1266.99 L759.00,1263.68 L759.25,1259.93 L759.50,1255.68 L759.75,1250.85 L760.00,1245.36 L760.25,1239.12 L760.50,1232.04 L760.75,1224.05 L761.00,1215.09 L761.25,1205.15 L761.50,1194.32 L761.75,1182.83 L762.00,1171.09 L762.25,1159.71 L762.50,1149.54 L762.75,1141.55 L763.00,1136.65 L763.20,1135.40 L763.25,1135.40 L763.50,1135.40 L763.75,1135.40 L763.80,1135.40 L764.00,1135.40 L764.25,1135.40 L764.40,1135.40 L764.50,1135.71 L764.75,1139.18 L765.00,1146.03 L765.25,1155.44 L765.50,1166.45 L765.75,1178.14 L766.00,1189.80 L766.25,1200.92 L766.50,1211.23 L766.75,1220.59 L767.00,1228.97 L767.25,1236.41 L767.50,1242.97 L767.75,1248.75 L768.00,1253.83 L768.25,1258.31 L768.50,1262.25 L768.75,1265.73 L769.00,1268.80 L769.25,1271.53 L769.50,1273.96 L769.75,1276.13 L770.00,1278.06 L770.25,1279.80 L770.50,1281.36 L770.75,1282.77 L771.00,1284.04 L771.25,1285.20 L771.50,1286.25 L771.75,1287.20 L772.00,1288.07 L772.25,1288.87 L772.50,1289.60 L772.75,1290.27 L773.00,1290.89 L773.25,1291.45 L773.50,1291.98 L773.75,1292.46 L774.00,1292.91 L774.25,1293.33 L774.50,1293.71 L774.75,1294.07 L775.00,1294.40 L775.25,1294.71 L775.50,1295.00 L775.75,1295.27 L776.00,1295.52 L776.50,1295.97 L777.00,1296.37 L777.50,1296.71 L778.00,1297.01 L778.50,1297.27 L779.25,1297.60 L780.00,1297.87 L781.00,1298.13 L782.75,1298.38 L785.00,1298.36 L786.75,1298.08 L787.75,1297.80 L788.50,1297.52 L789.25,1297.17 L789.75,1296.90 L790.25,1296.58 L790.75,1296.22 L791.25,1295.80 L791.75,1295.32 L792.00,1295.06 L792.25,1294.77 L792.50,1294.47 L792.75,1294.14 L793.00,1293.79 L793.25,1293.41 L793.50,1293.00 L793.75,1292.56 L794.00,1292.08 L794.25,1291.57 L794.50,1291.01 L794.75,1290.40 L795.00,1289.75 L795.25,1289.03 L795.50,1288.25 L795.75,1287.40 L796.00,1286.46 L796.25,1285.44 L796.50,1284.31 L796.75,1283.07 L797.00,1281.70 L797.25,1280.18 L797.50,1278.49 L797.75,1276.61 L798.00,1274.51 L798.25,1272.15 L798.50,1269.51 L798.75,1266.53 L799.00,1263.17 L799.25,1259.37 L799.50,1255.05 L799.75,1250.15 L800.00,1244.57 L800.25,1238.23 L800.50,1231.05 L800.75,1222.93 L801.00,1213.82 L801.25,1203.73 L801.50,1192.74 L801.75,1181.07 L802.00,1169.14 L802.25,1157.58 L802.50,1147.25 L802.75,1139.14 L803.00,1134.16 L803.20,1132.90 L803.25,1132.90 L803.50,1132.90 L803.75,1132.90 L803.80,1132.90 L804.00,1132.90 L804.25,1132.90 L804.40,1132.90 L804.50,1133.22 L804.75,1136.74 L805.00,1143.70 L805.25,1153.27 L805.50,1164.45 L805.75,1176.32 L806.00,1188.16 L806.25,1199.47 L806.50,1209.94 L806.75,1219.45 L807.00,1227.96 L807.25,1235.52 L807.50,1242.19 L807.75,1248.06 L808.00,1253.22 L808.25,1257.77 L808.50,1261.78 L808.75,1265.31 L809.00,1268.44 L809.25,1271.21 L809.50,1273.68 L809.75,1275.88 L810.00,1277.85 L810.25,1279.62 L810.50,1281.21 L810.75,1282.64 L811.00,1283.94 L811.25,1285.12 L811.50,1286.19 L811.75,1287.16 L812.00,1288.05 L812.25,1288.86 L812.50,1289.61 L812.75,1290.29 L813.00,1290.92 L813.25,1291.50 L813.50,1292.04 L813.75,1292.54 L814.00,1293.00 L814.25,1293.43 L814.50,1293.82 L814.75,1294.19 L815.00,1294.54 L815.25,1294.86 L815.50,1295.16 L815.75,1295.43 L816.00,1295.70 L816.50,1296.17 L817.00,1296.58 L817.50,1296.95 L818.00,1297.27 L818.50,1297.56 L819.00,1297.81 L819.75,1298.13 L820.50,1298.39 L821.50,1298.66 L823.00,1298.94 L825.25,1299.09 L827.50,1298.96 L829.00,1298.70 L830.00,1298.43 L830.75,1298.17 L831.50,1297.86 L832.25,1297.47 L832.75,1297.17 L833.25,1296.82 L833.75,1296.43 L834.25,1295.98 L834.75,1295.46 L835.00,1295.17 L835.25,1294.87 L835.50,1294.54 L835.75,1294.18 L836.00,1293.80 L836.25,1293.39 L836.50,1292.95 L836.75,1292.47 L837.00,1291.95 L837.25,1291.38 L837.50,1290.77 L837.75,1290.11 L838.00,1289.38 L838.25,1288.59 L838.50,1287.72 L838.75,1286.77 L839.00,1285.73 L839.25,1284.57 L839.50,1283.30 L839.75,1281.89 L840.00,1280.32 L840.25,1278.58 L840.50,1276.63 L840.75,1274.45 L841.00,1272.00 L841.25,1269.24 L841.50,1266.12 L841.75,1262.59 L842.00,1258.59 L842.25,1254.05 L842.50,1248.88 L842.75,1243.01 L843.00,1236.35 L843.25,1228.83 L843.50,1220.39 L843.75,1211.04 L844.00,1200.85 L844.25,1190.04 L844.50,1178.98 L844.75,1168.27 L845.00,1158.70 L845.25,1151.18 L845.50,1146.58 L845.70,1145.40 L845.75,1145.40 L846.00,1145.40 L846.25,1145.40 L846.30,1145.40 L846.50,1145.40 L846.75,1145.40 L846.90,1145.40 L847.00,1145.70 L847.25,1148.95 L847.50,1155.40 L847.75,1164.26 L848.00,1174.62 L848.25,1185.62 L848.50,1196.59 L848.75,1207.06 L849.00,1216.76 L849.25,1225.57 L849.50,1233.45 L849.75,1240.45 L850.00,1246.63 L850.25,1252.07 L850.50,1256.85 L850.75,1261.06 L851.00,1264.77 L851.25,1268.05 L851.50,1270.94 L851.75,1273.51 L852.00,1275.80 L852.25,1277.84 L852.50,1279.66 L852.75,1281.30 L853.00,1282.77 L853.25,1284.10 L853.50,1285.30 L853.75,1286.38 L854.00,1287.37 L854.25,1288.27 L854.50,1289.09 L854.75,1289.85 L855.00,1290.53 L855.25,1291.17 L855.50,1291.75 L855.75,1292.29 L856.00,1292.78 L856.25,1293.24 L856.50,1293.67 L856.75,1294.06 L857.00,1294.43 L857.25,1294.77 L857.50,1295.08 L857.75,1295.38 L858.00,1295.65 L858.25,1295.91 L858.75,1296.37 L859.25,1296.78 L859.75,1297.14 L860.25,1297.45 L860.75,1297.73 L861.50,1298.08 L862.25,1298.37 L863.25,1298.67 L864.50,1298.93 L866.75,1299.16 L869.00,1299.11 L871.00,1298.81 L872.25,1298.49 L873.00,1298.23 L873.75,1297.92 L874.50,1297.54 L875.00,1297.24 L875.50,1296.90 L876.00,1296.51 L876.50,1296.07 L877.00,1295.57 L877.25,1295.30 L877.50,1295.00 L877.75,1294.68 L878.00,1294.34 L878.25,1293.97 L878.50,1293.57 L878.75,1293.15 L879.00,1292.69 L879.25,1292.19 L879.50,1291.65 L879.75,1291.07 L880.00,1290.44 L880.25,1289.75 L880.50,1289.00 L880.75,1288.18 L881.00,1287.28 L881.25,1286.30 L881.50,1285.22 L881.75,1284.03 L882.00,1282.71 L882.25,1281.26 L882.50,1279.64 L882.75,1277.84 L883.00,1275.82 L883.25,1273.57 L883.50,1271.04 L883.75,1268.19 L884.00,1264.98 L884.25,1261.34 L884.50,1257.21 L884.75,1252.52 L885.00,1247.18 L885.25,1241.12 L885.50,1234.25 L885.75,1226.49 L886.00,1217.78 L886.25,1208.13 L886.50,1197.62 L886.75,1186.47 L887.00,1175.06 L887.25,1164.01 L887.50,1154.13 L887.75,1146.37 L888.00,1141.62 L888.20,1140.40 L888.25,1140.40 L888.50,1140.40 L888.75,1140.40 L888.80,1140.40 L889.00,1140.40 L889.25,1140.40 L889.40,1140.40 L889.50,1140.70 L889.75,1144.06 L890.00,1150.71 L890.25,1159.85 L890.50,1170.54 L890.75,1181.88 L891.00,1193.20 L891.25,1204.00 L891.50,1214.01 L891.75,1223.09 L892.00,1231.23 L892.25,1238.44 L892.50,1244.82 L892.75,1250.43 L893.00,1255.36 L893.25,1259.70 L893.50,1263.53 L893.75,1266.90 L894.00,1269.89 L894.25,1272.54 L894.50,1274.90 L894.75,1277.00 L895.00,1278.88 L895.25,1280.56 L895.50,1282.08 L895.75,1283.45 L896.00,1284.68 L896.25,1285.80 L896.50,1286.82 L896.75,1287.75 L897.00,1288.59 L897.25,1289.37 L897.50,1290.08 L897.75,1290.73 L898.00,1291.33 L898.25,1291.88 L898.50,1292.39 L898.75,1292.86 L899.00,1293.29 L899.25,1293.70 L899.50,1294.07 L899.75,1294.42 L900.00,1294.74 L900.25,1295.04 L900.50,1295.33 L900.75,1295.59 L901.25,1296.06 L901.75,1296.47 L902.25,1296.83 L902.75,1297.15 L903.25,1297.43 L904.00,1297.78 L904.75,1298.06 L905.75,1298.35 L907.25,1298.63 L909.50,1298.75 L911.75,1298.55 L913.00,1298.28 L914.00,1297.97 L914.75,1297.67 L915.50,1297.30 L916.00,1297.01 L916.50,1296.68 L917.00,1296.31 L917.50,1295.88 L918.00,1295.39 L918.25,1295.12 L918.50,1294.83 L918.75,1294.52 L919.00,1294.18 L919.25,1293.83 L919.50,1293.44 L919.75,1293.02 L920.00,1292.58 L920.25,1292.09 L920.50,1291.57 L920.75,1291.00 L921.00,1290.39 L921.25,1289.72 L921.50,1289.00 L921.75,1288.21 L922.00,1287.34 L922.25,1286.39 L922.50,1285.36 L922.75,1284.21 L923.00,1282.95 L923.25,1281.56 L923.50,1280.02 L923.75,1278.30 L924.00,1276.39 L924.25,1274.26 L924.50,1271.87 L924.75,1269.18 L925.00,1266.15 L925.25,1262.73 L925.50,1258.86 L925.75,1254.47 L926.00,1249.47 L926.25,1243.80 L926.50,1237.35 L926.75,1230.04 L927.00,1221.79 L927.25,1212.56 L927.50,1202.36 L927.75,1191.30 L928.00,1179.63 L928.25,1167.81 L928.50,1156.52 L928.75,1146.63 L929.00,1139.14 L929.25,1134.92 L929.40,1134.20 L929.50,1134.20 L929.75,1134.20 L930.00,1134.20 L930.25,1134.20 L930.50,1134.20 L930.60,1134.19 L930.75,1134.90 L931.00,1139.12 L931.25,1146.61 L931.50,1156.49 L931.75,1167.78 L932.00,1179.60 L932.25,1191.26 L932.50,1202.32 L932.75,1212.51 L933.00,1221.74 L933.25,1229.98 L933.50,1237.29 L933.75,1243.73 L934.00,1249.40 L934.25,1254.39 L934.50,1258.78 L934.75,1262.65 L935.00,1266.06 L935.25,1269.09 L935.50,1271.77 L935.75,1274.15 L936.00,1276.28 L936.25,1278.19 L936.50,1279.90 L936.75,1281.43 L937.00,1282.82 L937.25,1284.07 L937.50,1285.21 L937.75,1286.24 L938.00,1287.18 L938.25,1288.04 L938.50,1288.83 L938.75,1289.55 L939.00,1290.21 L939.25,1290.82 L939.50,1291.37 L939.75,1291.89 L940.00,1292.37 L940.25,1292.81 L940.50,1293.22 L940.75,1293.59 L941.00,1293.94 L941.25,1294.27 L941.50,1294.57 L941.75,1294.86 L942.00,1295.12 L942.50,1295.59 L943.00,1296.00 L943.50,1296.35 L944.00,1296.66 L944.50,1296.93 L945.25,1297.26 L946.00,1297.52 L947.25,1297.81 L949.50,1297.98 L951.75,1297.70 L952.75,1297.43 L953.50,1297.15 L954.25,1296.79 L954.75,1296.51 L955.25,1296.18 L955.75,1295.81 L956.25,1295.38 L956.75,1294.88 L957.00,1294.61 L957.25,1294.31 L957.50,1293.99 L957.75,1293.65 L958.00,1293.29 L958.25,1292.89 L958.50,1292.47 L958.75,1292.01 L959.00,1291.51 L959.25,1290.97 L959.50,1290.39 L959.75,1289.76 L960.00,1289.08 L960.25,1288.33 L960.50,1287.52 L960.75,1286.63 L961.00,1285.65 L961.25,1284.58 L961.50,1283.41 L961.75,1282.11 L962.00,1280.68 L962.25,1279.09 L962.50,1277.33 L962.75,1275.37 L963.00,1273.18 L963.25,1270.72 L963.50,1267.96 L963.75,1264.86 L964.00,1261.35 L964.25,1257.38 L964.50,1252.87 L964.75,1247.76 L965.00,1241.94 L965.25,1235.32 L965.50,1227.82 L965.75,1219.35 L966.00,1209.85 L966.25,1199.32 L966.50,1187.85 L966.75,1175.67 L967.00,1163.22 L967.25,1151.16 L967.50,1140.38 L967.75,1131.91 L968.00,1126.72 L968.20,1125.40 L968.25,1125.40 L968.50,1125.40 L968.75,1125.40 L968.80,1125.40 L969.00,1125.40 L969.25,1125.40 L969.40,1125.40 L969.50,1125.73 L969.75,1129.40 L970.00,1136.67 L970.25,1146.65 L970.50,1158.31 L970.75,1170.70 L971.00,1183.06 L971.25,1194.85 L971.50,1205.78 L971.75,1215.69 L972.00,1224.57 L972.25,1232.46 L972.50,1239.41 L972.75,1245.54 L973.00,1250.93 L973.25,1255.67 L973.50,1259.85 L973.75,1263.53 L974.00,1266.80 L974.25,1269.69 L974.50,1272.26 L974.75,1274.56 L975.00,1276.61 L975.25,1278.45 L975.50,1280.11 L975.75,1281.60 L976.00,1282.95 L976.25,1284.17 L976.50,1285.29 L976.75,1286.30 L977.00,1287.22 L977.25,1288.07 L977.50,1288.84 L977.75,1289.55 L978.00,1290.21 L978.25,1290.81 L978.50,1291.37 L978.75,1291.88 L979.00,1292.36 L979.25,1292.80 L979.50,1293.21 L979.75,1293.59 L980.00,1293.94 L980.25,1294.27 L980.50,1294.57 L980.75,1294.86 L981.00,1295.13 L981.50,1295.61 L982.00,1296.03 L982.50,1296.39 L983.00,1296.71 L983.50,1296.99 L984.25,1297.34 L985.00,1297.63 L986.00,1297.91 L987.75,1298.18 L990.00,1298.17 L991.75,1297.87 L992.75,1297.58 L993.50,1297.28 L994.25,1296.90 L994.75,1296.60 L995.25,1296.25 L995.75,1295.86 L996.25,1295.40 L996.50,1295.15 L996.75,1294.87 L997.00,1294.58 L997.25,1294.27 L997.50,1293.93 L997.75,1293.56 L998.00,1293.17 L998.25,1292.74 L998.50,1292.28 L998.75,1291.79 L999.00,1291.25 L999.25,1290.66 L999.50,1290.03 L999.75,1289.33 L1000.00,1288.58 L1000.25,1287.75 L1000.50,1286.85 L1000.75,1285.86 L1001.00,1284.77 L1001.25,1283.56 L1001.50,1282.23 L1001.75,1280.76 L1002.00,1279.12 L1002.25,1277.30 L1002.50,1275.26 L1002.75,1272.98 L1003.00,1270.42 L1003.25,1267.53 L1003.50,1264.27 L1003.75,1260.58 L1004.00,1256.40 L1004.25,1251.64 L1004.50,1246.23 L1004.75,1240.08 L1005.00,1233.11 L1005.25,1225.24 L1005.50,1216.40 L1005.75,1206.61 L1006.00,1195.95 L1006.25,1184.63 L1006.50,1173.05 L1006.75,1161.84 L1007.00,1151.82 L1007.25,1143.95 L1007.50,1139.12 L1007.70,1137.89 L1007.75,1137.89 L1008.00,1137.90 L1008.25,1137.90 L1008.30,1137.90 L1008.50,1137.90 L1008.75,1137.90 L1008.90,1137.91 L1009.00,1138.22 L1009.25,1141.63 L1009.50,1148.39 L1009.75,1157.67 L1010.00,1168.52 L1010.25,1180.04 L1010.50,1191.53 L1010.75,1202.50 L1011.00,1212.66 L1011.25,1221.89 L1011.50,1230.15 L1011.75,1237.48 L1012.00,1243.95 L1012.25,1249.65 L1012.50,1254.66 L1012.75,1259.07 L1013.00,1262.96 L1013.25,1266.39 L1013.50,1269.43 L1013.75,1272.12 L1014.00,1274.52 L1014.25,1276.65 L1014.50,1278.57 L1014.75,1280.28 L1015.00,1281.82 L1015.25,1283.22 L1015.50,1284.47 L1015.75,1285.62 L1016.00,1286.65 L1016.25,1287.60 L1016.50,1288.46 L1016.75,1289.25 L1017.00,1289.98 L1017.25,1290.64 L1017.50,1291.25 L1017.75,1291.82 L1018.00,1292.34 L1018.25,1292.82 L1018.50,1293.27 L1018.75,1293.69 L1019.00,1294.07 L1019.25,1294.43 L1019.50,1294.77 L1019.75,1295.08 L1020.00,1295.37 L1020.25,1295.64 L1020.50,1295.89 L1021.00,1296.35 L1021.50,1296.76 L1022.00,1297.12 L1022.50,1297.43 L1023.00,1297.71 L1023.75,1298.06 L1024.50,1298.36 L1025.50,1298.67 L1026.75,1298.95 L1029.00,1299.21 L1031.25,1299.19 L1033.50,1298.90 L1034.75,1298.59 L1035.75,1298.25 L1036.50,1297.93 L1037.00,1297.68 L1037.50,1297.39 L1038.00,1297.06 L1038.50,1296.69 L1039.00,1296.27 L1039.50,1295.78 L1039.75,1295.52 L1040.00,1295.23 L1040.25,1294.92 L1040.50,1294.59 L1040.75,1294.23 L1041.00,1293.85 L1041.25,1293.44 L1041.50,1293.00 L1041.75,1292.51 L1042.00,1291.99 L1042.25,1291.43 L1042.50,1290.82 L1042.75,1290.15 L1043.00,1289.43 L1043.25,1288.63 L1043.50,1287.76 L1043.75,1286.81 L1044.00,1285.77 L1044.25,1284.61 L1044.50,1283.34 L1044.75,1281.93 L1045.00,1280.36 L1045.25,1278.61 L1045.50,1276.66 L1045.75,1274.48 L1046.00,1272.03 L1046.25,1269.27 L1046.50,1266.15 L1046.75,1262.62 L1047.00,1258.62 L1047.25,1254.08 L1047.50,1248.91 L1047.75,1243.03 L1048.00,1236.37 L1048.25,1228.85 L1048.50,1220.41 L1048.75,1211.05 L1049.00,1200.86 L1049.25,1190.05 L1049.50,1178.99 L1049.75,1168.28 L1050.00,1158.71 L1050.25,1151.19 L1050.50,1146.58 L1050.70,1145.40 L1050.75,1145.40 L1051.00,1145.40 L1051.25,1145.40 L1051.30,1145.40 L1051.50,1145.40 L1051.75,1145.40 L1051.90,1145.40 L1052.00,1145.70 L1052.25,1148.95 L1052.50,1155.40 L1052.75,1164.27 L1053.00,1174.63 L1053.25,1185.63 L1053.50,1196.60 L1053.75,1207.07 L1054.00,1216.78 L1054.25,1225.58 L1054.50,1233.47 L1054.75,1240.47 L1055.00,1246.65 L1055.25,1252.09 L1055.50,1256.88 L1055.75,1261.09 L1056.00,1264.80 L1056.25,1268.07 L1056.50,1270.97 L1056.75,1273.54 L1057.00,1275.83 L1057.25,1277.87 L1057.50,1279.69 L1057.75,1281.33 L1058.00,1282.80 L1058.25,1284.13 L1058.50,1285.33 L1058.75,1286.41 L1059.00,1287.40 L1059.25,1288.30 L1059.50,1289.13 L1059.75,1289.88 L1060.00,1290.57 L1060.25,1291.20 L1060.50,1291.78 L1060.75,1292.32 L1061.00,1292.82 L1061.25,1293.28 L1061.50,1293.70 L1061.75,1294.10 L1062.00,1294.46 L1062.25,1294.80 L1062.50,1295.12 L1062.75,1295.41 L1063.00,1295.69 L1063.25,1295.95 L1063.75,1296.41 L1064.25,1296.82 L1064.75,1297.18 L1065.25,1297.49 L1065.75,1297.77 L1066.50,1298.12 L1067.25,1298.41 L1068.25,1298.72 L1069.50,1298.99 L1071.75,1299.23 L1074.00,1299.19 L1076.00,1298.91 L1077.25,1298.60 L1078.25,1298.26 L1079.00,1297.93 L1079.50,1297.68 L1080.00,1297.39 L1080.50,1297.06 L1081.00,1296.69 L1081.50,1296.27 L1082.00,1295.78 L1082.25,1295.51 L1082.50,1295.22 L1082.75,1294.92 L1083.00,1294.58 L1083.25,1294.23 L1083.50,1293.85 L1083.75,1293.43 L1084.00,1292.99 L1084.25,1292.51 L1084.50,1291.98 L1084.75,1291.42 L1085.00,1290.81 L1085.25,1290.14 L1085.50,1289.41 L1085.75,1288.62 L1086.00,1287.75 L1086.25,1286.80 L1086.50,1285.75 L1086.75,1284.60 L1087.00,1283.32 L1087.25,1281.91 L1087.50,1280.34 L1087.75,1278.60 L1088.00,1276.65 L1088.25,1274.46 L1088.50,1272.01 L1088.75,1269.25 L1089.00,1266.13 L1089.25,1262.61 L1089.50,1258.60 L1089.75,1254.06 L1090.00,1248.89 L1090.25,1243.02 L1090.50,1236.36 L1090.75,1228.83 L1091.00,1220.40 L1091.25,1211.04 L1091.50,1200.86 L1091.75,1190.05 L1092.00,1178.99 L1092.25,1168.28 L1092.50,1158.71 L1092.75,1151.19 L1093.00,1146.58 L1093.20,1145.40 L1093.25,1145.40 L1093.50,1145.40 L1093.75,1145.40 L1093.80,1145.40 L1094.00,1145.40 L1094.25,1145.40 L1094.40,1145.40 L1094.50,1145.69 L1094.75,1148.95 L1095.00,1155.39 L1095.25,1164.25 L1095.50,1174.61 L1095.75,1185.60 L1096.00,1196.57 L1096.25,1207.04 L1096.50,1216.74 L1096.75,1225.54 L1097.00,1233.42 L1097.25,1240.42 L1097.50,1246.59 L1097.75,1252.03 L1098.00,1256.81 L1098.25,1261.02 L1098.50,1264.73 L1098.75,1268.00 L1099.00,1270.90 L1099.25,1273.46 L1099.50,1275.75 L1099.75,1277.78 L1100.00,1279.60 L1100.25,1281.24 L1100.50,1282.71 L1100.75,1284.03 L1101.00,1285.23 L1101.25,1286.31 L1101.50,1287.30 L1101.75,1288.20 L1102.00,1289.02 L1102.25,1289.77 L1102.50,1290.45 L1102.75,1291.08 L1103.00,1291.66 L1103.25,1292.20 L1103.50,1292.69 L1103.75,1293.15 L1104.00,1293.57 L1104.25,1293.96 L1104.50,1294.32 L1104.75,1294.66 L1105.00,1294.97 L1105.25,1295.26 L1105.50,1295.54 L1105.75,1295.79 L1106.25,1296.25 L1106.75,1296.64 L1107.25,1296.99 L1107.75,1297.30 L1108.25,1297.56 L1109.00,1297.90 L1109.75,1298.17 L1110.75,1298.45 L1112.25,1298.71 L1114.50,1298.82 L1116.75,1298.60 L1118.00,1298.32 L1119.00,1298.01 L1119.75,1297.70 L1120.50,1297.33 L1121.00,1297.04 L1121.50,1296.70 L1122.00,1296.32 L1122.50,1295.89 L1123.00,1295.39 L1123.25,1295.12 L1123.50,1294.83 L1123.75,1294.51 L1124.00,1294.18 L1124.25,1293.82 L1124.50,1293.43 L1124.75,1293.01 L1125.00,1292.56 L1125.25,1292.07 L1125.50,1291.54 L1125.75,1290.97 L1126.00,1290.35 L1126.25,1289.68 L1126.50,1288.95 L1126.75,1288.15 L1127.00,1287.28 L1127.25,1286.32 L1127.50,1285.28 L1127.75,1284.12 L1128.00,1282.85 L1128.25,1281.45 L1128.50,1279.89 L1128.75,1278.17 L1129.00,1276.24 L1129.25,1274.09 L1129.50,1271.68 L1129.75,1268.97 L1130.00,1265.92 L1130.25,1262.47 L1130.50,1258.57 L1130.75,1254.14 L1131.00,1249.10 L1131.25,1243.38 L1131.50,1236.88 L1131.75,1229.51 L1132.00,1221.20 L1132.25,1211.89 L1132.50,1201.61 L1132.75,1190.46 L1133.00,1178.70 L1133.25,1166.78 L1133.50,1155.40 L1133.75,1145.43 L1134.00,1137.88 L1134.25,1133.62 L1134.40,1132.90 L1134.50,1132.90 L1134.75,1132.90 L1135.00,1132.90 L1135.25,1132.90 L1135.50,1132.90 L1135.60,1132.90 L1135.75,1133.61 L1136.00,1137.86 L1136.25,1145.42 L1136.50,1155.38 L1136.75,1166.76 L1137.00,1178.67 L1137.25,1190.43 L1137.50,1201.58 L1137.75,1211.86 L1138.00,1221.16 L1138.25,1229.47 L1138.50,1236.84 L1138.75,1243.33 L1139.00,1249.05 L1139.25,1254.08 L1139.50,1258.51 L1139.75,1262.41 L1140.00,1265.85 L1140.25,1268.90 L1140.50,1271.60 L1140.75,1274.01 L1141.00,1276.16 L1141.25,1278.08 L1141.50,1279.81 L1141.75,1281.36 L1142.00,1282.76 L1142.25,1284.02 L1142.50,1285.17 L1142.75,1286.21 L1143.00,1287.16 L1143.25,1288.03 L1143.50,1288.82 L1143.75,1289.55 L1144.00,1290.22 L1144.25,1290.83 L1144.50,1291.40 L1144.75,1291.92 L1145.00,1292.40 L1145.25,1292.85 L1145.50,1293.26 L1145.75,1293.65 L1146.00,1294.00 L1146.25,1294.34 L1146.50,1294.64 L1146.75,1294.93 L1147.00,1295.20 L1147.50,1295.68 L1148.00,1296.10 L1148.50,1296.47 L1149.00,1296.78 L1149.50,1297.06 L1150.25,1297.41 L1151.00,1297.68 L1152.00,1297.96 L1153.75,1298.22 L1156.00,1298.19 L1157.75,1297.89 L1158.75,1297.59 L1159.50,1297.29 L1160.25,1296.91 L1160.75,1296.62 L1161.25,1296.27 L1161.75,1295.88 L1162.25,1295.43 L1162.75,1294.91 L1163.00,1294.63 L1163.25,1294.32 L1163.50,1293.98 L1163.75,1293.63 L1164.00,1293.24 L1164.25,1292.83 L1164.50,1292.38 L1164.75,1291.90 L1165.00,1291.38 L1165.25,1290.81 L1165.50,1290.19 L1165.75,1289.53 L1166.00,1288.80 L1166.25,1288.00 L1166.50,1287.14 L1166.75,1286.19 L1167.00,1285.14 L1167.25,1283.99 L1167.50,1282.73 L1167.75,1281.33 L1168.00,1279.78 L1168.25,1278.05 L1168.50,1276.13 L1168.75,1273.98 L1169.00,1271.58 L1169.25,1268.87 L1169.50,1265.82 L1169.75,1262.38 L1170.00,1258.48 L1170.25,1254.05 L1170.50,1249.03 L1170.75,1243.31 L1171.00,1236.81 L1171.25,1229.45 L1171.50,1221.14 L1171.75,1211.84 L1172.00,1201.57 L1172.25,1190.42 L1172.50,1178.67 L1172.75,1166.76 L1173.00,1155.38 L1173.25,1145.42 L1173.50,1137.87 L1173.75,1133.61 L1173.90,1132.90 L1174.00,1132.90 L1174.25,1132.90 L1174.50,1132.90 L1174.75,1132.90 L1175.00,1132.90 L1175.10,1132.90 L1175.25,1133.62 L1175.50,1137.87 L1175.75,1145.42 L1176.00,1155.38 L1176.25,1166.76 L1176.50,1178.67 L1176.75,1190.43 L1177.00,1201.57 L1177.25,1211.85 L1177.50,1221.15 L1177.75,1229.46 L1178.00,1236.82 L1178.25,1243.32 L1178.50,1249.04 L1178.75,1254.07 L1179.00,1258.49 L1179.25,1262.39 L1179.50,1265.84 L1179.75,1268.89 L1180.00,1271.59 L1180.25,1274.00 L1180.50,1276.15 L1180.75,1278.07 L1181.00,1279.80 L1181.25,1281.35 L1181.50,1282.75 L1181.75,1284.02 L1182.00,1285.17 L1182.25,1286.21 L1182.50,1287.16 L1182.75,1288.03 L1183.00,1288.83 L1183.25,1289.56 L1183.50,1290.23 L1183.75,1290.84 L1184.00,1291.41 L1184.25,1291.94 L1184.50,1292.42 L1184.75,1292.87 L1185.00,1293.28 L1185.25,1293.67 L1185.50,1294.03 L1185.75,1294.36 L1186.00,1294.67 L1186.25,1294.96 L1186.50,1295.23 L1186.75,1295.48 L1187.25,1295.94 L1187.75,1296.34 L1188.25,1296.68 L1188.75,1296.99 L1189.25,1297.25 L1190.00,1297.58 L1190.75,1297.85 L1191.75,1298.12 L1193.50,1298.38 L1195.75,1298.39 L1197.50,1298.14 L1198.50,1297.88 L1199.25,1297.62 L1200.00,1297.30 L1200.50,1297.04 L1201.00,1296.75 L1201.50,1296.41 L1202.00,1296.03 L1202.50,1295.59 L1203.00,1295.09 L1203.25,1294.81 L1203.50,1294.51 L1203.75,1294.19 L1204.00,1293.85 L1204.25,1293.48 L1204.50,1293.08 L1204.75,1292.65 L1205.00,1292.19 L1205.25,1291.69 L1205.50,1291.15 L1205.75,1290.57 L1206.00,1289.93 L1206.25,1289.24 L1206.50,1288.49 L1206.75,1287.67 L1207.00,1286.78 L1207.25,1285.80 L1207.50,1284.72 L1207.75,1283.54 L1208.00,1282.23 L1208.25,1280.79 L1208.50,1279.19 L1208.75,1277.41 L1209.00,1275.43 L1209.25,1273.22 L1209.50,1270.74 L1209.75,1267.96 L1210.00,1264.82 L1210.25,1261.27 L1210.50,1257.25 L1210.75,1252.69 L1211.00,1247.51 L1211.25,1241.62 L1211.50,1234.93 L1211.75,1227.35 L1212.00,1218.79 L1212.25,1209.21 L1212.50,1198.63 L1212.75,1187.15 L1213.00,1175.04 L1213.25,1162.77 L1213.50,1151.05 L1213.75,1140.79 L1214.00,1133.01 L1214.25,1128.63 L1214.40,1127.90 L1214.50,1127.90 L1214.75,1127.90 L1215.00,1127.90 L1215.25,1127.90 L1215.50,1127.90 L1215.60,1127.90 L1215.75,1128.64 L1216.00,1133.02 L1216.25,1140.80 L1216.50,1151.06 L1216.75,1162.78 L1217.00,1175.05 L1217.25,1187.16 L1217.50,1198.64 L1217.75,1209.23 L1218.00,1218.81 L1218.25,1227.37 L1218.50,1234.96 L1218.75,1241.65 L1219.00,1247.54 L1219.25,1252.72 L1219.50,1257.28 L1219.75,1261.30 L1220.00,1264.85 L1220.25,1268.00 L1220.50,1270.78 L1220.75,1273.27 L1221.00,1275.48 L1221.25,1277.46 L1221.50,1279.24 L1221.75,1280.84 L1222.00,1282.29 L1222.25,1283.60 L1222.50,1284.78 L1222.75,1285.86 L1223.00,1286.84 L1223.25,1287.74 L1223.50,1288.56 L1223.75,1289.31 L1224.00,1290.01 L1224.25,1290.64 L1224.50,1291.23 L1224.75,1291.77 L1225.00,1292.28 L1225.25,1292.74 L1225.50,1293.17 L1225.75,1293.57 L1226.00,1293.95 L1226.25,1294.29 L1226.50,1294.62 L1226.75,1294.92 L1227.00,1295.20 L1227.25,1295.46 L1227.75,1295.94 L1228.25,1296.36 L1228.75,1296.72 L1229.25,1297.04 L1229.75,1297.33 L1230.50,1297.69 L1231.25,1297.98 L1232.25,1298.29 L1233.50,1298.55 L1235.75,1298.74 L1238.00,1298.61 L1239.50,1298.32 L1240.50,1298.02 L1241.25,1297.73 L1242.00,1297.37 L1242.50,1297.08 L1243.00,1296.76 L1243.50,1296.38 L1244.00,1295.96 L1244.50,1295.47 L1244.75,1295.20 L1245.00,1294.91 L1245.25,1294.60 L1245.50,1294.26 L1245.75,1293.90 L1246.00,1293.51 L1246.25,1293.10 L1246.50,1292.64 L1246.75,1292.15 L1247.00,1291.62 L1247.25,1291.05 L1247.50,1290.43 L1247.75,1289.75 L1248.00,1289.01 L1248.25,1288.20 L1248.50,1287.31 L1248.75,1286.34 L1249.00,1285.27 L1249.25,1284.09 L1249.50,1282.79 L1249.75,1281.35 L1250.00,1279.75 L1250.25,1277.96 L1250.50,1275.97 L1250.75,1273.74 L1251.00,1271.23 L1251.25,1268.41 L1251.50,1265.22 L1251.75,1261.61 L1252.00,1257.52 L1252.25,1252.87 L1252.50,1247.58 L1252.75,1241.57 L1253.00,1234.76 L1253.25,1227.06 L1253.50,1218.43 L1253.75,1208.86 L1254.00,1198.44 L1254.25,1187.37 L1254.50,1176.06 L1254.75,1165.10 L1255.00,1155.31 L1255.25,1147.62 L1255.50,1142.90 L1255.70,1141.70 L1255.75,1141.70 L1256.00,1141.70 L1256.25,1141.70 L1256.30,1141.70 L1256.50,1141.70 L1256.75,1141.70 L1256.90,1141.70 L1257.00,1142.01 L1257.25,1145.34 L1257.50,1151.94 L1257.75,1161.01 L1258.00,1171.61 L1258.25,1182.87 L1258.50,1194.09 L1258.75,1204.81 L1259.00,1214.74 L1259.25,1223.75 L1259.50,1231.82 L1259.75,1238.98 L1260.00,1245.31 L1260.25,1250.88 L1260.50,1255.77 L1260.75,1260.08 L1261.00,1263.88 L1261.25,1267.23 L1261.50,1270.20 L1261.75,1272.83 L1262.00,1275.17 L1262.25,1277.25 L1262.50,1279.12 L1262.75,1280.79 L1263.00,1282.30 L1263.25,1283.66 L1263.50,1284.89 L1263.75,1286.00 L1264.00,1287.02 L1264.25,1287.94 L1264.50,1288.78 L1264.75,1289.55 L1265.00,1290.26 L1265.25,1290.91 L1265.50,1291.50 L1265.75,1292.05 L1266.00,1292.56 L1266.25,1293.03 L1266.50,1293.47 L1266.75,1293.87 L1267.00,1294.25 L1267.25,1294.60 L1267.50,1294.92 L1267.75,1295.23 L1268.00,1295.51 L1268.25,1295.77 L1268.75,1296.25 L1269.25,1296.67 L1269.75,1297.04 L1270.25,1297.36 L1270.75,1297.64 L1271.25,1297.89 L1272.00,1298.22 L1272.75,1298.48 L1273.75,1298.75 L1275.25,1299.03 L1277.50,1299.20 L1279.75,1299.09 L1281.50,1298.81 L1282.50,1298.56 L1283.50,1298.22 L1284.25,1297.91 L1285.00,1297.53 L1285.50,1297.23 L1286.00,1296.89 L1286.50,1296.51 L1287.00,1296.08 L1287.50,1295.58 L1287.75,1295.31 L1288.00,1295.01 L1288.25,1294.70 L1288.50,1294.36 L1288.75,1294.00 L1289.00,1293.61 L1289.25,1293.20 L1289.50,1292.75 L1289.75,1292.26 L1290.00,1291.74 L1290.25,1291.17 L1290.50,1290.55 L1290.75,1289.88 L1291.00,1289.16 L1291.25,1288.36 L1291.50,1287.50 L1291.75,1286.55 L1292.00,1285.51 L1292.25,1284.36 L1292.50,1283.10 L1292.75,1281.71 L1293.00,1280.16 L1293.25,1278.44 L1293.50,1276.53 L1293.75,1274.40 L1294.00,1272.00 L1294.25,1269.31 L1294.50,1266.28 L1294.75,1262.86 L1295.00,1258.98 L1295.25,1254.58 L1295.50,1249.58 L1295.75,1243.90 L1296.00,1237.45 L1296.25,1230.13 L1296.50,1221.87 L1296.75,1212.64 L1297.00,1202.43 L1297.25,1191.35 L1297.50,1179.67 L1297.75,1167.84 L1298.00,1156.54 L1298.25,1146.64 L1298.50,1139.14 L1298.75,1134.91 L1298.90,1134.20 L1299.00,1134.20 L1299.25,1134.20 L1299.50,1134.20 L1299.75,1134.20 L1300.00,1134.20 L1300.10,1134.20 L1300.25,1134.91 L1300.50,1139.13 L1300.75,1146.63 L1301.00,1156.53 L1301.25,1167.83 L1301.50,1179.66 L1301.75,1191.34 L1302.00,1202.41 L1302.25,1212.61 L1302.50,1221.85 L1302.75,1230.10 L1303.00,1237.42 L1303.25,1243.87 L1303.50,1249.55 L1303.75,1254.55 L1304.00,1258.94 L1304.25,1262.82 L1304.50,1266.24 L1304.75,1269.27 L1305.00,1271.96 L1305.25,1274.35 L1305.50,1276.48 L1305.75,1278.39 L1306.00,1280.11 L1306.25,1281.65 L1306.50,1283.04 L1306.75,1284.30 L1307.00,1285.45 L1307.25,1286.48 L1307.50,1287.43 L1307.75,1288.29 L1308.00,1289.08 L1308.25,1289.81 L1308.50,1290.48 L1308.75,1291.09 L1309.00,1291.65 L1309.25,1292.18 L1309.50,1292.66 L1309.75,1293.10 L1310.00,1293.52 L1310.25,1293.90 L1310.50,1294.26 L1310.75,1294.60 L1311.00,1294.91 L1311.25,1295.20 L1311.50,1295.47 L1311.75,1295.72 L1312.25,1296.17 L1312.75,1296.57 L1313.25,1296.93 L1313.75,1297.23 L1314.25,1297.50 L1315.00,1297.85 L1315.75,1298.12 L1316.75,1298.41 L1318.25,1298.69 L1320.50,1298.83 L1322.75,1298.65 L1324.00,1298.40 L1325.00,1298.11 L1325.75,1297.82 L1326.50,1297.48 L1327.00,1297.20 L1327.50,1296.89 L1328.00,1296.54 L1328.50,1296.14 L1329.00,1295.68 L1329.25,1295.42 L1329.50,1295.15 L1329.75,1294.86 L1330.00,1294.54 L1330.25,1294.21 L1330.50,1293.84 L1330.75,1293.46 L1331.00,1293.04 L1331.25,1292.59 L1331.50,1292.10 L1331.75,1291.57 L1332.00,1291.00 L1332.25,1290.38 L1332.50,1289.71 L1332.75,1288.97 L1333.00,1288.18 L1333.25,1287.30 L1333.50,1286.34 L1333.75,1285.29 L1334.00,1284.14 L1334.25,1282.86 L1334.50,1281.45 L1334.75,1279.89 L1335.00,1278.15 L1335.25,1276.21 L1335.50,1274.04 L1335.75,1271.61 L1336.00,1268.88 L1336.25,1265.80 L1336.50,1262.32 L1336.75,1258.37 L1337.00,1253.90 L1337.25,1248.81 L1337.50,1243.03 L1337.75,1236.46 L1338.00,1229.02 L1338.25,1220.63 L1338.50,1211.27 L1338.75,1200.96 L1339.00,1189.83 L1339.25,1178.17 L1339.50,1166.47 L1339.75,1155.46 L1340.00,1146.04 L1340.25,1139.18 L1340.50,1135.72 L1340.60,1135.40 L1340.75,1135.40 L1341.00,1135.40 L1341.20,1135.40 L1341.25,1135.40 L1341.50,1135.40 L1341.75,1135.40 L1341.80,1135.40 L1342.00,1136.65 L1342.25,1141.54 L1342.50,1149.54 L1342.75,1159.71 L1343.00,1171.09 L1343.25,1182.84 L1343.50,1194.34 L1343.75,1205.16 L1344.00,1215.10 L1344.25,1224.07 L1344.50,1232.07 L1344.75,1239.15 L1345.00,1245.39 L1345.25,1250.88 L1345.50,1255.71 L1345.75,1259.96 L1346.00,1263.71 L1346.25,1267.02 L1346.50,1269.95 L1346.75,1272.55 L1347.00,1274.87 L1347.25,1276.94 L1347.50,1278.79 L1347.75,1280.45 L1348.00,1281.95 L1348.25,1283.30 L1348.50,1284.52 L1348.75,1285.63 L1349.00,1286.64 L1349.25,1287.56 L1349.50,1288.40 L1349.75,1289.17 L1350.00,1289.87 L1350.25,1290.52 L1350.50,1291.12 L1350.75,1291.66 L1351.00,1292.17 L1351.25,1292.64 L1351.50,1293.07 L1351.75,1293.47 L1352.00,1293.85 L1352.25,1294.19 L1352.50,1294.51 L1352.75,1294.81 L1353.00,1295.09 L1353.25,1295.35 L1353.75,1295.82 L1354.25,1296.23 L1354.75,1296.59 L1355.25,1296.90 L1355.75,1297.17 L1356.50,1297.50 L1357.25,1297.77 L1358.25,1298.04 L1360.00,1298.30 L1362.25,1298.28 L1364.00,1298.00 L1365.00,1297.72 L1365.75,1297.45 L1366.50,1297.10 L1367.00,1296.83 L1367.50,1296.51 L1368.00,1296.15 L1368.50,1295.75 L1369.00,1295.28 L1369.25,1295.02 L1369.50,1294.74 L1369.75,1294.44 L1370.00,1294.13 L1370.25,1293.78 L1370.50,1293.42 L1370.75,1293.02 L1371.00,1292.60 L1371.25,1292.14 L1371.50,1291.64 L1371.75,1291.11 L1372.00,1290.53 L1372.25,1289.91 L1372.50,1289.23 L1372.75,1288.49 L1373.00,1287.68 L1373.25,1286.80 L1373.50,1285.84 L1373.75,1284.79 L1374.00,1283.63 L1374.25,1282.36 L1374.50,1280.95 L1374.75,1279.39 L1375.00,1277.66 L1375.25,1275.74 L1375.50,1273.60 L1375.75,1271.20 L1376.00,1268.51 L1376.25,1265.49 L1376.50,1262.07 L1376.75,1258.21 L1377.00,1253.84 L1377.25,1248.87 L1377.50,1243.22 L1377.75,1236.80 L1378.00,1229.51 L1378.25,1221.26 L1378.50,1211.98 L1378.75,1201.64 L1379.00,1190.29 L1379.25,1178.10 L1379.50,1165.42 L1379.75,1152.84 L1380.00,1141.19 L1380.25,1131.47 L1380.50,1124.72 L1380.75,1121.78 L1380.80,1121.70 L1381.00,1121.70 L1381.25,1121.70 L1381.40,1121.70 L1381.50,1121.70 L1381.75,1121.70 L1382.00,1121.70 L1382.25,1123.81 L1382.50,1129.85 L1382.75,1139.06 L1383.00,1150.41 L1383.25,1162.88 L1383.50,1175.59 L1383.75,1187.91 L1384.00,1199.45 L1384.25,1210.00 L1384.50,1219.50 L1384.75,1227.95 L1385.00,1235.42 L1385.25,1242.01 L1385.50,1247.80 L1385.75,1252.90 L1386.00,1257.39 L1386.25,1261.34 L1386.50,1264.84 L1386.75,1267.94 L1387.00,1270.70 L1387.25,1273.15 L1387.50,1275.34 L1387.75,1277.31 L1388.00,1279.07 L1388.25,1280.66 L1388.50,1282.10 L1388.75,1283.40 L1389.00,1284.58 L1389.25,1285.65 L1389.50,1286.63 L1389.75,1287.53 L1390.00,1288.35 L1390.25,1289.10 L1390.50,1289.79 L1390.75,1290.43 L1391.00,1291.01 L1391.25,1291.56 L1391.50,1292.06 L1391.75,1292.52 L1392.00,1292.96 L1392.25,1293.36 L1392.50,1293.73 L1392.75,1294.08 L1393.00,1294.40 L1393.25,1294.70 L1393.50,1294.98 L1393.75,1295.25 L1394.25,1295.72 L1394.75,1296.14 L1395.25,1296.50 L1395.75,1296.82 L1396.25,1297.10 L1397.00,1297.45 L1397.75,1297.74 L1398.75,1298.03 L1400.25,1298.29 L1402.50,1298.37 L1404.50,1298.11 L1405.50,1297.86 L1406.25,1297.60 L1407.00,1297.27 L1407.50,1297.01 L1408.00,1296.71 L1408.50,1296.36 L1409.00,1295.97 L1409.50,1295.51 L1409.75,1295.26 L1410.00,1294.99 L1410.25,1294.70 L1410.50,1294.39 L1410.75,1294.05 L1411.00,1293.69 L1411.25,1293.30 L1411.50,1292.88 L1411.75,1292.43 L1412.00,1291.94 L1412.25,1291.41 L1412.50,1290.83 L1412.75,1290.20 L1413.00,1289.52 L1413.25,1288.78 L1413.50,1287.97 L1413.75,1287.08 L1414.00,1286.10 L1414.25,1285.03 L1414.50,1283.85 L1414.75,1282.55 L1415.00,1281.10 L1415.25,1279.50 L1415.50,1277.71 L1415.75,1275.72 L1416.00,1273.49 L1416.25,1270.99 L1416.50,1268.17 L1416.75,1264.98 L1417.00,1261.38 L1417.25,1257.30 L1417.50,1252.66 L1417.75,1247.39 L1418.00,1241.40 L1418.25,1234.60 L1418.50,1226.90 L1418.75,1218.26 L1419.00,1208.66 L1419.25,1198.16 L1419.50,1186.94 L1419.75,1175.37 L1420.00,1164.02 L1420.25,1153.69 L1420.50,1145.31 L1420.75,1139.81 L1421.00,1137.90 L1421.25,1137.90 L1421.50,1137.90 L1421.60,1137.90 L1421.75,1137.90 L1422.00,1137.90 L1422.20,1137.90 L1422.25,1137.98 L1422.50,1140.65 L1422.75,1146.80 L1423.00,1155.65 L1423.25,1166.26 L1423.50,1177.71 L1423.75,1189.25 L1424.00,1200.36 L1424.25,1210.69 L1424.50,1220.11 L1424.75,1228.56 L1425.00,1236.07 L1425.25,1242.71 L1425.50,1248.55 L1425.75,1253.70 L1426.00,1258.22 L1426.25,1262.21 L1426.50,1265.72 L1426.75,1268.83 L1427.00,1271.59 L1427.25,1274.04 L1427.50,1276.22 L1427.75,1278.18 L1428.00,1279.93 L1428.25,1281.50 L1428.50,1282.92 L1428.75,1284.20 L1429.00,1285.37 L1429.25,1286.42 L1429.50,1287.38 L1429.75,1288.26 L1430.00,1289.06 L1430.25,1289.80 L1430.50,1290.47 L1430.75,1291.09 L1431.00,1291.66 L1431.25,1292.19 L1431.50,1292.68 L1431.75,1293.13 L1432.00,1293.55 L1432.25,1293.94 L1432.50,1294.30 L1432.75,1294.64 L1433.00,1294.95 L1433.25,1295.25 L1433.50,1295.52 L1433.75,1295.77 L1434.25,1296.23 L1434.75,1296.64 L1435.25,1296.99 L1435.75,1297.30 L1436.25,1297.58 L1437.00,1297.93 L1437.75,1298.21 L1438.75,1298.51 L1440.00,1298.76 L1442.25,1298.96 L1444.50,1298.85 L1446.00,1298.59 L1447.00,1298.33 L1447.75,1298.07 L1448.50,1297.75 L1449.25,1297.37 L1449.75,1297.06 L1450.25,1296.72 L1450.75,1296.32 L1451.25,1295.87 L1451.75,1295.36 L1452.00,1295.07 L1452.25,1294.76 L1452.50,1294.44 L1452.75,1294.08 L1453.00,1293.70 L1453.25,1293.29 L1453.50,1292.85 L1453.75,1292.38 L1454.00,1291.86 L1454.25,1291.31 L1454.50,1290.70 L1454.75,1290.05 L1455.00,1289.33 L1455.25,1288.55 L1455.50,1287.70 L1455.75,1286.77 L1456.00,1285.74 L1456.25,1284.62 L1456.50,1283.38 L1456.75,1282.01 L1457.00,1280.48 L1457.25,1278.80 L1457.50,1276.91 L1457.75,1274.81 L1458.00,1272.45 L1458.25,1269.80 L1458.50,1266.82 L1458.75,1263.45 L1459.00,1259.63 L1459.25,1255.30 L1459.50,1250.37 L1459.75,1244.78 L1460.00,1238.42 L1460.25,1231.21 L1460.50,1223.08 L1460.75,1213.97 L1461.00,1203.91 L1461.25,1193.00 L1461.50,1181.50 L1461.75,1169.84 L1462.00,1158.70 L1462.25,1148.95 L1462.50,1141.56 L1462.75,1137.40 L1462.90,1136.70 L1463.00,1136.70 L1463.25,1136.70 L1463.50,1136.70 L1463.75,1136.70 L1464.00,1136.70 L1464.10,1136.70 L1464.25,1137.40 L1464.50,1141.57 L1464.75,1148.96 L1465.00,1158.71 L1465.25,1169.85 L1465.50,1181.51 L1465.75,1193.02 L1466.00,1203.93 L1466.25,1213.99 L1466.50,1223.09 L1466.75,1231.23 L1467.00,1238.44 L1467.25,1244.80 L1467.50,1250.40 L1467.75,1255.32 L1468.00,1259.65 L1468.25,1263.47 L1468.50,1266.85 L1468.75,1269.83 L1469.00,1272.49 L1469.25,1274.84 L1469.50,1276.95 L1469.75,1278.83 L1470.00,1280.52 L1470.25,1282.05 L1470.50,1283.42 L1470.75,1284.66 L1471.00,1285.79 L1471.25,1286.82 L1471.50,1287.75 L1471.75,1288.60 L1472.00,1289.39 L1472.25,1290.10 L1472.50,1290.76 L1472.75,1291.37 L1473.00,1291.93 L1473.25,1292.44 L1473.50,1292.92 L1473.75,1293.36 L1474.00,1293.77 L1474.25,1294.16 L1474.50,1294.51 L1474.75,1294.84 L1475.00,1295.15 L1475.25,1295.44 L1475.50,1295.71 L1475.75,1295.96 L1476.25,1296.42 L1476.75,1296.82 L1477.25,1297.17 L1477.75,1297.48 L1478.25,1297.75 L1479.00,1298.10 L1479.75,1298.39 L1480.75,1298.69 L1482.00,1298.96 L1484.25,1299.20 L1486.50,1299.16 L1488.50,1298.88 L1489.75,1298.57 L1490.75,1298.23 L1491.50,1297.90 L1492.00,1297.65 L1492.50,1297.36 L1493.00,1297.03 L1493.50,1296.66 L1494.00,1296.24 L1494.50,1295.76 L1494.75,1295.49 L1495.00,1295.20 L1495.25,1294.90 L1495.50,1294.57 L1495.75,1294.22 L1496.00,1293.84 L1496.25,1293.43 L1496.50,1292.99 L1496.75,1292.52 L1497.00,1292.00 L1497.25,1291.45 L1497.50,1290.85 L1497.75,1290.20 L1498.00,1289.48 L1498.25,1288.71 L1498.50,1287.86 L1498.75,1286.93 L1499.00,1285.92 L1499.25,1284.80 L1499.50,1283.56 L1499.75,1282.20 L1500.00,1280.69 L1500.25,1279.01 L1500.50,1277.14 L1500.75,1275.05 L1501.00,1272.71 L1501.25,1270.08 L1501.50,1267.11 L1501.75,1263.76 L1502.00,1259.97 L1502.25,1255.67 L1502.50,1250.78 L1502.75,1245.22 L1503.00,1238.91 L1503.25,1231.75 L1503.50,1223.67 L1503.75,1214.63 L1504.00,1204.64 L1504.25,1193.81 L1504.50,1182.39 L1504.75,1170.81 L1505.00,1159.75 L1505.25,1150.07 L1505.50,1142.73 L1505.75,1138.60 L1505.90,1137.90 L1506.00,1137.90 L1506.25,1137.90 L1506.50,1137.90 L1506.75,1137.90 L1507.00,1137.90 L1507.10,1137.90 L1507.25,1138.59 L1507.50,1142.73 L1507.75,1150.07 L1508.00,1159.75 L1508.25,1170.80 L1508.50,1182.38 L1508.75,1193.80 L1509.00,1204.63 L1509.25,1214.62 L1509.50,1223.66 L1509.75,1231.74 L1510.00,1238.89 L1510.25,1245.21 L1510.50,1250.76 L1510.75,1255.65 L1511.00,1259.95 L1511.25,1263.74 L1511.50,1267.09 L1511.75,1270.06 L1512.00,1272.69 L1512.25,1275.03 L1512.50,1277.11 L1512.75,1278.98 L1513.00,1280.66 L1513.25,1282.17 L1513.50,1283.53 L1513.75,1284.77 L1514.00,1285.88 L1514.25,1286.90 L1514.50,1287.83 L1514.75,1288.67 L1515.00,1289.45 L1515.25,1290.16 L1515.50,1290.81 L1515.75,1291.41 L1516.00,1291.96 L1516.25,1292.47 L1516.50,1292.94 L1516.75,1293.38 L1517.00,1293.79 L1517.25,1294.16 L1517.50,1294.52 L1517.75,1294.84 L1518.00,1295.15 L1518.25,1295.43 L1518.50,1295.69 L1519.00,1296.17 L1519.50,1296.59 L1520.00,1296.96 L1520.50,1297.28 L1521.00,1297.56 L1521.75,1297.92 L1522.50,1298.22 L1523.50,1298.53 L1524.75,1298.79 L1527.00,1299.01 L1529.25,1298.93 L1531.00,1298.65 L1532.00,1298.39 L1532.75,1298.13 L1533.50,1297.82 L1534.25,1297.45 L1534.75,1297.16 L1535.25,1296.83 L1535.75,1296.45 L1536.25,1296.02 L1536.75,1295.53 L1537.00,1295.27 L1537.25,1294.98 L1537.50,1294.67 L1537.75,1294.34 L1538.00,1293.99 L1538.25,1293.61 L1538.50,1293.20 L1538.75,1292.76 L1539.00,1292.29 L1539.25,1291.77 L1539.50,1291.22 L1539.75,1290.62 L1540.00,1289.98 L1540.25,1289.27 L1540.50,1288.51 L1540.75,1287.67 L1541.00,1286.76 L1541.25,1285.76 L1541.50,1284.67 L1541.75,1283.46 L1542.00,1282.13 L1542.25,1280.67 L1542.50,1279.04 L1542.75,1277.23 L1543.00,1275.22 L1543.25,1272.97 L1543.50,1270.45 L1543.75,1267.62 L1544.00,1264.43 L1544.25,1260.82 L1544.50,1256.74 L1544.75,1252.11 L1545.00,1246.85 L1545.25,1240.87 L1545.50,1234.08 L1545.75,1226.38 L1546.00,1217.69 L1546.25,1207.96 L1546.50,1197.22 L1546.75,1185.56 L1547.00,1173.27 L1547.25,1160.81 L1547.50,1148.91 L1547.75,1138.50 L1548.00,1130.60 L1548.25,1126.15 L1548.40,1125.40 L1548.50,1125.40 L1548.75,1125.40 L1549.00,1125.40 L1549.25,1125.40 L1549.50,1125.40 L1549.60,1125.40 L1549.75,1126.14 L1550.00,1130.59 L1550.25,1138.48 L1550.50,1148.89 L1550.75,1160.79 L1551.00,1173.24 L1551.25,1185.53 L1551.50,1197.18 L1551.75,1207.93 L1552.00,1217.65 L1552.25,1226.33 L1552.50,1234.03 L1552.75,1240.82 L1553.00,1246.80 L1553.25,1252.06 L1553.50,1256.68 L1553.75,1260.76 L1554.00,1264.36 L1554.25,1267.55 L1554.50,1270.37 L1554.75,1272.89 L1555.00,1275.13 L1555.25,1277.14 L1555.50,1278.95 L1555.75,1280.57 L1556.00,1282.03 L1556.25,1283.35 L1556.50,1284.55 L1556.75,1285.65 L1557.00,1286.64 L1557.25,1287.55 L1557.50,1288.38 L1557.75,1289.14 L1558.00,1289.83 L1558.25,1290.48 L1558.50,1291.07 L1558.75,1291.62 L1559.00,1292.12 L1559.25,1292.59 L1559.50,1293.02 L1559.75,1293.42 L1560.00,1293.80 L1560.25,1294.14 L1560.50,1294.47 L1560.75,1294.77 L1561.00,1295.05 L1561.25,1295.31 L1561.75,1295.78 L1562.25,1296.19 L1562.75,1296.55 L1563.25,1296.86 L1563.75,1297.13 L1564.50,1297.47 L1565.25,1297.74 L1566.25,1298.01 L1568.25,1298.27 L1570.50,1298.16 L1572.00,1297.85 L1573.00,1297.52 L1573.75,1297.19 L1574.25,1296.93 L1574.75,1296.62 L1575.25,1296.27 L1575.75,1295.87 L1576.25,1295.41 L1576.50,1295.15 L1576.75,1294.88 L1577.00,1294.58 L1577.25,1294.26 L1577.50,1293.92 L1577.75,1293.56 L1578.00,1293.16 L1578.25,1292.73 L1578.50,1292.28 L1578.75,1291.78 L1579.00,1291.24 L1579.25,1290.66 L1579.50,1290.03 L1579.75,1289.34 L1580.00,1288.59 L1580.25,1287.77 L1580.50,1286.88 L1580.75,1285.90 L1581.00,1284.82 L1581.25,1283.64 L1581.50,1282.34 L1581.75,1280.90 L1582.00,1279.30 L1582.25,1277.52 L1582.50,1275.54 L1582.75,1273.33 L1583.00,1270.85 L1583.25,1268.06 L1583.50,1264.92 L1583.75,1261.37 L1584.00,1257.35 L1584.25,1252.79 L1584.50,1247.61 L1584.75,1241.71 L1585.00,1235.02 L1585.25,1227.43 L1585.50,1218.86 L1585.75,1209.28 L1586.00,1198.68 L1586.25,1187.19 L1586.50,1175.07 L1586.75,1162.80 L1587.00,1151.07 L1587.25,1140.80 L1587.50,1133.02 L1587.75,1128.63 L1587.90,1127.89 L1588.00,1127.90 L1588.25,1127.90 L1588.50,1127.90 L1588.75,1127.90 L1589.00,1127.90 L1589.10,1127.90 L1589.25,1128.64 L1589.50,1133.03 L1589.75,1140.82 L1590.00,1151.09 L1590.25,1162.82 L1590.50,1175.11 L1590.75,1187.23 L1591.00,1198.72 L1591.25,1209.32 L1591.50,1218.91 L1591.75,1227.48 L1592.00,1235.07 L1592.25,1241.77 L1592.50,1247.67 L1592.75,1252.86 L1593.00,1257.43 L1593.25,1261.45 L1593.50,1265.00 L1593.75,1268.15 L1594.00,1270.94 L1594.25,1273.42 L1594.50,1275.64 L1594.75,1277.63 L1595.00,1279.41 L1595.25,1281.01 L1595.50,1282.46 L1595.75,1283.77 L1596.00,1284.95 L1596.25,1286.03 L1596.50,1287.02 L1596.75,1287.92 L1597.00,1288.74 L1597.25,1289.49 L1597.50,1290.18 L1597.75,1290.82 L1598.00,1291.41 L1598.25,1291.95 L1598.50,1292.45 L1598.75,1292.92 L1599.00,1293.35 L1599.25,1293.75 L1599.50,1294.12 L1599.75,1294.47 L1600.00,1294.79 L1600.25,1295.10 L1600.50,1295.38 L1600.75,1295.64 L1601.25,1296.11 L1601.75,1296.53 L1602.25,1296.89 L1602.75,1297.21 L1603.25,1297.49 L1604.00,1297.85 L1604.75,1298.13 L1605.75,1298.43 L1607.25,1298.70 L1609.50,1298.81 L1611.75,1298.54 L1612.75,1298.29 L1613.50,1298.03 L1614.25,1297.72 L1614.75,1297.46 L1615.25,1297.17 L1615.75,1296.84 L1616.25,1296.45 L1616.75,1296.01 L1617.25,1295.51 L1617.50,1295.23 L1617.75,1294.93 L1618.00,1294.61 L1618.25,1294.26 L1618.50,1293.89 L1618.75,1293.49 L1619.00,1293.06 L1619.25,1292.59 L1619.50,1292.08 L1619.75,1291.54 L1620.00,1290.94 L1620.25,1290.30 L1620.50,1289.60 L1620.75,1288.84 L1621.00,1288.01 L1621.25,1287.10 L1621.50,1286.10 L1621.75,1285.00 L1622.00,1283.80 L1622.25,1282.46 L1622.50,1280.99 L1622.75,1279.35 L1623.00,1277.54 L1623.25,1275.51 L1623.50,1273.24 L1623.75,1270.70 L1624.00,1267.84 L1624.25,1264.61 L1624.50,1260.96 L1624.75,1256.83 L1625.00,1252.14 L1625.25,1246.81 L1625.50,1240.75 L1625.75,1233.86 L1626.00,1226.06 L1626.25,1217.27 L1626.50,1207.45 L1626.75,1196.63 L1627.00,1184.95 L1627.25,1172.72 L1627.50,1160.45" stroke="rgb(16,12,218)" stroke-dasharray="20 4.5 8 4.5"/>
</g>
<g style="font-family:'Liberation Serif',serif" fill="#222" stroke="#fff" stroke-width="0.5">
<text x="202.5" y="139.3" font-size="52" text-anchor="end">60</text>
<text x="202.5" y="181.3" font-size="52" text-anchor="end">40</text>
<text x="202.5" y="223.3" font-size="52" text-anchor="end">20</text>
<text x="202.5" y="265.3" font-size="52" text-anchor="end">0</text>
<text x="202.5" y="307.3" font-size="52" text-anchor="end">20</text>
<text x="113.9" y="316.4" font-size="64" fill="#333">−</text>
<text x="202.5" y="349.3" font-size="52" text-anchor="end">40</text>
<text x="113.9" y="358.4" font-size="64" fill="#333">−</text>
<text x="202.5" y="391.3" font-size="52" text-anchor="end">60</text>
<text x="113.9" y="400.4" font-size="64" fill="#333">−</text>
<text x="202.5" y="433.3" font-size="52" text-anchor="end">80</text>
<text x="113.9" y="442.4" font-size="64" fill="#333">−</text>
<text x="203.5" y="582.5" font-size="52" text-anchor="end">60</text>
<text x="203.5" y="630.6" font-size="52" text-anchor="end">40</text>
<text x="203.5" y="678.7" font-size="52" text-anchor="end">20</text>
<text x="203.5" y="726.9" font-size="52" text-anchor="end">0</text>
<text x="203.5" y="775.0" font-size="52" text-anchor="end">20</text>
<text x="113.9" y="785.3" font-size="64" fill="#333">−</text>
<text x="203.5" y="823.1" font-size="52" text-anchor="end">40</text>
<text x="113.9" y="833.4" font-size="64" fill="#333">−</text>
<text x="203.5" y="871.2" font-size="52" text-anchor="end">60</text>
<text x="113.9" y="881.5" font-size="64" fill="#333">−</text>
<text x="201.0" y="1031.3" font-size="52" text-anchor="end">300</text>
<text x="201.0" y="1127.5" font-size="52" text-anchor="end">200</text>
<text x="201.0" y="1223.8" font-size="52" text-anchor="end">100</text>
<text x="201.0" y="1320.0" font-size="52" text-anchor="end">0</text>
<text x="219.0" y="479.0" font-size="52" text-anchor="middle">0</text>
<text x="571.1" y="479.0" font-size="52" text-anchor="middle">1</text>
<text x="923.2" y="479.0" font-size="52" text-anchor="middle">2</text>
<text x="1275.4" y="479.0" font-size="52" text-anchor="middle">3</text>
<text x="1627.5" y="479.0" font-size="52" text-anchor="middle">4</text>
<text x="219.0" y="919.0" font-size="52" text-anchor="middle">0</text>
<text x="571.1" y="919.0" font-size="52" text-anchor="middle">1</text>
<text x="923.2" y="919.0" font-size="52" text-anchor="middle">2</text>
<text x="1275.4" y="919.0" font-size="52" text-anchor="middle">3</text>
<text x="1627.5" y="919.0" font-size="52" text-anchor="middle">4</text>
<text x="219.0" y="1366.3" font-size="52" text-anchor="middle">0</text>
<text x="571.1" y="1366.3" font-size="52" text-anchor="middle">1</text>
<text x="923.2" y="1366.3" font-size="52" text-anchor="middle">2</text>
<text x="1275.4" y="1366.3" font-size="52" text-anchor="middle">3</text>
<text x="1627.5" y="1366.3" font-size="52" text-anchor="middle">4</text>
<text x="922" y="106.0" font-size="50" text-anchor="middle">(a)</text>
<text x="922" y="549.4" font-size="50" text-anchor="middle">(b)</text>
<text x="922" y="992.6" font-size="50" text-anchor="middle">(c)</text>
<text transform="translate(85,273) rotate(-90)" font-size="50" font-style="italic" text-anchor="middle">Libration angle (°)</text>
<text transform="translate(85,714) rotate(-90)" font-size="50" font-style="italic" text-anchor="middle">Libration angle (°)</text>
<text transform="translate(85.5,1109.8) rotate(-90)" font-size="50.8" font-style="italic" text-anchor="middle">Tension (N)</text>
<text x="922.5" y="1438" font-size="58" font-style="italic" text-anchor="middle">Time (orbits)</text>
</g>
<g style="font-family:'Liberation Serif',serif" fill="#1a1a1a" stroke="#fff" stroke-width="0.5">
<path d="M982,377.4 H1081" stroke="rgb(218,18,26)" stroke-width="5.8"/>
<path d="M1146,377.4 H1241" stroke="rgb(16,12,218)" stroke-width="5.8" stroke-dasharray="18 19.6"/>
<path d="M1311,377.4 H1408" stroke="#000" stroke-width="5.8" stroke-dasharray="18.5 6 7.5 6"/>
<text x="1088.5" y="385.2" font-size="46" font-style="italic">θ</text>
<text x="1112.5" y="406.8" font-size="36">1</text>
<text x="1254.6" y="385.2" font-size="46" font-style="italic">θ</text>
<text x="1272.0" y="406.8" font-size="36">2</text>
<text x="1421.1" y="385.2" font-size="46" font-style="italic">θ</text>
<text x="1445.2" y="406.8" font-size="36">1</text>
<text x="1474.5" y="385.2" font-size="40">-</text>
<text x="1500.6" y="385.2" font-size="46" font-style="italic">θ</text>
<text x="1522.5" y="406.8" font-size="36">2</text>
<path d="M967,823.3 H1067.4" stroke="rgb(218,18,26)" stroke-width="5.8"/>
<path d="M1143,823.3 H1241" stroke="rgb(16,12,218)" stroke-width="5.8" stroke-dasharray="18 19.6"/>
<path d="M1315.5,823.3 H1416" stroke="#000" stroke-width="5.8" stroke-dasharray="18.5 6 7.5 6"/>
<text x="1077.2" y="828.4" font-size="46" font-style="italic">α</text>
<text x="1109.5" y="849.9" font-size="36">1</text>
<text x="1253.8" y="828.4" font-size="46" font-style="italic">α</text>
<text x="1282.3" y="849.9" font-size="36">2</text>
<text x="1426.6" y="828.4" font-size="46" font-style="italic">α</text>
<text x="1459.9" y="849.9" font-size="36">1</text>
<text x="1489.3" y="828.4" font-size="40">-</text>
<text x="1515.4" y="828.4" font-size="46" font-style="italic">α</text>
<text x="1546.0" y="849.9" font-size="36">2</text>
<path d="M1220.3,1058.1 H1321.5" stroke="rgb(218,18,26)" stroke-width="5.8"/>
<path d="M1390.6,1058.1 H1486" stroke="rgb(16,12,218)" stroke-width="5.8" stroke-dasharray="19.1 5.9 7.1 5.9"/>
<text x="1330.2" y="1064.1" font-size="46" font-style="italic">T</text>
<text x="1358.2" y="1085.5" font-size="36" font-style="italic">1</text>
<text x="1500.5" y="1064.1" font-size="46" font-style="italic">T</text>
<text x="1526.2" y="1085.5" font-size="36" font-style="italic">2</text>
</g>
</svg>
</body></html>
